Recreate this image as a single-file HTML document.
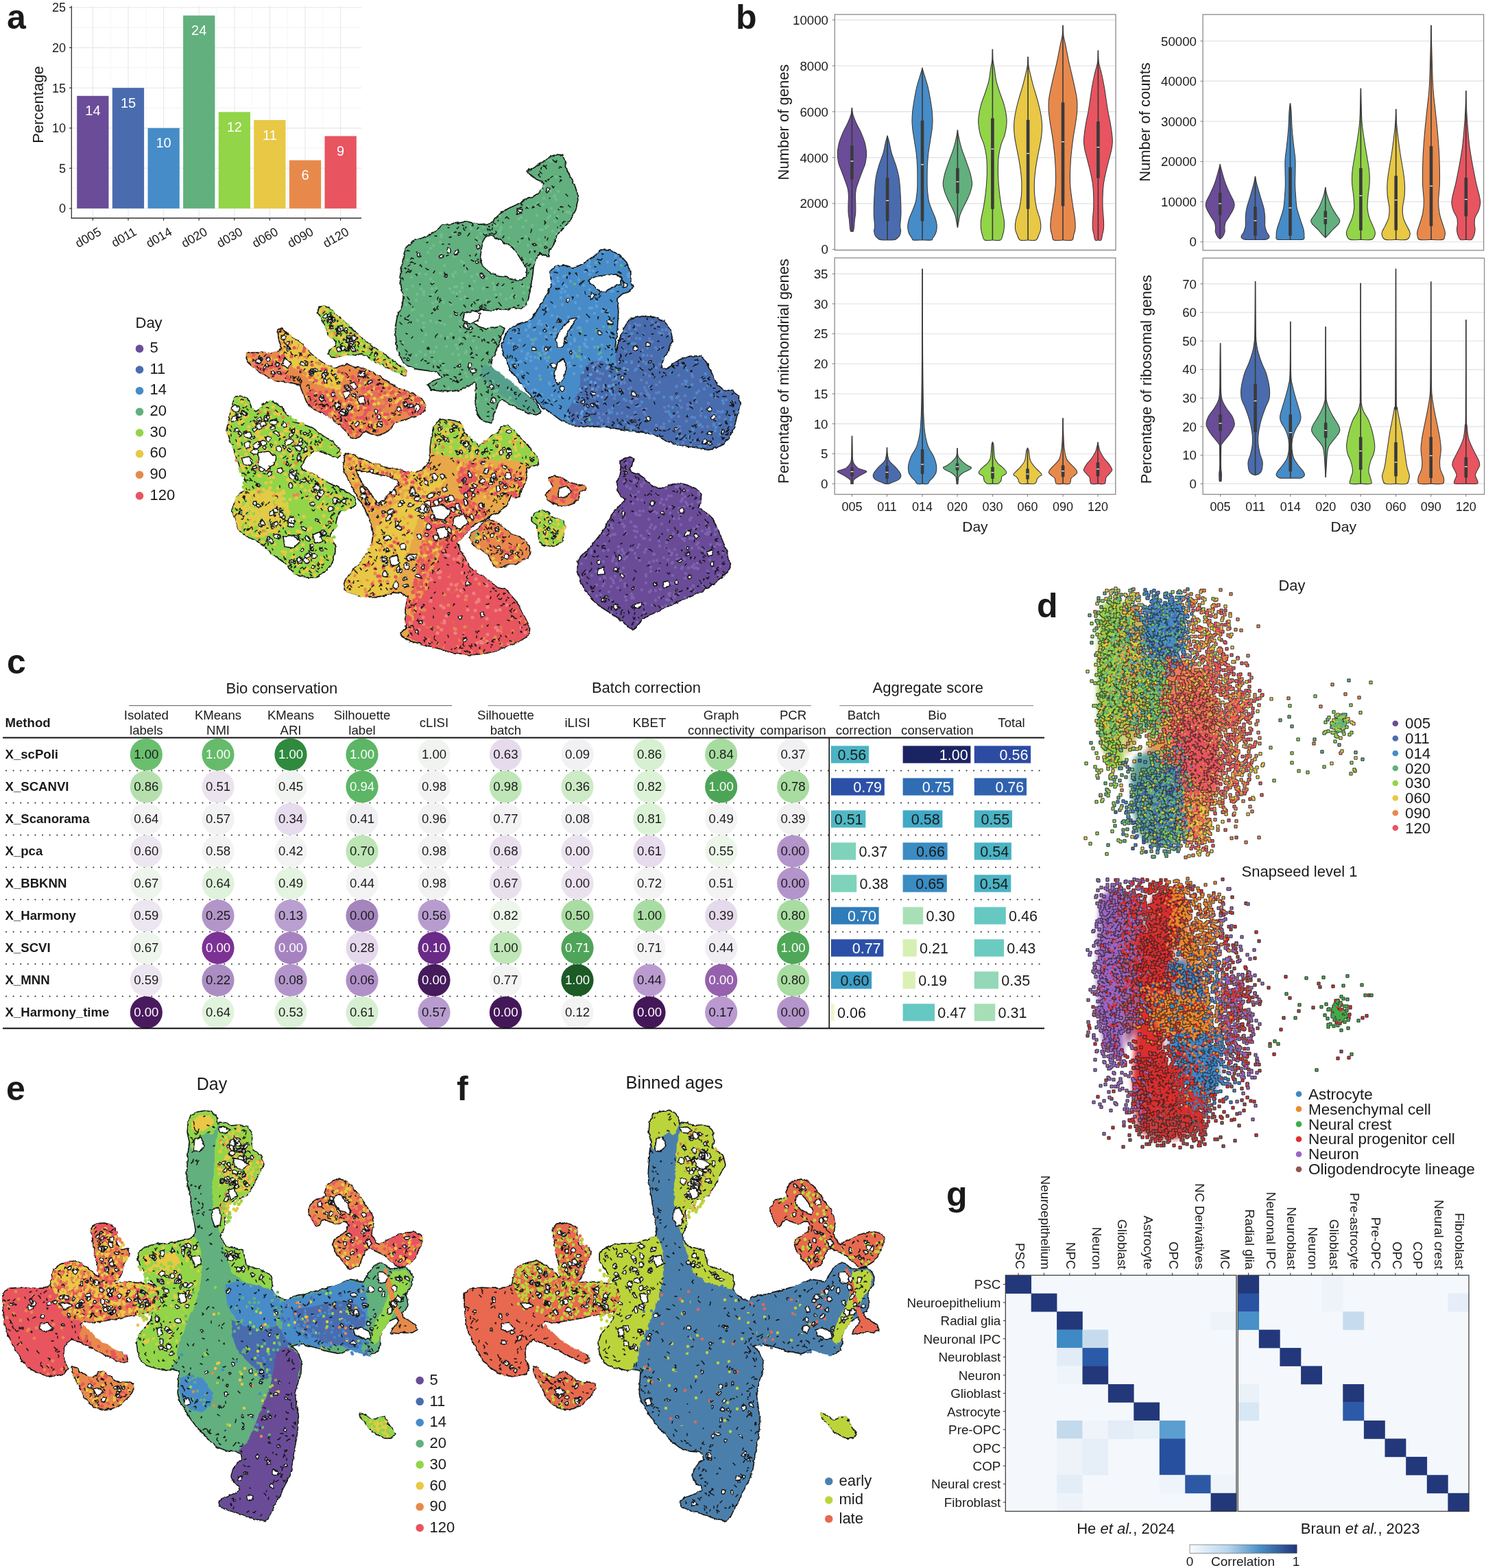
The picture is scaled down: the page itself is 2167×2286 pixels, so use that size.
<!DOCTYPE html>
<html><head><meta charset="utf-8"><title>Figure</title>
<style>html,body{margin:0;padding:0;background:#fff;} svg{display:block;} text{font-family:'Liberation Sans',Arial,sans-serif;}</style>
</head><body>
<svg xmlns="http://www.w3.org/2000/svg" width="2167" height="2286" viewBox="0 0 2167 2286">
<rect width="2167" height="2286" fill="#ffffff"/>
<defs><filter id="rgh" x="-5%" y="-5%" width="110%" height="110%"><feTurbulence type="fractalNoise" baseFrequency="0.15" numOctaves="2" seed="3" result="n"/><feDisplacementMap in="SourceGraphic" in2="n" scale="4" xChannelSelector="R" yChannelSelector="G"/></filter></defs>
<g filter="url(#rgh)">
<path d="M820 227l3 10 3 11 5 10 6 11 4 13 1 10-3 13-4 9-5 8-6 7-7 6-6 9-3 8-3 7-5 6-1 9-4-2-7-5-5 7-4 8-2 9-1 10-2 11-2 13-2 10-4 9-6 6-11-2-10 2-11 0-13 2-11-1-10 1-9 5-4 6 6 6 9 7 11 4 12-1 11-2 5 2-3 8-4 10-4 11-5 11-3 8-1 9 9 8 12 9 13 10 13 9 13 10 8 9 5 9-5 4-12-2-13-7-13-6-13-7-6 5-3 8-4 9-2 12-13-3-7-10-3-15 1-17 0-13-8-8-12 7-11 8-18 5-17-3-4-6 10-6 11-4-8-9-12-2-20-3-14-6-9-12-4-17-2-23 3-17 7-15 2-14-3-14-2-15 3-17 3-17 3-9 10-9 15-5 17-9 11-9 15-2 20-3 17 4 17-1 7-7 8-8 11-7 13-6 12-7 11-4 9-6 6-7 2-8-6-4-5-2-6-5-6-4-1-3 7-3 9-5 8-6 9-6 8-3zM877 365l13 1 13 6 10 11 6 14 0 14 3 7-4 6-11 4-8 7 2 20-2 32-3 21 7 17 17 11-39 56-25 25-18 3-7-3-13-5-13-10-15-10-10-11-9-9-9-11-8-11-9-10-4-13-5-8-4-15 4-11 5-11 8-6 13-4 9-3 8-8 7-11 6-10 8-13 5-15-2-17 10-7 13 0 9 3 10-3 11-6 11-8zM914 473l7-8 16-3 17 1 14 6 9 11 3 16-6 15-7 12-4 13 9 3 10-8 10-6 15-5 15 0 8 8 8 18 7 15 10 8 13 2 8 7 3 9-5 20-4 15-7 15-8 10-10 5-12 2-16-2-15-2-15-3-15-5-15-8-15-4-21-3-17-2-18-3-18-2-15 2-15-2-7-6-6-10 6-12 10-16 5-17 1-13 6-11 10-8 13-1 10 5 8 0 5-15 2-13 5-12 4-11zM906 672l5-3 8-2 5 3-3 7-3 8 3 5 11 3 10 7 10 10 10 3 15-5 13-3 12 3 13 5 7 7-1 13-4 8 11 5 10 10 5 10 5 10 5 13 5 12 4 13 2 12-4 8-7 5-8 8-10 7-13 8-15 7-12 5-13 6-13 5-12 7-10 3-10 7-8 8-5 7-5-2-8-8-7-5-10-7-13-8-10-7-10-11-8-10-6-12-4-15 0-13 5-8 8-7 7-8 8-10 8-10 7-13 5-10 8-10 7-7 8-8-8-5-5-10 0-10 3-10 2-11zM361 516l7-1 13 0 11 2 8-2 9-4 2-4-4-13-1-13 4-2 5 4 7 7 6 4 9 6 8 9 9 8 8 7 9 6 8 4 9 4 10-4 9-2 9 4 8 1 9 2 8 4 11 6 10 7 11 6 13 7 11 4 10 4 9 7 4 8-1 6-8 5-8 4-11 4-10 2-7 3-4 6-6 6-9 5-9 1-8-3-6-3-9 7-6 4-7-2-4-7-6-6-7-6-8-7-7-6-10-4-11-5-9-8-4-9-4-10-4-9-9-2-8-2-9-1-11-2-8-4-11-6-8-6-9-7-4-8zM466 448l7-1 6 2 5 4 6 7 8 6 9 9 9 8 8 7 9 8 8 7 11 6 8 6 9 7 8 6 9 6 6 5-1 5-6-1-8-4-8-4-9-5-8-4-9-4-8-7-9-2-8 2-9-2-8 2-9 3-8 0-5-5 5-6 6-4 2-7-8-6-5-4-2-9-4-8-4-9-5-6zM343 579l8-1 9 3 4 7 2 8 7 5 8-5 4-7 9-3 8 2 9 6 2 7 7 6 6 9 11 2 12 4 9 4 8 7 9 6 9 4 6 7 5 6 1 6-4 5-6-2-9-5-8-2-11-2-6 4-7 7-4 8-4 7 4 4 13 4 10 7 11 6 13 6 10 5 11 6 7 6 2 9-5 4-8 2-9 2-4 7-2 8-2 9-4 8-3 7 3 6 4 9 0 8-4 9-5 8 2-21 5 15-10 15-15 10-15 0-15-5-10-10-10-10-15-10-16-15-20-10-12-10-5-15-4-13 4-10 4-9 9-8 4-11-4-13-5-10-4-11-4-11-2-10-5-9-4-13 2-10 2-13 3-13zM504 662l9 2 10 4 11 4 9 5 10 2 9 4 8 1 11 1 13 5 13 0 12-7 9-13 0-17 2-15 4-15 7-10 8-1 13 2 9 3 4 11 6 8 7 7 10 8 11-6 6-7 11-6 6-9 9-2 6 5 5 6 8 9 9 8 8 11 7 8 0 9-9 2-8 4 1 11-3 10-6 9-2 10-5 2-7-5-3 8-3 8-7 5-6 6-11 4-10 7-13 6-9 7-6 8-6 7-7 3 7 14 6 10 6 13 9 9 13 6 10 8 11 9 11 2 8 9 7 8 6 11 6 11 5 10 3 13-5 6-11 7-11 4-10 4-11 5-13 3-13 2-15 1-12-2-15-2-15-5-15-4-15-4-15-4-9-5-2-6 7-4 2-9-2-10 0-11 2-11 2-8-11-5-13-1-8 4-13 2-13 0-12-1-13-4-9-4-2-8 4-9 7-8 8-9 9-9 4-8 7-9 2-8 2-13-2-13-5-12-8-18-11-17-10-19-7-15 0-15zM688 777l8-4 9-11 8-4 11 4 11 9 10 8 11 4 8 5 7 8 2 9-4 8-9 4-8 5-9 0-8 4-9 0-6-2-3-7-4-8-8-6-9-5-6-6-4-9zM801 697l8-2 11 3 10 6 11 3 11 2 2 4-9 3-2 10-6 6-11 4-10 0-11-4-6-4-3-6 7-7 4-6-4-7zM781 749l9-4 9 2 4 7 8 2 9 4 3 8-2 11-1 9-9 6-10 1-9-1-5-6-1-11-2-11-7-7 0-5zM626 561l8-4 13-3 13-1 12-5 13-4 9-4 6 4-4 9-11 8-15 7-15 2-14-1-13-3z" fill="#161616" stroke="#161616" stroke-width="3.4" stroke-linejoin="round"/>
<path d="M820 227l3 10 3 11 5 10 6 11 4 13 1 10-3 13-4 9-5 8-6 7-7 6-6 9-3 8-3 7-5 6-1 9-4-2-7-5-5 7-4 8-2 9-1 10-2 11-2 13-2 10-4 9-6 6-11-2-10 2-11 0-13 2-11-1-10 1-9 5-4 6 6 6 9 7 11 4 12-1 11-2 5 2-3 8-4 10-4 11-5 11-3 8-1 9 9 8 12 9 13 10 13 9 13 10 8 9 5 9-5 4-12-2-13-7-13-6-13-7-6 5-3 8-4 9-2 12-13-3-7-10-3-15 1-17 0-13-8-8-12 7-11 8-18 5-17-3-4-6 10-6 11-4-8-9-12-2-20-3-14-6-9-12-4-17-2-23 3-17 7-15 2-14-3-14-2-15 3-17 3-17 3-9 10-9 15-5 17-9 11-9 15-2 20-3 17 4 17-1 7-7 8-8 11-7 13-6 12-7 11-4 9-6 6-7 2-8-6-4-5-2-6-5-6-4-1-3 7-3 9-5 8-6 9-6 8-3z" fill="#62b07e"/>
<path d="M877 365l13 1 13 6 10 11 6 14 0 14 3 7-4 6-11 4-8 7 2 20-2 32-3 21 7 17 17 11-39 56-25 25-18 3-7-3-13-5-13-10-15-10-10-11-9-9-9-11-8-11-9-10-4-13-5-8-4-15 4-11 5-11 8-6 13-4 9-3 8-8 7-11 6-10 8-13 5-15-2-17 10-7 13 0 9 3 10-3 11-6 11-8z" fill="#468cc8"/>
<path d="M914 473l7-8 16-3 17 1 14 6 9 11 3 16-6 15-7 12-4 13 9 3 10-8 10-6 15-5 15 0 8 8 8 18 7 15 10 8 13 2 8 7 3 9-5 20-4 15-7 15-8 10-10 5-12 2-16-2-15-2-15-3-15-5-15-8-15-4-21-3-17-2-18-3-18-2-15 2-15-2-7-6-6-10 6-12 10-16 5-17 1-13 6-11 10-8 13-1 10 5 8 0 5-15 2-13 5-12 4-11z" fill="#4a6cae"/>
<path d="M906 672l5-3 8-2 5 3-3 7-3 8 3 5 11 3 10 7 10 10 10 3 15-5 13-3 12 3 13 5 7 7-1 13-4 8 11 5 10 10 5 10 5 10 5 13 5 12 4 13 2 12-4 8-7 5-8 8-10 7-13 8-15 7-12 5-13 6-13 5-12 7-10 3-10 7-8 8-5 7-5-2-8-8-7-5-10-7-13-8-10-7-10-11-8-10-6-12-4-15 0-13 5-8 8-7 7-8 8-10 8-10 7-13 5-10 8-10 7-7 8-8-8-5-5-10 0-10 3-10 2-11z" fill="#6a4c98"/>
<path d="M361 516l7-1 13 0 11 2 8-2 9-4 2-4-4-13-1-13 4-2 5 4 7 7 6 4 9 6 8 9 9 8 8 7 9 6 8 4 9 4 10-4 9-2 9 4 8 1 9 2 8 4 11 6 10 7 11 6 13 7 11 4 10 4 9 7 4 8-1 6-8 5-8 4-11 4-10 2-7 3-4 6-6 6-9 5-9 1-8-3-6-3-9 7-6 4-7-2-4-7-6-6-7-6-8-7-7-6-10-4-11-5-9-8-4-9-4-10-4-9-9-2-8-2-9-1-11-2-8-4-11-6-8-6-9-7-4-8z" fill="#e8894c"/>
<path d="M466 448l7-1 6 2 5 4 6 7 8 6 9 9 9 8 8 7 9 8 8 7 11 6 8 6 9 7 8 6 9 6 6 5-1 5-6-1-8-4-8-4-9-5-8-4-9-4-8-7-9-2-8 2-9-2-8 2-9 3-8 0-5-5 5-6 6-4 2-7-8-6-5-4-2-9-4-8-4-9-5-6z" fill="#92d548"/>
<path d="M343 579l8-1 9 3 4 7 2 8 7 5 8-5 4-7 9-3 8 2 9 6 2 7 7 6 6 9 11 2 12 4 9 4 8 7 9 6 9 4 6 7 5 6 1 6-4 5-6-2-9-5-8-2-11-2-6 4-7 7-4 8-4 7 4 4 13 4 10 7 11 6 13 6 10 5 11 6 7 6 2 9-5 4-8 2-9 2-4 7-2 8-2 9-4 8-3 7 3 6 4 9 0 8-4 9-5 8 2-21 5 15-10 15-15 10-15 0-15-5-10-10-10-10-15-10-16-15-20-10-12-10-5-15-4-13 4-10 4-9 9-8 4-11-4-13-5-10-4-11-4-11-2-10-5-9-4-13 2-10 2-13 3-13z" fill="#92d548"/>
<path d="M504 662l9 2 10 4 11 4 9 5 10 2 9 4 8 1 11 1 13 5 13 0 12-7 9-13 0-17 2-15 4-15 7-10 8-1 13 2 9 3 4 11 6 8 7 7 10 8 11-6 6-7 11-6 6-9 9-2 6 5 5 6 8 9 9 8 8 11 7 8 0 9-9 2-8 4 1 11-3 10-6 9-2 10-5 2-7-5-3 8-3 8-7 5-6 6-11 4-10 7-13 6-9 7-6 8-6 7-7 3 7 14 6 10 6 13 9 9 13 6 10 8 11 9 11 2 8 9 7 8 6 11 6 11 5 10 3 13-5 6-11 7-11 4-10 4-11 5-13 3-13 2-15 1-12-2-15-2-15-5-15-4-15-4-15-4-9-5-2-6 7-4 2-9-2-10 0-11 2-11 2-8-11-5-13-1-8 4-13 2-13 0-12-1-13-4-9-4-2-8 4-9 7-8 8-9 9-9 4-8 7-9 2-8 2-13-2-13-5-12-8-18-11-17-10-19-7-15 0-15z" fill="#e8a848"/>
<path d="M688 777l8-4 9-11 8-4 11 4 11 9 10 8 11 4 8 5 7 8 2 9-4 8-9 4-8 5-9 0-8 4-9 0-6-2-3-7-4-8-8-6-9-5-6-6-4-9z" fill="#e8894c"/>
<path d="M801 697l8-2 11 3 10 6 11 3 11 2 2 4-9 3-2 10-6 6-11 4-10 0-11-4-6-4-3-6 7-7 4-6-4-7z" fill="#e8894c"/>
<path d="M781 749l9-4 9 2 4 7 8 2 9 4 3 8-2 11-1 9-9 6-10 1-9-1-5-6-1-11-2-11-7-7 0-5z" fill="#92d548"/>
<path d="M626 561l8-4 13-3 13-1 12-5 13-4 9-4 6 4-4 9-11 8-15 7-15 2-14-1-13-3z" fill="#62b07e"/>
<path d="M407 483l13 5 17 12 17 17 17 13 21 9 9 10-5 17-17 0-21-8-17-13-15-13-11-12-4-20z" fill="#e8c845"/>
<path d="M449 571l13-2 17 8 17 11 11 13 2 17 4 15-12-9-15-13-17-10-13-7-8-10z" fill="#e8545f"/>
<path d="M575 575l19-2 17 6 8 13-3 9-17 6-13-6-9-13z" fill="#e8545f"/>
<path d="M518 549l21 0 21 13 9 17-9 17-17 5-17-9-8-17z" fill="#e2705a"/>
<path d="M343 724l19-8 21-2 22 4 15 11 2 21-7 17-15 13-17 4-21-4-15-9-6-21z" fill="#d9d048"/>
<path d="M502 856l11-21 17-20 13-23 6-21 11-22 15-13 15-12 17-13 17-11 15-6 10 0-4 13-13 12-13 17-8 18-7 17-4 17-4 17-6 17-9 17-11 17-10 11-17 2-22-1-15-5z" fill="#e8c845"/>
<path d="M628 653l2-15 4-15 7-10 8-1 13 2 9 3 4 11 6 8 7 7 10 8-6 11-11 6-15 0-17-4-13-2z" fill="#a8d248"/>
<path d="M698 651l11-6 6-7 11-6 6-9 9-2 6 5 5 6 8 9 9 8 8 11 7 8 0 9-9 2-19-7-21-4-22 0-10-4z" fill="#92d548"/>
<path d="M668 685l13-4 15 9 2 17-6 15-11 4-10-7-4-17z" fill="#e8545f"/>
<path d="M698 681l26-2 21 4 19 7 1 12-7 11-13 4-21 2-21-4z" fill="#eb9a4c"/>
<path d="M619 728l30-4 26 4 28 8 10 13-21 13-17 21-13 9-13 0-13 13-8 21-9 21-8 15-11 5 7-32 8-43 4-30z" fill="#e8704f"/>
<path d="M649 790l9-2 6 4 7 11 6 10 6 13 9 9 13 6 10 8 11 9 11 2 8 9 7 8 6 11 6 11 5 10 3 13-5 6-11 7-11 4-10 4-11 5-13 3-13 2-15 1-12-2-15-2-15-5-15-4-15-4-13-7 4-21 9-32 13-21 8-26 9-21z" fill="#e8545f"/>
<path d="M688 777l8-4 4 6-2 13-6 0-6-9z" fill="#8fbf5a"/>
<path d="M803 762l13 0 5 13-5 13-11-5z" fill="#d6cd48"/>
<path d="M702 531l17 5 22 17 21 17 19 17 7 13-17 2-22-15-21-13-17-13-9-13z" fill="#55a08c"/>
</g>
<path d="M471 449h0m-3 6h0m3-1h0m2-4h0m0 8h0m1-4h0m2 1h0m1 3h0m2-4h0m3 4h0m0-4h0m3 1h0m-15 5h0m1 2h0m3-1h0m2-1h0m2 7h0m3-2h0m5 1h0m0 1h0m2 1h0m1-5h0m0 4h0m1-5h0m2 6h0m5 1h0m2 0h0m-23 8h0m0-1h0m3 0h0m16 2h0m5 1h0m1-9h0m6 4h0m-27 7h0m2 2h0m0 5h0m2-1h0m2-4h0m6 0h0m1-1h0m0 7h0m2-5h0m1 3h0m3-1h0m0-1h0m2-4h0m1 5h0m6 1h0m7 2h0m4-1h0m-29 2h0m2 0h0m10 2h0m1 2h0m4 5h0m3-6h0m0 2h0m2 1h0m5-3h0m1 4h0m0-3h0m12 3h0m-36 12h0m0-7h0m1 2h0m1-2h0m1 0h0m13 3h0m3 4h0m0-6h0m4-3h0m0 3h0m1 0h0m3 4h0m4-3h0m2-1h0m3 0h0m2 4h0m1-2h0m3 0h0m1-1h0m0-1h0m1 5h0m0-2h0m-54 7h0m0 3h0m2-5h0m1 3h0m3-1h0m5-3h0m1 7h0m6-7h0m8 5h0m2 0h0m1-4h0m7 1h0m2-1h0m10 4h0m2-2h0m5-2h0m5 2h0m0-3h0m1 0h0m4 5h0m2-2h0m0 3h0m1 2h0m3-4h0m-13 9h0m1 1h0m5-1h0m2-2h0m2 1h0m2-1h0m1 1h0m5 5h0m0 0h0m9-2h0m0 2h0m-14 3h0m8 2h0m5-1h0m2 2h0m0-2h0m3 8h0m1-6h0m1-3h0m3 9h0m2 0h0m2-1h0m3 0h0m0 0h0m2-1h0m1 1h0m-8 3h0m2 1h0m5-2h0m2 3h0m0-2h0m0 1h0m1-1h0m-247 41h0m2 7h0m5-4h0m8 3h0m0 0h0m4 0h0m32-2h0m-50 12h0m1-4h0m1 4h0m0-6h0m3-1h0m1 0h0m0-1h0m1 7h0m3-4h0m2 0h0m3 6h0m1-2h0m0 2h0m1-4h0m7 2h0m12-1h0m5-3h0m2 5h0m9-1h0m5-1h0m3 2h0m-66 2h0m1 8h0m3-6h0m0 3h0m2 4h0m3-4h0m2-4h0m5 3h0m14 4h0m0-3h0m1-2h0m7 6h0m6-3h0m5 3h0m1-1h0m6-8h0m2 4h0m0 1h0m1-4h0m2 7h0m0-4h0m1 0h0m3-3h0m1 7h0m3-4h0m2 3h0m1-7h0m4 5h0m9 3h0m-82 10h0m2 0h0m1-4h0m6 0h0m1-2h0m4 6h0m2-4h0m3 0h0m1 2h0m3 2h0m1-5h0m1-1h0m2 5h0m3-1h0m0 3h0m7-6h0m13-3h0m0 0h0m5 5h0m9 1h0m0-6h0m1 1h0m6 4h0m0-4h0m2 1h0m4 3h0m0 4h0m6-4h0m2-3h0m5 1h0m10 5h0m203 1h0m-306 6h0m1-3h0m0 5h0m5-3h0m2 1h0m2 2h0m1-1h0m2-6h0m3 1h0m5 4h0m3-5h0m1 5h0m6 3h0m6-1h0m2 2h0m1-5h0m3-2h0m4 2h0m4 1h0m1-3h0m0 5h0m3-5h0m10 7h0m5-4h0m1-5h0m1 5h0m3 1h0m1 3h0m2-9h0m3 1h0m0 7h0m1 1h0m1 0h0m8-4h0m3-2h0m5 6h0m3-3h0m2-6h0m1 4h0m197-1h0m7-3h0m0 1h0m2 8h0m0-9h0m2 9h0m0 0h0m1-5h0m1-4h0m5 5h0m5-5h0m3 4h0m5-1h0m2-1h0m59 7h0m5-3h0m9 1h0m-413 4h0m0-1h0m11 7h0m2 0h0m3 0h0m0-6h0m1 7h0m4-6h0m0 1h0m6 0h0m2 3h0m5-3h0m8 0h0m6 3h0m3 0h0m13 2h0m2-8h0m1 2h0m5 1h0m4 1h0m4-2h0m3 0h0m2 3h0m3 0h0m0 0h0m3 1h0m4 3h0m3-2h0m2 0h0m1 1h0m6-7h0m4 0h0m1 8h0m6-1h0m6-1h0m0-4h0m6 6h0m171-8h0m1 7h0m3 0h0m7-2h0m6-5h0m2 5h0m1-5h0m2 8h0m3-5h0m2 3h0m3-4h0m5-1h0m1-1h0m1 7h0m1-2h0m12 2h0m38-1h0m1-3h0m12 4h0m1-5h0m3 5h0m0 1h0m5-9h0m3 3h0m4-2h0m-412 14h0m9-5h0m3 2h0m1 2h0m4-4h0m6 8h0m2 1h0m2-3h0m2-2h0m3 3h0m5-4h0m3-3h0m1 1h0m4 8h0m4-4h0m2 0h0m6-5h0m8 6h0m7-2h0m0 2h0m1-5h0m5 4h0m1-1h0m2-1h0m1-3h0m2 7h0m2 1h0m2-7h0m0 1h0m1 1h0m8-3h0m10 8h0m2-8h0m0 4h0m5 1h0m6 0h0m4 2h0m1-7h0m1 3h0m0 6h0m3 0h0m1-2h0m0-4h0m0 0h0m4-1h0m1-1h0m0 4h0m6 1h0m153-4h0m1-1h0m7 4h0m2 3h0m2-1h0m6-1h0m2-5h0m3-1h0m7 8h0m3-7h0m8 6h0m5-4h0m11 5h0m2-3h0m11 4h0m5-5h0m1 4h0m4-7h0m5 5h0m5-2h0m9-2h0m0 7h0m9-5h0m4 3h0m5-6h0m6 3h0m3 0h0m3 5h0m-421 2h0m0 1h0m4 1h0m6-3h0m1 3h0m0 1h0m13 1h0m1-2h0m2-3h0m1 5h0m4 2h0m4-6h0m3 6h0m2-7h0m2 6h0m3 1h0m3-3h0m7-4h0m5 7h0m5-1h0m3-6h0m3 5h0m4-4h0m6 6h0m1-6h0m23 1h0m9-1h0m3 1h0m0 0h0m2 1h0m3 2h0m1-1h0m1-2h0m1 1h0m1 1h0m11-4h0m0 8h0m2-5h0m0 3h0m3-5h0m149 5h0m1 2h0m8-5h0m1-3h0m1 8h0m3-2h0m8-4h0m5-1h0m3 2h0m2-2h0m3 5h0m3-5h0m0 0h0m4 7h0m6-4h0m17 3h0m20-7h0m2 8h0m3-1h0m1-3h0m3 2h0m3-2h0m2 0h0m4-1h0m2 0h0m4-1h0m6 5h0m2 0h0m1-7h0m16 4h0m0 0h0m4 5h0m1-1h0m-422 3h0m8 2h0m7 3h0m0-6h0m6 7h0m5-6h0m25 0h0m10 8h0m0-1h0m1-2h0m0 0h0m10-3h0m9-2h0m1 3h0m7 1h0m4-2h0m3-3h0m40 0h0m2 1h0m5 1h0m0-2h0m157 2h0m5-2h0m1 1h0m3 0h0m8 5h0m5-2h0m1-3h0m1 4h0m1-3h0m7 0h0m4 6h0m3-7h0m2-1h0m0 4h0m3-2h0m6 0h0m2 4h0m0-4h0m6 3h0m2 0h0m4-4h0m1 2h0m3 5h0m1 0h0m2-3h0m2-4h0m1 8h0m1-1h0m0-7h0m2 0h0m1 8h0m8-3h0m6 0h0m5 2h0m6 0h0m17-7h0m5-1h0m5 5h0m-428 11h0m0-4h0m48 6h0m1 1h0m2-4h0m1 1h0m3-6h0m4 7h0m1 1h0m2-2h0m5-4h0m0 1h0m1 2h0m1-2h0m0-2h0m1 6h0m2-1h0m0-5h0m1 7h0m3-8h0m2 4h0m3 3h0m331-5h0m4-1h0m15 0h0m-433 12h0m1 4h0m3-6h0m4-1h0m2 3h0m0 4h0m0-3h0m3 3h0m2 2h0m8-1h0m0-5h0m7 2h0m7 2h0m8-3h0m2 5h0m2-9h0m1 4h0m2 2h0m1 2h0m1-1h0m4-1h0m5-6h0m0 4h0m3 5h0m3-7h0m2 2h0m13-4h0m0 1h0m1 4h0m1-3h0m-82 11h0m5 2h0m3 3h0m10-5h0m1 3h0m0-3h0m2 5h0m1-5h0m5 2h0m4-4h0m1 3h0m3-1h0m5 3h0m3 2h0m3 1h0m1-5h0m1 2h0m12-6h0m1 6h0m2 2h0m1-8h0m2 6h0m5 2h0m4-4h0m2-1h0m1 2h0m4 2h0m6-7h0m2 1h0m2 3h0m0 4h0m14-2h0m-104 8h0m1 5h0m2-3h0m10 2h0m10-1h0m2-3h0m1 4h0m2-4h0m1 2h0m1-5h0m8 2h0m3 4h0m18-2h0m10 3h0m14-2h0m4 2h0m2-8h0m1 1h0m2 5h0m7 3h0m1-7h0m2 4h0m1 3h0m1-7h0m0 2h0m0 3h0m1-3h0m2 0h0m4-2h0m1 0h0m1 6h0m4-6h0m-118 8h0m3 4h0m2-2h0m8 0h0m14 2h0m1-1h0m0 6h0m2-7h0m4 0h0m3 3h0m7-2h0m0 5h0m2-7h0m0 2h0m1 0h0m2 5h0m13-8h0m1 9h0m0-9h0m5 3h0m3 5h0m2-3h0m1-3h0m3 3h0m15-4h0m1 0h0m0 5h0m1-2h0m5-1h0m5-3h0m7 0h0m13 1h0m1-1h0m-133 15h0m17 1h0m2-1h0m1 0h0m13-4h0m16 0h0m3 2h0m5 4h0m5-4h0m1-1h0m9 7h0m22-9h0m1 0h0m6 2h0m2 3h0m0 2h0m9-1h0m5-3h0m5-2h0m2 2h0m0-2h0m6 6h0m2-1h0m1 0h0m5 0h0m1 3h0m3-8h0m-140 16h0m3-1h0m2 0h0m1-2h0m3-4h0m0 9h0m8-3h0m4 1h0m2 1h0m3-4h0m1 3h0m1 0h0m0-7h0m0 0h0m6 3h0m15-1h0m2 0h0m1 1h0m13-1h0m24 0h0m7 4h0m0-2h0m3-2h0m1-1h0m0 6h0m2-1h0m1 1h0m2-3h0m4 0h0m9 1h0m5 3h0m7 0h0m1-2h0m5-1h0m9 1h0m0 0h0m2 2h0m3-8h0m11 2h0m-169 12h0m5-1h0m15 6h0m2-4h0m7 4h0m8-4h0m20 2h0m13 2h0m2-7h0m4 2h0m4 1h0m54-5h0m5 0h0m2 4h0m4-1h0m1 0h0m3 5h0m1-7h0m7 1h0m2 0h0m2 1h0m2-1h0m1-1h0m279 8h0m6-3h0m-443 13h0m15 0h0m6-1h0m14-1h0m21-2h0m1 3h0m0 0h0m8 0h0m1 0h0m3-8h0m2 9h0m8-5h0m4 0h0m25 2h0m2-4h0m10 2h0m11 1h0m7-2h0m3 0h0m291 1h0m0 2h0m3-6h0m1 8h0m10-3h0m0 2h0m4 1h0m0-5h0m3 4h0m0 1h0m1-5h0m0 2h0m10 4h0m3 0h0m1 0h0m-463 4h0m2 6h0m2-3h0m2-2h0m3 4h0m8-6h0m2-2h0m3 8h0m1-2h0m4-3h0m0 1h0m11 2h0m1-2h0m0-2h0m1 2h0m4-4h0m3 2h0m3 0h0m6 1h0m2 4h0m2-2h0m0-1h0m2-2h0m8 7h0m12-3h0m4 3h0m1-8h0m0-1h0m1 0h0m7 9h0m2-6h0m0 3h0m5-2h0m12 3h0m6-5h0m1 0h0m4 3h0m4 0h0m1-2h0m6 6h0m1-2h0m1-1h0m290-6h0m8 2h0m0 4h0m3-2h0m4-4h0m10 5h0m5-4h0m0 6h0m6 1h0m3-8h0m0 9h0m0-9h0m0 4h0m4 5h0m-469 2h0m1 4h0m5-1h0m0 5h0m2-7h0m2 7h0m7-3h0m1-5h0m7 4h0m3 4h0m2-2h0m4-3h0m3-4h0m4 9h0m7-1h0m4-5h0m4-3h0m4 3h0m3 3h0m9-1h0m3 3h0m0 0h0m11-1h0m3-5h0m11 0h0m15 5h0m1-7h0m2 8h0m4-7h0m1-1h0m312 9h0m0-4h0m1-5h0m3 2h0m1 6h0m1 0h0m18-4h0m0 3h0m3 0h0m-436 6h0m1-2h0m0 0h0m6 5h0m2-6h0m0 6h0m10-6h0m0 5h0m5-1h0m8-2h0m1 3h0m20 0h0m10-4h0m2 0h0m6 2h0m0 4h0m4 0h0m22 1h0m4-1h0m2-2h0m4-2h0m301 4h0m11 2h0m4-8h0m2 0h0m8-1h0m7 0h0m-439 10h0m11 7h0m2-1h0m10 0h0m2 3h0m29 0h0m1-5h0m2 5h0m2-4h0m5-1h0m7-3h0m1 4h0m2 4h0m1-8h0m1 2h0m1 1h0m8 2h0m3-3h0m1 2h0m3-4h0m5 1h0m2 1h0m329-1h0m-417 8h0m6 7h0m0-3h0m2-2h0m0 2h0m1-1h0m1-3h0m4 0h0m5 5h0m3 3h0m7-6h0m1 4h0m12-4h0m5 3h0m1 1h0m2 0h0m7-1h0m12-5h0m1 9h0m7-6h0m1 2h0m1 1h0m13 0h0m-75 6h0m4-2h0m6 9h0m1-3h0m7-1h0m4 1h0m1 0h0m0-4h0m1 7h0m3-3h0m1-2h0m0-3h0m2 6h0m2-1h0m0-6h0m2 8h0m1-4h0m0 0h0m3 5h0m8-1h0m2 0h0m13-4h0m-49 9h0m12 2h0m6-4h0m4 1h0m1 1h0m27-3h0m-41 15h0m4-3h0m1-1h0m10-1h0m1 4h0m7 0h0m0 0h0m6 6h0" stroke="#92d548" stroke-width="5.2" stroke-linecap="round"/>
<path d="M470 454h0m12 25h0m6 7h0m23 2h0m7 0h0m-108 3h0m1-1h0m1 3h0m8 4h0m2 2h0m-8 9h0m0-8h0m4 1h0m6 0h0m10 1h0m0 4h0m2 2h0m60 1h0m16-5h0m27 4h0m-178 9h0m11 0h0m3 1h0m5-3h0m0 1h0m1 3h0m5-4h0m6 1h0m1 2h0m0 1h0m5-2h0m1-1h0m0 1h0m2-2h0m4 4h0m0-2h0m4-2h0m8 4h0m7-8h0m1 7h0m1 1h0m1-7h0m0 0h0m4 3h0m4-5h0m2 5h0m5-5h0m6 8h0m43 1h0m28-7h0m-155 8h0m0 2h0m1 2h0m4 5h0m1-6h0m1 2h0m2-4h0m1 7h0m3-2h0m8 0h0m1 3h0m1 0h0m1-5h0m0 3h0m1 2h0m1-5h0m5-4h0m1 9h0m1-6h0m1 1h0m1-2h0m0 1h0m10 0h0m1 4h0m0-4h0m3 1h0m21-3h0m10 0h0m4 0h0m4 6h0m10 1h0m88-1h0m11-1h0m-192 7h0m1-1h0m4 4h0m2-2h0m2-3h0m1 8h0m3-4h0m2-4h0m12 7h0m1-7h0m3 5h0m1 3h0m6-9h0m1 5h0m0-3h0m7 3h0m2 3h0m16-3h0m15-3h0m8 5h0m1 0h0m9-7h0m8 3h0m2 6h0m1-5h0m3 3h0m2 0h0m32 1h0m9 0h0m48-1h0m7 0h0m-193 4h0m0-1h0m1 3h0m4-2h0m1 5h0m1-4h0m2 6h0m2 1h0m0 0h0m0-6h0m2 5h0m0-6h0m1-1h0m0 4h0m1 2h0m1-2h0m3 1h0m0 3h0m1-7h0m0 1h0m1-1h0m1 7h0m0-3h0m2-4h0m5-2h0m2 3h0m3 0h0m0 3h0m5 2h0m14-8h0m4 3h0m3 2h0m12-2h0m6 5h0m7 0h0m12 1h0m17-1h0m6 0h0m17 1h0m6-9h0m2 3h0m0 2h0m3-2h0m2-2h0m4 7h0m1 1h0m2-5h0m2 5h0m6 0h0m41-7h0m-192 9h0m1 1h0m2 1h0m5-2h0m1 2h0m3 0h0m7-3h0m0 5h0m3-4h0m0 3h0m0 1h0m37-4h0m2 7h0m3-5h0m4-2h0m6 2h0m6-3h0m18 1h0m1 8h0m6-1h0m10-3h0m6 2h0m6-2h0m10-2h0m2-2h0m2 3h0m2-2h0m0 0h0m5-1h0m9 5h0m-85 13h0m3-2h0m4 0h0m1-6h0m6 4h0m0-5h0m0 8h0m2 1h0m12-3h0m7 3h0m2-3h0m1-1h0m0 2h0m3 0h0m1-2h0m4 2h0m1-4h0m0 2h0m5 2h0m2-4h0m5-1h0m2 3h0m2-2h0m10 1h0m0-2h0m2 4h0m2 2h0m1-2h0m2-2h0m1-2h0m1 7h0m10-2h0m1-5h0m1 1h0m9 5h0m12 1h0m-139 1h0m1 3h0m2 5h0m6-8h0m4 9h0m5-9h0m6 5h0m6-5h0m5 6h0m9-2h0m4 2h0m5-3h0m1 1h0m6-4h0m9 8h0m4-2h0m1-4h0m2 7h0m2-6h0m0 1h0m5 3h0m6-3h0m2 5h0m16-7h0m5 1h0m1-3h0m4 4h0m2 2h0m3 3h0m2-4h0m2 4h0m5-8h0m1 0h0m3 1h0m5 0h0m1 7h0m2-1h0m4-5h0m1 6h0m1 0h0m1-3h0m-148 6h0m13 5h0m1 2h0m2-8h0m2 6h0m6 1h0m6-8h0m3 2h0m1 1h0m3 4h0m5-5h0m3 5h0m3-1h0m6 1h0m2-5h0m3 6h0m2-3h0m2 2h0m4 2h0m1-4h0m2-4h0m3 7h0m16-3h0m3-4h0m10 1h0m1 5h0m1-5h0m2-1h0m3 7h0m0-1h0m0-1h0m1 1h0m13-5h0m5 7h0m4-8h0m6-1h0m1 5h0m1-5h0m2 9h0m3 0h0m3-8h0m2 2h0m2-1h0m4 6h0m3-6h0m1-1h0m-207 18h0m57-6h0m2-2h0m3 6h0m2-7h0m6 4h0m0 5h0m1-1h0m10-7h0m4 2h0m4 1h0m6-4h0m3 3h0m3 0h0m7-3h0m0 5h0m3-4h0m3 5h0m2 2h0m1-2h0m3-2h0m1-2h0m0 4h0m0 1h0m0 0h0m5-2h0m2-2h0m3-1h0m19 5h0m8 1h0m4-2h0m5 1h0m15-7h0m11 1h0m2 8h0m8-5h0m1 1h0m3 2h0m1-3h0m9-3h0m-240 10h0m14 0h0m20 7h0m68-5h0m0 4h0m1 0h0m3-7h0m5 6h0m1-3h0m6 1h0m1-1h0m3 4h0m3 0h0m1-7h0m2 4h0m6 5h0m1-8h0m5 1h0m6-1h0m2 3h0m5 4h0m0-2h0m6-2h0m2 3h0m2-5h0m1 4h0m0-1h0m6 4h0m1-6h0m6 1h0m2 4h0m5 0h0m5-3h0m6-4h0m2 3h0m6 4h0m2-6h0m2 0h0m1 1h0m1-1h0m3 2h0m1 2h0m0-3h0m12 1h0m2 0h0m1 0h0m-187 14h0m69-8h0m3 5h0m0-4h0m5 3h0m7-2h0m1 1h0m3 6h0m1-7h0m0-1h0m13 3h0m5 1h0m4 3h0m4-3h0m10 0h0m6 1h0m0 1h0m6 2h0m1-2h0m4-5h0m1-2h0m0 8h0m6-6h0m1 1h0m5 1h0m6-1h0m79 4h0m-274 6h0m10-2h0m106-1h0m5 9h0m1-7h0m5 4h0m1 2h0m29-2h0m1-3h0m0 1h0m4-3h0m1 2h0m6-2h0m1 4h0m5 2h0m5-6h0m73 4h0m32 3h0m-155 8h0m35-6h0m126 7h0m-295 12h0m48-3h0m205 1h0m42-7h0m30 4h0m41 0h0m15 5h0m-311 4h0m194-1h0m24 6h0m8-3h0m-298 5h0m126 6h0m8 1h0m164-3h0m52-2h0m-385 9h0m30 2h0m40 2h0m17 0h0m77 2h0m8-4h0m6 1h0m11 2h0m14 1h0m119-1h0m5 1h0m2 2h0m1-3h0m6 2h0m19-5h0m3 5h0m0-6h0m1-2h0m11 7h0m18 0h0m-358 7h0m16 2h0m135-2h0m10 1h0m3 0h0m10 2h0m7 0h0m7 0h0m55 0h0m56-5h0m4 7h0m3-4h0m5 2h0m5-7h0m1 5h0m5 3h0m3 0h0m7-1h0m9-4h0m2-2h0m7 5h0m3-6h0m3 7h0m6-7h0m4 2h0m1 3h0m-227 5h0m1 6h0m4 1h0m55-7h0m4 8h0m0-3h0m7-1h0m3 5h0m4-4h0m3 2h0m7 0h0m2 1h0m13-7h0m1 6h0m26 2h0m27-7h0m9 7h0m3-8h0m13 1h0m6 4h0m8 1h0m2 0h0m4-7h0m11 4h0m3 5h0m1-1h0m9-1h0m4-5h0m15 6h0m3 0h0m46 0h0m-290 9h0m4 0h0m5 2h0m54-2h0m6 0h0m12 1h0m2-5h0m19 2h0m2 2h0m49-1h0m2-1h0m0-2h0m1 2h0m1 4h0m0-3h0m1-4h0m18 3h0m1-3h0m3 4h0m5-2h0m1-4h0m3 0h0m6 8h0m1-2h0m5 3h0m6-7h0m3-1h0m1 3h0m7-2h0m0 4h0m2 2h0m3-4h0m3 1h0m6-4h0m4 0h0m0 6h0m1-3h0m46-4h0m8 0h0m2 0h0m2 1h0m2 1h0m0-2h0m3 1h0m6 4h0m4 1h0m2 1h0m-454 10h0m1 0h0m141-7h0m10 7h0m7-1h0m46-3h0m0-3h0m1 7h0m14-3h0m6-3h0m2 8h0m3-1h0m4-3h0m3-1h0m1 0h0m1 3h0m3-1h0m17-3h0m36-2h0m10 6h0m1-1h0m2-6h0m2 5h0m11-5h0m5 6h0m0 0h0m1-2h0m7 5h0m6-8h0m0 0h0m12-1h0m0 9h0m2-7h0m4-1h0m14-1h0m55 3h0m2-1h0m1 3h0m1-5h0m5 9h0m17-9h0m3 1h0m3 4h0m3-2h0m1 0h0m5 0h0m2-1h0m4-2h0m-486 18h0m29-7h0m5 1h0m3 1h0m26-1h0m5-1h0m13 3h0m31-2h0m91 0h0m3 3h0m7-2h0m2-2h0m13 4h0m7-2h0m0-1h0m1 4h0m0-6h0m7 0h0m0 1h0m0 2h0m9 2h0m20 2h0m2-2h0m1 4h0m10-4h0m0 2h0m8 2h0m31-8h0m1 2h0m2-3h0m16 2h0m3 4h0m10-2h0m1-2h0m14-1h0m3 3h0m9-1h0m51 3h0m8 2h0m1 1h0m1-3h0m2 1h0m11 1h0m6-6h0m1 3h0m4-4h0m0 4h0m-431 11h0m66 1h0m63-4h0m5 1h0m1 0h0m9-2h0m1 6h0m12-1h0m2-1h0m21-6h0m12 6h0m27 3h0m2-2h0m5-1h0m2-6h0m2 1h0m17 4h0m1 4h0m3-5h0m1 3h0m5 0h0m2-4h0m1 4h0m7-1h0m4 0h0m8-2h0m7 1h0m3 0h0m124-1h0m4 1h0m2-1h0m1-3h0m5 2h0m4-3h0m-293 13h0m13-3h0m11 9h0m37-2h0m24-5h0m0 5h0m0-3h0m2-1h0m0 0h0m1 4h0m31-3h0m5 5h0m3-9h0m0 6h0m2-2h0m3 4h0m2 0h0m6-5h0m0 2h0m2 2h0m1-7h0m2 7h0m3-6h0m4 7h0m18-4h0m3 5h0m-348 7h0m39-1h0m159-1h0m1-1h0m22 5h0m4-3h0m7-3h0m4 2h0m20 0h0m5-1h0m4 4h0m9 1h0m0 1h0m11-1h0m5-1h0m32 1h0m2-6h0m3 5h0m1-5h0m1 4h0m0 3h0m2-2h0m5-6h0m-319 16h0m174-3h0m0-2h0m2 1h0m7 5h0m30-6h0m29 6h0m5 1h0m4-3h0m4 3h0m0-3h0m1-1h0m15-3h0m1 4h0m3-3h0m2 4h0m23-3h0m26 2h0m0-2h0m3-1h0m0 1h0m4 4h0m1-1h0m2-4h0m3 4h0m3-5h0m1 7h0m-340 5h0m4 4h0m185 1h0m19-4h0m27 4h0m3-8h0m6 7h0m1-8h0m22 2h0m3 0h0m1 0h0m1-2h0m4 7h0m1-5h0m4 0h0m0 4h0m1 0h0m4-2h0m0 0h0m3-4h0m2 5h0m2-2h0m12 6h0m3-2h0m10-3h0m0 1h0m3-5h0m0 7h0m5 2h0m3-5h0m2 5h0m1-6h0m0 2h0m16-5h0m1 2h0m6 4h0m-362 7h0m170-2h0m2 5h0m1 3h0m28-4h0m10-4h0m0 7h0m32-1h0m12-5h0m3 0h0m16 7h0m2-9h0m14 6h0m0 2h0m3-7h0m1 4h0m17 2h0m3-3h0m11-1h0m10-2h0m4 6h0m2-7h0m2 2h0m0 5h0m3-2h0m8-5h0m6 8h0m6-2h0m2-2h0m0-2h0m1 5h0m0-2h0m1 4h0m0-7h0m1 6h0m1 1h0m10-1h0m-216 6h0m15 3h0m4-6h0m2-1h0m3 3h0m2 4h0m13-5h0m6 1h0m6-3h0m22 8h0m5-3h0m6 0h0m0-5h0m5 4h0m2 4h0m21-8h0m41 6h0m2 3h0m7-5h0m4-1h0m7 2h0m3-3h0m0 1h0m4 2h0m6 4h0m1-1h0m1-3h0m2-3h0m2 5h0m3-7h0m4 2h0m0 2h0m13-3h0m2 4h0m4-2h0m1-1h0m0-2h0m2 1h0m1-1h0m3 9h0m-214 3h0m21-2h0m2 6h0m18 2h0m21 1h0m0-2h0m1 0h0m0-1h0m10 3h0m3-7h0m2 4h0m5-3h0m71 1h0m1-2h0m2 3h0m2-2h0m6 0h0m1 2h0m8 2h0m1-5h0m4 3h0m7-4h0m1 7h0m2-1h0m2-1h0m1-2h0m3 3h0m4-3h0m5 2h0m4-3h0m-222 9h0m0 1h0m1 2h0m2 4h0m16 0h0m12-7h0m44 7h0m0-6h0m3-2h0m2 4h0m6 1h0m3 1h0m43 0h0m47 1h0m2 0h0m5 1h0m4-8h0m4 6h0m3 0h0m0-7h0m8 6h0m0-3h0m4 6h0m2 0h0m1-1h0m7-1h0m5-6h0m3 1h0m-235 15h0m6-2h0m33 1h0m7 3h0m40-3h0m1-1h0m11-5h0m11 4h0m5 3h0m78-7h0m2 6h0m1-6h0m0 5h0m2-4h0m5 0h0m1 0h0m14-1h0m-232 19h0m30-3h0m29-4h0m1 7h0m32-2h0m0 2h0m1-5h0m7 3h0m0-5h0m3 3h0m15-4h0m7 0h0m12 8h0m-147 10h0m2-1h0m17 1h0m10-4h0m7 3h0m13-7h0m1 6h0m1-4h0m7 5h0m3-6h0m39 3h0m2-5h0m2 5h0m44-5h0m17 7h0m-162 12h0m4-8h0m18 8h0m13-3h0m59-5h0m1-1h0m60 9h0m4-8h0m30 0h0m-165 13h0m83 0h0m31 3h0m11-4h0m16 0h0m13 2h0m-78 11h0m69-2h0m-63 15h0m3 0h0m35-7h0m23 1h0m-76 11h0m0-2h0m10 1h0m141-2h0m-110 18h0m10-4h0m10 0h0m85-3h0m10 3h0m4-4h0m5 6h0m-144 9h0m7-1h0m3 3h0m7-4h0m1 5h0m23-3h0m1 1h0m14-3h0m22 4h0m4-5h0m28 2h0m32-5h0m-163 11h0m74 1h0m47 7h0m8-8h0m5 7h0m5 0h0m7-8h0m-121 13h0m12 5h0m33-5h0m33 4h0m3-6h0m16 2h0m8 6h0m16-3h0m-99 8h0m19-1h0m34 6h0m-19 3h0m20 0h0" stroke="#e8894c" stroke-width="5.2" stroke-linecap="round"/>
<path d="M472 448h0m-5 7h0m1-3h0m7 1h0m2-1h0m2 16h0m4 1h0m1-1h0m4-8h0m4 3h0m6 4h0m-19 11h0m6-7h0m0 0h0m1 8h0m3-7h0m5-1h0m8 1h0m3 5h0m-96 12h0m70-9h0m0 2h0m2 7h0m1 0h0m2-2h0m18-6h0m0 8h0m5-5h0m5 2h0m-102 4h0m0 5h0m7-4h0m2 3h0m0 0h0m0-2h0m1 3h0m3-5h0m60 1h0m0 0h0m11 0h0m4 3h0m0-2h0m5 6h0m5-2h0m4-2h0m4 4h0m4 0h0m2 1h0m0-9h0m0 8h0m2-5h0m-111 11h0m15-1h0m2-2h0m2 3h0m2-4h0m3 8h0m2-4h0m1 2h0m46 2h0m20-6h0m7 7h0m9-9h0m5 1h0m8 2h0m-156 15h0m31-1h0m1-3h0m5-4h0m2 8h0m2-6h0m1-1h0m5 1h0m2 0h0m1 3h0m0-1h0m2 5h0m3-6h0m0 2h0m1-3h0m3-1h0m0 2h0m1 1h0m2-4h0m4 6h0m2-6h0m43 1h0m7-1h0m3 7h0m4-1h0m23-5h0m3 1h0m3-2h0m0 0h0m13 1h0m6 7h0m2 0h0m2-3h0m-192 9h0m13 0h0m17-2h0m7 4h0m4-2h0m4 3h0m13-7h0m2 9h0m2 0h0m2-4h0m1-3h0m2-2h0m1 0h0m0 2h0m1 7h0m8 0h0m2-5h0m2 4h0m6-4h0m0 1h0m2-5h0m2 1h0m2 0h0m5 4h0m87 0h0m1-1h0m2-1h0m3 3h0m4-2h0m6 3h0m1 2h0m-169 9h0m18-2h0m2 1h0m12-3h0m1-1h0m3 3h0m2-5h0m0 1h0m1 2h0m1-2h0m1 7h0m2-6h0m2-1h0m0 4h0m1-4h0m2 5h0m1-2h0m3-3h0m2 4h0m2 0h0m1-3h0m0 1h0m1 2h0m1-3h0m2 5h0m6-1h0m1-1h0m3 0h0m8-2h0m3 3h0m1-1h0m2 1h0m81-4h0m3-1h0m4 1h0m9 3h0m3 1h0m-144 4h0m1-1h0m11 5h0m0-4h0m10 1h0m0 5h0m7-6h0m0 8h0m5-6h0m0 1h0m7-3h0m1-1h0m0 9h0m3-2h0m1-5h0m2 1h0m13 6h0m32-7h0m3-2h0m4 8h0m52-3h0m-138 8h0m6 3h0m2 1h0m2-5h0m2-1h0m4 5h0m6-4h0m3-2h0m0 7h0m1 2h0m0-3h0m4-1h0m2-5h0m2 9h0m1-2h0m1 0h0m1-1h0m1-5h0m1 3h0m2 5h0m0-7h0m4-1h0m10 0h0m7 7h0m9-3h0m10 3h0m-60 2h0m3 3h0m1-2h0m2 0h0m6 4h0m4 2h0m4-1h0m1 0h0m13-3h0m17-1h0m21 4h0m16-5h0m3 0h0m6 7h0m-122 10h0m1 0h0m12-4h0m17 2h0m8 0h0m10-3h0m3 3h0m17 3h0m17-3h0m5-5h0m3 4h0m16 4h0m4-4h0m4 1h0m13-1h0m31 4h0m-258 3h0m2 4h0m105-4h0m0 3h0m17 2h0m7-4h0m9 2h0m11 4h0m4-4h0m5 1h0m9 1h0m26 2h0m0-8h0m6 7h0m19 1h0m7-3h0m2-2h0m4-3h0m4 5h0m13-2h0m1-4h0m6 8h0m7-1h0m-277 12h0m5-5h0m6 4h0m10-8h0m28 9h0m2-6h0m9 0h0m77 2h0m14 1h0m22 1h0m12-4h0m1 3h0m8-1h0m52-3h0m1 3h0m8-2h0m2-3h0m-258 17h0m1-7h0m1 8h0m0-4h0m5 4h0m13 0h0m4-2h0m33 2h0m7-5h0m3 0h0m0-2h0m2 3h0m5-2h0m74 1h0m1 1h0m28-4h0m34 5h0m1 4h0m5-1h0m3-5h0m4 3h0m1 2h0m10-2h0m10-4h0m27-2h0m-274 16h0m5-4h0m7-1h0m2 6h0m1-4h0m4 1h0m16 3h0m1 2h0m4-5h0m7 0h0m2 0h0m4-4h0m51 8h0m60-3h0m12 2h0m6-2h0m9 0h0m14 3h0m0-2h0m8 3h0m3-8h0m9 1h0m82 7h0m14-1h0m-321 4h0m11 5h0m16 1h0m1-6h0m11 7h0m5-2h0m10-3h0m4-4h0m4 2h0m1 0h0m9-2h0m9 8h0m1-1h0m1-7h0m1 8h0m0-3h0m10-2h0m4 5h0m94-6h0m16 6h0m1-3h0m2-1h0m1-1h0m95 0h0m3 4h0m7-1h0m1 0h0m10-6h0m7 0h0m1 7h0m1 2h0m1-8h0m0 0h0m58 8h0m7-3h0m3 1h0m3 2h0m-411 3h0m1-1h0m14 2h0m10 6h0m15-4h0m3 1h0m1-5h0m2 6h0m5 1h0m3-1h0m8-5h0m13 3h0m2-2h0m2 0h0m1 5h0m12-1h0m0-7h0m8 3h0m9 1h0m4 5h0m11-2h0m3-2h0m58-1h0m117 1h0m5 3h0m6-6h0m3 0h0m0-1h0m4 1h0m0 0h0m18 6h0m1-5h0m3 6h0m48-3h0m3 3h0m3-2h0m21-3h0m2 5h0m-406 5h0m2 4h0m1-8h0m16 9h0m7-3h0m6-4h0m0 2h0m2 5h0m0-9h0m9 2h0m13 3h0m16-4h0m15 2h0m19 0h0m16 2h0m168-4h0m8 3h0m2-4h0m12 3h0m15-1h0m4 7h0m1-3h0m2 0h0m1-1h0m2-5h0m30 1h0m15 7h0m2-8h0m14 4h0m6-4h0m0 7h0m4-6h0m6 2h0m2 5h0m-413 7h0m8 0h0m3-3h0m4 5h0m2-5h0m0 3h0m5 2h0m11-7h0m5 6h0m2 0h0m10-2h0m3-1h0m9 1h0m6 0h0m0-3h0m10 8h0m6-7h0m22-1h0m3 1h0m2 4h0m7-6h0m16 1h0m148 0h0m6 2h0m20 6h0m0-7h0m10 7h0m5-5h0m1-2h0m4 4h0m12-4h0m2 2h0m5 2h0m27-6h0m4 8h0m1-5h0m3 6h0m4-4h0m2-1h0m14-3h0m1 5h0m10-5h0m-418 11h0m8 5h0m7-5h0m10 1h0m27-3h0m14 5h0m4-5h0m9 9h0m1-6h0m1-1h0m15 7h0m4-5h0m1-4h0m5 1h0m1 2h0m44-2h0m16 3h0m5 5h0m3 0h0m119-9h0m8 1h0m25 3h0m9 1h0m8-5h0m0 6h0m1-2h0m8-3h0m7-1h0m10 6h0m6-2h0m5-3h0m9 5h0m8-3h0m1-1h0m0 7h0m9-4h0m5-2h0m19-1h0m-424 16h0m9 1h0m10-1h0m32-1h0m24 2h0m1 0h0m89 0h0m3-5h0m7 1h0m1 2h0m3-4h0m4 2h0m7 3h0m10 1h0m119-1h0m1 0h0m0-2h0m15-2h0m5 3h0m14-1h0m2 3h0m1 0h0m8 0h0m50-6h0m6-2h0m-419 9h0m1 5h0m30 0h0m18 2h0m8-2h0m29 4h0m9 0h0m59-5h0m4 1h0m1 0h0m7-2h0m10 1h0m5 2h0m5-1h0m7 1h0m2 0h0m7 3h0m2-6h0m4 5h0m1 1h0m19-2h0m38 0h0m48-3h0m1-3h0m43 6h0m4 1h0m4-1h0m5-4h0m1 2h0m2 1h0m12 0h0m-363 7h0m2 1h0m14 2h0m6 0h0m17-5h0m4 8h0m6-7h0m16 7h0m7-2h0m6-5h0m5 2h0m4 5h0m3 0h0m48-4h0m48-2h0m8-3h0m6 2h0m0 2h0m3 2h0m3-2h0m8 3h0m9-7h0m0 7h0m3-3h0m1-4h0m4 4h0m0 5h0m1-6h0m7 6h0m1-3h0m1-2h0m2 5h0m0-9h0m3 1h0m1 0h0m4 8h0m1 0h0m10-1h0m2 1h0m1-1h0m4-1h0m42-3h0m2 1h0m4-2h0m5 4h0m3-4h0m7 6h0m0-9h0m4 9h0m5-8h0m5 6h0m8 0h0m5 2h0m6-7h0m7 0h0m10 7h0m2-8h0m-373 13h0m7-1h0m26-3h0m2 4h0m7 3h0m10 2h0m10-7h0m4 6h0m8 0h0m5-4h0m4-1h0m0 4h0m44-7h0m5 0h0m70 2h0m6 1h0m1 5h0m0-8h0m3 1h0m0 4h0m6 3h0m5-6h0m1 5h0m6-1h0m1-1h0m3-3h0m7 5h0m3 1h0m0 0h0m1-8h0m3 4h0m11-4h0m24 7h0m15 0h0m4-2h0m4-2h0m5 0h0m13 4h0m1 2h0m15-7h0m13 5h0m9 2h0m4-1h0m6-8h0m4 2h0m-408 17h0m3-6h0m13 3h0m5-4h0m7 1h0m8 2h0m0 4h0m2-8h0m4 8h0m7-7h0m4 7h0m4-3h0m1 3h0m31-4h0m7 0h0m5 4h0m12 0h0m0-1h0m2 0h0m3-5h0m54-3h0m0 7h0m3-1h0m53 0h0m5-5h0m3 8h0m3-8h0m6 6h0m6-4h0m2 1h0m2 5h0m2-8h0m2 6h0m5-4h0m0-1h0m0 2h0m3 5h0m1-7h0m1 3h0m0-2h0m4 1h0m3-1h0m60 0h0m25 4h0m4 2h0m0-6h0m3 5h0m14-1h0m6-2h0m0 3h0m1 0h0m2-7h0m1 5h0m7-4h0m-408 15h0m3-1h0m1-4h0m4 3h0m5-4h0m0 1h0m3 2h0m1 1h0m0-5h0m1 7h0m6-2h0m5 4h0m0-7h0m2 7h0m3-5h0m1 5h0m0-8h0m2 6h0m2 2h0m1-8h0m3-1h0m4 2h0m1-2h0m6 6h0m3-6h0m0 3h0m3 1h0m1-1h0m1-1h0m14 6h0m9-2h0m15-1h0m7 2h0m6-5h0m1 4h0m9-3h0m7-3h0m6 2h0m0 1h0m7 0h0m0 1h0m6 0h0m32 3h0m11-6h0m28 7h0m2-1h0m4-4h0m4 3h0m2 1h0m1-3h0m2 1h0m2 4h0m7-6h0m7-3h0m0 1h0m1 8h0m0-7h0m0 7h0m1-9h0m4 0h0m1 2h0m2 0h0m1 5h0m0 1h0m2-2h0m2 1h0m1-2h0m1 0h0m1-2h0m0 5h0m1-2h0m1-6h0m9 6h0m27 3h0m10 0h0m32-9h0m0 0h0m12 4h0m15 1h0m6-2h0m6 0h0m2 0h0m5 0h0m-397 15h0m3-4h0m1-1h0m0 5h0m2-3h0m1 0h0m7 3h0m10-2h0m1-6h0m7 1h0m8-1h0m0 2h0m0 0h0m2 7h0m1-4h0m4-3h0m1 6h0m4-6h0m7 1h0m1 5h0m1-8h0m3 8h0m5-4h0m40-1h0m1 4h0m10 2h0m0 0h0m5-3h0m3-5h0m3 8h0m8-2h0m15-4h0m11-1h0m1 3h0m30 4h0m3-3h0m2-2h0m1-4h0m0 1h0m4 4h0m0 0h0m10 0h0m13 4h0m5-2h0m3-3h0m1 5h0m5-7h0m3 1h0m4 0h0m5 3h0m4 1h0m4-1h0m3 1h0m8-2h0m0-2h0m11 2h0m7 0h0m1 2h0m14-6h0m2 6h0m2-7h0m0 3h0m1 2h0m2-4h0m3 1h0m12 7h0m2 0h0m-333 10h0m14-9h0m2 3h0m2 1h0m4-3h0m10 2h0m2 3h0m4-3h0m1-1h0m2 4h0m6 3h0m0-1h0m0-6h0m1 7h0m1-9h0m5 0h0m4 7h0m1 0h0m11 2h0m2-2h0m2-2h0m1-1h0m0-1h0m0-1h0m4 4h0m47-5h0m7 1h0m17-1h0m13-1h0m2 0h0m33 4h0m0 0h0m1 0h0m0 2h0m3-2h0m1 0h0m15 5h0m7-1h0m1 1h0m2-4h0m7-1h0m4-2h0m6 4h0m3-2h0m1 4h0m2-1h0m1-7h0m1 4h0m2-3h0m1 0h0m0 5h0m3 2h0m1-3h0m2 1h0m3-4h0m1 3h0m2 2h0m0-5h0m0-2h0m3 2h0m3-1h0m7 1h0m9 7h0m35-2h0m1 0h0m8-2h0m4-3h0m3 3h0m0-1h0m5-2h0m7-2h0m5 9h0m8-2h0m-362 8h0m0 4h0m3 0h0m1-9h0m0 0h0m6 7h0m7-2h0m5-2h0m0 2h0m2 2h0m4-7h0m5 0h0m6 6h0m2-5h0m3 6h0m6 1h0m1 0h0m4-5h0m1 0h0m1 6h0m2-4h0m0 3h0m4-7h0m3 8h0m0-3h0m10 0h0m13 3h0m8-6h0m29-1h0m8 6h0m3 1h0m78-9h0m0 4h0m1-3h0m0 4h0m0-4h0m4 5h0m4 0h0m9-1h0m1 3h0m2-5h0m5 4h0m4-4h0m2 6h0m0-8h0m6 4h0m8 0h0m0-1h0m1-3h0m12-1h0m7 3h0m21 5h0m36 1h0m10-4h0m0 0h0m0 0h0m1-5h0m91 9h0m3-9h0m8 2h0m0 1h0m2 5h0m14 0h0m-467 2h0m4 5h0m2-3h0m6 6h0m6-5h0m3-3h0m1 3h0m6 1h0m1 0h0m10 5h0m2-8h0m0 3h0m1 1h0m3 4h0m3-8h0m2 3h0m0-3h0m1 5h0m9 3h0m5-4h0m2 2h0m2-1h0m1-4h0m10-1h0m41 1h0m6 6h0m77 1h0m5-1h0m1 0h0m2-3h0m2 0h0m1-3h0m1 3h0m3-1h0m0-1h0m17-2h0m5 4h0m0-4h0m4 1h0m0 5h0m5 2h0m2-8h0m1 7h0m0-7h0m6 3h0m15-1h0m1 4h0m13-4h0m6 2h0m4-4h0m1 6h0m7-5h0m27 5h0m31-3h0m1 1h0m77-4h0m8 5h0m27 3h0m-473 2h0m10 7h0m1-2h0m5-2h0m11 1h0m8 3h0m3 0h0m3-5h0m7 0h0m3 2h0m1 2h0m1 0h0m1-1h0m1-6h0m16 7h0m13-3h0m2 1h0m3 1h0m10-3h0m2-1h0m2-2h0m28 4h0m69 0h0m1-2h0m3 5h0m2-6h0m14 8h0m4-5h0m1 3h0m2-7h0m2 1h0m2 0h0m0 1h0m1 4h0m1 3h0m0-1h0m2-4h0m4-3h0m2 4h0m0 1h0m5-1h0m3-1h0m52-2h0m10 4h0m10-1h0m34 2h0m24-1h0m56-3h0m3-2h0m6 1h0m3 3h0m20 4h0m3-3h0m1-3h0m-446 8h0m3 0h0m2-1h0m1 1h0m74 0h0m21 7h0m6-2h0m2 3h0m63-4h0m1 2h0m2-4h0m5-3h0m12 6h0m2-4h0m3 1h0m2 5h0m7-8h0m4 8h0m1 1h0m1-6h0m2 6h0m4-5h0m7-1h0m1 1h0m16 1h0m22 0h0m14-2h0m10 0h0m33 2h0m3-2h0m13-2h0m10 0h0m5 6h0m66-5h0m4-2h0m0 8h0m17-4h0m1-1h0m-432 7h0m17 3h0m42 1h0m17-3h0m84 8h0m2-2h0m4-1h0m3-6h0m13 0h0m1 2h0m1-1h0m7 1h0m4 6h0m1-2h0m5 0h0m1-3h0m1 6h0m1-9h0m8 7h0m24-4h0m3 1h0m5-4h0m3 2h0m9 1h0m59 4h0m18 1h0m40-3h0m42-2h0m10 0h0m-396 11h0m4 1h0m9-2h0m8-3h0m105 1h0m4 8h0m3-9h0m11 9h0m2-1h0m1-7h0m2 0h0m0 2h0m1 4h0m5 0h0m1-7h0m5 6h0m3-4h0m3 1h0m3 1h0m1-4h0m7 6h0m0 3h0m2-7h0m20 5h0m13-7h0m3 2h0m2 1h0m3-1h0m4-1h0m74 2h0m39-3h0m1 5h0m3-5h0m-339 10h0m12 2h0m2-1h0m5 5h0m15-4h0m1 4h0m9-1h0m9 4h0m1-6h0m12-1h0m53-1h0m6 5h0m2 1h0m3-3h0m7-4h0m2 4h0m1 1h0m4 1h0m6-4h0m5-1h0m20-1h0m1 5h0m0-2h0m23 0h0m5-3h0m4 0h0m6 0h0m90 4h0m25 2h0m7-3h0m2 0h0m-333 8h0m14 1h0m1 1h0m13 6h0m7-2h0m1-5h0m9 3h0m1-1h0m4-3h0m52 6h0m4-1h0m0 2h0m3-3h0m4-1h0m2 5h0m2 0h0m1-8h0m2 0h0m2 4h0m13 1h0m4-6h0m10 9h0m0-4h0m16-5h0m2 0h0m27 3h0m8 3h0m99-6h0m3 1h0m-282 13h0m5-2h0m0-1h0m9 0h0m3 7h0m55-1h0m1-2h0m22 0h0m0-1h0m3 3h0m1-6h0m3 0h0m7 1h0m1 0h0m0 1h0m1 4h0m5-3h0m2 3h0m2-1h0m2 0h0m3-4h0m1-2h0m1 0h0m2 2h0m1 7h0m5-4h0m1 3h0m2 1h0m0-1h0m38-2h0m-110 8h0m2-2h0m5 1h0m6 2h0m8 3h0m5-7h0m4 2h0m3 3h0m6-2h0m2 0h0m0 0h0m3-2h0m0 4h0m1 0h0m1-1h0m2 1h0m3-3h0m1 0h0m9 1h0m2 2h0m1-3h0m1 5h0m34-4h0m-102 8h0m11 1h0m1 3h0m1 3h0m1 0h0m5-8h0m1-1h0m2 6h0m1 2h0m1-2h0m11-3h0m1 1h0m1 3h0m2 0h0m4 1h0m0 0h0m1-8h0m1 9h0m4-9h0m2 6h0m1-3h0m0-2h0m1 6h0m1-2h0m3 1h0m3 0h0m0 1h0m1-1h0m2 1h0m47-2h0m-107 6h0m2 0h0m7 1h0m8 3h0m2 3h0m1-8h0m3 8h0m3-1h0m7-7h0m3 8h0m2-6h0m8-1h0m1 4h0m8-2h0" stroke="#e8c845" stroke-width="5.2" stroke-linecap="round"/>
<path d="M429 507h0m15 1h0m-74 9h0m22 2h0m20 0h0m1-1h0m26-1h0m4-5h0m-45 16h0m8-8h0m2 5h0m1-4h0m0 2h0m5-2h0m11-1h0m-52 14h0m5-3h0m0 6h0m4 2h0m6-1h0m7-2h0m3-2h0m4 0h0m5 0h0m28 2h0m20-4h0m15 6h0m5 0h0m-92 5h0m15 5h0m12-3h0m3-1h0m6 5h0m20-9h0m12 2h0m43 0h0m7 2h0m5 5h0m8 0h0m9-4h0m2 2h0m3-7h0m1 8h0m8-2h0m-120 7h0m5 0h0m30-3h0m8 5h0m1 0h0m10 3h0m43-7h0m1-1h0m1 8h0m3-3h0m3 3h0m23-4h0m-89 15h0m30 0h0m16-5h0m6-1h0m5 4h0m3-5h0m4 0h0m0 2h0m10 2h0m6 1h0m6-3h0m7 3h0m2-7h0m1 6h0m6 0h0m10 0h0m-119 8h0m18-2h0m9-1h0m7 3h0m5 5h0m12-7h0m7 0h0m18 5h0m7 2h0m3 0h0m3-2h0m16-2h0m2-5h0m5 3h0m10 0h0m2-2h0m8 5h0m6-2h0m4-2h0m-137 15h0m2 1h0m1-6h0m4 1h0m1 5h0m13 0h0m2-5h0m12-3h0m6 5h0m1 0h0m9-1h0m0-1h0m5 6h0m2-6h0m24-3h0m7 5h0m57 3h0m7-6h0m1 2h0m1-3h0m1 1h0m-144 8h0m7 4h0m5 5h0m5-6h0m24-1h0m3 2h0m8 4h0m8-4h0m0 2h0m7 2h0m0-7h0m5 6h0m0-7h0m1 1h0m15 7h0m16-8h0m9 6h0m3-6h0m11 0h0m1 7h0m1-6h0m0-1h0m4 5h0m8 4h0m2 0h0m-136 1h0m22 6h0m0-6h0m3 8h0m2-4h0m3 2h0m1-5h0m5 4h0m3 0h0m9 4h0m5 0h0m3-1h0m3-4h0m2-4h0m14 4h0m3 3h0m3-2h0m7-1h0m4 0h0m7-1h0m12-2h0m18 3h0m8-1h0m-112 8h0m4 4h0m3 3h0m3-8h0m2 2h0m21-1h0m6-1h0m12 0h0m4 0h0m6 2h0m3 2h0m2 4h0m8-3h0m-72 6h0m7 0h0m4 5h0m13 1h0m3 1h0m9-4h0m5 0h0m1-4h0m8 8h0m-39 2h0m9 5h0m2-5h0m-12 39h0m15 5h0m143-1h0m18 5h0m0-4h0m4 5h0m1-2h0m2 0h0m9-3h0m30 4h0m-218 4h0m25 0h0m19 7h0m27-1h0m10 1h0m30-9h0m48 3h0m11-3h0m27 7h0m3-5h0m8 4h0m4-2h0m18 2h0m0 3h0m1-4h0m0 2h0m-181 3h0m7 5h0m16-1h0m4 5h0m0-8h0m21 2h0m8 5h0m57-5h0m4 6h0m5-1h0m4-5h0m2 3h0m30 2h0m1 1h0m0-4h0m1 4h0m9-8h0m6 7h0m0-5h0m2 0h0m1 4h0m1-7h0m3 9h0m4-6h0m9-3h0m0 8h0m3 0h0m57 1h0m-237 6h0m11-1h0m8-1h0m1 0h0m66-3h0m2 2h0m7 0h0m2 5h0m1 2h0m12-8h0m3 7h0m7-8h0m6 6h0m1-2h0m3 5h0m6-6h0m17-1h0m1 2h0m0 3h0m4 0h0m15-5h0m2 2h0m1 3h0m1-3h0m1 4h0m45-7h0m13 2h0m2 3h0m6-2h0m8 5h0m3-1h0m-237 2h0m2 2h0m9 0h0m22 6h0m41-7h0m6 8h0m1-4h0m3 0h0m1 1h0m0-2h0m5 1h0m3-3h0m4 7h0m0-4h0m5-1h0m5 1h0m16 4h0m5-7h0m0 2h0m9-2h0m0-1h0m4 8h0m5-1h0m1 1h0m3-1h0m82-3h0m4-1h0m5 0h0m-304 6h0m27 5h0m9-2h0m44 1h0m19 4h0m4-1h0m6-2h0m3 0h0m10 3h0m6 1h0m18-8h0m38-1h0m18 3h0m11 0h0m2-2h0m54 8h0m1-5h0m4 2h0m8 3h0m15-5h0m1-4h0m3 6h0m2-4h0m2-1h0m-305 17h0m0-3h0m12 0h0m20-2h0m40-3h0m12 6h0m6 0h0m2-5h0m5-1h0m14 1h0m4 8h0m1-1h0m2-7h0m2 6h0m3-2h0m5 0h0m6 4h0m4-7h0m2 2h0m7-3h0m2 7h0m5-4h0m10 5h0m121-8h0m-280 12h0m1-3h0m34 6h0m45-5h0m36 6h0m13-7h0m2 5h0m1-1h0m1 2h0m0-1h0m6-2h0m8-2h0m2 4h0m7-5h0m4 0h0m1 8h0m1-7h0m1 4h0m-146 7h0m18 5h0m22-4h0m22 4h0m4-3h0m7 1h0m8 4h0m10-3h0m13-5h0m1 0h0m16 3h0m10 1h0m4-1h0m4 0h0m0-2h0m8 0h0m-118 17h0m37-4h0m2-3h0m3 5h0m1 0h0m3-2h0m2 4h0m4-3h0m2 0h0m5 0h0m0-6h0m4 6h0m4 2h0m1-7h0m2 7h0m23-1h0m27-1h0m13-1h0m-125 9h0m26 4h0m2-5h0m2 4h0m3-1h0m4-6h0m4 9h0m0-1h0m1-3h0m18 1h0m2 3h0m8-3h0m2 3h0m6-1h0m6-7h0m4 0h0m16 1h0m2-2h0m20 5h0m10 3h0m-113 3h0m6 0h0m1-1h0m6 2h0m4 6h0m15-3h0m1 0h0m7-3h0m0 7h0m7-1h0m0-4h0m5-4h0m2 2h0m0 0h0m39 6h0m17-6h0m6 5h0m-164 9h0m4-6h0m5 2h0m34 6h0m5-4h0m5 0h0m3 5h0m2-1h0m3 0h0m1-5h0m1 1h0m1-3h0m7 2h0m5-2h0m1 4h0m5-2h0m1-3h0m5 6h0m4-6h0m1 5h0m53 2h0m27 1h0m7 0h0m-136 8h0m9 0h0m4-3h0m14 1h0m3 4h0m5-1h0m2 2h0m5-6h0m0 4h0m6 2h0m3-9h0m66 4h0m3-1h0m5 3h0m10-5h0m-140 17h0m3-4h0m3 3h0m9-5h0m1 6h0m3-8h0m0 2h0m13 6h0m5-7h0m3 6h0m1-4h0m9 5h0m5-5h0m1 4h0m9-1h0m1 3h0m68-5h0m3-2h0m-213 12h0m4-2h0m9 7h0m12-1h0m12-3h0m38 0h0m6-3h0m2 2h0m2 0h0m0 4h0m3 1h0m1-4h0m0 1h0m0-3h0m10-1h0m1 7h0m4-6h0m4 1h0m2 3h0m0-6h0m0 8h0m2-5h0m2 5h0m3-9h0m2 5h0m4 0h0m1 4h0m2-9h0m6 2h0m5 1h0m1 4h0m2-2h0m3-3h0m1-2h0m1 7h0m0-7h0m0 7h0m2-1h0m-70 10h0m0 3h0m3-7h0m4-1h0m1 7h0m8 1h0m1-4h0m3 4h0m2-4h0m6 4h0m14-1h0m6-3h0m5-2h0m1 2h0m1-4h0m4 3h0m2-1h0m2-3h0m2 9h0m9 0h0m0-3h0m3-2h0m4 1h0m0 3h0m1-5h0m-142 7h0m2 0h0m1 7h0m23-6h0m28 8h0m0 0h0m1-4h0m1 2h0m7 2h0m0-6h0m1-3h0m10 4h0m6 2h0m3-4h0m11 0h0m1 3h0m0 4h0m4-2h0m5 2h0m0-3h0m3 0h0m1-6h0m2 2h0m4 0h0m5 5h0m1 2h0m5-7h0m1-2h0m2 8h0m1-3h0m2-5h0m1 6h0m2-6h0m1 5h0m5 2h0m1-3h0m3 2h0m0 2h0m1-8h0m4 6h0m2-1h0m5 2h0m1-1h0m2 1h0m-167 5h0m62 1h0m2-1h0m3 6h0m0-1h0m1 1h0m2 1h0m1-7h0m1 0h0m2 7h0m0-2h0m4-5h0m6 2h0m2-4h0m8 9h0m14-7h0m6 1h0m2-3h0m2 9h0m0-1h0m1-4h0m1 3h0m8-4h0m3 4h0m2-5h0m3-2h0m1 2h0m2 3h0m0 0h0m11-4h0m0 8h0m9 0h0m2-8h0m8 0h0m3 4h0m0-5h0m5 8h0m1-1h0m-186 11h0m10-1h0m57-4h0m6 4h0m3 0h0m7 2h0m2-6h0m1 6h0m5-1h0m4-8h0m4 2h0m0 5h0m1 1h0m0-8h0m0 9h0m3-1h0m3-8h0m10 1h0m5 5h0m0 1h0m3-1h0m0-5h0m10 2h0m1 0h0m4 6h0m2-8h0m2 3h0m0 2h0m1-2h0m3-1h0m1 3h0m2-3h0m1 1h0m1 4h0m0-5h0m8 0h0m1-2h0m1 1h0m2 3h0m5 4h0m2-4h0m1 1h0m0-5h0m8 1h0m4 4h0m6 0h0m1-4h0m4 7h0m1-2h0m3-1h0m7 2h0m3 1h0m-149 7h0m0-2h0m9 1h0m0 4h0m4-7h0m1 7h0m2 0h0m0-5h0m1 1h0m7-1h0m3 0h0m5 4h0m8 0h0m1-7h0m3 8h0m4-9h0m3 1h0m1 4h0m5 2h0m1-2h0m2 1h0m0-5h0m3 8h0m1-6h0m2 6h0m3-8h0m1 5h0m2-1h0m4 1h0m9-6h0m4 0h0m8 2h0m2 4h0m2-5h0m1 3h0m12 0h0m1 1h0m5 1h0m1-6h0m9 1h0m1 5h0m1 0h0m6-1h0m6 3h0m0-6h0m4 5h0m1-5h0m3 3h0m-153 8h0m1 3h0m3-2h0m2-4h0m1 5h0m5-5h0m2 2h0m2 2h0m2-1h0m6 0h0m7 4h0m8-5h0m2 6h0m0 0h0m1 1h0m4-5h0m0-4h0m15 9h0m1-1h0m5 0h0m8-2h0m1-6h0m3 3h0m2-1h0m2 3h0m1-4h0m1 2h0m4 1h0m0 4h0m3 1h0m2-4h0m0 4h0m1-6h0m4 1h0m1 2h0m2-4h0m5-1h0m3 0h0m11 7h0m4-1h0m8-2h0m0 2h0m0 0h0m8-2h0m4-2h0m1 1h0m1-2h0m4 6h0m0-5h0m0-2h0m3 7h0m3-6h0m0 1h0m3 3h0m-159 13h0m0 0h0m7-9h0m3 6h0m6 0h0m1-2h0m3 4h0m6 0h0m0 1h0m10-4h0m2-4h0m5 1h0m5 2h0m5 3h0m0 1h0m2-1h0m1-7h0m0 4h0m5 1h0m0 4h0m2 0h0m2-5h0m7-2h0m5 5h0m2-5h0m8 5h0m0-6h0m3 8h0m0-9h0m4 9h0m4 0h0m2-3h0m2-2h0m2 5h0m8-1h0m8-2h0m1-4h0m1 6h0m4-2h0m2-3h0m1 3h0m3-3h0m7 2h0m4-5h0m5 3h0m14 1h0m0-1h0m3 4h0m-167 10h0m1-2h0m1-3h0m3 1h0m0-2h0m2 7h0m6-8h0m10 1h0m1 4h0m3-2h0m2 0h0m3 4h0m1-2h0m1-4h0m4 0h0m1 2h0m5 6h0m0-7h0m1 1h0m1 1h0m1 3h0m5-3h0m1-1h0m2 5h0m4-2h0m0-3h0m8-3h0m2 4h0m2 1h0m6 4h0m3-1h0m5 1h0m1-3h0m1 1h0m2-1h0m1-4h0m7 6h0m5-4h0m1-1h0m1 2h0m9 3h0m5-1h0m2-5h0m4 1h0m5 5h0m5-1h0m4-3h0m6-1h0m3 3h0m0 0h0m9 2h0m1-6h0m2-1h0m1-1h0m2 7h0m2-7h0m6 1h0m0 7h0m-167 3h0m2 3h0m4-3h0m12 6h0m1 2h0m6-2h0m2 2h0m5 0h0m1-1h0m3-2h0m7 3h0m3-8h0m3 5h0m4-6h0m0 0h0m3 2h0m0 5h0m3-1h0m3-5h0m7 1h0m2-1h0m2 2h0m8 6h0m2-1h0m7 0h0m3-6h0m5 3h0m3 4h0m4-1h0m5-2h0m1-4h0m2 2h0m3-4h0m0 0h0m1 4h0m2-1h0m5 4h0m0-6h0m1 8h0m2-2h0m11-2h0m3-2h0m0 0h0m1 0h0m1 3h0m4 2h0m5-7h0m1 2h0m3 3h0m7-1h0m5-3h0m4 2h0m-171 14h0m1-8h0m4 2h0m8 0h0m1 2h0m1 2h0m3 2h0m0-6h0m2-1h0m1 3h0m5 0h0m2-2h0m1 0h0m3 1h0m0-1h0m1 2h0m0 0h0m0 4h0m5-7h0m8-1h0m1 9h0m3-3h0m1-1h0m0-1h0m2 2h0m2-6h0m0 0h0m0 1h0m1 5h0m0 1h0m2 2h0m1-7h0m1-1h0m1 7h0m1-4h0m1 3h0m9 0h0m3-1h0m1-5h0m2 5h0m3 2h0m0 0h0m7-7h0m10 2h0m1-1h0m6-2h0m7 4h0m1 3h0m9-6h0m9 2h0m3 5h0m3-2h0m3 3h0m1-9h0m1 8h0m14-7h0m2-1h0m3 5h0m0-5h0m2 8h0m2-2h0m-151 5h0m1 2h0m4 1h0m2 5h0m1-4h0m4 3h0m5-4h0m1 2h0m2-3h0m0-1h0m1 3h0m2-4h0m12 8h0m1-2h0m10 0h0m3 0h0m3-3h0m1-2h0m0-2h0m9 1h0m1 5h0m0-1h0m2-5h0m1 0h0m2 9h0m2-1h0m4-1h0m2 2h0m8-7h0m4 3h0m1 4h0m2-4h0m8-3h0m4 7h0m3 0h0m1-3h0m3-2h0m3 5h0m3-1h0m1-5h0m3 0h0m0-2h0m4-1h0m1 1h0m4 0h0m2 7h0m9-5h0m3 0h0m-122 9h0m0 1h0m18 1h0m3-2h0m0 0h0m1 4h0m7-5h0m3 3h0m9 2h0m3-4h0m2-1h0m2 3h0m15 0h0m0 2h0m7-1h0m4-3h0m1 4h0m2 2h0m2-2h0m-35 6h0m3 0h0m10 0h0" stroke="#e8545f" stroke-width="5.2" stroke-linecap="round"/>
<path d="M375 523h0m3 3h0m1-6h0m5 1h0m1 3h0m-16 6h0m30 9h0m3-9h0m9 8h0m-8 7h0m2 3h0m11 5h0m231 251h0m3 4h0m4 2h0m8 5h0m6 0h0m3-4h0m9 10h0m-56 17h0m15-3h0m3-1h0m32 1h0m-45 10h0m12-3h0m40-2h0m13 4h0m-40 15h0m4-7h0m7 1h0m12-3h0m32 2h0m1 2h0m-42 15h0m4-8h0m8 8h0m11-4h0m-63 11h0m67 2h0m3-2h0m0-2h0m13-4h0m-99 17h0m31-4h0m4 3h0m35 3h0m29-4h0m18 4h0m10-7h0m-88 16h0m42-8h0m30 0h0m-124 19h0m16-2h0m2-7h0m31 5h0m0 3h0m41-8h0m21 2h0m-99 16h0m7-8h0m26 8h0m79-3h0m3 4h0m34-4h0m-163 11h0m41-3h0m26 0h0m47 2h0m55-3h0m-141 15h0m71 0h0m5-2h0m1 1h0m0 1h0m8-2h0m31 4h0m-71 10h0m17 1h0" stroke="#f08080" stroke-width="5.2" stroke-linecap="round"/>
<path d="M802 234h0m2 1h0m7 23h0m-21 19h0m3-5h0m1-1h0m9 8h0m11 0h0m-21 10h0m15-2h0m1-2h0m-27 14h0m2-3h0m8 2h0m19-7h0m-41 10h0m34 3h0m5 5h0m17 0h0m4 0h0m-101 6h0m27 4h0m3-9h0m1 7h0m23-3h0m16 4h0m3-3h0m11 0h0m19-4h0m-139 16h0m29 2h0m3-1h0m42-6h0m9 7h0m33-6h0m-123 7h0m1 4h0m11 1h0m7-4h0m7 0h0m3 3h0m13 3h0m2-2h0m1-4h0m14 0h0m18 0h0m25 4h0m3 0h0m5-3h0m3-2h0m7 7h0m9-1h0m7-6h0m-198 19h0m19-4h0m1-3h0m16-2h0m3 1h0m33 5h0m5-5h0m7-1h0m9 1h0m6 4h0m6-4h0m13 6h0m25-2h0m19 4h0m25-8h0m-179 17h0m10-5h0m57-2h0m3 1h0m47 7h0m8-6h0m13 5h0m18 0h0m8-3h0m-189 14h0m17-1h0m4-6h0m27 2h0m3 0h0m11 3h0m28 0h0m5-6h0m72 4h0m16 1h0m6-4h0m-202 17h0m49-9h0m19 4h0m2-1h0m101 5h0m9 0h0m-170 7h0m17-3h0m27 5h0m25-6h0m3 2h0m103-1h0m-167 17h0m30-1h0m22-1h0m14-1h0m2-6h0m-80 14h0m21-4h0m7 7h0m32-7h0m1 3h0m27 0h0m8-3h0m14 6h0m-108 11h0m30-6h0m31 7h0m3 0h0m8 1h0m0-6h0m18-3h0m27 3h0m2 5h0m11 0h0m29-2h0m2 1h0m7 2h0m-177 3h0m15 7h0m6-8h0m4 4h0m0 4h0m12-8h0m6-1h0m20 1h0m5 5h0m5 2h0m5-3h0m18-4h0m16-1h0m0 1h0m16 1h0m9 7h0m34-2h0m-174 3h0m17 8h0m23-8h0m15 8h0m27-2h0m6-3h0m32 5h0m13-8h0m15 6h0m7-2h0m2-4h0m4 2h0m-159 12h0m39-2h0m2 6h0m3-8h0m11 1h0m11 3h0m30 5h0m11-8h0m4 6h0m11-6h0m50 4h0m-163 7h0m2-1h0m-8 17h0m14-1h0m5-7h0m2 0h0m12 8h0m29-7h0m14 7h0m-53 9h0m0-6h0m18-1h0m7 1h0m5 2h0m24 4h0m18-1h0m2 0h0m36 2h0m-107 10h0m37-1h0m13-5h0m43-2h0m-126 19h0m29-1h0m26-8h0m10 2h0m17 2h0m1 2h0m11-6h0m0 0h0m8 7h0m15-3h0m16-1h0m-85 13h0m15-1h0m14-2h0m2 5h0m28-1h0m26-7h0m-140 11h0m26 7h0m6-5h0m7 4h0m8-4h0m5 0h0m27 3h0m9 1h0m0 0h0m10-2h0m1-3h0m-47 15h0m9-1h0m29 0h0m-64 6h0m40 1h0m20 3h0m48-4h0m-76 8h0m10 0h0m4 1h0m26 3h0m2 5h0m-24 3h0m4 2h0m3 0h0m30-1h0m1 0h0m4-3h0m11 9h0m9-3h0m-83 6h0m18 4h0m71 3h0m2-8h0m14 7h0m-46 3h0m26-1h0m-25 15h0m13-3h0m32 2h0m3-4h0m-23 17h0m58 4h0m-69 9h0" stroke="#72bc8e" stroke-width="4.4" stroke-linecap="round"/>
<path d="M914 676h0m7-6h0m-11 32h0m4 7h0m10-6h0m1-3h0m3 2h0m7 5h0m1 2h0m3-5h0m55 3h0m-75 5h0m12 5h0m40-5h0m15-2h0m3 0h0m4 8h0m4-7h0m6 4h0m16 3h0m-98 4h0m3 2h0m3-2h0m3 6h0m6 1h0m22-8h0m7 7h0m7 0h0m3-5h0m4 0h0m16-3h0m0 7h0m4-3h0m10-2h0m10-1h0m-96 13h0m40-1h0m5 3h0m9 3h0m16-8h0m1-1h0m3 9h0m3-7h0m2 3h0m1 2h0m6-2h0m9-3h0m3-1h0m-116 15h0m2 2h0m20 0h0m6-3h0m5 0h0m10-5h0m3 6h0m4 0h0m3 2h0m12-5h0m7 5h0m13-7h0m0 6h0m3 1h0m3-3h0m-100 5h0m10 7h0m5-2h0m17-5h0m4 1h0m1 0h0m13 6h0m37-1h0m7 0h0m2-4h0m14 6h0m2-3h0m24-4h0m-145 18h0m4-3h0m0 1h0m1-2h0m16-1h0m2 4h0m1-1h0m9-6h0m5 6h0m3 1h0m20 1h0m2-4h0m6 3h0m9-4h0m28 1h0m24 2h0m13-6h0m0 4h0m-149 13h0m12-8h0m1 9h0m3 0h0m15-4h0m1 3h0m12-4h0m4 1h0m15-1h0m3 4h0m7-7h0m20 2h0m8 5h0m7 0h0m12-4h0m11-3h0m5 6h0m7-3h0m5 4h0m2-7h0m1 5h0m0 3h0m2-9h0m1 5h0m8-3h0m0 7h0m2-8h0m-155 10h0m37 2h0m8-2h0m3 4h0m2 0h0m8 2h0m13 2h0m30-8h0m4 4h0m3 3h0m0-4h0m8 1h0m4 0h0m5-3h0m-133 11h0m20 4h0m28 1h0m2-4h0m30 2h0m9 2h0m1-7h0m29 7h0m8 1h0m7-5h0m2-3h0m1 8h0m17-5h0m6 3h0m4-4h0m4 1h0m-197 15h0m9-7h0m0 4h0m18-3h0m7-1h0m15 2h0m4 5h0m1-8h0m1 2h0m2 4h0m9-6h0m3 1h0m4 5h0m14-2h0m2-4h0m11 7h0m1 0h0m22-5h0m3 6h0m1-3h0m4-5h0m3 8h0m7-6h0m30-2h0m4 4h0m26 1h0m-200 7h0m20 3h0m6 3h0m13-1h0m1-2h0m1-4h0m16 3h0m3-3h0m14 1h0m5 4h0m20 1h0m5-1h0m10-4h0m6 3h0m13-1h0m4 0h0m7 0h0m13-1h0m24 2h0m-187 6h0m51 0h0m10 6h0m38-8h0m2 7h0m12 2h0m19-8h0m1-1h0m4 7h0m0 0h0m9 2h0m1-2h0m9 1h0m5-2h0m3 2h0m0-5h0m1 5h0m2 0h0m2-7h0m1 8h0m23 0h0m9-3h0m-194 8h0m7 5h0m6-6h0m36 0h0m6 5h0m31 0h0m7-5h0m10 0h0m22 6h0m19-3h0m32-3h0m16 5h0m2 1h0m-201 2h0m26 3h0m6-3h0m1 1h0m9 1h0m3 3h0m3-6h0m8 6h0m37-6h0m57 3h0m-129 10h0m9 1h0m2-4h0m10 5h0m4-5h0m6 7h0m10-6h0m0 4h0m14 2h0m17-7h0m15 3h0m6 6h0m16-9h0m3 1h0m24 8h0m1-1h0m4-4h0m14-1h0m2 2h0m-167 8h0m10 6h0m6-2h0m12-4h0m33 3h0m1 3h0m14-9h0m11 3h0m2-2h0m7 0h0m19 5h0m1 2h0m1-3h0m6 2h0m1-4h0m6 2h0m21-4h0m1 0h0m-121 14h0m21-5h0m1 5h0m8-3h0m3 0h0m32 3h0m5-4h0m11 3h0m3 1h0m6-1h0m3-4h0m15 1h0m-72 15h0m14-6h0m10 2h0m15 3h0m5-2h0m9-3h0m-88 13h0m8 2h0m39-2h0m-10 14h0" stroke="#7d62ae" stroke-width="4.4" stroke-linecap="round"/>
<path d="M951 469h0m-33 6h0m0 4h0m12-5h0m3 0h0m23 0h0m4-2h0m-49 11h0m11 3h0m5-6h0m11 7h0m23-2h0m5-4h0m1 6h0m4-6h0m1-1h0m4 3h0m0 6h0m0-2h0m-67 5h0m8 2h0m11-1h0m19 1h0m1 4h0m3 0h0m-29 3h0m24-1h0m10 7h0m7 0h0m-51 5h0m11-2h0m14 1h0m1 7h0m6 0h0m6 1h0m9-9h0m-87 19h0m49-2h0m17 0h0m5 2h0m7-1h0m65 0h0m6-6h0m-153 9h0m0 3h0m29-3h0m34 2h0m5 6h0m6-9h0m15 6h0m5-5h0m32 1h0m6 3h0m-134 5h0m9 4h0m4 1h0m32-4h0m15-1h0m15 5h0m6 3h0m31-4h0m12 3h0m19-1h0m1 3h0m-139 3h0m4 1h0m19 1h0m9 2h0m3 0h0m3-2h0m2 4h0m24-4h0m8 4h0m19-1h0m37-2h0m1 3h0m0-2h0m22-2h0m0 2h0m7 0h0m-159 12h0m3-4h0m7 2h0m11-4h0m4 5h0m22 0h0m3-2h0m20 0h0m2 4h0m5-5h0m10-3h0m29 3h0m1-1h0m8-3h0m5 2h0m32 0h0m-189 9h0m5 8h0m6-9h0m30 6h0m7-4h0m6 4h0m12-6h0m10 3h0m16 1h0m9 2h0m0-3h0m3 3h0m10-3h0m4-1h0m17 7h0m11-1h0m10-1h0m20-7h0m25 9h0m8-8h0m-214 13h0m8 0h0m21-4h0m6 9h0m23-8h0m17 3h0m6 1h0m2 2h0m1-5h0m5-1h0m2 0h0m18-1h0m7 1h0m26 1h0m7-2h0m5 4h0m21-4h0m3 6h0m17 2h0m26-5h0m8 2h0m2 0h0m-217 7h0m13 7h0m3-4h0m20 3h0m45-7h0m4 6h0m5-1h0m27-2h0m6-2h0m15-1h0m4 3h0m9-4h0m0 6h0m6-5h0m13 8h0m1-3h0m-182 6h0m5 7h0m13-7h0m14 1h0m7 1h0m11-4h0m1 1h0m15 1h0m8 5h0m6 2h0m5-4h0m0-4h0m13 0h0m2 3h0m30-4h0m8 8h0m3-2h0m6-5h0m2 6h0m23 2h0m9-3h0m1-5h0m16 2h0m8-3h0m2 8h0m2-7h0m15 7h0m3-1h0m-221 8h0m24 2h0m5-4h0m10 2h0m0-5h0m24 5h0m57 3h0m8-4h0m25 0h0m16 1h0m24 3h0m3-6h0m22 7h0m-188 2h0m42 4h0m1-3h0m3 1h0m18 5h0m15-8h0m7 3h0m4 0h0m16 2h0m5-3h0m2 0h0m1 6h0m19-1h0m8-7h0m5 2h0m8 0h0m9-2h0m11 8h0m-103 4h0m13 3h0m32 1h0m63 2h0m-61 8h0m11 3h0m1-5h0m5-2h0m35 6h0m-28 3h0m8-1h0" stroke="#5f80c0" stroke-width="4.4" stroke-linecap="round"/>
<path d="M926 473h0m-14 13h0m8 1h0m44-1h0m-31 8h0m-25 14h0m14-7h0m4 0h0m18 6h0m-6 11h0m-42 9h0m17 1h0m8 1h0m46-6h0m-39 15h0m-66 8h0m140-6h0m27 5h0m-176 9h0m4-2h0m49 7h0m95-3h0m8 5h0m18 6h0m-180 3h0m16 9h0m29-4h0m11-1h0m65 5h0m12 0h0m36-6h0m21 3h0m-196 11h0m7-6h0m33 6h0m21 1h0m8-6h0m26 4h0m118-2h0m1 4h0m-162 7h0m36-3h0m52 2h0m-132 13h0m25 2h0m15-7h0m11 1h0m75-3h0m2 4h0m25 2h0m7 2h0m20 0h0m14-4h0m11-4h0m21 1h0m-212 17h0m78-6h0m80 7h0m28-1h0m9-7h0m8 1h0m-185 9h0m20 0h0m15 0h0m4 6h0m90-2h0m1-2h0m32 5h0m1-5h0m-56 13h0m17 0h0m45-3h0m-62 14h0m11-7h0m7 0h0m16 11h0" stroke="#4a8fcc" stroke-width="4.4" stroke-linecap="round"/>
<path d="M880 367h0m17 12h0m1-6h0m7 5h0m-93 11h0m45-2h0m2-4h0m0 6h0m1-9h0m0 9h0m26-7h0m13 0h0m-88 9h0m3 2h0m39 3h0m7-2h0m5 1h0m52 4h0m-113 2h0m9 4h0m9-2h0m3-1h0m17 0h0m2 6h0m16-8h0m24 1h0m32 0h0m1 3h0m-112 6h0m1 2h0m2 2h0m6-4h0m9 5h0m3 3h0m6-8h0m19 6h0m48 1h0m10-3h0m8 4h0m2 1h0m-101 7h0m2-5h0m4 4h0m29 2h0m7-5h0m1 6h0m30-3h0m3-1h0m-76 10h0m10 5h0m0-8h0m3 6h0m11-6h0m28 8h0m-74 7h0m13 1h0m11-3h0m19-3h0m21 8h0m3 0h0m7-2h0m0-1h0m-71 5h0m46-1h0m22 7h0m11-3h0m3-2h0m3-1h0m2 1h0m2 7h0m-116 9h0m15 0h0m18-8h0m8 2h0m10 7h0m6-7h0m15 0h0m12 6h0m-100 11h0m15-5h0m1 3h0m1-4h0m12-1h0m5 1h0m6 0h0m3 4h0m44 1h0m2 0h0m1 0h0m34-2h0m-128 9h0m15-4h0m12 0h0m9 5h0m8-4h0m6 3h0m6 1h0m2 0h0m0-6h0m7 2h0m14 7h0m3-9h0m53 4h0m-144 11h0m15 1h0m12-6h0m5 5h0m6-1h0m15-3h0m12 0h0m30 3h0m0 3h0m16-2h0m10-1h0m-122 6h0m6 1h0m8 3h0m21-3h0m15 5h0m40-5h0m13 5h0m7-5h0m1 3h0m3 2h0m11 0h0m11-3h0m7 3h0m5 2h0m0-5h0m-129 9h0m8 5h0m1-2h0m9-4h0m7 4h0m6-4h0m2 5h0m3-2h0m6-4h0m26 0h0m6 8h0m1-6h0m3 3h0m34 1h0m-132 9h0m6 3h0m8 0h0m4-1h0m8-5h0m1 1h0m6-3h0m0 6h0m6-5h0m5 1h0m10 0h0m3 4h0m32 3h0m5-8h0m12 3h0m6-3h0m21 3h0m3-3h0m8 7h0m2-5h0m16 5h0m-158 6h0m37 3h0m18 0h0m27-7h0m4 4h0m16 0h0m18 1h0m20 2h0m2-2h0m3 0h0m7-4h0m3 8h0m10-2h0m5 2h0m-160 7h0m6-4h0m26 6h0m18-4h0m32 1h0m13-2h0m11 3h0m10-5h0m18 7h0m9 1h0m-130 8h0m33 1h0m61-1h0m6 1h0m30-6h0m-134 11h0m6-3h0m10 8h0m22-8h0m7 0h0m37 7h0m8-3h0m10 3h0m17-5h0m7 1h0m7-2h0m-119 9h0m2 6h0m5-5h0m7 4h0m15 1h0m11 2h0m7-7h0m49 6h0m6 2h0m11-9h0m-90 13h0m0-1h0m9 1h0m30 3h0m33 2h0m-54 5h0m37 3h0m-26 8h0m20-1h0m1-3h0m9 9h0m-29 1h0m8 6h0m7-6h0m6 6h0" stroke="#5e9ed6" stroke-width="4.4" stroke-linecap="round"/>
<path d="M869 383h0m37 4h0m-6 14h0m-62 13h0m51 63h0m-42 6h0m23-1h0m-92 14h0m94 10h0m-91 6h0m7 6h0m53 1h0m4-8h0m31 3h0m-76 7h0m43-1h0m2 0h0m-38 16h0m93 5h0m-112 12h0m72 59h0" stroke="#62b07e" stroke-width="4.4" stroke-linecap="round"/>
<path d="M553 737l-4-1-2-3 3-1 4 1zM705 735l2 1-1 3-2-1-1-2zM681 730l1 4-2 2-2 1-1-4-1-4 2-2zM567 804l-4 1 0-4 2-3 2 4zM566 750l-1-3 1-4 4-1 4 0 1 5-5 3zM631 700l1 2-3 2-1-2 0-2 1-1zM624 705l0 3-3-1-2-3 1-3 2 0 2 2zM596 855l-4 1-5-2 3-2 5 0zM637 698l-2 3-3-3-2-3 0-4 4-1 4 4zM530 718l4 2 0 4 0 5-5-1-4-4 2-4zM692 723l-3 2-1-3 1-3 4 1zM691 754l-1 5-4-4-1-4 3-2zM581 761l0 5-3 3-2-5 1-5zM592 797l-1 5-6-1-2-5 2-3 4-1zM621 771l1-5 3-3 4 2-1 4-2 3zM566 787l-4 1-3-4 4-3 5 0 3 4zM606 724l-7-1 2-5 7 1 3 3zM615 752l2 0 2 2-2 2-3 0-2-2zM571 749l1 4-3 5-5 1-1-4 4-5zM632 724l-6 3-4-4 5-4 7 0zM610 843l-4-2-1-3 4-1 4 3 2 3zM636 755l3 2-1 1-1 1-3 0 0-2 0-2zM637 719l3-1 3 0-1 3-3 0zM571 722l-1-5 3-4 4 3 1 5zM611 741l5-6 6 3 1 7-6 4-6-3zM655 768l3 4 0 5-4-1-2-4zM671 749l-3-1 2-3 2-1 1 2zM565 813l-2 4-4 1-1-3 0-4 4-1zM606 816l-6 1-4 0-4-5 5-4 4 0 6 1zM589 843l2-2 2 1 0 2-2 2-3 0zM612 745l-4 0-3-2 3-2 3-1 2 1 1 2zM555 813l4 0 4 1 3 4-3 2-5-1-2-2zM558 840l0-4 2-4 4 2 2 3-1 3-3 1zM677 724l-1-5 6 0 1 4-2 3zM585 733l-1-2 2-1 2 0 2 3-3 1zM539 734l-1 1-2 0-2-1 0-1 4-1zM581 835l-2-1-1-3 1-3 3-4 1 4 0 4zM565 822l0 2-3 2-2 0-2-1 3-2 2-2zM606 725l3-1 3 1 2 2-3 3-5 0-2-3zM648 710l3 1 1 4-5 2-3-4zM563 731l-3 4-3 2-2-1 1-2 1-3 3 0zM595 738l1-3 2-2 3 3-2 3zM640 734l-3 3-4-2-1-4 3-2 3-1 2 3zM585 733l1 2 0 2-3 1-3-1 1-3 1-1zM617 829l-2-1-1-1 2-2 2-2 1 1-1 2zM644 727l1 3-2 2-3 1-2-3 2-3zM598 719l-1-4 3-3 4-2 1 5 1 5-4 2zM618 732l5-2 4 0 2 3-1 6-5-3zM648 694l0 2-3 3-2-3-1-4 4-1zM625 740l0 7-3 1-4-4 2-5zM699 739l-1-4 4-2 3 4-2 5zM530 710l4 5-3 5-5-2-1-6zM608 783l0-4 2-1 3 1 2 4-1 3-3 0zM536 729l0 3-2 3-1-4-1-4 2-2 2 0zM625 777l0 3-2 2-2-1-1-2 0-3 3 1zM539 687l1-3 4 0 1 4-4 2zM593 820l3 3 1 3-1 4-4 0-2-4 0-5zM605 826l1 1 0 2-1 3-3 1-1-2 2-3zM657 730l-5-1 2-4 3-3 5 2 0 6zM581 765l4 3 1 4-3 1-3-2-3-3 2-2zM632 781l5-1 3 3-3 5-4-1zM669 733l1 5 1 4-3 1-3-1-1-3 0-4zM648 726l6-2 1 3-3 3-4 0zM581 851l0 4-4 3-4-2 1-5 3-5zM628 752l4-3 4 0 0 4-3 2-5 1zM660 746l-2-4 2-3 3 1 1 5zM586 833l-1 3-3-1 0-5 4 0zM558 749l-1-2 0-2 2 0 2 1 2 1-3 1zM597 813l3-2 4 2-1 3-5-1zM648 756l2 2 2 3-3 2-2-1-3-1 1-3zM724 709l4 0 1 5-3 3-2-3zM677 701l-3 1-1-1 1-2 3-1zM687 706l4-1 5 3-1 4-4-2zM687 711l4 1 1 3-3 3-4-1 0-3zM688 691l0 5-4 1-2-6 0-4 3 1zM744 689l1 5-1 3-2 1-4 0-2-4 2-5zM725 699l-1 1-3-2 0-4 3 2zM754 700l-1 1-2-1 0-3 1-1 1 1 1 1zM735 708l4 0 1 3-3 2-3-2zM737 678l2 3-3 3-3-2-1-3zM716 703l2 2-2 2-3 0-1-3 2-1zM730 722l0-2 2-1 2-1 0 3-1 2-2 1zM731 703l0 3-2 1-1-3 1-2zM708 673l-1 2-1 2-2 0-3-1 2-3 2 0zM716 693l2-3 4-1 2 4 0 3-2 2-4-1zM705 690l1-4 5-3 2 2-3 5zM759 700l-2 0-2-1 0-2 3-2 2 2zM676 705l-1-4 0-3 3-2 2 2-1 3zM705 704l-4 1-2-3 2-2 3-3 3 2 0 3zM718 703l-3-2 0-3 2-1 3 2 0 3zM663 621l0-1 1 0 1 1 0 2-2 1 0-2zM744 628l1 2-3 2-3-2 1-3zM675 647l-2 0-1-3 1-2 2 0 1 2zM679 652l-2-3 0-3 2-2 3 0 2 3-2 2zM733 653l3-1 1 3-2 2-2-2zM778 670l-1 3-3-1-1-2 2-1zM653 638l2 2 0 4-3-1-1-2zM650 638l2 3-3 3-2-3 0-4zM708 658l-3-1 2-3 3-2 0 4zM723 651l1-2 2 0 0 3-2 1zM668 663l-2-1-1-4 2 1 2 1zM697 659l-1 3-2 0-1-3 1-2 3-1zM744 665l-1 3-3 0-2-1 1-3 2-2 2 1zM640 623l2 0 3-1 0 3-2 2-3 1-1-2zM743 653l1 2-2 1-1 0-2 0 1-2 2-1zM662 624l-3-3 3-2 4 2 0 3zM670 661l0-3 3-1 2 2-2 2zM772 669l0-2 2 0 3 3-2 2zM739 660l-1-3 3-3 4 1 0 3-2 3zM638 642l2-2 2 1 2 1-2 2-2 0zM682 655l3-4 2 0-1 3-2 2zM705 663l-2-2 1-2 3 0 0 2zM656 629l0-3 3 0 1 2-1 2-2 0zM746 660l0 4-4 1-2-2 2-3zM731 656l3 4-3 3-2 0-2-4zM346 604l3-1 2 2 1 3-3 2-2-1-1-2zM478 741l4-4 4 2 0 5-6 2zM376 613l-2-2 3-2 3-1 1 3 0 2-3 1zM387 643l2 4-2 2-5 0-2-4 3-3zM390 606l2 1 0 3-2 3-5 1 0-5 1-3zM406 615l-3 2-3 3-6-3 0-4 4-1 4 1zM497 731l-1 3-2-1-1-1 0-3 2 0zM430 697l0-3 4 1 1 5-3 0zM338 594l4-4 5 2 3 3-2 4-4 3-4-3zM433 668l1-3 2-2 2 2 2 3-2 2-3 1zM441 698l5 1 1 2-4 1-4 0-1-2zM393 650l1-2 3 1 0 1-1 2-2-1zM418 649l-3-2 2-4 5-4 4 2 1 3-4 4zM426 690l-3 1-1-3 1-3 3-1 2 2zM374 622l1 3-2 3-3 2-1-4 2-2zM491 733l-5 1-2-5 5-4 4 2zM381 688l-3-3 0-4 4-3 2 4 1 4zM440 653l-2 5-5-1-3-6 6-2zM446 651l2 2 0 4-2 2-3-3 1-4zM346 624l2 2 1 3-4 0-4 0 2-4zM457 710l3-4 4 1 3 2-1 5-4 2-3-3zM373 618l-3-2-1-3 3 1 3 1 0 3zM404 688l2-5 5-1 2 5-5 4zM428 687l5-1-1 5-2 4-4-3-1-3zM370 636l2 1-2 3-3 1-1-1-1-2 2-2zM379 708l-1 2-3-1-2-2 2-2 3 0zM427 626l2 0 1 2-1 2-2 2-1-2-2-3zM442 645l-2 4-5 1 1-4 4-3zM385 622l-5-1 1-5 5-2 2 4zM395 639l-1 2-3 3-3-3 0-2 4-2zM427 699l-4-3-2-5 4-4 5 4 1 5zM460 726l0-4 4-1 3 4-3 4zM436 644l0-3 1-2 3 0 2 3-2 3zM442 631l3-1 2 1-1 3-1 0-2-1zM399 625l-3 1-3-3 3-1 2-1 3 1 1 3zM407 634l-2 1-3-2-4-3 4-2 3 1 2 2zM365 659l5-5 5 1 2 6-7 2zM371 647l4-4 5 2 0 5-4 4-5 0-2-4zM353 633l-2 2-2-1-2-2 2-3 2 1 1 1zM463 722l2-6 5-2 3 3-2 5-5 4zM457 738l-3-1-2-3 2-2 3 0 2 3zM413 652l-1-3 2 1 3 1 0 2-2 2zM504 732l-3 2-3-3 2-3 3 1zM359 603l-1 3-5-3-1-4 4 0zM421 653l2 1 2 4-1 2-2-1-2-3zM422 637l0-3 1-3 3 0 2 2-1 3-2 2zM419 679l-2-2 0-3 2-1 2 2 0 2zM388 652l-1 3-2 0-2-2 1-4 2 1zM418 618l-1 4-3 1-3-2 1-3 1-4 2 2zM389 691l3-4 5 1-1 5-4 2zM406 658l-3-2 1-5 4-1 2 4-1 4zM390 611l1 3-3 0-2-1-1-3 3-2zM421 707l1-3 3 1 2 2 0 3-2 2-2-2zM373 679l2 2-3 2-5 0 2-3zM374 706l0-2 2 3 1 2-2 0zM367 635l-4 4-5-2-3-5 5-2 5 0zM345 606l2 2-3 5-6 2-1-3 3-5zM365 652l-7 2-2-7 4-4 4 2zM458 716l1-2 2-1 1 2-2 3-2 0zM377 617l3 2 2 5-3 2-2 0-3-3-1-6zM383 765l-1 3-2 0-2-1-1-2 2-2 2 0zM353 747l0 2-1 1-3-1 0-3 2-1zM413 744l-2 1-2 0-1-1 0-3 3 1zM398 770l-1 1-2-1 0-3 2 0 2 0zM374 733l0 2-3 1-2-1 0-2 1-2 3 0zM379 739l-4 0-1-2 0-2 3 0 1 1 3 2zM383 731l2 1-1 2-1 2-2-2zM405 743l-1 4-4 0-2-4 3-2zM396 761l2 1 0 3-3 0-1-2zM380 764l1-3 2-3 2 3 2 4-3 1-3 1zM392 749l2-3 3-1 2 1 0 3-2 2-3 1zM408 747l4 0 2 4-4 3-3-4zM400 764l1-3 2-1 2 4-2 4zM411 747l-2 1-1-2 0-2 2 1zM411 752l3 0 2 2-1 2-2 1-2-3zM453 798l-1-2 0-2 3 0 2 2-1 2zM405 779l4 2-3 5-5-2-2-5zM459 807l3 3-2 4-4 0-2-3 0-3zM483 764l-4-2 0-2 2 0 3 2zM429 785l-2-4 4-1 4 3 1 3-3 1zM428 768l-4 1-4-2-1-5 5 0 5 1zM394 786l-3 2-3 2 1-4 1-3 2-1 2 1zM405 783l1-3 3 1 0 4-2 1zM458 824l2 1-1 2-2 1-3 0 1-3 1-2zM449 782l2 2 2 3-3 1-4-1-1-3 1-3zM461 760l-1-1-1-2 2-2 2 1 2 2-1 2zM448 814l-5-3 3-3 5-1 1 4zM451 804l2 1 2 2 0 2-2 0-2-2zM475 778l0 2-4 1-1-3 0-2 4 0zM390 786l3-2 4 2 2 5-4 1-3-2zM453 802l-1-2 3-1 2 1 0 3zM441 772l-2-4 5 0 3 3-1 3zM444 802l-1 2-3 0-2-2 4-3zM473 773l3 4-2 2-3 3-3-3-1-3 2-3zM438 811l3 5-1 5-6 0-1-6zM470 803l-2 0-2-2 0-2 2 1 3 1 0 2zM442 818l2-5 5 2 2 5-6 1zM437 812l2 2 0 3-3 2-2-1-2-3 3-2zM430 762l-6 2-4-5 2-6 6 1zM425 817l3 1-2 2-3 0-1-2zM509 495l-2-1-1-2 1-2 2 0 2 0-1 3zM477 461l0-1 2-2 3-1 0 3-3 2zM511 505l-2-1 0-2 1-1 3 0 0 2-1 1zM482 466l1-4 5 3 1 3-3 2zM479 462l2-1 3 0 1 2 0 3-3 1-3-2zM506 508l2-2 2 1 0 1-1 3-2 0-2-1zM500 495l2-1 4 2 0 3-3-1zM514 497l3-1 2 2-2 2-2-1zM498 487l-3 0-3-1-1-2 0-3 4 2 1 1zM498 511l0-6 3 0 2 4-1 2zM501 482l1-2 2-2 3 0 0 3-3 2-2 0zM520 494l-2 3-3-1-2-3 1-4 4 1 3 1zM516 506l2 2 1 4-4 1-3-2-1-4zM509 498l-3 1-1-2 0-2 1-3 3 1 0 2zM495 483l-2-1-1-3 1-3 2 0 2 3 0 3zM549 519l-2 0-1 0 0-3 1-2 2 1 1 1zM500 479l0 3-4 1-4-2 2-4 2-2 4 0zM515 498l-3 0-2-2 1-3 4 1zM489 480l3 0 3 2-1 2-3 0-1-2zM491 507l3-1 2 0 2 3-2 2-3 2-2-3zM478 470l-1-1 0-3 4 0 2 1 1 2-2 1zM478 460l-1 3-3 1-3-2 2-3 3-2zM487 477l-1 2-3 0-2-1 0-2 2-2 2 2zM510 497l3 0 2 1 1 2-1 2-4-1-1-2zM485 467l-2-2 1-2 3 1 2 2-2 1zM420 503l-2 0-2-2 3-3 3 0 1 2zM441 533l-3-2 1-4 4 1 2 3-1 2zM460 537l2 2 2 2-3 1-3 0-1-2 0-1zM457 544l-5 0-1-4 6-2 3 3zM476 543l1 1 0 3-3 0-1-3zM452 540l3 1 1 2-2 2-2 0-1-3zM473 551l4 3 1 5-4 0-2-4zM485 547l2-1 1-1 2 1 1 2-2 1-2 0zM448 533l-2 0-1-3 2 0 3 0 0 2zM492 559l0-2 2-1 1 2-1 2zM457 545l-1 2-3 0-2-1 1-4 5 0zM475 548l-2 3-3 0-1-4 1-2 3-1zM414 490l3 0 0 4-3 1-3-1-1-4zM422 507l1 2-2 2-2 1-1-4 1-3zM475 539l2 0-1 4-3 0 0-2zM599 594l-5 0 0-4 5-1 3 1 2 3zM519 561l1 3-2 4-4-3-3-5 4-3zM496 594l0 2-2 2-2-1-1-1 1-2 2-1zM510 565l2 3-5 1-4-2 0-2 3-2zM493 587l4 4-2 6-6-2-1-7zM503 602l-3-1-3-2 2-2 2-2 2 2 1 2zM486 578l-2 0-1-3 1-2 2-1 2 2 0 3zM609 600l-5-3 0-4 3-4 4 1 2 5zM473 583l-4 2-3-1-1-4 4-2 3 1zM585 597l-4 3-2-2 1-5 4 1zM570 584l-1 1-2-1 0-2 3 0zM461 575l1 0 0 1-1 2-2 0-2-1 2-1zM500 606l-3-2-3-2 2-2 4 0 3 3 0 3zM524 616l-1 3-4 4-2-2 0-4 5-3zM509 565l-3 2-3-1-1-4 5-1zM504 604l1-4 1-2 2 1-1 4zM535 558l3-3 4-1 1 3-4 2zM595 590l-3 3-3-1-2-5 5-1zM532 547l-3 3-5-2-1-6 4-1 5 1zM506 595l1-2 2-2 4 1 0 4-2 2-4 0zM551 598l-1 3-3 2-1-4 3-3zM519 576l-1-2-2-2 3-1 2 0 0 1 0 2zM552 612l-2-4 0-3 3-1 3 4-2 2zM553 622l-3-2 1-4 3-1 3 0 0 3-1 3zM471 592l-1-1 1-1 2 1 1 1-1 1zM519 577l0 3-2 0-2-1-2-3 1-2 2 2zM512 591l2 3-1 2-1-1-3-2 2-2zM506 606l-4-1 1-4 3 0 1 2zM501 572l4-2 5 1 1 4-3 3-4 3-3-4zM470 575l2 2 0 3-1 1-2-1-2-2 1-2zM402 529l3 0 3 1-2 3-3 1-2-3zM389 530l2 2 0 3-3 0-1-3 0-1zM388 524l1-3 3 0 2 2-1 3-3 0zM380 521l3 2 0 2-1 2-1 0-2-3 0-2zM409 545l-3 0-2-2 0-1 3 0 3 0 0 2zM377 530l-3-1-1-4 3-2 4 0 2 3-2 3zM395 542l2-2 3 2 2 3-2 1-3-2zM386 533l2 0 0 3-2 2-2 1 0-3zM732 816l-1-1-1-2 1-1 2 0 1 2zM725 769l2 0 0 3 0 3-2-1-2 0-1-4zM719 781l-3 2-1-1-1-2 3-2 3 0 1 1zM744 804l1-1 2-1 1 1-1 2-2 0zM709 786l-3 1-2-3 0-4 3 1 3 3zM730 804l0-2 3 1 1 2-3 0zM753 805l2 0 0 3-1 1-3-2zM697 788l1 2-1 2-3-1 0-2 1-2zM736 813l1-4 4-1 2 1-1 3-3 3zM729 797l-1 4-5-2 1-3 3-1zM802 771l-1 2-3 0-1-2 2-2 2-1zM792 775l3-2 1 3-1 3-3-1zM802 756l2 2 1 2-1 3-2 0-2-2 0-2zM806 777l3 0 2 2-2 2-2-1zM806 783l2-2 2 1 0 2-3 2-2-1zM814 775l0 3-2 0 0-3 2-2zM669 341l0-1 2-1 1 1 0 1-1 1-2 0zM696 380l2 1 1 2-3 1-2 0-1-3zM649 403l0-2-1-3 2 2 2 1 0 3-2 0zM644 371l2 1 0 2-2 2-2 0-2-2 2-2zM704 403l-3 0-1-2 0-2 2-1 2 1 1 2zM593 525l1-2 2 0 1 2-2 1zM651 365l1-4 5 2 0 5-4 1zM794 360l2-1 1 1 1 1-2 1-1 0-1-1zM690 544l-4-2 2-4 6 1-1 4zM665 455l3 1-1 3-1 1-2-1-1-2-1-3zM798 273l3 2-1 4-3 1-1-3zM705 406l-2 0-1-2 1-2 3 1zM689 478l-2 3-3 0 1-4 2-1zM778 355l2 0 2 2-2 1-2 0-2-2zM625 507l1 0 0 1-2 1-1 0 0-1zM667 371l-3 0-1-2 1-3 3-2 2 3zM688 532l-1 3-2 2-3-2 0-3 1-3 3 1zM723 582l0 4-3 2-4-2 1-4 2-3zM609 374l-1-5 2-1 3 1 0 5zM687 516l-1 0 1-2 1 0 1 0 1 1-1 0zM698 357l2 2 0 4-4 0-2-5zM717 560l3 3 0 3-3 2-3-4zM759 311l-4 1-1-4 0-3 4 0 4 1-1 3zM667 534l1-2 3 0 1 2-2 2-2 0zM682 475l0 4-3 0-2-2-1-3 2-3 3 2zM822 496l1-2 2 1 2 4-3 1zM914 418l-4 1-3-1 4-5 3 1zM814 465l2 0 2 2-1 3-2-2zM753 508l-1-2 0-2 2 1 1 2-1 1zM794 509l1-3 4 0 2 2-1 2-3 1zM796 481l1 2-3 1-2-2 0-1 2-1zM781 507l1 4-3 0-3 0-1-3 2-2zM889 473l-3-2 0-3 3-1 4 2 0 4zM868 429l-2 3-2 3-3-2 0-4 1-3 3 2zM866 592l0 1-3 0-2-2 0-2 3-1 2 2zM753 535l-2 2-3-1-1-3 4-1zM862 574l1-2 4 0 1 1-1 2-3 0zM816 468l-2 1-1 1-1-1 1-2 1-1 1 0zM847 587l0-2 4-2 2 2-1 3zM833 512l1 2-1 3-2-2 0-3zM816 564l4 0 3 1 0 3-3 3-2-2-2-2zM859 593l-1 1-2-2-1-3 2 0 1 1zM873 488l-1-2 0-2 2-2 3 2 1 2-1 2zM826 437l1-2 2 1 1 3-2 2-2-1zM806 536l-3-4 5-2 4 3-2 3zM1035 649l-3-2-1-2 2-2 4 1 1 4zM1034 594l3 2-1 3-2 1-2-2-1-2zM1024 647l1-4 3-3 3 2 0 2-1 2-3 1zM857 536l1 2-1 2-1-2-1-2zM903 570l0-3 2 0 1 3-1 2zM1041 611l-3 0-2-3 4-3 4 2zM1071 590l0 2-2 1-1-2 1-2zM928 505l1 2 1 3-3 1-3-2 0-3 2-2zM858 581l-1 1-1-1 0-3 1 1zM958 627l-2 1-2-2 1-2 2 0 2 1zM1038 629l0 5-4 0-4-2 4-3zM948 529l-2 0-1 0 1-2 2-1 2 0 0 2zM986 576l-1-2 2-2 1 1-1 3zM1056 627l0 3-2 3-2 0-1-3 2-4zM921 575l0-4 5 1 1 4-3 2zM1017 622l-1 1-2 0 0-2 1-1 1 0 1 1zM948 613l-4 1-2-4 4-3 2 2zM927 616l-3 0 0-2 2-2 1 1zM917 553l1 0 1 2 1 2-2-1-1-1zM1060 614l1 2 0 2-1 0-2-1 0-3zM948 505l-3 0-3-1 0-3 1-2 4 1 0 3zM929 575l2 1 0 2-4-1 0-2zM924 583l-2 0-2 0 1-1 2 0 1 0zM983 625l2-2 2 0 3 2-3 2-3 1zM906 553l-1-3 2-2 3-1 0 3-1 4zM989 777l-1 0-1-1 0-2 1 0 1 1 0 1zM954 736l-4 2-2-4 2-4 4 1zM1038 826l-2-3 1-4 4 0 1 5zM997 712l1 3 0 3-3-1-2-1 2-2zM994 741l2 0 2 2 0 3-2 2-4 0-2-4zM895 833l0-4 3-2 4 3-2 3zM1011 781l3-3 3 1 2 3-3 3-3-1zM1005 797l-1 3-1 2-2-2 0-1 1-3zM911 839l-2 4-4-3-1-4 5 0zM901 887l-4 3-2-4 0-4 3-2 3 3zM987 861l-2 2 0-3 1-2 2 0zM967 746l2 3-2 1-3-1-1-2 1-2zM903 809l2 1 1 3 0 3-4 1-1-2 0-3zM908 753l-2-4 2-4 3 2 0 4zM955 849l3 2-1 4-3 0-1-3zM886 868l1 2-2 1-2-1 0-2zM981 783l-2 1-1 1-3-1 1-2 3-1zM1002 805l3 0 1 2-1 2-4-1-1-2zM989 849l-2 3-4-1 1-4 4-2zM1005 839l3 0 0 3-2 1-2 0-1-3zM876 821l-2 2-2-1-2-2 2-3 3 0 1 2zM916 690l-3 1-3 0 2-3 2 0zM924 859l-2 1-1-2 2-2 2 1zM992 820l-3 0-2-2 4-2 3-2 1 3zM879 877l-2-1 0-2 2-2 3 0-1 3zM687 851l-2 2-3 1-3-1 0-3 2-3 3 2zM632 916l0 1-1 2-1-1-1-1 1-1 1-1zM702 900l-1-3-1-3 3-1 2 0 2 4-2 1zM676 930l3 0 2 2-1 3-4 0-1-3zM653 894l2-1 1 1-1 2-1 1-2-1zM670 902l-2-2 2-2 4 0-1 3zM606 919l3-1 2 3-1 4-3-2-2-2zM615 907l-1 2-3 0 0-3 2-1 2 0z" fill="#ffffff" stroke="#161616" stroke-width="1.4" stroke-linejoin="round" filter="url(#rgh)"/>
<path d="M709 344l10 0 13 8 13 7 9 10 8 13 6 9 0 10-6 7-13 0-13-5-12-2-11-4-9-9-4-10 2-13 2-13zM677 457l13-4 10 4-2 10-13 5-10-5zM859 408l10-5 15-2 15-1 8 6-2 8-11 4-10 7-9 0-8-7-7-5zM832 465l9-2-6 11-7 10-4 11-4 11-7 0-2-11 4-11 7-8zM813 529l9-6 4 13-4 17-9 8-5-13zM1000 776l7-3-1 8-9 1zM1030 804l8-3 2 8-7 2zM967 849l7-2 3 7-9 3zM871 829l10-3 1 11-10 1zM927 880l10-2-2 7-10 1zM352 668l10-2 7 5-3 7-10 0zM376 660l16-2 10 7-2 12-12 9-11-7zM413 782l15-2 9 10-9 9-13-2zM456 780l10-5 5 13-11 4zM415 522l9 6-4 9-9-5zM522 579l8-2 3 11-9 2zM519 685l24 5 21 4 15 6 2 8-11 9-10 11-9 6-8-10-11-15-9-13zM628 739l17-3 13 9-9 13-15-2zM662 754l15-5 6 13-12 9-11-5zM636 771l13-3 5 13-13 5zM816 711l10-2 7 8-9 9-11-2zM568 813l11-4 4 13-11 4z" fill="#ffffff" stroke="#161616" stroke-width="1.6" stroke-linejoin="round" filter="url(#rgh)"/>
<path d="M806 233l3 3 1 0m2-2l-1 3-1-2m-23 15l3 3m0-9l-1 1 0 2m6-4l-3-1m4 0l1-1m0 5l-2-3-2-2m22 4l1 0m0-2l3 1m-31 14l-3-3 2-2m8 11l1-1 1 2m2-3l2-1-2 2m4-4l3-2m10 0l2 1m-13 13l2 3m1-2l-1 2m9-9l3-2-2-1m8 21l3 3m-66 13l-2-2 0 2m25 0l3 2m-2-4l-3 2m18-10l1 0m-49 23l1 1m0-1l0 1m1-6l3 3 1 0m0-1l2 2m0-9l-3 1m9 1l1-2 2 2m6-1l3-1-2-1m21 8l-1-2 0-2m18 1l-1-1 1 1m2-4l2-1m-1 0l3 1m0 6l0 1m11-7l-3-2 0-1m-103 23l1-1m15-2l-3-3-2 2m57 4l2 3m17-6l-2-2m-156 15l-2 0m16-1l-2 2-1 0m10-4l-2-1m2 4l0 2 2 2m2-5l-1 0 0 2m9-4l2 0-1-2m7 7l1-2 1 0m13 1l0 2 1 1m2-6l-2 0 2 1m4-2l0-2m0 5l0 2-1 1m6-8l-3-2m14 0l-1-1m62 0l-1 3m19 5l0-1m4-2l1 0 0 0m2-3l2-3 2 0m-190 21l3 0m18 2l3 0-1-1m5-6l3-1 0 1m20 1l-2 3-1 1m28-2l-3 1-2-2m10 0l-2 0m2-5l-2-2 2 1m1 5l2 0 2 2m1 0l3-3-1-2m12 7l-2 3m38 0l1 3m2-11l1-3 0-2m20 11l0 2m4 0l-1 3m-174 3l-2 1m25 2l-2 0m9 0l2 0m37-7l3 2m59 1l1 1m4-5l3-1-1 1m-165 18l-3-1-1 1m15 1l-1 1m88 2l-2 3m80-7l-1 3m8-1l-1-2 2 0m-178 11l-3-1-1 2m4 5l-3-1-2 1m53-10l3-1m9 0l3-2-1 2m21 1l-1 0 0-1m6 9l-2-1-2-1m9-1l2 0m63-3l0 3 2 1m6 5l-3 2m-174 5l-2 0 2 1m3 0l1 1m2-7l-3 2m5 6l-1 2-2-2m7-9l2-1m9 5l-2-3-1 1m9 4l2 2 2 0m9 2l-2 3m45-10l0-2-1 2m6 5l-2-3m92-2l-1-1-2 0m4 6l3-3m-2-5l-2 1m-184 22l-1-3-2 1m7-8l3-3m0 1l3 1m10 5l0-2-2 0m43 2l3-2-2 1m120-2l1-2-1 2m-157 15l-1 1m21-2l-3 2-2-2m56 5l2-1-2-1m28 3l-3 0m18-6l-3 3 2 0m9-2l-3 3m14-5l3-1m-2 9l1 0-1 1m14-6l1-1 0 1m-133 17l-3 0m12-9l-3 3 0 1m32 5l-1 0m-72 1l1 1m0 1l2 2m2 7l-3-3m42-4l0-2 1-2m3 4l-1-1 1-1m2 3l-3 1 0 2m17 1l-3-2m25-5l3 0m6 8l-2 2 1 2m3-7l1 1 1 2m5-6l-3 1m16 4l1-3-1 2m2 0l2-2m10-6l-2 1m27 1l-1-3 2-2m11 5l1 3m-161 9l0 1m29 8l-2 1m5-5l-2-1 2-2m2 2l-2 2m5-7l-2 3 2 2m40-3l-2-3-1 0m23 3l2 3m1-5l1-1 0-1m0 4l-2-2-1 1m4 0l-3 3m5-2l3 2m0-4l-2-2-1 1m25 1l-2-3-2-2m30 4l-2 1 0-1m-170 16l-1-1 0 0m9 6l-3-1 1-2m2 3l3 1m1-8l-1 2-2 1m77-2l2-3m0 0l2-2m1 6l1-2m-94 11l3 3m9-2l3-2m2 1l0-1-1 2m15 9l1 2 1 1m27-15l-3-1m30 9l1 0 1 2m-80 8l2 1m8 4l-2 2m38-6l-3 3 0 2m14 0l0 3m11-3l2-1 0 2m0-2l-1 3m20-11l-3 2 1 0m5-5l-2 0m3 5l3-1m2 6l3 0m11-7l-2-3-2 0m27 9l3 2-2 1m-145 5l2 1m0 3l3 2m82 0l3-3m2 1l-1 1m5-7l-2-3-2 0m24 0l-2-1m6 4l0 3m4-1l-1-3-1 2m8 4l-1 0 1-1m0 0l-3 0m7-2l2-3 2 2m-1 4l2 0 0-2m1 1l1 3 1 1m-134 7l3 3m-1 3l-1 1m94-11l1 2 1 2m23 5l1-2m-121 9l-3 0m8-5l2 2m1 0l-1-1 2-2m17 7l-3 3m5 0l2 0 1 1m7-6l2 0m56 0l2 0 2 1m3-5l2 1m6 8l3-3m7-6l-3-2 2-2m2 14l0 2m1-5l1 3 2 2m-91 0l-3 1m9 3l0 3m5-2l3 1 1 1m-3 0l3 0-1 1m2-5l1 2m2-4l3 0m14 6l2 0m9 3l2 0m27-6l1 2m-62 5l2 0m4 6l1 3m1-2l3-1 0 1m0 0l2 0 0 0m8 2l3 1 0 2m4-6l3 0-1-2m13-4l0-3-2-2m7 9l0 3m11 1l2-2 1 0m2 3l3-3 0 0m5-3l-2 2-1 0m-79 17l1 0m5-4l-2 2-1 1m13 1l2 2m10-11l-3-1m7 4l-1-2-2 2m6-2l0 3m1-1l-3 0m3-1l2 2-2 1m7-5l-3 2 2-2m34 7l2-3m-1-2l-2 1m4 8l2 1m5-8l-2-2-1 0m13 8l-3-2m-23 13l2 3m8-5l-2-1m3 2l0-3 0-2m15-4l1-3m13 3l-1 3 0-2m6 1l-1 2 2 1m3 3l1 3 2 0m-2-3l2 0m6 2l-2 2-1 2m-45 10l2 2-2-1m6-12l1-3m0 10l1 2m7-9l2 3 1-1m24 2l-1 1m16 2l-2 1m-49 10l3 2m44-5l-1-1 2 2m7 0l-3 3 1 1m7 0l2 3 1 1m-70 6l3 0m-2-6l2-1m165-230l2 0-2 1m-7 7l3 1 2 0m-3 3l2 3 0-1m0-5l2 0 1-2m18 4l1-2 2 0m-42 16l-2-2-2 1m14-5l2 0m28-2l-1-2m15 3l3-2 2 1m-108 10l3 0 2 1m14 8l0-3-1 1m4-7l0 3m1 0l-1-1 2-1m9 2l1 2m-1-4l-1 1-1-1m30 0l3-2m34 2l-2 0-1 0m3 1l-3-3-2 1m-81 18l2-3m25 1l1 1m0-2l-3 2 1 2m3-4l3-3m-2 1l-3 3m60-4l2 1m-1 1l3 1-2 1m-99 8l3 1-2-2m3 1l2 0-2-1m40 9l-1-2 0-2m5 7l2 0m9-2l1 0-2-1m7-2l-2 2 1 1m2 1l-3 3m29-9l-2 0m-97 15l3 2m29-6l1-3-2 0m27 4l1-1 2 0m6 1l-1-1-1-2m3 1l0 3m19-1l3 3m-102 11l2 1m-2 0l1 0m2 0l2-3 0-1m0 5l-1 2 2 0m85-4l-3-1 2 1m1 4l3 1 2 0m-2-5l-1 2-1 0m-90 6l2-2m65 6l-3-3-2-2m17 7l0-3 1 0m14-1l3 3-2 2m6-1l1 0 1-2m-140 16l-1 0m26-2l-3 1m20-2l-2-3m11 5l-1 0 2-2m9-6l-1-2 1 1m54 10l-1 0m18-8l-2 2 1 0m3-1l3 1m-146 9l3-2m1 4l0-3 1 0m3 5l3 0m-1-3l0-2 0-2m46 9l2 0m28 1l-1-1m12-3l2 1 0 2m0 0l-1-2 2 0m8 3l-3 0m32-6l1 1 1 1m3 5l2 3m0-9l2 3-2-2m2 0l3 3-1-1m-2 5l3 1-2-1m0-4l0-3 0 1m-148 7l-2 1 0-1m52 1l2 2m-49 11l1-3-1 2m2 3l-2 2 0-2m14-4l3-3m31 5l2 2 1 2m1-3l2-3m71 6l1-3m8 1l0-1m2-4l2 3 1 0m0-3l2-1m-1 4l-3-2m6 4l1 0-1 1m-152 8l0 3 1 1m4-4l-2 3m4-2l0 3 0 0m5 1l1 1-2-2m1 4l2 0m11 2l2 2m21-9l1 3m60-8l-1 1m12 8l-2-3m29 4l0-3-1 0m5-5l2-2m-141 21l-2-3-2 1m8-2l0-2m43 6l0-3m37-1l3 0m26-4l-3 1m29 4l2 1m-2-2l-3-1 1-1m2 2l2-3 2 1m8-1l2-2m-144 20l1 3m2-1l-2 0 2 2m1-5l-2 1m5-5l3 2m125 5l1-2m7-2l-2 0-2 1m-130 9l1 1m35 6l1 0 2-2m60 0l-1 2m-90 8l0 3m1-1l3-1-1 2m4 1l1-1 2 2m-1-1l1 2 2 2m18-8l1-1 1-2m4 4l1-1m33 1l-1 0m30-1l2 0m4-4l0 3-1-2m2-4l-2-3 2 0m2 8l-1 0 2 2m7-6l-3 2 2 0m-112 10l-2 1m4 0l2-3m-2 3l2 0 0 0m0-1l2-1 2 0m3 9l1-2m-1 3l-3 1m6-1l3 2 1 0m-3 0l-2-1m8-2l-3-3m10 4l3-2m7-6l1 3 2 0m8 1l1-3m39 6l2 1m14-8l-2 3-2 2m-89 6l-1 0m14 2l-3-2 2 1m11 1l3 2-1 1m0 2l-2-1m13 2l-1 3 1 0m22-8l1-2 1 1m13-2l0-1-1 0m2 0l0 1 2 2m3 1l-1-1-2 1m4 3l-3-2 2 2m-49 13l2-2-2-1m7 4l0-2m0-4l1-1 0-1m13 9l-2-3 1-2m13 2l-1 1m3-1l-2 0m3-1l0-3 1 2m2-1l1 0m81-138l0-2-1 1m-20 13l2-1m0 0l0-2 0-1m16 2l-1-2m9 1l3-2m2 6l2 0m0-8l1-2m2 7l3 1m-48 9l-3 0m5 5l1 0 2-2m11-3l-1-1m10 4l-2-2m16 0l-1 0-2 0m16 1l-2 1m11 1l-2 0-1 2m-63 6l3-1m-3-3l-2 0-1 0m12 6l-2 2-1-1m44-3l2-1m-52 12l-3-3m15 9l-3 1m17-4l-1 1m25-2l3-2-1-1m7-2l-3 2 0-1m-62 16l3-3 0-2m-3 7l2 1-1-1m1-6l0-3m3 9l1 2m5-11l-1 2-1 1m19 8l1 0-1 1m4-3l-1-2-1-2m80 4l3 0-2 0m4 1l-1-2m-161 15l2-3m10 3l-1 1m1-3l1-2m6-5l2 2 2-1m-3 5l-3-3m17 4l1-3 0-2m0 6l3 1m6-2l-3-2 2 2m2 0l3 0 1 1m9 2l-3 0m22-4l3 3 2 1m13-3l-3 3-2-2m7-2l1-2m0-1l-2-3m31 6l-2-3 2 0m1 4l-3-2-2-2m7 0l3 0-1 0m1-2l0-2m5 0l3 0-2 2m1-3l2 3 0-2m0 5l0 2-1 1m3-5l0 2-2 0m16-2l-3 2m7-4l-3 2-1-1m-157 17l0-1m35-4l-3-2m14-1l-2-1m12 7l-3-1 2-1m26 3l1-1m14 1l-2-3 0 2m4 3l-1 2m8-7l0-2m5 1l3 1m-3 4l-2 2m6-4l0 2m9-4l1-2-2 2m30-4l-2 1 2 1m14 9l2-2m3 2l-3 2m10-3l-2 1 0 2m-172 9l-1-1 1 0m36 0l2 0m3-1l1-3m48 5l-3 3m51-2l2 1-1 0m26-8l3-1 1 1m2 3l1 2m2-8l-1 1-2-2m5 11l-1-2m-188 5l1 0m4 4l2 1 1 2m-1 2l2 1m-1-10l-2 2 0-1m40 6l0-3 0-2m13 2l-1 0m2 1l1 3m-1-2l-2 3 0-1m45-6l-1 0-1 0m55-3l3-1-1 0m34 2l3 0m-2 7l0 2m5-2l-2-2m6-1l-2 0-2 2m4-2l-2 1-1 0m20 4l3-2m-230 13l3 1m0-4l2-3-2-2m7 2l-2 0m16-1l-1-3-2-2m81 4l-3-2 2 2m13 8l1 3m59-7l-2 2 1 1m29-8l-1 2m4-1l3 1m11-1l-3 0-2 0m15 9l-2-3m-183 6l-2-3-2 2m15 1l0 3m4-5l2 0 2-2m15 9l-2-1-2-1m13-2l3-1 1-1m10 9l-2-1-2 1m52-6l-3-2m20 3l3 1 1 2m-2-7l-2-3 1 2m53 11l1 2-1 2m7-15l2 3 1-2m-3 0l0-1-2-2m2 6l-3-1m5 8l2 0-1 2m0-9l-1 1m4-5l-1-2m-238 21l2-3 1 1m0 5l-3 3 1 2m16-7l3-1m1-3l0-2 2 1m0 7l-3 2m11-8l3 0 1-2m15 1l1-1m15 9l1 3m27-10l-3 1m8 6l0 1-2 1m51-11l0 2 2-2m18 3l1 3-2-1m22-7l1-1m16 12l3 3 1-1m15-8l0-1m3 1l3 1m6-3l2 2-2 1m-224 10l2 1m5-1l-2-2 1-1m28 5l-1 1m13-4l2 1 1 1m-1 1l-3 2 2 1m11-6l-3 2m5 3l-3-2 2 0m3-4l-2-2m4 10l-1 2 1 1m4-10l3 3-2-1m2-4l3 3 2 0m-1-2l-2-2 2 0m8 7l-3 2m5 3l-2-1 2 2m0-4l1-3 2-2m8-1l-3-1 2-1m41 2l-1-1m27 7l2 0 0 2m4-3l-3 0 1 0m39-1l-2 2-1-1m11-2l-1-3 0 1m-97 17l0 3m2-8l-3-1m6 9l-2 0-2 0m8-8l-2 0-2 0m7-1l3-2m7 5l-3-2m9 5l0 1 0-1m2-2l0 2-2-1m10 2l-3 3m9-2l0 3 0 2m2-11l-2 1-1-2m9 3l-2 2m13-3l-1-1-1 2m15-1l0-1-2 1m17 1l-1 1m8-4l3-2-1 2m-2 5l-2 1m3 0l1-1m-1-4l-3 1m3-5l2-3m-1 9l-1 2-1 1m-75 6l2 0 1-2m-1 3l0-1-1-1m10-1l-3 3-2 0m9-2l1 0m5 6l2 0 0-1m2-2l1-1m6 2l-1-1m2-3l0 2m2 2l-3-2-1 0m8 3l1 0-1 2m4 1l2-2-2 2m7-1l2-3m2-5l1 3m12-4l3 3m1-1l-2 0-1 2m4-3l-2 0-1 1m-145 44l-2-2m3-7l3-3m-1 10l1-3m-4 9l3 0m0 7l-3 1m4-11l-2-3 0-1m19 16l2 2-1 2m-18 3l-3 2 0 1m4-5l-2-3m10 4l-2 0-2-2m9 7l2 3m-1-13l-2-3m3 11l1-2m17 16l-1 2-2 1m7-6l-2 0m7 3l3 3 2 0m20-6l2 0 1 1m3 1l1-2m3-5l2 3m0 2l-1 3m17 1l0 3 2-1m-92-1l2 3m-2 7l2 0-1 1m5-7l2-2 0 2m13-4l1 1 0 1m8-3l1 2m6 10l-2 3 1-1m51-12l-3 2m10 4l3-2-2-1m-106 16l-1 0m33-9l0 2m12 10l-3 3m22-4l2-2-1 0m8-4l3 2m1 0l-3 3m24-4l2 0m3 3l2-1-2 2m-107 2l-1 3m9 1l0 3m13-5l-2-1-1 0m28 0l-1 2-2-2m16 9l-2 1m21-1l-1-3m13 2l-1 0m26-2l-1 0m2-5l2 2 1 2m-134 17l1-1-1-1m7-5l-2-3-2 2m11 3l2 0m3-6l3-2m67 5l-1 3m43 3l1 0m11-4l2 1 0 1m-2 4l0-2-2 2m3-6l-3-2-1-2m-141 17l1 1m0-2l-2-2m2 7l-3 3m28-5l-2 3-2 1m57-1l0-1-1 0m20-6l-1-3m32 2l-2 1m17-2l0-1m7 9l-1 3m-148 7l-1 2m58-9l-1 0m17 1l-1 2-1 1m15 3l-3-1m40 3l1-3m33 2l-3-1 0-1m4-2l-2 1-2 0m-176 16l0 3 1-2m5-7l-3-1m8 1l0 2m0 1l3 0 2 1m-1-4l-1-1-2 1m26-3l2-1m12 5l1-2m2 1l2-2m47 4l1 1m21 3l2 0-1 2m30-7l3 3m14 0l-3-2 1-2m14 7l3 1m-204 8l2-1 1-2m0 1l1-3-2 2m12-5l2 1-1 1m0 6l-3-1m6 0l1 1 2-2m11 1l2 1m11-5l-1-2 0 0m3 7l-1-1 0-2m15 0l3-3 1-1m13 8l3 1m18-10l-3-3-2 0m30 6l-1 0m24 2l3 2m3-5l-2 0-2 1m6 8l0-3 2 1m3 2l2-3m8-7l2 2 2-1m-1 6l2 1m2-2l-3-2m21-1l2 0m-1-2l-2-1 2-1m5 7l0 3 0-2m-191 8l1 3m84 1l-3 1m19-4l-1 0m11 1l0 1 0 2m28-3l-2 2m24-3l-3-2 1-2m4 0l2 0 1 2m20 8l-2 1m7-6l3-3m1 3l-2 1-1-1m-205 14l0 3 1 1m2-2l2-2m0-5l-3 3-1 2m9-2l3-3 1-2m37 4l2 1m1-6l-3 2 2-1m23 2l3 3-1-1m31-1l-2 1m5 0l0-2 0 0m12 4l2 2 2-2m57 1l-3-1m12 2l0-3 0-2m2 0l-2 2m5-2l-3-3 1 2m8 2l3 2m-200 16l-2-2m4-5l-3-3m24 8l0-3m43 0l1-2m1 0l0-2m95 4l1 1m2 4l-1-2 1 2m4-7l-1 2 0-2m8-3l-2 3-2-2m5 8l3 2-2 2m10-13l1 0m-185 16l-1-2 0-1m2 1l-1 3 0-2m2 6l-1 0m3-4l-2 0-1 1m3 3l-2 1m4-9l-3 3m9 5l1-1 1 0m29-1l-1 1m10-9l1 3m44-2l-3-2 2-2m32 14l3-1 2-1m7-2l2-1-2-1m8 3l2 0m-2 2l-3 0 2 1m10-8l-1-1-1 1m9-2l3 3 2 2m-155 13l-1 0m7-1l-2 3m9 2l-2-1m26-7l2 0m49 6l1-2m3-2l-1 1m11 2l3 3m4-8l-1-1m2-1l2 2m2 1l-2 0m-107 10l3-1m-2 0l2-3m4 11l-1 3m4-2l1 3-1-1m0-2l2-1-2-1m1-7l2 1 1-2m6 9l2 1m1 1l0-2m16-1l3 3 1-2m-2-1l1-2m11 3l-2 2 0-2m7-3l-1-1m1 6l0 3m17-6l-3-3m7 2l3 3-1-1m-64 5l2-2m-1 7l1-1m6 2l-1-1m1-1l0-3 2-2m2 5l0-1m7 0l1 0m-1 2l0-3-1-2m9-1l1-3-1-1m1 8l-1 3m12 0l-2 2m5-2l3-2-1 1m-34 6l0-1 2-2m11 13l1 0m2-4l-2 2 1 1m1-7l2-3m0 3l-2-2-1-1m9 1l-1-1m-522-417l1-3m0 4l-3 0 1-1m6 5l3-3m-3 13l1 2 1 1m10-4l0 3m-10 6l-2-1m4 10l-3-2-1 2m7-10l-3-2 1 1m3 5l-3 0 0-2m4 1l-2-3-1-1m4 9l1 3 2 1m-58 7l0 2 0 1m3-1l-3-2m8-1l2-1 0 0m0-4l-2 3 1 2m7-3l3-3m14 9l1 1 2 2m3-7l-1-3m26-1l-3 0 0 2m7-1l1-3-2-2m4 4l-1-2 0-2m5 12l2 0 0 1m1 0l2 1m0-8l2-3 2 1m3 9l-2 1 0-1m-79 7l0 1 2 2m3 0l0 2m3-8l-1 1m10 2l0-1-1 1m3-1l-3 0m6-3l0 3-2 0m7-2l1 0m3 7l3-1m36 1l-1 0-1 2m-58 1l0-1-1 0m12 5l-1 0m4 3l-2 1m13-3l0-2m7 8l-1-1m4-10l-3 3-1 1m8 3l0 3 0-2m6 1l-3 0 0-2m5 1l-3 3-2 0m10-11l2 2-2 0m1 8l0 2m31-12l-2 0-1 0m5 7l-2 3m10-7l-1 3m3 4l-3 2m5-11l1-3 1 2m0 6l-2-3m6 7l1 3m3-2l-3 0 0-2m8-6l1-1m8 4l-3-3m5 5l-2 2m3-10l0-2m12 9l0 2m2-2l1 1m-1-9l2 2 1 2m0-1l-2 2 2-1m4-2l3-3-1 1m-2 8l1 0-1 1m1-4l-2 0 2-1m1 7l0-3m2-2l-3 3-2 2m5-2l3 2-2 0m-108 3l0 1 2 0m5-3l0-2 1-1m-1 6l-2-3m4 4l2 3m-1-6l-2 2 1-2m2 1l1 3 0-2m7 8l2-2 2 1m6-5l0 1m27-2l-2-3m28 2l2 0 0 2m11-1l1-2-1-1m11 7l-2 2m4-2l1 0m12 1l3-2 2 1m-3-6l3-1-1 2m-2 7l1-2 2-2m1 1l2 1m2 1l0-2m-108 8l0-3m1 6l1-1m90 0l-1-1m15 2l-1 1m5-5l-3 0 1-2m22 7l3 2m-132 7l1 3 0 1m-1-6l-3 0 1 1m11 5l-3 2m16-2l1 1m11-2l-1 3m8 0l1 1 0-2m43 0l1 3-1 2m0-7l-1 3m31-4l1-1m9-1l-2 2-1-2m16 3l3-2m-1 4l-3 3 2 0m6-10l0-2 1 2m-1 3l-1-1-2 2m7 2l-2-1m-139 8l2-2m6 1l-3 0m4 6l1-1m2-3l-2-3-2 0m5 2l3-1m1-1l2 3m3 1l0 2m7-2l-3-2-1 2m5-4l0-2m1 8l-1 3m4-9l3-1-1 1m4 8l-2 1m10-3l-1 2-2-1m9-2l1-2-2 2m11 4l-2 1m9-9l-2 0m39 0l0 3m30-3l-1 3-1 2m10 4l-1 3 0-2m2-3l0-2 0 2m-120 8l3 3m4 2l-3 1m8-6l-3 3 2 2m5 1l1 3 2 0m38-6l-1-1 1-2m27-3l3 1m0 3l3-2-2-2m1-2l1-1m7 6l-3 0m21-4l0 2-1-2m-105 13l2-3m-2 2l1 1m1 1l0-3-2 2m16 4l3-2-1 2m-1 6l-1-3-2 0m4 3l2 3-2-2m1-10l-1 2m13-2l1 1m5 1l-3 1 0-1m5-5l-1-2 0-2m3 14l3 1m-2-5l-1 3m5-2l0 3 1 2m6-1l3-2m4-1l-2-2m3 1l-3-1 0-1m12-4l3-2m-45 17l2-2m-2 2l3 2m17-5l3 2m-3 0l1 3 0 0m1-4l-1 3-2 0m4-1l1-1m0 3l-2-2 2-1m-77-170l3-3-2 2m2 11l-1 0 0 1m7-6l3 1 0 0m-2 3l-3 2m3-12l2 0m-1 5l-2 2m5 1l-1-2 0 1m8 4l0 2 1-1m-15 3l-1-2m3 6l3 0 0-1m-3 1l3 1 0 0m-3 3l1-2m0-4l3-2-2 1m4 3l-3 0m17-1l-3 2m-6 11l3-1 2 1m-4 2l-2 0 1 1m2-3l1 0-1-1m5 2l-1 1 0 1m6-6l3 2-1 0m0-4l2 3m6 1l-3 0 2-1m5 5l0-3m-22 13l-1-3m5 7l0 1m1-5l-2 1m7-2l3 1m0 3l1-2-1 2m5-6l-2 1m7 4l0 3m2-12l2 0m-1 5l3 3-2 2m0-5l2 2m-28 6l1-1 2-1m-3 4l2 1m0-5l-2-1 1-1m5 7l3 2-1-1m2 2l-2 0 0-2m3 0l2 0 0 2m-2-6l3-3m-2 4l1-1-1 2m2-1l-3 2m8 0l-2-3-2-2m10 6l1 1m0-7l1 2m5 6l3 1m1-8l0-2m0 4l-2-2 2-2m7 5l3 3 1-2m-2 6l2-1 0-1m-1-4l0-1 2 0m-3 9l-2 1m8 4l0 3-2-1m7-1l-3 2m10 0l3-1m7 4l0 1m-6 1l1 3m12 4l-3-3m6 4l-1-1-2-1m10 5l0 2m-231 40l-3-1-1 1m-5 11l-1-2m11 2l-1 1-1-1m4 0l2-2m0 4l2 2m26-4l2 0 2 1m-48 7l1 2-2 1m1 4l2 1m1 2l-1 1 0-2m2-2l-1-1m4 0l-3 0m4 3l-2 1m2-9l-2-1 2 2m1-2l2 3m1-4l-3-3m5 8l1-1 1 1m0-1l1-2m0 1l-2-3 0 0m12 7l2 1-1 0m3-1l-1 0m3-5l-2 1m14 5l-1-3 2 0m0-6l1 2-1 1m1-2l-1 3-1 0m4 2l-3-3 2 0m10 8l-1 0-2 2m4-3l1 3m1-12l-3-3m8 5l0 1m-72 19l-1-2m10-9l0 1m9 4l-3 3-1-1m14-5l-1 1m12 0l1-1-1 0m2 0l-1-2m45 12l0 2-1 1m8-3l-2 2 1-1m-92 8l0 3m0-7l-2-3 1 2m24 2l-2 2 2-1m0-3l-3 1-2 1m73 1l-3-3m7 6l3 3-2 1m5-8l1 3m-1-2l0-3 2 0m8 4l2 0m1 2l-2 1-1 0m3-8l2 2-2 2m4 3l-1-2m-109 12l-1-3m5-4l3-2m24 13l2 0 2 2m-1-3l-2-2m9-8l2 3m19 2l1-3 1 1m4-2l3-1-2 0m32 9l-2-3m8-5l3-3m-2 12l1-3m6 1l0-3 1 1m2-6l1 0m-1 7l-3 1m3 2l0 1 1 1m1-7l0 3 0-1m1 1l1 1 1-2m0-5l2 2m-1 0l0 1 1 0m-119 12l-3 1-1 0m6-6l0-2-1-2m18 9l2 2m50 2l-3-2m11-7l-3 2-1-1m17 4l-1 0-2-1m4 5l2 1m2-10l0-3-1 0m1 11l-3 1-1 0m10-7l-1 3m2 0l1 1-2 0m1-2l-3-2m8-2l-1-2m25 2l-1 0m-135 16l0-1m65 4l3-2 1-1m1 4l2-1m6 2l3 0m-2-4l0-3m11-2l-3 0m4 9l0 3 1 0m-1-2l-3 0m6-11l2 0m47 1l3-2-1 0m-135 23l2 0 0 2m9-1l-2 3m2-2l1 2 2 1m-3-11l-3-3-1-2m56 7l-2 0m3 2l3-3m10-4l-2-3m-74 23l-3-3-2 0m8-3l-1 3m3-1l-3 1 1-2m7 6l1 0m3-6l-1 3-2-1m14 0l3 1m7-7l0-3-2-2m41 14l-1 0m2-3l1 0 1 2m8 4l3 3-1-2m4-1l0-2m-88 6l-3 0m5-3l2 2m-1 1l-1 1m2-1l2 1m3 1l1 1m56-2l3 3 0-1m2-5l1 2m7 2l-2 1-2 2m12-2l3 2m-1-4l-2 1-2-2m6-2l1 3 1 1m2-4l-1 2m4 1l1 2-2-2m4 3l0 3m0-4l-3 3 0-1m5 2l0-2-2 0m-105 14l2 0m0-5l-1-2m4 2l1 0m-1 5l-3-2-2 0m12-5l-2-3 1 1m39 1l0-3m30 8l2 3m14-4l2 3 2-2m10 3l-3-1 2-2m4-7l0-3m6 12l1 0 2 0m-1-1l0 1m6 0l-3 3 1 0m4-8l2 1-1-1m-1-1l-1-2-2 1m5 6l2 1-1-2m0 3l2 0m5-2l-2-2m-140 8l-1 2 2 2m0-4l0 3m1 0l-1 1 1 2m0-6l0 2 0-2m2 8l-1 0m13-10l-1 1 1 2m31-1l2 0 1 2m35 2l2-2-2 1m6-2l2 0 1-1m54 4l-2-1 0-1m6 2l-1-1-2 1m4 0l-3 0m7 1l0 2-1-2m-166 15l-2-2m3 3l0-1-1 1m4-11l-1-2 1 1m0 11l1-2 1 2m31-9l1 3 0 0m4 0l2-2m2-1l2-2m12 8l-2 0 1-2m51 5l2 2 2-2m12-9l-1 2m6 0l2-2m10 2l2-2 2-2m6 7l2-1 1-1m-1 1l0-1 0 1m5-2l-2-2-1 0m7 0l0 1m-164 14l-2 3m6-7l0 2-2 2m3-2l0 1m3-4l-1 0m4 8l-1 2-1-2m5-3l2-2m38 4l3 0m0 1l-2 1m8 1l2 0m26-3l-1-1m35-6l-2-3m17 10l3-2 0 0m-3 1l-1 2 0-2m4-2l-2 0m-134 9l1 0 2-1m3 6l1 1m2-6l1 1m19 0l-2 3m15-4l-1 3 0 0m14 5l3 1-1 1m-1-5l1-3m6-2l1 2-2 2m3-2l3 1 0-1m5 1l0-1 0 0m6 1l-2-1-1 0m10 3l1-1 2 0m-2 2l0 1m28-1l-3-3-1 0m16 5l-3 2-1-2m9-8l-2-3 1-2m3 7l0 1 0 1m-130 13l0-2 2-1m2 2l1-2m-1 1l2 0m-1-1l2 0m0 1l-2 1m6-5l-3 3-1 0m5 1l0-3m4 6l3-2m2 3l2 3m1-3l-1-1m10-5l2 0-1 0m16 6l1-2 1 1m5-6l0 2m3 3l0 2 2 2m18 1l-1 2-1-2m3 0l1 0m41-9l3-3-1 0m-102 19l-2 2m14 3l0 3 0 1m49-9l2 0 0 2m8-3l0-1 1 2m-1-3l1 1-1 1m19-3l-3 1m7 5l2 3-1 1m2-10l2-1 2 1m-92 10l-3 2 1 1m11 5l1 2m54-3l3 3m6 0l-1 1m10-5l-1 2-2-1m10 2l-3-2 0 1m-58 15l-2-2 0-2m3 5l-1-2-1 2m14-1l-1 3 1 0m0-9l0-1-1 1m26 6l0 2 0 1m18-7l1 1 1 2m3-2l-1-3m-53 15l-2 2 0-1m3-2l-3-3m3 5l1-2-1 1m1 2l-1 2 2-2m3 2l2-3 0 2m0-7l-1 2-2-1m4-4l-2 2 0-1m11 9l-3 2m8-2l-3 3-1-2m21-6l0 2 2 2m-1-6l2 3-2 1m8-2l-1 2-2-1m7-7l3 1m-42 15l-1 2 2 1m14 2l3 2-2 0m1-4l-3-3 0 1m10-1l3 2m2-6l-2 2-1-1m7-1l0-1-1 0m173-206l-3-2 2 0m1-2l-1-3m10 4l-3-3m4 1l-2-3m19 11l0 3 1 1m-33 7l-3-3m8 3l3 3 1 1m-3-14l0 1-1-2m1 8l-3 2-2-2m7 3l1 0 1 0m0 0l0 2m3-8l0 1m9-5l3 0m-2 1l1 1m-1 2l3-1m11 6l3-3m-3 2l2 2-2 1m-39 1l-1-2 2-1m4 14l1-1m5-6l3-1 0 0m13-2l3 0m1-1l2-2-2 1m6 6l1 0-1 2m1-8l-1 3-1 0m7 6l1 0 0 2m0 0l-3-2-1 2m8 0l1-3-1 1m36 2l2-3 0 0m-2-2l3 0m4 0l-2 0m26-2l3-1m6 6l0 2m-125 6l2-3-1-2m40 1l3-3m7 2l-3-2 0 0m4 11l-2 2 1-2m9 0l3-1-1-1m10 4l-3 0 2 2m3-6l-1 1 0 1m5 1l-2 1m4 1l0 2m1-6l3 0m31-7l0-2 0 1m-116 16l-2 0-2 1m16-4l1 2-2-2m13 8l3-1m30 4l3-3 1 0m15-1l-3 0m5-2l2 3-1-2m50 1l0-1m5 1l0-3 0 2m10 0l2 0 0 0m-270 16l3 2m0-4l1 3-1 1m7-5l-1 1m1 0l1-3m6 3l-1-1m2 0l-2-2 1-2m6 7l-3 1m98-7l0-1 2-2m-1 8l0 3m4-4l1-2 0 2m2 1l-1-2m4 4l-2 1 1-1m5-8l-2 3-1-1m23-5l-2-2m9 4l-1-1m23 2l-3 0m71 4l-2 3m2-8l3 1m5 3l3-2 1 2m-2-2l-2-2m-250 19l0-1-2-2m23-4l1 0-2 1m15 1l-3 1 2 1m18-1l0 3 0 0m23 1l2 2m11-3l-2 0 0 1m24-1l2-2m2-7l2-2m2 3l0 1m13 8l3 3m9-7l2 3m41 2l-1-1-2 0m23-7l1 1m6 7l-1-1-1 1m15-9l-2-2m13 3l-1 2m6 1l0 1m-244 6l1 2-2-1m58-1l1-3m32 4l3 3-1 0m2-3l-1-3m4 9l1 3 2 1m-1-11l-3 1 2 2m3 1l-3 3m5-7l1 1 0 2m0-3l1 3 0 0m32 6l-1 3m28-3l3 0m17-5l-1 2 1 2m1-7l0-3m5 11l-2 1m14-5l-3-1m7 2l0 1m12 0l3 3 2-2m-4-7l0 1-1-1m16 9l2 3m0-2l-3 3m-222 7l1-2m-1-7l3 0 0 1m42 7l-2 0-1 0m10 0l-3-3 2 0m9-5l-3 2 0 0m19-1l-2 1 2-1m33 9l-2 2-1 0m37-11l1 0m3 1l-2-1-2 0m13 6l0 1 1-2m15 3l-2-1m15-6l-3 2-1 0m9 7l2-1m18 0l-2 2m5-2l-3 2 1-2m6-10l3 2m6 5l2 0m1-4l2-3m-228 17l-2 3m10-3l-1-2 0 1m39-1l1-1m5-1l1-1m31 10l2 0m9-8l-2 2m28 6l2 2-1-1m29-3l2 3m6-6l0 2-1 0m30-8l1 1-2 0m3 10l2-2 0-2m3 3l-1-1m3-4l-1-3m4 6l1-1m-1-2l-1-2-2 0m14-2l1 2 1-2m-210 13l3 0-2 2m4 0l2 0m1-2l-2 2m5 6l2 0-2 2m0-2l-1 0m59-4l3-3-1 2m53 3l2 0 1-1m31 5l0-2m23 1l-1 2 2-2m4-6l-2 2 0 0m9-7l-1 1m10 2l-1-1 2 1m-197 10l1 1m3 0l3-3m4 11l2 1-1-2m2 1l-1-3m18 4l-1 1 1 1m7-11l-3 1 0-2m19 1l1-3m20 8l-3 1-1 0m47 3l3-1-1 1m22-4l-1 1 1-2m6 5l-3-2-2 0m14-6l0-2 1 2m0 1l-3 3 2 0m3-7l2 0 0 1m8 4l0 2 1-2m-1 0l-1-3-2 1m5 0l0-2m4 1l-2-2m9 1l-1 1m-164 15l-2 2m14 1l3-3 0 0m11 1l3-3m44 0l2 0m19 2l-2-2-2 2m37 3l0 1m6-6l-1-1 0 0m-131 21l1 0m0-4l-2-3m2 4l3 1m-1 2l1-3-1 1m27 3l3-1 1 2m2-3l1-1 2-1m5 1l-1 1 0 0m66-7l-1 0 2-1m3 1l2 1-2 2m-119 16l3-2-1-2m-1 6l-2-1-1-1m10-5l2-2-2-1m5 7l2-3m15 6l-1 1m70-5l1-1 2 2m-1-4l1 1m2-4l0 1 0 2m4-1l-1 3 2 2m0-7l3-2 2 2m-117 19l1 2m4-10l2-1 2 2m3 9l1-3-2 2m7 1l-3 0m4 0l-1 1m11-1l-1-2-1 1m77-7l3-2m-2 5l-2 0m14-1l-1 2-1-1m-124 13l3 1m-2-6l-3-1 2 1m11 5l-1 2 0 2m25-8l0-2m16 9l3 1 1 2m40-4l2 2-2 1m14-10l-3 0-1-2m4 9l3 1m-1-8l0-3-1-2m1 4l0-1 1 2m17 2l1-2m-140 17l3 0 1 2m4-4l0-1 1-2m7 3l-3 3m4-8l2 2m15 3l3-1m26 1l2 3-2 0m14 0l2-1-1-1m18-4l1-2m3 8l2-3 2-1m6-2l0 2m13 3l2 1 0 0m12-4l2 0 2 2m5-4l1-3m-1 7l0 3-1 2m-155 7l-2-3m3 3l1 2m6-5l-2-3 2 2m6 3l3-2m10-2l1 0 2 1m82 6l0-2 0-2m2 1l-3-2m8 1l3-3m36 8l0-3m0 0l1 1m5 0l0-1m2-2l1 2m2 5l2-2m-182 9l2 2m0 1l-1-2 0-1m7 1l-1 3 1 0m7-3l-2 0m35 5l-3 3m3-4l1 3m6-13l2 0m2 10l-3 0m26-7l0-1m32 8l0 3m11-5l2 0m47-5l-2-3 2-2m23 11l2 2 1 0m-200 2l-1 3-1 0m4-4l3 3m-2 4l-2-1 2-1m12-2l1 0m5-2l-3 0 0 0m11 8l3-2 0-2m2-2l3-3m-2 11l-3 2m15-14l0-1m0 7l1 2m0-1l0 1m0-7l-2 1 2-1m9 7l-2-3m6 1l1 1 2-1m7 1l-3 0 1-1m17-4l-2 1-2 2m13-1l-2 0m24 2l0-2m10 7l-2 2 2-2m41-5l1 1 1 2m38 1l-1 1m4-5l-1-1m3 1l-1 1 0-2m4 5l-2-1m-178 3l1 2-1 2m86 3l-2 1 1 0m17-6l0-2 0 2m70 4l-1 3m12 0l3 1 2-2m-4-6l-2 2-1 2m12-5l-3 0 1 2m3 8l1-1-1 2m2-5l2 1m-145 7l0-3 2 0m0 6l2 0 0 1m-2 2l-1 0-2 1m8-2l-1-2m1 0l3-2m7 6l3-2 2-2m-4 2l0 3 1-2m2-4l1 1-2-1m15 5l2 2m27-5l1-3 1 1m19 3l-1 0m32-4l-2 1-2 0m21 2l2 0m4-2l-2-1-1 2m10 2l1-2m3-2l3-2 1 1m-4 8l-2 3m-141-1l3 3m6 3l-1 1m20 2l0 3m112-10l-1-1m2 2l1 1m0 4l0 3m1-2l2 1 0 0m2-10l-2 2m10 8l1-1m-161 14l3 0 0 0m6-7l2-1m-1-1l1 3m100 6l1 1 1-2m16 0l-3 0m15-7l3 1m10-3l-3-1-1-2m8 7l1 3m6 2l2 0 2-2m-170 14l2 0m-1 1l2 2m-2-11l-3-1 0 1m6-3l1 3m1 2l0 1m90 4l0-2m2 3l1-3 2 0m49 3l-1 0 0-2m12 0l2 1-1-2m1-4l0-2m6 5l2-2m-173 8l0 2m0-1l-2 2m24 5l1 3m0-1l1-3m2 0l-3-3m14 1l1-3m2 7l-3-2m21-3l-1-3m23 4l3 0 1-1m-4-4l-1 0m20 2l0 3 0 0m6 2l2-2m17 6l-3-1m5-3l-3 1-2 2m12-5l-2 2 1 2m2-8l0 1 1 1m6-1l2 2m4 5l3 1m-118 3l-2 1-1-2m5 0l0-1m9 0l-2 3m12-2l0-1m9 11l1-1m4 0l3-2m6-2l-2 3m5 0l-3 0m4-8l-1 3 2 2m9 1l-2-2m3 4l-1-2m2-4l-1 3 2 0m5 0l-1-1 1-1m0 1l-2-2m8 7l-1-1 1-2m7 4l-2 3m7-13l-2 1m6 6l0-1m0-3l2 0 0 1m12-3l-1 1m-48 10l-2 1-2-1m5 0l0 2m2-1l2 1-2 1m30-187l2-3 1 1m0 5l-2 2-1 1m4-7l3 0m-25 13l2 3 0-2m6-1l1-1m2-4l-1 0m4-1l-2-3m3 10l2-1-1-2m-1-3l2-3m4 3l-1-3 1 1m6 5l-1-3m6 0l-3-1-2-2m-28 21l-2 1 1 0m7-5l0 2m23-6l1 1m0 2l1 1m6 2l3 1-2 2m0-7l2-1m0 1l-2-2m5 1l-2 0-1 0m7 0l1-2m-31 20l-1-2 0 0m3-5l2 3-2 0m1 5l2 0m3-6l2 3m5 3l-2 1m21-9l-3-2-1 0m12 4l0-3m7 10l-3-2m3-8l3-2m4 8l-1 3m-50 5l-1 2 2-2m3 1l-1-1m6-2l-3 2 2-2m7 2l-3 1m16 1l3-3 0 2m7 2l3 3m-2-6l1-2m5 0l0 3-1 1m-32 12l1 0m51-67l2 2 1 0m13-1l3-1m-13 9l1-2m6-4l1 1m-1 0l0-2m-2 19l2 3m-1-8l1-1m2-1l-3-3m4 6l2 0m4 5l1 1 2-2m4-1l-3-3m-12 14l2 0m2 0l0 2-1-2m9 5l0 2m0-9l3-1-1 1" fill="none" stroke="#111" stroke-width="1.4" stroke-linecap="round" stroke-linejoin="round"/>
<g filter="url(#rgh)">
<path d="M5 1886l9-7 16-1 16 1 17 0 11-5 3-14 2-9 9-7 12-3 9-2 12 5 9 7 7 7 7 5 2-7-3-12-4-14-2-14-2-14-1-11 5-6 12-1 9 2 7 5 2 11 1 12 7 9 9-2 2 7-4 7-5 9-2 12-5 9-9 5 4 1 14-1 17 1 16 1 9 2 7 12 2 12-2 11-9 2-12 3-11 2-12 2-12 3-11 2-12 2-12 2-9 1-9-3-5 5 3 9 9 10 11 9 12 7 12 5 11 2 10 5 2 7-7 2-12-5-9-4-9-5-10-5-9-4-9-5-7-2-9-5-7 5-5 7-1 9 1 12 5 11-5 7-9 2-10 2-9-2-12-4-11-7-9-9-7-12-7-12-5-11-5-12-2-12-1-11-1-12zM105 1993l7 2 4 7 7 2 7 5 7 0 7-7 5-2 7 4 7 5 4 5 10 2 9 0 7 2 1 7-6 10-7 7-9 7-9 4-12 1-12-3-9-7-7-9-4-10-5-9-5-9-3-7zM279 1626l9-4 12-2 9 2 7 8 1 10 4-3 9 1 7 4 12-1 11 2 6 8 1 12-2 11 7 5 9 7 3 12-5 9-5 9-4 10-6 9-4 7-11 4-7 3-7 4-5 5-5 9 3 14-3 12-4 7 2 9 7 9 14 3 9 2 3 9 2 12 9 5 10 2 11 5 7 4 2 10-2 9 5 9 9 5 11 5 5-6 10-3 9-1 9-3 12-3 12-3 12-3 12-6 9-4 13 2 6 2 6-8 6-9 6-8 7-3 8 3 6 6 8-1 7 0 8-2 6 5 4 9-1 11-5 7-4 8 2 7 1 8-4 7-6 4 4 7 9 6 9 6 2 5-7 4-12-1-12 2-6 1 2-6 6-6 3-6-3-6-13 6-9 12-3 12 0 10-3 8-6 5-7 1-8-2-7-4-10-3-17 8-24-5-11-4-23-6-14 4 9 9 6 14-1 18-5 14-4 14 2 14 2 14 1 14-1 14-2 14-3 14-2 14-2 14-5 14-7 13-7 14-7 14-7 14-5 5-11-2-14-5-14-5-14-4-12-5-1-7 6-5 12-4 14-7-3-7-7-5-4-9 2-9 7-10 7-4-2-10-7-3-12-1-14-5-12-9-11-12-10-11-9-12-7-12-7-11-3-12 1-19 1-14-13-3-7 2-10-2-9-2-9-3-7-6-5-12-2-14 5-14 9-9 7-10 2-11 7-14 2-14-4-12-7-7-7-11-7-10-5-9 0-9 7-7 12-5 11-2 12 0 12-2 11-3 10-2 7-5 2-9-2-12-3-14-2-14-2-14-3-13-1-14 1-14 1-17 2-16-3-14 1-14zM451 1760l8-10 9-2 9-3-3-7 5-11 7-5 9-2 9 2 8 7 7 9 7 9 6 9 6 9 4 9 2 9-2 9-1 8 4 6 2 6 6 3 9-5 9-4 9-5 12-3 12-1 8 3 4 6-3 9-4 9-3 8-5 6-6 4-6 3-6 2-6-3-6-5-5-4-4-5-8-4-7-3-8-4-7 4-3 7-3 8-3 6-7 3-6 3-4-5-6-7-6-8-5-7-3-10 3-6 9-6 8-6 3-9-3-6-6 0-6 3-8-1-6-2-6-3-6 2-3 7-3 2-5-8-3-6-3-6zM525 2061l8 3 9 7 9-3 10-2 4 9 5 7 5 9-5 5-9 0-10-5-7-4-6-7-5-7-7-7z" fill="#161616" stroke="#161616" stroke-width="3.4" stroke-linejoin="round"/>
<path d="M5 1886l9-7 16-1 16 1 17 0 11-5 3-14 2-9 9-7 12-3 9-2 12 5 9 7 7 7 7 5 2-7-3-12-4-14-2-14-2-14-1-11 5-6 12-1 9 2 7 5 2 11 1 12 7 9 9-2 2 7-4 7-5 9-2 12-5 9-9 5 4 1 14-1 17 1 16 1 9 2 7 12 2 12-2 11-9 2-12 3-11 2-12 2-12 3-11 2-12 2-12 2-9 1-9-3-5 5 3 9 9 10 11 9 12 7 12 5 11 2 10 5 2 7-7 2-12-5-9-4-9-5-10-5-9-4-9-5-7-2-9-5-7 5-5 7-1 9 1 12 5 11-5 7-9 2-10 2-9-2-12-4-11-7-9-9-7-12-7-12-5-11-5-12-2-12-1-11-1-12z" fill="#e8545f"/>
<path d="M105 1993l7 2 4 7 7 2 7 5 7 0 7-7 5-2 7 4 7 5 4 5 10 2 9 0 7 2 1 7-6 10-7 7-9 7-9 4-12 1-12-3-9-7-7-9-4-10-5-9-5-9-3-7z" fill="#e8894c"/>
<path d="M279 1626l9-4 12-2 9 2 7 8 1 10 4-3 9 1 7 4 12-1 11 2 6 8 1 12-2 11 7 5 9 7 3 12-5 9-5 9-4 10-6 9-4 7-11 4-7 3-7 4-5 5-5 9 3 14-3 12-4 7 2 9 7 9 14 3 9 2 3 9 2 12 9 5 10 2 11 5 7 4 2 10-2 9 5 9 9 5 11 5 5-6 10-3 9-1 9-3 12-3 12-3 12-3 12-6 9-4 13 2 6 2 6-8 6-9 6-8 7-3 8 3 6 6 8-1 7 0 8-2 6 5 4 9-1 11-5 7-4 8 2 7 1 8-4 7-6 4 4 7 9 6 9 6 2 5-7 4-12-1-12 2-6 1 2-6 6-6 3-6-3-6-13 6-9 12-3 12 0 10-3 8-6 5-7 1-8-2-7-4-10-3-17 8-24-5-11-4-23-6-14 4 9 9 6 14-1 18-5 14-4 14 2 14 2 14 1 14-1 14-2 14-3 14-2 14-2 14-5 14-7 13-7 14-7 14-7 14-5 5-11-2-14-5-14-5-14-4-12-5-1-7 6-5 12-4 14-7-3-7-7-5-4-9 2-9 7-10 7-4-2-10-7-3-12-1-14-5-12-9-11-12-10-11-9-12-7-12-7-11-3-12 1-19 1-14-13-3-7 2-10-2-9-2-9-3-7-6-5-12-2-14 5-14 9-9 7-10 2-11 7-14 2-14-4-12-7-7-7-11-7-10-5-9 0-9 7-7 12-5 11-2 12 0 12-2 11-3 10-2 7-5 2-9-2-12-3-14-2-14-2-14-3-13-1-14 1-14 1-17 2-16-3-14 1-14z" fill="#62b07e"/>
<path d="M451 1760l8-10 9-2 9-3-3-7 5-11 7-5 9-2 9 2 8 7 7 9 7 9 6 9 6 9 4 9 2 9-2 9-1 8 4 6 2 6 6 3 9-5 9-4 9-5 12-3 12-1 8 3 4 6-3 9-4 9-3 8-5 6-6 4-6 3-6 2-6-3-6-5-5-4-4-5-8-4-7-3-8-4-7 4-3 7-3 8-3 6-7 3-6 3-4-5-6-7-6-8-5-7-3-10 3-6 9-6 8-6 3-9-3-6-6 0-6 3-8-1-6-2-6-3-6 2-3 7-3 2-5-8-3-6-3-6z" fill="#e8894c"/>
<path d="M525 2061l8 3 9 7 9-3 10-2 4 9 5 7 5 9-5 5-9 0-10-5-7-4-6-7-5-7-7-7z" fill="#92d548"/>
<path d="M74 1874l3-14 2-9 9-7 12-3 9-2 12 5 9 7 7 7 7 7 19 6 23-1 23 2 14 5 7 11-21 5-23-2-23-3-24 3-23 2-18-2-17-5z" fill="#e8c845"/>
<path d="M81 1893l35 2 47 0 46 3 21 2 0 9-21 5-35 7-35 6-27-2-19-7-9-11z" fill="#e8894c"/>
<path d="M137 1809l14 0 12 0 7 5 7 9 9-2 2 7-4 7-5 9-2 12-5 9-12 2-11-7-5-14-5-16z" fill="#e8894c"/>
<path d="M121 1930l9 9 14 14 19 12 18 9 5 10-7 2-16-7-19-9-18-10-10-11z" fill="#e8894c"/>
<path d="M314 1670l7-33 9 1 7 4 12-1 11 2 6 8 1 12-2 11 7 5 9 7 3 12-5 9-5 9-4 10-6 9-4 7-11 4-7 3-7 4-5 5-5 9 3 14-3 12-4 7-7-14-5-23 0-24 2-34z" fill="#92d548"/>
<path d="M330 1670l19 7 18 16 5 14-7 19-12 11-14 2-9-13-5-24z" fill="#e8c845"/>
<path d="M277 1665l-3-14 1-14 4-11 9-4 12-2 9 2 7 8 1 10-6 13-9 7-9 10-9 14-5-7z" fill="#92d548"/>
<path d="M279 1635l12-9 16 0 6 11-11 9-14 5-9-5z" fill="#e8c845"/>
<path d="M202 1828l7-7 12-5 11-2 12 0 12-2 11-3 10-2 7-5 4 7 5 14 2 21-2 23-5 24-9 23-9 23-10 23-4 24-7 11-7 2-10-2-9-2-9-3-7-6-5-12-2-14 5-14 9-9 7-10 2-11 7-14 2-14-4-12-7-7-7-11-7-10-5-9z" fill="#92d548"/>
<path d="M209 1832l23-9 24 5 11 16-11 16-24 0-18-9z" fill="#e8c845"/>
<path d="M323 1809l7 9 14 3 9 2 3 9 2 12 9 5 10 2 11 5 7 4 2 10-2 9-11 2-12-4-12-5-11-9-12-7-12-12-4-16z" fill="#92d548"/>
<path d="M274 1698l5-21 12-19 11-7 11 7 0 35-3 35 1 35 7 28 7 23 7 23 5 19-7 2-12-5-11-11-9-19-7-14-5-16-4-19-3-21-2-23-3-18z" fill="#62b07e"/>
<path d="M328 1873l17-5 16 3 18 4 19 7 9 14 0 19-4 16-12 7-16 2-19-7-16-14-9-18z" fill="#468cc8"/>
<path d="M338 1924l18 9 23 7 24-7 14 10 4 18-4 17-10 11-9 14-9 9-10-4-9-14-14-14-11-14-7-19z" fill="#4a6cae"/>
<path d="M403 1971l14-7 9 2 9 9 4 14-3 14-3 14-4 14 2 14 2 14 1 14-1 14-2 14-3 14-2 14-2 14-5 14-7 13-7 14-7 14-7 14-5 5-11-2-14-5-14-5-14-4-12-5-1-7 6-5 12-4 14-7-3-7-7-5-4-9 2-9 7-10 7-4-2-10-5-3 14-15 9-19 9-23 10-23 7-24 4-23z" fill="#6a4c98"/>
<path d="M263 2008l14-5 21 9 12 19-3 19-14 9-16-5-11-11-5-17z" fill="#468cc8"/>
<path d="M407 1901l10-5 14-4 14-3 13-4 14-3 14-7 10-4 11-4 12 1 9 3 10 7 4 18-2 23-2 24 2 23 0 12-9-3-12-4-14-5-9-5-24 3-11 0-23-7-17 4-9-18-5-24z" fill="#468cc8"/>
<path d="M426 1910l23-4 23-5 24-5 23 5 14 14-2 28-12 23-23-5-24-4-23-14-18-12z" fill="#4a6cae"/>
<path d="M532 1870l3-8 6-9 6-8 7-3 8 3 6 6 8-1 7 0 8-2 6 5 4 9-1 11-5 7-4 8 2 7 1 8-4 7-6 4-7 4-15 5-5 15-3 12 0 10-3 8-6 5-7 1-8-2-4-7 3-12 3-15 3-15 1-16-1-15-3-15z" fill="#62b07e"/>
<path d="M570 1854l22-3 8 11-5 18-10 12-8 15-7 16-11 15-5 15-7 7-6-7 3-15 6-15 9-16 6-15 3-15z" fill="#92d548"/>
<path d="M559 1850l4-2 5 14 5 15 3 15 4 12 4 10 4 7 9 6 9 6 2 5-7 4-12-1-12 2-6 1 2-6 6-6 3-6-5-9-4-13-5-15-5-15-3-12z" fill="#e8894c"/>
<path d="M512 1765l14-9 12 9 4 9 2 9-2 9-1 8 4 6 2 6-8 7-7 4-6 7-10-1-7-13-3-15 3-15 1-12z" fill="#e8545f"/>
<path d="M568 1806l12-5 12-3 12-1 8 3 4 6-3 9-4 9-3 8-5 6-6 4-6 3-6 2-6-3-6-5-5-7-1-16z" fill="#e8545f"/>
<path d="M542 2073l19-2 9 13-5 10-14-5z" fill="#e8c845"/>
</g>
<path d="M483 1729h0m3-3h0m4-2h0m11 3h0m-23 9h0m7 1h0m6-4h0m2 5h0m1-5h0m2 5h0m3-7h0m7 2h0m0 3h0m7 3h0m-45 10h0m8-2h0m3-5h0m25 3h0m7 4h0m9-7h0m1 4h0m2 0h0m-59 13h0m1-6h0m3 6h0m2-4h0m38-5h0m6 8h0m8-3h0m-64 5h0m13 7h0m42-2h0m9-3h0m3 7h0m-70 7h0m4-3h0m39-2h0m0 4h0m2-1h0m1-2h0m0 2h0m1-2h0m2 2h0m13-2h0m7 5h0m12-5h0m-394 14h0m7 1h0m4 2h0m6-3h0m300-4h0m2 2h0m48-3h0m8 8h0m15 0h0m1-7h0m-389 14h0m1-5h0m4 4h0m2 0h0m0-2h0m3 0h0m1 5h0m3-7h0m1 5h0m6-5h0m5 6h0m339 1h0m4-6h0m8 2h0m8-1h0m2-3h0m7 9h0m0-9h0m3 1h0m-405 9h0m1 3h0m11-2h0m2 3h0m0-2h0m1-1h0m2-1h0m3 3h0m1 2h0m3-5h0m2 3h0m2 3h0m1 0h0m3-1h0m2 2h0m0-3h0m328 4h0m1 1h0m8-8h0m5 7h0m4 1h0m17-6h0m6 0h0m4 4h0m36 0h0m12-4h0m4 6h0m3-9h0m0 0h0m4 5h0m2 0h0m2-3h0m-461 15h0m7-7h0m3 5h0m1-4h0m6 4h0m1-4h0m331 5h0m14-3h0m7 6h0m3-3h0m1 0h0m7-4h0m2 5h0m16 2h0m1-6h0m17 0h0m17-1h0m5 7h0m5-2h0m6-1h0m13-6h0m3 0h0m2 1h0m-474 17h0m9-4h0m0 3h0m2-4h0m0-3h0m3 9h0m4-2h0m2-2h0m1 3h0m1-6h0m6 5h0m3-6h0m0 8h0m0-6h0m0 4h0m1 2h0m2-1h0m324-4h0m13-4h0m1 3h0m6 6h0m1-5h0m6 2h0m25-5h0m12 0h0m5 8h0m9-5h0m7 1h0m0-3h0m4 5h0m18-6h0m-462 16h0m4 2h0m2 0h0m3-8h0m0 8h0m6-9h0m3 1h0m7 1h0m1 1h0m13 2h0m3-2h0m2-3h0m314 5h0m26-4h0m58 6h0m6-7h0m7 5h0m4 2h0m-505 5h0m2 5h0m2-6h0m7 2h0m3 0h0m1 6h0m0-4h0m2 2h0m4-2h0m2-1h0m29 3h0m0 1h0m3-5h0m1-2h0m1 1h0m0 5h0m1 0h0m2-5h0m3 6h0m0-4h0m1 1h0m6-4h0m1 2h0m1-3h0m1 9h0m0-8h0m2 7h0m1-8h0m4 3h0m1 2h0m1 3h0m1-8h0m323 0h0m11 7h0m75-7h0m3 3h0m-511 11h0m8 1h0m2 4h0m2-4h0m0-1h0m1 2h0m5 0h0m9-5h0m0-1h0m1 0h0m0 9h0m0 0h0m11-4h0m1-1h0m2 5h0m0-1h0m7-2h0m14-4h0m2 4h0m2-4h0m0 7h0m1-3h0m4-5h0m0 2h0m1 5h0m0 0h0m1-8h0m2 9h0m10-9h0m6 1h0m1 6h0m1-6h0m1 5h0m1-3h0m-99 11h0m11 4h0m7-7h0m2 0h0m1-1h0m9 9h0m2-7h0m3-2h0m3 2h0m4 5h0m0-5h0m2 3h0m1-5h0m1 9h0m3 0h0m1-4h0m3 3h0m3-7h0m1 5h0m3-5h0m6 7h0m5-5h0m1 2h0m1 1h0m0-3h0m1 0h0m3 2h0m1-1h0m1 4h0m0-6h0m6-2h0m3 3h0m-131 16h0m7 0h0m36 0h0m5-2h0m4-1h0m0 1h0m0 1h0m1 1h0m0-4h0m2-4h0m1 6h0m0-3h0m1 4h0m2-1h0m1-5h0m2-1h0m12 5h0m7-1h0m1 1h0m1 1h0m0-7h0m1 1h0m3-1h0m2 5h0m3 3h0m6-7h0m3 5h0m1-1h0m0-2h0m0-2h0m5 1h0m5 2h0m2-3h0m0 5h0m1-2h0m6 2h0m1 3h0m1-8h0m2 1h0m1 7h0m1-9h0m2 1h0m5 8h0m4-5h0m3 1h0m7-5h0m0 8h0m1-5h0m2 6h0m8-6h0m7 6h0m7-2h0m4 2h0m-202 6h0m1 1h0m3-6h0m3 9h0m10-7h0m6 0h0m1 4h0m3-3h0m5 0h0m2-2h0m1 8h0m3-9h0m6 0h0m5 9h0m0-3h0m8 1h0m5-1h0m2 0h0m10-2h0m2 1h0m9-3h0m2 1h0m0-3h0m6 4h0m4-3h0m2 4h0m0 4h0m2 0h0m1-2h0m2-4h0m3-3h0m2 2h0m4 5h0m1-7h0m5 5h0m3-4h0m0-1h0m0 3h0m1-3h0m5 5h0m7 3h0m1-8h0m4 6h0m2-2h0m6 1h0m1 0h0m13-1h0m1-4h0m2 7h0m0-3h0m2 3h0m1 2h0m1 0h0m0 0h0m7-3h0m1-5h0m1 5h0m4-6h0m1 0h0m0 3h0m8 2h0m0-2h0m1-3h0m0 6h0m1-3h0m1-2h0m3 8h0m2-1h0m1 1h0m3-7h0m0 7h0m2-6h0m9 0h0m5 6h0m-223 4h0m1 0h0m11 5h0m1-2h0m11-4h0m10 0h0m4 1h0m4 0h0m3 3h0m5 1h0m1 2h0m2-8h0m21 8h0m6 0h0m2-4h0m2 1h0m5 0h0m1-4h0m1 6h0m4 0h0m1 1h0m1-4h0m1-2h0m0 3h0m3 2h0m5-7h0m0 2h0m6 1h0m0 1h0m4-4h0m0 5h0m2 2h0m8-5h0m2 1h0m3-4h0m2 9h0m1-6h0m4 1h0m1 2h0m3 1h0m0-2h0m0 0h0m4 0h0m7 1h0m5-1h0m1-1h0m5 2h0m9-5h0m0 0h0m3 5h0m1 0h0m1-4h0m8 5h0m1-7h0m0 9h0m0 0h0m1 0h0m3-9h0m6 2h0m1 0h0m6-2h0m1 5h0m4 2h0m5 2h0m3-6h0m0 5h0m2-3h0m0-3h0m1 3h0m-218 11h0m1 0h0m6 2h0m1-6h0m10 3h0m4 3h0m0 0h0m2-7h0m5-1h0m1 0h0m26 9h0m13 0h0m8-4h0m1-5h0m2 9h0m2 0h0m7-1h0m2 0h0m1 1h0m2-2h0m3 1h0m2-4h0m0 1h0m1-4h0m0 5h0m1-4h0m1 4h0m1-1h0m1 3h0m1 0h0m2-5h0m1 6h0m2-8h0m1 5h0m1-4h0m0 0h0m3-1h0m0 3h0m9-3h0m1 6h0m4-7h0m1 5h0m1-4h0m3 5h0m4-1h0m5 4h0m2-1h0m7-8h0m8 6h0m1 3h0m2-2h0m2-1h0m0-6h0m2 7h0m0-6h0m4 5h0m4-6h0m2 0h0m2 5h0m0 2h0m2-5h0m3 3h0m3-4h0m5 8h0m4-2h0m0 1h0m3-3h0m0 3h0m0 0h0m9-3h0m4 1h0m0-5h0m5 7h0m1 0h0m1-3h0m4 3h0m-221 9h0m2 2h0m6-9h0m11 1h0m4 5h0m5 2h0m1-7h0m12 8h0m3-6h0m3 0h0m3 1h0m1-3h0m13 3h0m3 0h0m4 4h0m6-2h0m2-5h0m1 5h0m12-2h0m12 0h0m5 3h0m6-4h0m1 3h0m7 3h0m3-7h0m4 7h0m1-9h0m5 6h0m1-4h0m2 5h0m1 0h0m2 0h0m0-2h0m12 1h0m6-5h0m1 6h0m8-7h0m1 4h0m0-2h0m2 0h0m8-1h0m1 2h0m2-2h0m2 1h0m2 2h0m0-4h0m-189 17h0m1 1h0m17-6h0m1 3h0m2-1h0m1 0h0m17 5h0m3-4h0m4-3h0m12 4h0m0 1h0m9 0h0m2-4h0m9 2h0m2 2h0m15-2h0m3-4h0m17 0h0m10 2h0m3 0h0m5-2h0m10 4h0m5-3h0m4-1h0m-148 13h0m3-2h0m4 7h0m3-7h0m3-2h0m22 9h0m4-2h0m35-3h0m7-4h0m1 2h0m6-2h0m1 9h0m2-9h0m2 6h0m1-2h0m8-3h0m1 4h0m-102 6h0m2 3h0m7 4h0m11-6h0m1 1h0m7 0h0m10-2h0m6 7h0m8-5h0m5-1h0m3 6h0m4-2h0m2-5h0m6-1h0m1 4h0m12 4h0m7-4h0m1 3h0m21 1h0m-108 6h0m0 3h0m5 2h0m11-3h0m7 1h0m2-2h0m0 3h0m2 1h0m1-4h0m4-5h0m5 2h0m3 4h0m5-6h0m1 6h0m2-1h0m6 0h0m9-5h0m6 3h0m6 5h0m1-5h0m6-1h0m24 3h0m2 2h0m0-6h0m5 7h0m-106 5h0m3 6h0m1 0h0m4-2h0m4 1h0m1-1h0m0-6h0m9 7h0m8-6h0m7 3h0m13 0h0m5-4h0m3 7h0m1 0h0m2-2h0m1-1h0m44-4h0m13 2h0m-106 14h0m2-6h0m2 4h0m3-2h0m30 5h0m2-8h0m5 5h0m74-5h0m7 1h0m1 7h0m0-4h0m1-3h0m2 3h0m1 5h0m1 0h0m14-2h0m-144 11h0m1-8h0m3 1h0m9 4h0m1 2h0m4-4h0m1 5h0m1-3h0m2-1h0m15-1h0m10-3h0m4 8h0m1-8h0m3 9h0m81-6h0m8 0h0m-142 8h0m6 0h0m5 3h0m0 1h0m3 0h0m0-4h0m1 7h0m4 0h0m3 0h0m1-5h0m8 2h0m3 0h0m10-1h0m5 2h0m5-3h0m-15 9h0m33 3h0m31 2h0m6-5h0m3 4h0m2 0h0m-36 13h0m2-1h0m10-8h0m2 5h0m5 3h0m13-7h0m2 5h0m2-6h0m-35 17h0m7 1h0m26-8h0m8 6h0m13 3h0m5 0h0m1-7h0m6 6h0m-53 7h0m11-1h0m8-4h0m9 2h0m0-2h0m1 4h0m1-1h0m5 5h0m8-8h0m1 6h0m5-4h0m1 2h0m-41 11h0m2 4h0m6-5h0m4-1h0m4 3h0m8-1h0m3-4h0m4-1h0m-24 10h0" stroke="#e8545f" stroke-width="4.8" stroke-linecap="round"/>
<path d="M335 1659h0m22-3h0m-35 7h0m6 5h0m4-4h0m6 5h0m6-9h0m5 8h0m4-1h0m1-7h0m0 8h0m-32 6h0m10 3h0m32-2h0m-39 6h0m11-1h0m34 7h0m-45 6h0m7 6h0m4-6h0m18-3h0m13 2h0m12 0h0m2 3h0m-62 5h0m10 8h0m4-3h0m3-2h0m17 5h0m2-3h0m20 0h0m-54 5h0m3 9h0m10-7h0m26 4h0m4-4h0m3 1h0m0 4h0m-25 10h0m21-7h0m2 9h0m5-8h0m114 8h0m7-3h0m8 2h0m6-3h0m2 1h0m2 3h0m-181 7h0m7-3h0m18-1h0m124-2h0m7 0h0m6 1h0m11-1h0m1 4h0m0 1h0m4 2h0m4-7h0m3 6h0m-184 5h0m18 1h0m128 5h0m0 0h0m4-1h0m4 1h0m1-5h0m11-2h0m10 3h0m9 3h0m5-1h0m3-3h0m-196 10h0m179 1h0m2 0h0m6 3h0m1-1h0m13-3h0m-205 9h0m6 1h0m1 4h0m124 1h0m4-2h0m5-1h0m7 1h0m2-1h0m1 5h0m13-8h0m35 1h0m5 6h0m2-1h0m-202 7h0m9-4h0m127 5h0m6 2h0m3-6h0m1 3h0m8 3h0m2-5h0m1-2h0m6 4h0m1 3h0m0-4h0m2-3h0m4 9h0m6-9h0m13 9h0m7-1h0m2-4h0m2 3h0m2-2h0m4 4h0m6-3h0m3-1h0m-26 5h0m3 7h0m10-7h0m1 8h0m5-3h0m7 3h0m-406 7h0m5 2h0m5 0h0m5 0h0m1-4h0m3 0h0m8 6h0m367-8h0m0 1h0m-388 14h0m4-4h0m3 0h0m1 0h0m9 1h0m17 3h0m1 3h0m0-2h0m334-2h0m28-3h0m52 4h0m24-1h0m-475 10h0m10 0h0m9-1h0m4-2h0m2 3h0m3-5h0m12 2h0m315 2h0m2-3h0m20 4h0m2-4h0m5 2h0m2-3h0m2 0h0m29 7h0m1-3h0m21 1h0m11-2h0m10-3h0m4 7h0m7-1h0m3-1h0m-468 14h0m10-6h0m4-3h0m4 7h0m2 0h0m3 2h0m1-2h0m4-2h0m4 4h0m1 0h0m316-5h0m12 1h0m1 0h0m2 0h0m1 2h0m50 0h0m9-7h0m2 4h0m1-2h0m19 3h0m8-5h0m4 1h0m0 0h0m2 0h0m-461 10h0m4 3h0m6 2h0m1 3h0m10 0h0m1-7h0m4 5h0m11 2h0m342-2h0m44-4h0m0-1h0m5 6h0m9 1h0m-478 8h0m6-3h0m4 4h0m34 1h0m8-9h0m11 4h0m5 5h0m1-7h0m3 2h0m410-4h0m5 3h0m4-3h0m4 1h0m-513 15h0m2-1h0m0 2h0m2 2h0m2-2h0m0 1h0m4 1h0m6-8h0m6 7h0m2-8h0m3 2h0m1 5h0m1-3h0m6 0h0m0 4h0m6-5h0m3 5h0m1-2h0m18-2h0m12-4h0m11 3h0m-91 9h0m1-2h0m5 6h0m0 1h0m0-2h0m5-2h0m7 6h0m3-7h0m5 1h0m0 3h0m2-3h0m1-2h0m1 0h0m2 4h0m6 4h0m12-8h0m4 5h0m5 1h0m1-3h0m7 3h0m4-4h0m18-1h0m2 0h0m-97 15h0m4 1h0m3-6h0m1 2h0m6-1h0m5-3h0m6 7h0m17-6h0m1 8h0m4-6h0m2 0h0m4 2h0m0 1h0m5-4h0m3-2h0m2 2h0m3 4h0m6-5h0m12 0h0m3 5h0m1 2h0m6-1h0m0 2h0m14-8h0m1 7h0m1 1h0m1-1h0m11 0h0m1-4h0m-173 9h0m25 6h0m40 0h0m7-9h0m3 4h0m3 1h0m1 1h0m0 0h0m10-5h0m16 4h0m5 1h0m4-3h0m10 6h0m1-9h0m2 3h0m2-1h0m5 3h0m3 2h0m3-3h0m3-1h0m2 4h0m0-7h0m4 1h0m5 3h0m4 4h0m11 1h0m1-9h0m6 6h0m5 3h0m9-3h0m3-3h0m2 5h0m0-8h0m2 8h0m1-3h0m0 0h0m-215 14h0m21-5h0m46-4h0m15 4h0m3-4h0m2 1h0m4-1h0m13 8h0m2-6h0m1 3h0m1-3h0m2 1h0m9 1h0m7 3h0m7-1h0m1 1h0m6 2h0m8-6h0m3 5h0m0-8h0m0 8h0m10-1h0m9-7h0m3 0h0m14 5h0m5-2h0m2-2h0m0 7h0m6 1h0m13-4h0m6 3h0m2-2h0m-215 10h0m1-2h0m75 0h0m15-4h0m3 1h0m6 4h0m1 3h0m2-4h0m2 4h0m2 1h0m0-3h0m2-5h0m4 1h0m2 5h0m10 1h0m7-7h0m4 1h0m13 6h0m7 0h0m6-4h0m1-4h0m5 4h0m0-2h0m0 7h0m2-8h0m4-1h0m9 7h0m1-7h0m8 9h0m0-1h0m6 1h0m1-7h0m2 1h0m8 1h0m1 0h0m4-3h0m0 4h0m-206 10h0m18-4h0m8 2h0m17 4h0m29-3h0m8-1h0m3-2h0m2-1h0m6 5h0m8-2h0m9 0h0m3 5h0m8-1h0m4-1h0m3-6h0m8 7h0m0-3h0m1-3h0m7 0h0m1 5h0m3 0h0m4 2h0m1 0h0m3-4h0m2 2h0m0 3h0m3-8h0m8 5h0m8-5h0m3 1h0m6-2h0m3 0h0m0 1h0m-197 10h0m20 4h0m75-3h0m14 1h0m1 3h0m10-4h0m1-1h0m2 2h0m1-3h0m6 0h0m5 3h0m21-2h0m4-1h0m-128 18h0m11-2h0m25-5h0m12 5h0m-50 4h0m-10 19h0m20-8h0m42-1h0m57 17h0m-72 17h0m-12 13h0m5-6h0m20 5h0m6-2h0m-26 9h0m9-2h0m29 4h0m4 3h0m8 1h0m7-1h0m5 1h0m7 0h0m9-1h0m1-1h0m2-6h0m-37 12h0m2-2h0m0 6h0m1-5h0m9 0h0m0 4h0m1-6h0m1 7h0m6-7h0m4 1h0m2 1h0m3 4h0m1-6h0m0 6h0m4 0h0m1-3h0m0 4h0m0 1h0m2 1h0m0-2h0m4-4h0m2-2h0m6 7h0m15 0h0m11 0h0m-68 10h0m1-6h0m4 5h0m5-6h0m3 5h0m0 3h0m4-7h0m2 2h0m1-4h0m3 1h0m12 4h0m1-1h0m3-2h0m2 2h0m2 3h0m3 2h0m0 0h0m7-7h0m1 0h0m2 5h0m16-6h0m0 1h0m-70 10h0m2 4h0m4-4h0m4-2h0m1 0h0m12 7h0m6-1h0m2 2h0m2-5h0m7 2h0m4-1h0m4 3h0m2-6h0m7 3h0m-46 11h0m4 2h0m4-3h0m2-4h0m0 0h0m0 2h0m6-2h0m3 3h0m8 1h0m1 0h0m1-2h0m1 5h0m1-4h0m1 5h0m12-5h0m-10 7h0" stroke="#e8894c" stroke-width="4.8" stroke-linecap="round"/>
<path d="M346 1648h0m2-6h0m0 6h0m1-2h0m-20 12h0m6-4h0m4 5h0m1-8h0m0 5h0m6 1h0m2-6h0m1-1h0m6 6h0m1 0h0m0-1h0m-33 11h0m8 0h0m0-3h0m5 0h0m1 0h0m5-3h0m4 3h0m5 4h0m3-6h0m3 8h0m1-1h0m-37 11h0m1-4h0m1-1h0m0-1h0m3 6h0m5 0h0m5-8h0m1 4h0m7 3h0m6-2h0m4 1h0m12-2h0m-47 5h0m3 0h0m9 5h0m6 2h0m2-4h0m2-1h0m10 1h0m7 5h0m-39 6h0m6 2h0m1-3h0m2 0h0m5 0h0m7 0h0m12-3h0m2 0h0m5 5h0m3-1h0m10 0h0m3 0h0m1 1h0m6 0h0m-63 9h0m4 1h0m3 3h0m10-4h0m3-4h0m0 7h0m2 2h0m15-4h0m5 0h0m1-3h0m1 5h0m4-5h0m6 1h0m3 6h0m4-8h0m-60 10h0m7 0h0m5 7h0m1-3h0m0-4h0m2 2h0m7 1h0m4 5h0m3 0h0m0-6h0m4 5h0m1-7h0m5 6h0m1-4h0m3-2h0m2 5h0m2-4h0m0 1h0m1 6h0m3-7h0m-50 17h0m7-4h0m2-3h0m0 5h0m2-6h0m3 0h0m0 3h0m6 1h0m1 1h0m2 0h0m2-5h0m1 1h0m2 4h0m1 0h0m0-3h0m5-2h0m6 5h0m3-3h0m3-1h0m0 1h0m133 4h0m-177 7h0m12-2h0m16 0h0m5 2h0m2 1h0m0 3h0m1-7h0m4 1h0m0 3h0m115-4h0m4 1h0m6 5h0m4-1h0m6 3h0m6-2h0m2-4h0m2-3h0m2 4h0m-180 15h0m1-3h0m1-4h0m5 7h0m13-5h0m125 3h0m7 0h0m3-3h0m18 3h0m2-7h0m3 6h0m18 3h0m-204 6h0m4-5h0m2 1h0m4 8h0m0-5h0m0 4h0m1-5h0m2-1h0m1 2h0m7 0h0m2-2h0m5 2h0m128 1h0m7-4h0m26-1h0m16 4h0m-199 12h0m2-6h0m2 6h0m0-2h0m1-4h0m8 3h0m3 2h0m2-3h0m117 6h0m9-1h0m12-3h0m7 0h0m40-1h0m1 5h0m4-3h0m-212 7h0m8 1h0m1 2h0m149-5h0m0 5h0m0-5h0m4 7h0m27-6h0m17 4h0m-198 6h0m157 1h0m2-1h0m7-1h0m41 4h0m3 3h0m0-4h0m-405 8h0m15 7h0m0 1h0m2-8h0m-12 11h0m15 6h0m0-6h0m3 3h0m0-4h0m6 6h0m3-4h0m332 3h0m2 1h0m5-3h0m12 1h0m70-4h0m4 3h0m4 2h0m17 0h0m-465 9h0m3-2h0m0 3h0m2 0h0m5 0h0m0 2h0m2 0h0m2 1h0m3-7h0m9 6h0m4-3h0m58 4h0m13-3h0m5 0h0m16-5h0m5 0h0m6 8h0m0-9h0m1 5h0m206 2h0m43-1h0m3 1h0m61-5h0m0 5h0m-455 11h0m3-4h0m1-4h0m3 8h0m2-6h0m1 0h0m2 7h0m4-1h0m0-6h0m14 7h0m74-1h0m8-1h0m11-5h0m1 7h0m11-9h0m11 5h0m206-2h0m9 4h0m11-4h0m56 5h0m7-8h0m21 8h0m7-6h0m-459 15h0m10-6h0m10 2h0m7-1h0m8 6h0m0-4h0m3 2h0m1-3h0m21 2h0m7-3h0m4 4h0m4-3h0m28 0h0m24-2h0m0 3h0m0 4h0m227-6h0m24-2h0m1 1h0m47 0h0m12 1h0m4 3h0m6 3h0m3 1h0m-501 10h0m3-1h0m1 0h0m4 0h0m7 0h0m2-6h0m35 5h0m6-3h0m0-3h0m14 1h0m2-2h0m50 8h0m1 0h0m24-7h0m11 8h0m24-2h0m226-5h0m9 3h0m6-1h0m76-4h0m-502 19h0m1-2h0m0 2h0m5 0h0m6 0h0m5-2h0m1-3h0m32 0h0m4 5h0m4-3h0m1-1h0m2 3h0m10-6h0m11-1h0m28 0h0m7 3h0m5 4h0m24-6h0m9 4h0m39-3h0m-200 10h0m4-1h0m1 4h0m2-5h0m2 2h0m2-2h0m8 6h0m2-4h0m1-2h0m4 5h0m2-5h0m3 7h0m3-6h0m2 0h0m1-2h0m8 9h0m1-9h0m7 9h0m29-9h0m0 5h0m65 1h0m3 0h0m12 1h0m7-6h0m1 8h0m8-1h0m1-8h0m17 8h0m1 0h0m-182 10h0m3-3h0m5-1h0m0 4h0m0-1h0m1-6h0m2-1h0m13 9h0m1-5h0m5 4h0m3-5h0m17-2h0m2 7h0m2-3h0m8-4h0m0 3h0m3 5h0m5-7h0m12 2h0m2 3h0m1-4h0m2-1h0m2 0h0m8 4h0m4 0h0m16 2h0m6 1h0m2 0h0m3-1h0m2 0h0m11-8h0m28 1h0m12 1h0m-205 8h0m1 3h0m1 1h0m5 3h0m4-7h0m1 8h0m3-6h0m0 2h0m31-3h0m1 8h0m12-1h0m0 1h0m2-3h0m3-4h0m4 0h0m5 4h0m4-5h0m0 2h0m16 4h0m2-6h0m2 3h0m5 4h0m1-7h0m7 5h0m1 2h0m1-5h0m12 4h0m4-3h0m1 0h0m2-3h0m2 0h0m4 8h0m1-1h0m1-3h0m0 3h0m4-4h0m1 2h0m21 3h0m10-3h0m9-4h0m5 2h0m9-1h0m-193 10h0m4-3h0m3 6h0m7-5h0m5 8h0m3-5h0m1 3h0m2-7h0m3 4h0m0 2h0m16-5h0m0 7h0m5-1h0m1-2h0m6-5h0m6 0h0m8 1h0m2 2h0m5 5h0m2 1h0m11-4h0m5 3h0m5-5h0m2 1h0m5 1h0m6 4h0m13-3h0m5-6h0m5 0h0m1 4h0m3 5h0m2-3h0m1 2h0m7 0h0m4-6h0m4 0h0m12-2h0m1 1h0m16 8h0m2-3h0m0 2h0m2-6h0m-191 8h0m2 5h0m13 2h0m3-1h0m7 3h0m7-5h0m15-2h0m15-1h0m2 1h0m9 1h0m5-2h0m0 0h0m5-1h0m4 0h0m1 3h0m1-3h0m7 1h0m8 8h0m11-1h0m5 1h0m0-9h0m3 9h0m4-6h0m0 1h0m3 0h0m2 5h0m0-4h0m0-5h0m3 6h0m3-2h0m3 5h0m0-8h0m0 2h0m0 2h0m8 1h0m16-2h0m16-2h0m3 6h0m-167 4h0m7 1h0m5 2h0m1-3h0m2 7h0m4-1h0m8 1h0m2-6h0m10-2h0m9 0h0m2 8h0m10-9h0m3 1h0m8 6h0m4-5h0m1 2h0m1 4h0m2-5h0m8 0h0m2-2h0m7 0h0m3 2h0m0 3h0m5 1h0m12-1h0m8-4h0m40 4h0m5-2h0m-132 9h0m2 1h0m4-1h0m1-2h0m3 2h0m59-2h0m2 4h0m0-1h0m2-3h0m29 0h0m7 6h0m20-1h0m0 2h0m-67 4h0m14 2h0m13-3h0m8 0h0m12 4h0m6-3h0m-44 15h0m36-7h0m0 0h0m2 6h0m2-2h0m-40 8h0m1 4h0m3 1h0m2-3h0m8-2h0m5 7h0m17-5h0m12 1h0m-24 11h0m2-5h0m8 5h0m-95 38h0m1-2h0m-37 8h0m1 4h0m70 4h0m-57 9h0m0-1h0m5 3h0m18-9h0m23 8h0m6-6h0m9 6h0m-56 9h0m8 2h0m10-2h0m17 1h0m-31 4h0m2-1h0m18 0h0m11 0h0m9 4h0m-35 5h0m391 19h0m8 2h0m0 2h0m2 6h0m9-6h0m0 5h0m4-7h0m1 6h0m2-2h0m2 3h0m1-5h0m2 0h0m-24 7h0m4 3h0m4-1h0m13 2h0m3 2h0m1-4h0m1 12h0" stroke="#e8c845" stroke-width="4.8" stroke-linecap="round"/>
<path d="M343 1646h0m-8 11h0m10-4h0m3 0h0m3 3h0m5 0h0m0 2h0m-28 5h0m8-3h0m6 4h0m5-2h0m1 5h0m2 2h0m1-3h0m3-3h0m9 4h0m-48 10h0m5-7h0m0 4h0m1-3h0m4-1h0m0 7h0m1 0h0m6 1h0m7 1h0m5-2h0m7-2h0m2 4h0m5-8h0m2 1h0m1 4h0m4-5h0m1 2h0m1 1h0m-50 8h0m0-1h0m5 8h0m1-6h0m3-2h0m1 2h0m2-3h0m4 2h0m7 0h0m6 2h0m5 2h0m4 0h0m3-1h0m2 4h0m10-8h0m6 5h0m-56 8h0m2-1h0m6 4h0m2-4h0m3 1h0m2-1h0m2-3h0m1 4h0m1-4h0m19 3h0m3-1h0m2-2h0m7 3h0m1 4h0m1-5h0m-47 10h0m2 1h0m10-2h0m4 8h0m2-4h0m5 1h0m2-1h0m3 3h0m1 1h0m1-3h0m7 3h0m4-4h0m2-5h0m5 4h0m5 3h0m0 1h0m-55 11h0m1-5h0m1 0h0m6 5h0m5-6h0m2 4h0m10-2h0m2-2h0m14 2h0m0 3h0m7-6h0m6-2h0m-52 11h0m7 7h0m3-5h0m4 6h0m4-6h0m8 6h0m1-6h0m5 0h0m8 5h0m4-4h0m-48 12h0m1-5h0m1 3h0m1-2h0m3 4h0m4-6h0m1 0h0m4 2h0m2 0h0m8 7h0m8-1h0m6-8h0m0 9h0m1-1h0m-36 10h0m2 1h0m2 0h0m18-4h0m0 4h0m2-7h0m8 1h0m1-2h0m-36 10h0m13 1h0m7 3h0m6 1h0m4-5h0m-28 16h0m6-5h0m5 6h0m-11 4h0m4-1h0m0 1h0m5 3h0m2-5h0m0 0h0m1 5h0m-10 13h0m5-6h0m1-1h0m2-1h0m-53 29h0m-37 7h0m2 3h0m4-3h0m12 2h0m9-3h0m2-1h0m5 3h0m1 1h0m4-2h0m1-6h0m0 5h0m-64 14h0m12-4h0m8-1h0m3 2h0m17-3h0m14 0h0m0 6h0m3-6h0m3 1h0m1-2h0m4 4h0m-79 13h0m2-3h0m13 2h0m5-2h0m1-2h0m10-1h0m28 4h0m0-7h0m-62 17h0m3 0h0m5 2h0m1-3h0m5 0h0m3-2h0m2-2h0m5-1h0m8 3h0m4 3h0m7-5h0m2-1h0m1 8h0m1-6h0m7 6h0m3-4h0m3 3h0m1-4h0m4-4h0m1 2h0m12 2h0m11 4h0m-81 10h0m2-1h0m2 2h0m6 0h0m4-9h0m1 4h0m2-4h0m3 0h0m11 4h0m5 2h0m5 2h0m9-1h0m1 0h0m2-2h0m6 2h0m5-3h0m9 3h0m1-4h0m-73 14h0m0-5h0m4-2h0m1 6h0m2-2h0m11 2h0m5-2h0m6 3h0m21-2h0m2 4h0m1-7h0m3 0h0m0-2h0m2 8h0m6-8h0m0 3h0m0 0h0m9 5h0m4-4h0m-83 14h0m2 0h0m5-7h0m19 3h0m5 4h0m14-5h0m1 4h0m14-1h0m4-5h0m2 2h0m9 2h0m-75 14h0m2-1h0m4-3h0m1-5h0m5 9h0m5-1h0m1 0h0m3-1h0m8-3h0m1 4h0m2-3h0m2 2h0m1-5h0m1 2h0m5 0h0m9 1h0m12-1h0m3-4h0m0 4h0m1 4h0m-64 9h0m4-1h0m9-6h0m5 5h0m0 1h0m7 1h0m2-6h0m1 7h0m0-5h0m2 0h0m3 5h0m4-8h0m2 3h0m0 2h0m2-3h0m5 6h0m3-2h0m17-4h0m7 2h0m-79 9h0m1-2h0m1 1h0m7 4h0m16-5h0m1 6h0m2-7h0m6 4h0m1 2h0m8-2h0m3 4h0m3 1h0m6-5h0m3-3h0m10 5h0m3 0h0m2-5h0m0 3h0m-71 14h0m2-6h0m3 7h0m3-6h0m7 1h0m3-3h0m4 3h0m6-2h0m8 7h0m1-7h0m2 6h0m12-7h0m11 4h0m5-5h0m0 5h0m-57 8h0m16-3h0m0 3h0m2-3h0m3 9h0m1-5h0m1-4h0m3 3h0m9-3h0m1 3h0m5 0h0m0 4h0m3 0h0m3 1h0m3-4h0m6 0h0m-60 15h0m20-5h0m5 0h0m9 0h0m4 5h0m6 0h0m9 0h0m4-5h0m-64 13h0m5-4h0m6 5h0m5-3h0m5-4h0m1 5h0m6 3h0m9-1h0m6-7h0m3 1h0m8 3h0m8-2h0m-64 11h0m1 0h0m5-3h0m4 0h0m14 4h0m4 1h0m1-4h0m2 4h0m6 2h0m1-2h0m4 0h0m8-1h0m10-2h0m-31 16h0m6-4h0m2-1h0m12-4h0m-18 11h0m3 3h0m12 3h0m5-1h0m1-1h0m4 4h0m-5 1h0m278 88h0m1 0h0m1-1h0m22 1h0m1 1h0m4-1h0m-23 9h0m1-7h0m3 7h0m3-1h0m1-5h0m10 1h0m0 7h0m4-9h0m1 0h0m1 6h0m-21 5h0m7-1h0m0 6h0m8 3h0m2-4h0m3 0h0m6 1h0m1-4h0m0 6h0m2-6h0m3 4h0m1 1h0m1 2h0m-17 2h0m5 3h0" stroke="#92d548" stroke-width="4.8" stroke-linecap="round"/>
<path d="M514 1887h0m14-5h0m-95 17h0m-14 4h0m18 2h0m46 1h0m36 1h0m-88 9h0m35-5h0m-21 16h0m3-2h0m0-5h0m-63 12h0m64 2h0m27 2h0m19-1h0m9 1h0m-62 4h0m62 4h0m-22 14h0m-102 30h0m-70 14h0m-28 27h0m86-9h0m-56 29h0m69 45h0" stroke="#e8894c" stroke-width="4.4" stroke-linecap="round"/>
<path d="M314 1878h0m52-3h0m-96 11h0m12-2h0m43 4h0m2 0h0m5-8h0m69 8h0m4-4h0m-97 13h0m46-5h0m10 7h0m7-6h0m0 6h0m6 0h0m20-3h0m-74 11h0m21 0h0m16-2h0m8 0h0m8 3h0m27-1h0m-132 12h0m38-3h0m28 0h0m71-2h0m1-4h0m-137 17h0m35-4h0m23 3h0m22 1h0m1-2h0m57 4h0m-113 9h0m39-8h0m9 0h0m3 6h0m27 3h0m6-6h0m2 5h0m7-3h0m1-2h0m-103 8h0m31 8h0m17-9h0m6 1h0m23 3h0m38 3h0m3-1h0m-136 8h0m2 2h0m8-5h0m7 2h0m15 3h0m22-3h0m12 5h0m50 1h0m21-1h0m-143 8h0m40-4h0m1 6h0m17-1h0m18-4h0m16 5h0m20-7h0m23 7h0m6 0h0m3-8h0m-99 17h0m7-3h0m10-4h0m17 9h0m11-8h0m4 1h0m32-2h0m2 4h0m-106 13h0m4-7h0m23 3h0m18 6h0m0-7h0m45 5h0m19-5h0m-113 8h0m21 6h0m15-6h0m53 7h0m10-7h0m0 2h0m2 3h0m-114 10h0m8-1h0m8 4h0m31-7h0m0 0h0m7 2h0m11 6h0m42-9h0m4 0h0m9 0h0m4 5h0m-117 7h0m5-2h0m3 5h0m17-1h0m14 5h0m3-5h0m2-4h0m7 8h0m3-6h0m64-1h0m8 1h0m-114 16h0m33 1h0m3-8h0m23 3h0m17-2h0m40 7h0m-104 4h0m13 0h0m1 1h0m39 1h0m20 0h0m12-4h0m-104 9h0m12 1h0m4 6h0m1-6h0m22 3h0m4 4h0m26-6h0m-65 9h0m41 0h0m10 5h0m55 2h0m-85 8h0m23 0h0m7-6h0m10 8h0m-59 2h0m20 8h0m21-6h0m4 7h0m15 2h0m5 4h0m20-1h0m3 1h0m8-4h0m10 11h0" stroke="#62b07e" stroke-width="4.4" stroke-linecap="round"/>
<path d="M437 1899h0m16-1h0m34 3h0m32 6h0m-207 9h0m68-2h0m21 2h0m96-3h0m-67 15h0m16-8h0m12 6h0m19 1h0m22-6h0m-112 10h0m127 4h0m-54 8h0m14 8h0m32 3h0m-115 13h0m79-3h0m-94 6h0m-59 18h0m2-1h0m-5 8h0m43 0h0m-5 8h0m21 1h0m-23 8h0m3 6h0m53 11h0m-23 13h0m-27 11h0m-21 25h0" stroke="#e8c845" stroke-width="4.4" stroke-linecap="round"/>
<path d="M314 1877h0m18 3h0m144 6h0m6-1h0m44-2h0m-20 24h0m-187 8h0m55-3h0m98 7h0m13-4h0m21-3h0m3 3h0m-144 13h0m40-5h0m36 0h0m55 0h0m-126 11h0m5 5h0m46-7h0m56 2h0m-77 24h0m5-8h0m118 5h0m-163 10h0m3 2h0m19-4h0m-83 10h0m1 2h0m91-5h0m-19 10h0m18 17h0m-40 3h0m-33 16h0m-39 6h0m116 0h0m3-2h0m-11 14h0m10 1h0m-30 30h0m-34 12h0" stroke="#92d548" stroke-width="4.4" stroke-linecap="round"/>
<path d="M536 1879h0m-162 9h0m123-2h0m8-3h0m19 0h0m-163 9h0m45 3h0m0 1h0m24 1h0m5-2h0m4 3h0m23-2h0m5-6h0m3 8h0m29-8h0m21 2h0m-110 13h0m35 0h0m12-3h0m1 0h0m11 4h0m12-1h0m15-1h0m1-1h0m29-1h0m1-2h0m5 2h0m-162 12h0m42 4h0m2-2h0m7-3h0m11 6h0m13-3h0m0-5h0m12 6h0m1-2h0m6 3h0m4-3h0m6-1h0m6 1h0m0-5h0m17 8h0m5-8h0m9 5h0m17 3h0m1 0h0m-115 7h0m5 0h0m14-1h0m5-1h0m8 3h0m14-3h0m23 5h0m17 0h0m3-3h0m2 4h0m4-1h0m15-7h0m12 0h0m-114 17h0m4 1h0m9-1h0m0-7h0m1 6h0m7 1h0m1-6h0m7 2h0m5-4h0m1 9h0m5-6h0m23 3h0m29-3h0m20 5h0m2-6h0m-114 13h0m9 2h0m9-3h0m12-3h0m1 2h0m2-1h0m3 1h0m7 1h0m8-2h0m0 1h0m11-1h0m11 5h0m6-6h0m14-1h0m2 5h0m-94 7h0m9 5h0m8-6h0m24 5h0m1-3h0m15 5h0m8-8h0m18 2h0m12 5h0m10 2h0m1-3h0m2-2h0m2 2h0m3 2h0m-100 3h0m75 0h0m28 7h0m-274 7h0m111 1h0m137-4h0m1 2h0m20 0h0m-189 11h0m39-5h0m2 4h0m-61 13h0m68 0h0m-110 15h0m96 20h0m-75 9h0m1 5h0m64 21h0m6 10h0" stroke="#468cc8" stroke-width="4.4" stroke-linecap="round"/>
<path d="M497 1889h0m0-3h0m-43 6h0m27-1h0m30 6h0m3-2h0m-96 8h0m21 6h0m6-5h0m25 0h0m8-3h0m2 0h0m16 6h0m3-1h0m5 2h0m-93 4h0m39-2h0m8 5h0m1-2h0m5 1h0m12-4h0m21 6h0m1 3h0m3-6h0m22 0h0m2 1h0m-113 8h0m3 4h0m6-3h0m35 6h0m6-3h0m27 3h0m7-9h0m5 0h0m21 7h0m14 1h0m-106 8h0m22 2h0m13-4h0m2-4h0m0 8h0m19-6h0m14-2h0m-56 17h0m9-6h0m3 7h0m14-8h0m2 2h0m11 4h0m-61 12h0m25-8h0m15 5h0m5-1h0m7-3h0m13 2h0m5 2h0m1-2h0m19-3h0m1 9h0m12-1h0m11 0h0m-113 2h0m59 4h0m30-1h0m9 1h0m16 5h0m2-1h0m-8 7h0m3-1h0m0-4h0" stroke="#4a6cae" stroke-width="4.4" stroke-linecap="round"/>
<path d="M331 1669l2-1 1 1 1 2-1 3-2 0-1-2zM342 1684l-5 2-3-4 2-4 4 0 3 2zM356 1727l-1-3 1-1 2-1 1 1 1 1-1 2zM356 1673l-1-1 1-4 3 0 2 0 0 3-3 4zM346 1727l-4-2 1-4 4 1 1 4zM354 1716l-1-4 3-2 3 1-1 3zM341 1725l-4-3-1-5 4-1 4 4zM329 1693l-1 3-1 3-2-2-2-2 3-2zM355 1695l1-3 1-2 2-1 0 3 0 2-2 2zM326 1751l3-6 4-1 0 5-3 3zM334 1706l-2-2 2-1 2-2 1 3 0 2-1 1zM344 1668l-1-3 2-4 4 3 2 3 0 4-4-1zM324 1726l-3-2 0-4 1-2 3 2 1 4zM319 1696l1-1 2-1 2 2-1 2-2 0-2 0zM339 1727l-4 2-1-2 4-3 3-3 3 0-2 4zM339 1724l3-1 2 3-1 3-3-1zM351 1660l-2 4-3 3-4-3-2-5 6 0zM348 1695l-1-7 3-3 5 2 0 5zM369 1688l-1 2-3 0 0-4 2-2zM356 1712l-2 1-1-3 1-2 2 1zM337 1740l0 2-4 2-2-1-2-2 3-1 3-1zM342 1732l1-5 4-1 1 4-3 3zM346 1709l3-1 2 0 0 2-2 2-2 0-1-1zM361 1729l-4-1-1-2 4-2 3 4zM329 1701l2 4-1 3-2 2-2-1 0-4 1-2zM359 1686l1 5-3 2-2-5 1-6zM331 1718l2 2 1 3-1 2-2 0-2-1 1-4zM354 1670l2 1-1 2-1 2-3-1-1-1 2-2zM334 1674l0-5 5 1 3 4-3 4zM355 1678l-5 3-5-1 0-5 5-1 4 0zM351 1679l-4 0 0-3 6-2 3 2zM325 1718l2 2-1 3-3 1-1-3zM342 1670l3 5-2 3-2-1-1-4zM343 1723l1 3-3 2-3-1-2-3 3-2zM357 1675l2 4-4 2-3-3 1-4zM339 1662l4 4 1 5-4 0-5-3 0-5zM353 1719l-2 1-4-1 1-3 3 1zM332 1698l-1-2 2-1 2 0 1 3-1 3-2-1zM327 1720l1-3 4-2 4 2-3 4-3 1zM345 1708l1 5-4-1-3-1 0-5 3 0zM236 1853l4 1-1 5-4 2-3-3 1-3zM222 1830l3 1-1 2-1 1-3-1-1-1 0-2zM225 1829l1 3-1 3-2 0-2 0 1-4 1-2zM266 1816l3 0 3 3-3 2-3 1-2-3zM245 1959l4 1 1 4-3 4-3-2-2-4zM233 1867l3-2 3 3 0 4-4 0-3-2zM247 1938l-1 3-3 1-3-2 1-3 1-3 4 1zM233 1958l0-6 4 0 2 3-1 4-3 1zM259 1870l-5 0 1-4 3-3 3 3zM262 1876l2-4 2 0-1 5-2 3zM274 1824l1-2 3 2 0 3-1 2-3 0-1-2zM251 1856l4 3-1 4-4 1-3-5zM231 1963l3-1 4 0 0 3-1 2-4 1-1-3zM236 1869l-5 0-1-3 4-2 4 2zM260 1865l0-3 0-3 2-1 2 2 1 3-2 2zM250 1971l3 0 0 3-2 2-3 0-1-1 1-2zM268 1816l3-3 3 3-1 3-3 0zM271 1870l3 1 1 2-2 2-3 2-2-2-1-3zM252 1825l-2-2 1-4 2 2 1 4zM224 1834l2-3 2 4-2 3-2-1zM277 1870l4 1 1 2-4 3-3 2-3-1 1-4zM243 1878l3 3-2 5-5-3-1-5zM277 1834l-1-2-2-1 2-1 1 0 2 1 0 2zM256 1924l3-2 5 0 0 5-4 2-5-1zM254 1852l3 1 1 2-2 2-3-2zM238 1887l4 0 1 3-3 1-2-1zM262 1866l3 3-4 2-5-1 2-4zM265 1827l0-5 4 1 1 4-2 5zM281 1822l1-3 1-3 3 0 1 2-1 3-3 1zM227 1926l-1-5 2-4 3 3 2 4-2 3zM237 1899l-3-1-1-4 2-2 3 3 2 3zM240 1829l-2 3-4-1-1-3 1-4 4-1 2 3zM276 1881l0 3-1 2-3 4-3-1 2-3 1-4zM242 1859l3 1 2 3-3 0-4-3zM212 1905l-1-4 2-4 4-1 1 5-2 3zM237 1876l2 0 1 1 0 3-2 1-2-1 0-2zM238 1968l-1-2 2-1 5 2-1 3zM259 1903l2 4-3 1-3-3 0-3zM277 1887l2 2-2 5-2 0-1-3zM260 1898l-1-1 1-3 3 2 0 2zM211 1883l0 2-2 1-3-1-1-2 1-2 3 0zM212 1902l0-3 7 1 0 4-4 1zM279 1817l-1 3-4-1-2-4 2-3 3 2zM275 1906l-3 1-2-3 2-3 3 0 2 2zM248 1938l3 3-3 3-3-1-2-3zM343 1836l-2-2-1-3 2-1 3 2 1 3zM331 1829l2 1 1 2-1 0-2 1-1-2 0-1zM370 1856l2 2-2 3-3-1-1-3 2-2zM347 1828l1 2-1 3-3 0-2-3 2-3zM335 1828l0-3 3-2 2 3-2 3zM327 1831l1-4 3-1 1 3-1 3zM381 1858l2 2 0 3-2 3-2-1 0-3zM350 1848l3 1-2 3-2 2-4-1 0-3 1-3zM352 1847l3-1 2 4-1 4-4-3zM332 1833l3-3 3 1 2 3-2 4-5-1zM120 1901l-2 3-4 1 2-4 3-2zM207 1898l-1 2-3 0-1-4 0-3 3 2zM111 1893l-2 2-2 1-1-3 1-2 2 0zM162 1880l4-3-1 5-2 3-2-2zM165 1909l2 0 2 1-1 4-2 2-2-1 0-3zM153 1896l-1 4-2 1-3-1 0-4 2-3zM126 1867l2 0-1 3-2 0 0-1zM137 1900l-1-2 1-2 2 0 1 1 1 2-2 1zM165 1915l-1 3-2-1-2-3 3-1zM99 1849l2-2 3-2 0 3-1 4-3 0-1 0zM136 1869l-3-1-1-3 0-3 3 2 2 3zM132 1894l-3 2-2-1-1-2 2-2 2 1zM191 1895l-3 3-3-1-1-3 4-3zM117 1902l-1 4-5 1-1-4 3-3zM163 1885l1 3-1 3-3 0-3-3 2-3zM206 1881l4 1 2 3-1 4-4-4zM152 1901l3 1 1 2-2 2-3-2-2-2zM224 1896l2 1-1 3-3 0 0-3zM162 1886l1 3-3 2-2-1-2-2 1-2 2-1zM197 1897l-2-1 2-3 3 1 0 2zM185 1885l1-2 2-2 2 1-1 3-2 1-2 1zM176 1909l-2-1-1-2 1-2 2 1 0 2zM158 1906l2-2 2 0 1 2-1 2-3 2-1-2zM201 1892l-3-2 0-3 3-1 1 3zM151 1907l4-1 2 3-2 4-4-2zM206 1885l-1-2 0-2 1-1 2 1 0 1-1 1zM159 1878l2 4 0 3-3-1-2-3 0-3zM176 1893l-3 0-1-3 0-2 2-2 3 2 1 2zM120 1904l1 2-4 0-2-1 3-3zM99 1895l-3 0-2-3 0-3 4 0 2 0 0 3zM108 1850l3 0 2 2 0 3-3 3-3-2-1-3zM154 1897l-1-2 2-1 2 1 3 2-1 1-2 1zM120 1875l-3-1 1-3 2-3 1 3zM135 1915l0 2-1 2-2 2 0-3 0-2 2-1zM121 1895l1 3-2 3-3-1-1-2 2-3zM166 1808l-4 3-2-4 0-3 6-1zM163 1837l-2 4-3-2 1-4 4-2zM167 1851l2-1 3 0 1 2-1 1-2 1-2-1zM158 1816l0-2 1-4 4 1 1 3 1 4-4 1zM148 1817l3 1 2 3-2 3-4 0-2-2-1-4zM147 1823l2-4 3-3 4 2-2 4-3 3zM173 1829l-3 0-4-2 2-2 5 1zM156 1846l0 4-1 2-2-2 1-3zM145 1802l-3 3-2-1-1-1 2-2 2-2 2 1zM148 1839l-3-2 1-2 1-2 3 2 0 3zM156 1845l3 4-1 6-5-1 0-5zM166 1841l1 3-2 1-3 1-2-3 2-3 2-2zM208 1902l1 3-2 2-3-2 0-3 2 0zM214 1894l3 2-3 4-4-1-1-4zM89 1889l4-1 0 3-2 3-3 0-2-1 1-3zM145 1878l4 0 3 3-2 2-4-1zM47 1901l-2-1-2-4 1-2 3 2 2 3zM125 1890l2-4 4-1 2 5-5 2zM148 1821l-1-3 2-3 3 3-1 4zM65 1919l-3 3-3-1 1-5 3 0zM151 1804l0 2-2 2-2 0-2-2 2-2 3-2zM142 1866l2 3 2 4-4 1-5 0 1-4 0-4zM98 1918l1-3 2 1 2 4-3 0zM91 1930l2 0 1 2-2 1-3-1zM30 1937l-1-2 3 0 2 1 0 2-2-1zM68 1900l4-3 3 2-2 4-4 0zM157 1915l1-4 5-1 3 5-4 2zM80 1896l4 1-1 2-4 2-3-3zM15 1899l3 1 1 2-3 1-3-2zM150 1798l-4 1-1-1 2-2 3-1zM50 1897l3 3-2 5-5 0 0-4 1-4zM45 1909l-3 0-2-3 2-3 4 1 2 3zM534 1770l0 3-4 2-2-3 0-4 4 0zM585 1835l1 2 0 1-2 2-3 0-1-1 2-2zM489 1779l0-5 2-2 1 2-1 4zM484 1750l5-1 1 4-3 5-4-3zM477 1770l-3 0 0-2 1-1 2 0 1 1zM535 1792l2 1 2 2-3 0-3-2zM511 1811l1-4 3 1 1 2-2 2zM593 1818l-3 2-3-3 1-2 4 0zM487 1747l0 3-3 1-3-1 0-3 0-3 4 1zM470 1754l-1 5-5 0-1-5 4-3zM538 1795l-3-1-2-3-1-3 3-1 2 3 2 3zM519 1773l-1 2-3 1 0-1-1-2 2-1 2 1zM591 1807l-2-2 2-3 4 0 2 1 1 2-3 2zM479 1750l3-1 4 3-3 3-3 0-2-2zM511 1799l2 2-2 2-4-1-3-2 4-2zM504 1752l0-2 4-1 1 3-3 2zM576 1827l-1 2-2 0-1-1 1-2 1 0 2-1zM514 1824l3 1-1 3-2 1-3 0 0-3zM495 1764l2 4-2 2-2-2-1-3 0-3zM481 1756l1-3 2-2 3 2 3 3-4 1zM533 1795l-2 2-1 1-3 0-1-3 3-2 2-1zM502 1817l-1-2 0-3 1-2 3 1 0 4-1 1zM503 1835l1-2 1-1 4 0 1 3-1 1-3 1zM483 1766l2 1 0 3-1 3-3 1-1-3 0-4zM503 1749l-2 1-1-1 0-3 2-1 2 0 0 2zM171 2037l-1-1-1-2 2-1 3 0 1 2-1 2zM183 2023l-1 2-3 0-1-2 1-2 3 0zM138 2043l2-1 2-1 2 1-1 2-3 0zM142 2034l-2 2-2-2-1-2 1-1 2-1 2 1zM170 2027l3-2 2-1 1 2 1 3-3 1-2-1zM171 2025l-2 0-2 0-1-2 2-2 2 0 2 2zM129 2023l0-4 4-1 2 2-2 4zM152 2044l-3-1-1-4 2-3 3 1 2 1-1 3zM175 2023l-1 2-3 0-1-3 3 0zM173 2029l1 2-3 3-2 0 1-4zM530 1907l-1-3 4-1 4 1-3 2zM512 1938l-2 0-1-2 1-2 2-1 1 1 0 2zM537 1877l3-2 3 2 3 4-4 3-4-3zM544 1938l-2 2-2-2 1-2 4 0zM509 1910l-1-2 2-2 2 3-1 2zM496 1931l2-1 2 1 1 3 0 1-2 1-1-2zM521 1919l-2 0 0-3 1-1 1 0 1 1 1 2zM526 1893l1-2 2 0 2 1 1 2-3 1-2 0zM578 1881l-4 2-3-5 3-5 5 2zM558 1885l2-2 2 4-1 3-2 0-2-2zM575 1895l0-2 3 2 1 3 0 2-3 0-2-3zM582 1869l-4-3 2-4 4-1 3 5zM531 1900l4 1 2 3-3 1-4-1-1-3zM545 1920l0-3 1-2 2 0 0 3-1 3zM592 1865l-2-4 4 0 3 4 0 3zM572 1905l-3-4 3-4 3-1 4 3-2 5zM512 1916l-2-4 4-2 2 3 0 5zM512 1956l3-1 4 3 0 2-3 0-5-1zM515 1913l4-4 4 4-1 5-6-1zM509 1898l0-3 3 0 2 3-3 1zM507 1906l-1-3 3-1 3 1 0 3-3 0zM570 1904l-1-1-1-2 0-3 1 0 1 2 1 2zM552 1882l0-5 4 0 2 3-2 3zM540 1928l-1 3 0 2-3-1-2-2 1-2 1-3zM586 1891l2 1 0 4-3 1 0-3zM566 1915l-1-5 3-3 3-2 2 3-1 4-2 3zM584 1866l-1 0-1-2 2-1 2 1 1 2-1 1zM514 1891l-3-3 1-3 4 0 4 1 1 3-3 2zM582 1867l-2 0-3-2 0-3 3 0 3 2zM585 1898l-6 0-4-3 5-6 5 3zM365 1939l-1-1 0-2 1-1 1 0 0 2zM328 2035l-1-4 3-1 3 3-2 3zM401 1914l0-2 2 0 2 1 0 2-1 2-2-1zM330 2022l-1-2 2-2 2 1-1 2zM352 2065l1-2 1-1 1 1 0 2 0 2-2-1zM298 2001l2-2 1-1 2 1 0 2-1 2-3 0zM364 1997l3-1 1 3 0 2-4 1-2-3zM322 2051l-1 1-1 1-1-1-1-1 2-1 1 0zM339 1986l3 1 0 3-3 2-2-2 0-2zM335 1883l-2 3-3-2 1-3 3-3 2 3zM381 1939l-2-2 0-3 3-1 1 4zM334 2003l-1-1 2-1 2 1-1 1-1 1zM289 2041l0 2-1 1-2 0 0-1 1-2 1-1zM394 1949l-2-1-1-2 1-2 2-1 2 2-1 2zM296 1941l-2 1-2-2 1-2 3 1zM416 2087l-3-2 1-2 1-2 2 2 1 2zM382 2067l3-3 2 0-1 3-1 2-4 1zM385 2001l-4 2-3-2 1-3 3-1zM339 2188l1-1 2-1 1 2-1 1-1 0zM363 2065l-1-1 3-2 4 1-1 3zM377 2125l-2 1-2-1 0-3 3-1 2 1zM366 2017l1 2 0 3-2-2-1-2 1-2zM356 2147l2-1 2 0 0 2-2 1-2 0zM390 2127l-1 2-3 0 1-3 1-2 2 1zM405 2109l0-2 2-1 1 2 1 2-3 0zM405 2031l0 3-4 0-3 0 2-3 2-1zM355 2083l-1 0 0-2 0-1 2 0 1 2zM415 2039l0-2 3 0 1 2-1 2zM408 2017l-1 0-2-1 1-2 1-1 1 1 1 1zM346 2156l4-4 3 2-2 4-4 1zM390 2132l3-1 2 1 0 3-3 0-3 0zM415 2135l2 0 1 3-2 1-3 0 0-3zM391 2065l3-1 2 1 0 2-2 1-2-2zM382 2017l-1 0-2 0-1-2 1-1 2 0 1 1zM395 2130l0 4-5 1-1-4 2-3zM390 2069l-3 1-2 0-3-2 3-2 3 1zM398 2169l-3 0-2-2 1-3 3-1 1 3zM404 2150l-4 1-3-2 0-4 1-3 3 2 4 2zM360 2185l0-4 3-2 3 1 3 2-1 4-4 2zM392 2102l2 0 0 1 1 1-2 0-2 0 0-1z" fill="#ffffff" stroke="#161616" stroke-width="1.4" stroke-linejoin="round" filter="url(#rgh)"/>
<path d="M318 1644l10-1 9 5-7 4-9-1zM284 1660l9-2 5 12-7 9-9-2zM339 1688l14 3 10 7-10 7-11-5zM332 1735l10-3 4 12-9 5zM310 1763l8-3 5 12-2 14-8 2-4-11zM279 1832l12-2 3 12-10 6zM86 1900l12-1 7 5-12 5zM58 1930l12-1 7 8-10 5-8-4zM228 1937l7-2 2 11-7 3zM260 1886l10 0 2 12-9 2zM550 1856l9-2 7 8-4 9-9-1zM516 1938l10-3 12 6 3 9-9 3-13-6zM488 1744l7-3 6 6 5 7 6 11-2 6-6-2-6-4-7-5-4-7zM533 1810l5-4 4 7-4 6zM135 2025l9-2 7 7-9 5zM268 2040l7-2 2 9-7 3z" fill="#ffffff" stroke="#161616" stroke-width="1.6" stroke-linejoin="round" filter="url(#rgh)"/>
<path d="M138 1798l3-3-2 1m1-7l-3 3m14 5l-3-2m5-3l3 2 0 0m-2-2l-3 0 1 1m7 2l3 2 2 0m-2-2l2-2 2-1m-23 17l-1 1m4-3l2 0m-2 2l2 0m2 2l-1 1m3-7l2 0m2 2l3 0m-2-4l-3 2m4 3l1 3m6 1l-2 0m-20 2l2 2m0 0l2-3m0 0l-3-1 1-2m28 14l2 2 0 0m-21 9l2-1m21-6l3 0m-78 18l-3 2 2-2m46-5l2 1m3-1l2 0 0 2m14 1l-2 3m4 0l-3-3-2 1m-80 8l2 0 1-1m0 7l-3-1 0-2m9-6l1-3 2 2m0 11l2 0-1-1m7-6l2-3m5-1l3 3m8 2l1 0m35 3l-2-2m6 4l3-3-2 1m0-2l-1 2 2 1m-76 5l0-1 0-1m36 3l-3 2 0-1m6 5l0-3 1 0m3 5l3 2m-2-10l-2 0 2-2m2 4l2 3-2 2m1-3l1 1-1 2m8 0l2-1-1 0m3-1l2-2 2 0m4 2l-2 1 1 1m-109 12l-3 1m10-2l1-1m14 1l-2 1-2 2m11-7l-1-3m11 5l0 3m9-8l-2-3-2 2m53-2l1-3 2 0m14 11l2 0m6 2l0-3 1 0m10-3l-3-1 1 1m19-1l1 3m4 4l0 2-1 0m-186 11l-3 1 2 0m9-2l-2 2-1 0m18-3l-1-2m8 2l3 0m-3 1l2 1m1-4l3-3m9 5l-1-3-2-1m3-3l1 0m8 7l1 3-1-1m20-5l2-1m93 1l3-1m-2-3l2-1 1 0m13 8l2-3m12 3l-3 2m5-8l-3-3-2 0m15 11l-2 2m3-7l-2 3-2 2m-215 2l-1-1-1-1m2 2l-3-1 0-1m13 5l2-1m4 3l-3-1 2 2m42-5l-2 1 0 0m5 8l2 0-1 2m42-2l2 0m23-3l-3 3 1-2m27 1l-3-2-2 1m12 1l-1 2m28-6l-1 2 0-1m5-1l-3 2 0 0m6-4l0-3m10 7l1 1m1-1l-3 3-1 2m-197 0l-1-2 2 1m6 11l-2-3m4 1l1 2m29 1l-3 1-1 1m60-2l2 2-1 0m0-3l1 0 0-1m2-4l2-1m6 2l3 2m0-6l-1-2m14 7l3 3 2 1m-4-5l-3-1m13 1l0-3m1-1l-3 0m13-3l1 0m2 7l0-2-1 0m3 4l-3-3 2-1m2-3l-1 3 2-1m5 4l1 3m27-6l0 3m2-5l0 2 1 0m-187 11l2 3-1 2m1-3l0 2 2 2m24-5l-2-3m37 3l0 1-2-1m30 3l-1-1 1 1m26-7l3-3-1-2m-118 24l-3-2m8-1l-2-3 1-1m3 5l1 2m1 1l3-1m1-3l2-1m16 7l-1-2 2 1m27-2l3-1m6 5l0 1-2-1m24-11l1 3m3-1l0-3m1 11l0-2m-82 10l0-2m50 6l-3 0m9-4l0-3m31 4l-1-3m14 5l-1 2m-102 5l3-3m4 1l-2-3 0 0m9 10l2 3m41-2l-3-3m-22 9l-3-3 0-1m16 11l3 1-1 2m9-13l1-3 2 1m1 7l0 1m1 1l-1 2m2-9l-2 1-2 0m96 9l1 3m-120 3l0 1-1 2m3 5l-1-3-2 0m12 3l-3-3m8 4l-1-2m2 5l2-2-1 0m15-3l1 2-1 2m206-370l-2 1m-14 15l1 3 0 1m-1-7l0-3-1-2m20 5l1 1 2 0m5 2l3 1-2-2m-27 10l2 2 2-2m-3-4l3 3m2-5l-1 3 0 2m17-1l-3 1m27-7l1 3m12-1l1 0-2-1m11 3l3-1m3 2l-3-1 0 2m3 1l-1 3m-78 5l0 1-2-2m3 3l1 2 1 1m-1 0l-2 2m11-8l1-3m32 1l2 2m16-1l-1-1m13 4l2-3m0 3l2-2m4 8l-3 0m-76 12l-3 2m33-10l-2 1m14-3l1 2m24 7l-1 3-2-1m4-10l-2 2m6 2l-1 2m4-6l-1 2-2-2m6 9l3 1 1 2m-2-11l0-2m-76 23l0 1-2 0m5 0l-2 2-2-2m68-11l0-1-2 0m2 4l1 1 2 2m1-6l0-3m6 11l-3 0 1-1m-81 5l1-3m0 3l-3 3 0-1m8 3l1-3m51 2l1 1-2 0m26-5l-3 3-1 1m-38 28l3-2-1 2m33-3l-2 1 2-2m-79 8l1-2 1 1m4 1l2 1m4 3l0-3m1 3l0-3 2-2m0 12l0 1 0 0m64-6l2-1 2 1m-75 13l-2 0 2-1m34-2l1-2m10 9l1-3 2 0m-43 6l-2-3m6 2l1 3 0-2m0 4l-2 3m28-7l-1 3m-33 7l3-1m-1 5l-3 0 0 1m8-1l2 3m0-4l0-1 1 0m10-3l-3 0m-14 22l0 3-2 0m29-2l-1 2m-27-1l-2 0 1 2m6 1l-1-1-1 0m21-2l-2-1 2 1m-9 13l2-1 2-2m-83 22l1 3m2-4l-1 2m9 2l2 0 1-1m22-6l1-2m6 7l1 1-2 2m9-1l0 3-1 1m11-15l2-1m-1 6l-2-3-1 2m21-4l3 2-2 0m17 5l0 2m-101 7l1-2-2-1m6 4l-3-2m7 4l1 2 1 2m17-8l-3-3m11 0l0 2 1 1m18 8l0 2m48-11l-1 1-2-2m9 0l-3-3m8 8l0-2-1 0m5 4l-1-1 0 2m2-7l0-3m0 4l3 1m0 4l-2-2m5 4l-1-2m1-1l0 3 2 0m0-7l-3 2-1 1m-134 6l2 2-1 1m-1-2l-3-3 1-2m2 6l-1-1m54 4l1 3m58-5l-1-2m15 9l2-3 2-2m0 6l3 1m208-1l-1 2 1-2m-328 6l-2 0m81-4l-3 2m49-3l2 2m-2-1l2-1m-1 5l1 0m10-2l1-3-2-1m188 2l2-1m15 12l2 0-1-1m1-5l2 0 1 2m12 3l-1 2 0-1m-351 7l-2-3 0 0m32 0l2 2m22 1l-2 1m21-2l-1-1-2 2m32 2l2 0 0-2m10-1l3 1m19-6l1 1m5 4l1 3m11-8l-2 1m3 10l-2-3-2-2m11-3l1 1m145-1l-3-2-2-2m10 5l2-3 2-2m2 5l3 2m19-3l-2 0m18 6l-1 0m4-10l-1 3 2 1m-339 14l2 0m13 5l3 2 1 2m9-6l1-2m64-5l1 1m7-2l3-2m17 13l-2 2-1-1m7-4l-1 1 0-2m100 2l2 0m32 1l-2 0-2 1m14-3l3-2-1 2m0 1l-1 1 2 1m4-9l2 1 0-1m-1 5l1 1m5 1l0 1 2 1m55-11l2-2m-359 20l3 1m2-3l2 0-1-2m3 3l-3 1 0-2m10 7l2 0-1 0m99-9l-2 0m37 3l-1 2 1-1m2-4l-1 2-2-1m57 4l0-3-1-1m1 3l2-3m24-1l-2 1-2-1m17 6l-2-3 0 1m15-4l1-2 2 0m6 0l-1-3m78 6l2 2 0 0m4 5l2-3 1-1m-1-4l2 0 2-2m-361 21l3-2m6-2l-2 3 1-1m4 0l-3-2m44 0l3-2m23 6l2 1m24 0l2-3-1 0m9-1l-1 1m4-8l0-2m18 12l1 3 1-2m27-4l-1-2m4 3l-1 0-2 1m14-1l1 2m7 0l-2 0m21-7l1-1-1 1m5 2l2 2 2 0m2 0l1-2m1 0l1-3m7-2l0-2m20 5l-3 1-2-1m9 4l-2-1 2 0m3 0l1-3m2-1l2 1m0 9l-3-3 2-2m16-5l-3-1-2 0m72 7l2-1m2 3l-2 0m11-8l0-3 2-2m-358 27l2 0 2 2m62-8l2 2-2 1m6-8l2-3 2-1m45 9l0-3-1-1m54-1l-3 1-1 1m28-2l-2-3 1 0m6 6l-3 0m9 4l-3 3 1 1m21-4l-3 0m58-6l1 3 2 2m31-6l-2 1m16 8l-3 0 0-1m25-9l3-3m-362 25l-3 0m11-6l1 3m2 2l2 3-1 1m4-6l-1 0 1-1m9 1l1 1-2 0m61 1l0-3m19 3l-3 3m22-5l3 0m36-5l0 2 1-2m16 2l-2 0 2 1m3-3l3 0m54 5l-2 3m24-10l-3 1m59 4l0-2 2 0m8 1l1 0 0 2m-327 14l1-2-1-1m34 2l2-3m5 7l-2 2m56-12l1-1m4 5l-1-2m39 0l0-2m25 6l3 2m4-2l2 0m36 2l3 3 2-1m7-5l3 0m39-5l0 1-1 0m56 3l1 3-2-2m2 5l1 3 0 1m6-15l-3 1 1 0m3 4l1-2m31-1l2-3 0 2m-1 3l0-1-1-2m10 0l-2 0m-385 21l0-3-2 2m6 1l1-2-1 2m41-4l-3 2m5-7l2-2m-1 5l-3-1m45 4l3 1m21 2l1 1m66 0l-3-2m23-8l-3 1 2-1m9 11l1-1m2-10l-2-2m20 4l3-2-2 0m1 10l0 1m1-11l0-1 0 2m7-1l2 1 0 1m20 8l-3 3 1 2m34-11l-1-3m42 8l-3-3m-327 11l-2-3m50 2l-1 3 1 0m17-2l-2-3m10 0l-2 2 1 1m20 5l0 2m24-10l1-1 0 2m27-4l-2-1m8 7l1 3m17 0l0 2m43-8l3 1-1 0m36-4l3-2m8 9l3 2m-2-8l-1 1-1 0m9 8l3 2-1 0m10-6l-3-2m6 6l0 2m4-7l3-3m18 5l-2-1 1-1m17-1l-2-2m4 4l3 1-2 2m4-8l3 1 0 0m-332 17l1 1m0-4l-2 2 1 1m13-5l0 3m70 4l1 2m8-4l-3-3m61-3l-3 3m56-3l-3 1m6 6l0-1-1 1m4-6l-1-2m3 2l-3 2-2 2m119-4l2 0 2 1m3-1l-1-2-1-2m-324 20l-2-2-2-2m17 1l1 2m8-1l-3 0 1-2m14 10l0-1-1 0m5-5l-3-3m4 5l1-2m3-5l0-3m31 10l3 1m44-9l2 2m5-1l-1 1m22-1l1 2m19 6l-3 0m38-6l-1-1 1-2m0 4l-3 0m7 2l3 3m-3-4l0-3m-158 12l0-1-2-1m2 7l1 0 0 1m6 4l2-2m1-6l0-2m51-2l-2 1-2 0m53 9l3 0m-2-5l2 2m49-4l-3 0-1 2m-153 18l-3-3m4-4l1 2m1-5l1 0m42 4l0-2 1 0m0 3l-1-2-2 1m8 4l0-2 0 1m29-3l-1-3m17 4l-3 2 1 0m11 0l3-2 2 1m1-6l-2 1 2 2m-121 12l3 2-1-2m1 3l2 3 0 2m7-3l-3-1m108-6l2-3 0 1m39 1l0-1m-156 16l1 3m4 2l-2-2-2 2m36-7l-2 2 0 0m46-4l3 3m44 1l2 0-2-2m25 9l3 2 2 0m-4-8l-3 0m5 0l-2 1m5-3l0 3m-144 9l-2-3 0-2m4 13l2-1 1 1m0-8l-2 3 0 0m15 3l1 2 0-2m4-5l-3 0 0 2m5-2l-3 0m22 8l2-2 0-1m2-3l0-3 0 0m96 2l0 3 0 2m0 2l3 3m-152 2l2 1m7-5l1-1 0-1m34 13l-3-2m6-10l0 1-1-2m65 2l-3-1m8 9l2 2 2 2m6-2l-1 3m20-6l-2 0-2-2m-123 9l0-2-1 2m50 7l1-3 0-2m9 5l3 3-1-2m63-5l-1-2 2 1m9 5l3 1 0-2m-130 10l-3 0-2 2m7 2l3-1 1-2m-4 2l-1-2m27 1l-1 1m26-5l1 0-1-1m26 1l-1 1 1 0m49 0l-3-3m4-2l1-1-1 0m-124 14l0-2-2 1m3 1l1 0m9 6l-1 3 2 2m0-11l-3 2m4-1l-1 1m8 4l2-2 0 2m66-2l-3 2 2 2m12 1l2-1 2-2m4-6l-2 0-2 0m10 4l-3-1m7 5l-3 1-2 2m8-8l2-1 0 2m-109 10l1 1 2 1m7-5l1-2m14 4l-2 3-2 2m7-5l2 1m1 5l3-1m1-2l0-1 0 2m-2 8l-1 1 2 1m45 0l0 2m6 2l-2-1m12 2l-1 3m1-5l2 3m-1-9l2 2 2-2m-4 3l2-2 1-1m-59 13l-3 1m62-2l0 3m-60 9l-3-2m6 2l3 0m37 6l-3-2m11 6l-2 1m4-5l1-3m0 0l-3-3m-62 15l2 1m2-2l3 0m46 6l-1 3-1 1m8-4l-3 2-1 0m8-7l0-3 1 1m0 3l-2-1m3-3l0-1m1 9l1 2 2-2m-51 12l-1-1m-1 10l0 2m22-4l3 3m1-7l-1 2m15 6l1 1m-67 10l1 3-1-2m0 2l-1-3m2-7l3 0-1-1m10 2l0-2m41 2l1-3m-51 14l0 1-1 2m20 5l3-2-2 1m9 1l-1 0m2 1l0-1 2-2m9 5l-1 1-1 1m124-484l0-3-2-1m-18 15l2 3m1-4l-1 0m22-6l1-3m-28 24l-2 2m25-11l1-2m3 5l3 0 1-2m6 0l1 1m-50 16l3 2m2-8l3-1m8 3l-1-1m27-3l-1 1m8 3l3-1-1-2m-60 13l3 3-1-2m1 0l-1-1m10 4l0-2m6 7l0-3m21 4l-3-2-1 2m8-6l-3 1-2 1m18 2l2-1m0-2l-1 3m3-1l3 3m-59 0l3 1m15 0l-2-1-2 0m23 0l1 1m12 4l1 1m16 5l-1-1m9 1l-1 2m1-3l3 0m-36 13l0 2m14-11l1-2m9 9l-2-2 0 0m-36 15l2 0m9-4l0 1 0-1m14-1l0 1 1-1m15-4l-3 2 0-2m4 7l2-2m1-3l0-1m64 2l2 0 1 0m2 0l-3-2m8 5l3 2 1-1m-121 11l3 0m0-7l-3-1 0-2m6 11l2 1 2-2m26-7l2 2m42-1l-1 2m2 2l-1-3m11 6l-3 0m11 1l-1 2 2 2m0-8l-3 0m7 1l-3 2m-99 7l-1-2m25 0l1-3-2-1m3 11l-1 1m46-4l2-2 0 0m22 7l-1-3 1 1m0-5l1-3m13 0l1-3m-28 16l-1 1m14-1l1-3 2-1m-479 174l-2 2 0-2m31 7l-3-3 1-2m9 3l-3-1m3 0l-3-2-1 2m-24 13l1 2 0 1m9-7l0 3m14-2l2 2 2-1m0 4l2 1-2-2m4-6l-2-3 1-1m7 2l1-1 1 2m0 1l1 1m8 0l1 2-2-1m4-1l1 0m2 4l-1-3m2 4l-2-1m10-1l0 1m-54 10l-1 1-1 2m3-5l-3 0m8 5l-1 0m33-5l-3 3m7-5l-2-1 0 0m4 8l-1 0m2-1l-2 2-1 0m5-2l2 0 1 0m0-2l2-1m3-4l2 0m-48 17l1-2m1 4l-1 1 0-1m21 0l2 1-1-2m7-4l-1-1" fill="none" stroke="#111" stroke-width="1.4" stroke-linecap="round" stroke-linejoin="round"/>
<g filter="url(#rgh)">
<path d="M678 1886l9-7 16-1 16 1 17 0 11-5 3-14 2-9 9-7 12-3 9-2 12 5 9 7 7 7 7 5 2-7-3-12-4-14-2-14-2-14-1-11 5-6 12-1 9 2 7 5 2 11 1 12 7 9 9-2 2 7-4 7-5 9-2 12-5 9-9 5 4 1 14-1 17 1 16 1 9 2 7 12 2 12-2 11-9 2-12 3-11 2-12 2-12 3-11 2-12 2-12 2-9 1-9-3-5 5 3 9 9 10 11 9 12 7 12 5 11 2 10 5 2 7-7 2-12-5-9-4-9-5-10-5-9-4-9-5-7-2-9-5-7 5-5 7-1 9 1 12 5 11-5 7-9 2-10 2-9-2-12-4-11-7-9-9-7-12-7-12-5-11-5-12-2-12-1-11-1-12zM778 1993l7 2 4 7 7 2 7 5 7 0 7-7 5-2 7 4 7 5 4 5 10 2 9 0 7 2 1 7-6 10-7 7-9 7-9 4-12 1-12-3-9-7-7-9-4-10-5-9-5-9-3-7zM952 1626l9-4 12-2 9 2 7 8 1 10 4-3 9 1 7 4 12-1 11 2 6 8 1 12-2 11 7 5 9 7 3 12-5 9-5 9-4 10-6 9-4 7-11 4-7 3-7 4-5 5-5 9 3 14-3 12-4 7 2 9 7 9 14 3 9 2 3 9 2 12 9 5 10 2 11 5 7 4 2 10-2 9 5 9 9 5 11 5 5-6 10-3 9-1 9-3 12-3 12-3 12-3 12-6 9-4 13 2 6 2 6-8 6-9 6-8 7-3 8 3 6 6 8-1 7 0 8-2 6 5 4 9-1 11-5 7-4 8 2 7 1 8-4 7-6 4 4 7 9 6 9 6 2 5-7 4-12-1-12 2-6 1 2-6 6-6 3-6-3-6-13 6-9 12-3 12 0 10-3 8-6 5-7 1-8-2-7-4-10-3-17 8-24-5-11-4-23-6-14 4 9 9 6 14-1 18-5 14-4 14 2 14 2 14 1 14-1 14-2 14-3 14-2 14-2 14-5 14-7 13-7 14-7 14-7 14-5 5-11-2-14-5-14-5-14-4-12-5-1-7 6-5 12-4 14-7-3-7-7-5-4-9 2-9 7-10 7-4-2-10-7-3-12-1-14-5-12-9-11-12-10-11-9-12-7-12-7-11-3-12 1-19 1-14-13-3-7 2-10-2-9-2-9-3-7-6-5-12-2-14 5-14 9-9 7-10 2-11 7-14 2-14-4-12-7-7-7-11-7-10-5-9 0-9 7-7 12-5 11-2 12 0 12-2 11-3 10-2 7-5 2-9-2-12-3-14-2-14-2-14-3-13-1-14 1-14 1-17 2-16-3-14 1-14zM1124 1760l8-10 9-2 9-3-3-7 5-11 7-5 9-2 9 2 8 7 7 9 7 9 6 9 6 9 4 9 2 9-2 9-1 8 4 6 2 6 6 3 9-5 9-4 9-5 12-3 12-1 8 3 4 6-3 9-4 9-3 8-5 6-6 4-6 3-6 2-6-3-6-5-5-4-4-5-8-4-7-3-8-4-7 4-3 7-3 8-3 6-7 3-6 3-4-5-6-7-6-8-5-7-3-10 3-6 9-6 8-6 3-9-3-6-6 0-6 3-8-1-6-2-6-3-6 2-3 7-3 2-5-8-3-6-3-6zM1198 2061l8 3 9 7 9-3 10-2 4 9 5 7 5 9-5 5-9 0-10-5-7-4-6-7-5-7-7-7z" fill="#161616" stroke="#161616" stroke-width="3.4" stroke-linejoin="round"/>
<path d="M678 1886l9-7 16-1 16 1 17 0 11-5 3-14 2-9 9-7 12-3 9-2 12 5 9 7 7 7 7 5 2-7-3-12-4-14-2-14-2-14-1-11 5-6 12-1 9 2 7 5 2 11 1 12 7 9 9-2 2 7-4 7-5 9-2 12-5 9-9 5 4 1 14-1 17 1 16 1 9 2 7 12 2 12-2 11-9 2-12 3-11 2-12 2-12 3-11 2-12 2-12 2-9 1-9-3-5 5 3 9 9 10 11 9 12 7 12 5 11 2 10 5 2 7-7 2-12-5-9-4-9-5-10-5-9-4-9-5-7-2-9-5-7 5-5 7-1 9 1 12 5 11-5 7-9 2-10 2-9-2-12-4-11-7-9-9-7-12-7-12-5-11-5-12-2-12-1-11-1-12z" fill="#e8694f"/>
<path d="M778 1993l7 2 4 7 7 2 7 5 7 0 7-7 5-2 7 4 7 5 4 5 10 2 9 0 7 2 1 7-6 10-7 7-9 7-9 4-12 1-12-3-9-7-7-9-4-10-5-9-5-9-3-7z" fill="#e8694f"/>
<path d="M952 1626l9-4 12-2 9 2 7 8 1 10 4-3 9 1 7 4 12-1 11 2 6 8 1 12-2 11 7 5 9 7 3 12-5 9-5 9-4 10-6 9-4 7-11 4-7 3-7 4-5 5-5 9 3 14-3 12-4 7 2 9 7 9 14 3 9 2 3 9 2 12 9 5 10 2 11 5 7 4 2 10-2 9 5 9 9 5 11 5 5-6 10-3 9-1 9-3 12-3 12-3 12-3 12-6 9-4 13 2 6 2 6-8 6-9 6-8 7-3 8 3 6 6 8-1 7 0 8-2 6 5 4 9-1 11-5 7-4 8 2 7 1 8-4 7-6 4 4 7 9 6 9 6 2 5-7 4-12-1-12 2-6 1 2-6 6-6 3-6-3-6-13 6-9 12-3 12 0 10-3 8-6 5-7 1-8-2-7-4-10-3-17 8-24-5-11-4-23-6-14 4 9 9 6 14-1 18-5 14-4 14 2 14 2 14 1 14-1 14-2 14-3 14-2 14-2 14-5 14-7 13-7 14-7 14-7 14-5 5-11-2-14-5-14-5-14-4-12-5-1-7 6-5 12-4 14-7-3-7-7-5-4-9 2-9 7-10 7-4-2-10-7-3-12-1-14-5-12-9-11-12-10-11-9-12-7-12-7-11-3-12 1-19 1-14-13-3-7 2-10-2-9-2-9-3-7-6-5-12-2-14 5-14 9-9 7-10 2-11 7-14 2-14-4-12-7-7-7-11-7-10-5-9 0-9 7-7 12-5 11-2 12 0 12-2 11-3 10-2 7-5 2-9-2-12-3-14-2-14-2-14-3-13-1-14 1-14 1-17 2-16-3-14 1-14z" fill="#4c7fab"/>
<path d="M1124 1760l8-10 9-2 9-3-3-7 5-11 7-5 9-2 9 2 8 7 7 9 7 9 6 9 6 9 4 9 2 9-2 9-1 8 4 6 2 6 6 3 9-5 9-4 9-5 12-3 12-1 8 3 4 6-3 9-4 9-3 8-5 6-6 4-6 3-6 2-6-3-6-5-5-4-4-5-8-4-7-3-8-4-7 4-3 7-3 8-3 6-7 3-6 3-4-5-6-7-6-8-5-7-3-10 3-6 9-6 8-6 3-9-3-6-6 0-6 3-8-1-6-2-6-3-6 2-3 7-3 2-5-8-3-6-3-6z" fill="#e8694f"/>
<path d="M1198 2061l8 3 9 7 9-3 10-2 4 9 5 7 5 9-5 5-9 0-10-5-7-4-6-7-5-7-7-7z" fill="#bcd43a"/>
<path d="M747 1874l3-14 2-9 9-7 12-3 9-2 12 5 9 7 7 7 7 7 19 6 23-1 23 2 14 5 7 11-21 5-23-2-23-3-24 3-23 2-18-2-17-5z" fill="#bcd43a"/>
<path d="M754 1893l35 2 47 0 46 3 21 2 0 9-21 5-35 7-35 6-27-2-19-7-9-11z" fill="#e8694f"/>
<path d="M810 1809l14 0 12 0 7 5 7 9 9-2 2 7-4 7-5 9-2 12-5 9-12 2-11-7-5-14-5-16z" fill="#e8694f"/>
<path d="M794 1930l9 9 14 14 19 12 18 9 5 10-7 2-16-7-19-9-18-10-10-11z" fill="#e8694f"/>
<path d="M987 1670l7-33 9 1 7 4 12-1 11 2 6 8 1 12-2 11 7 5 9 7 3 12-5 9-5 9-4 10-6 9-4 7-11 4-7 3-7 4-5 5-5 9 3 14-3 12-4 7-7-14-5-23 0-24 2-34z" fill="#bcd43a"/>
<path d="M1003 1670l19 7 18 16 5 14-7 19-12 11-14 2-9-13-5-24z" fill="#bcd43a"/>
<path d="M950 1665l-3-14 1-14 4-11 9-4 12-2 9 2 7 8 1 10-6 13-9 7-9 10-9 14-5-7z" fill="#bcd43a"/>
<path d="M952 1635l12-9 16 0 6 11-11 9-14 5-9-5z" fill="#bcd43a"/>
<path d="M875 1828l7-7 12-5 11-2 12 0 12-2 11-3 10-2 7-5 4 7 5 14 2 21-2 23-5 24-9 23-9 23-10 23-4 24-7 11-7 2-10-2-9-2-9-3-7-6-5-12-2-14 5-14 9-9 7-10 2-11 7-14 2-14-4-12-7-7-7-11-7-10-5-9z" fill="#bcd43a"/>
<path d="M882 1832l23-9 24 5 11 16-11 16-24 0-18-9z" fill="#bcd43a"/>
<path d="M996 1809l7 9 14 3 9 2 3 9 2 12 9 5 10 2 11 5 7 4 2 10-2 9-11 2-12-4-12-5-11-9-12-7-12-12-4-16z" fill="#bcd43a"/>
<path d="M947 1698l5-21 12-19 11-7 11 7 0 35-3 35 1 35 7 28 7 23 7 23 5 19-7 2-12-5-11-11-9-19-7-14-5-16-4-19-3-21-2-23-3-18z" fill="#4c7fab"/>
<path d="M1001 1873l17-5 16 3 18 4 19 7 9 14 0 19-4 16-12 7-16 2-19-7-16-14-9-18z" fill="#4c7fab"/>
<path d="M1011 1924l18 9 23 7 24-7 14 10 4 18-4 17-10 11-9 14-9 9-10-4-9-14-14-14-11-14-7-19z" fill="#4c7fab"/>
<path d="M1076 1971l14-7 9 2 9 9 4 14-3 14-3 14-4 14 2 14 2 14 1 14-1 14-2 14-3 14-2 14-2 14-5 14-7 13-7 14-7 14-7 14-5 5-11-2-14-5-14-5-14-4-12-5-1-7 6-5 12-4 14-7-3-7-7-5-4-9 2-9 7-10 7-4-2-10-5-3 14-15 9-19 9-23 10-23 7-24 4-23z" fill="#4c7fab"/>
<path d="M936 2008l14-5 21 9 12 19-3 19-14 9-16-5-11-11-5-17z" fill="#4c7fab"/>
<path d="M1080 1901l10-5 14-4 14-3 13-4 14-3 14-7 10-4 11-4 12 1 9 3 10 7 4 18-2 23-2 24 2 23 0 12-9-3-12-4-14-5-9-5-24 3-11 0-23-7-17 4-9-18-5-24z" fill="#4c7fab"/>
<path d="M1099 1910l23-4 23-5 24-5 23 5 14 14-2 28-12 23-23-5-24-4-23-14-18-12z" fill="#4c7fab"/>
<path d="M1205 1870l3-8 6-9 6-8 7-3 8 3 6 6 8-1 7 0 8-2 6 5 4 9-1 11-5 7-4 8 2 7 1 8-4 7-6 4-7 4-15 5-5 15-3 12 0 10-3 8-6 5-7 1-8-2-4-7 3-12 3-15 3-15 1-16-1-15-3-15z" fill="#4c7fab"/>
<path d="M1243 1854l22-3 8 11-5 18-10 12-8 15-7 16-11 15-5 15-7 7-6-7 3-15 6-15 9-16 6-15 3-15z" fill="#bcd43a"/>
<path d="M1232 1850l4-2 5 14 5 15 3 15 4 12 4 10 4 7 9 6 9 6 2 5-7 4-12-1-12 2-6 1 2-6 6-6 3-6-5-9-4-13-5-15-5-15-3-12z" fill="#e8694f"/>
<path d="M1185 1765l14-9 12 9 4 9 2 9-2 9-1 8 4 6 2 6-8 7-7 4-6 7-10-1-7-13-3-15 3-15 1-12z" fill="#e8694f"/>
<path d="M1241 1806l12-5 12-3 12-1 8 3 4 6-3 9-4 9-3 8-5 6-6 4-6 3-6 2-6-3-6-5-5-7-1-16z" fill="#e8694f"/>
<path d="M1215 2073l19-2 9 13-5 10-14-5z" fill="#bcd43a"/>
</g>
<path d="M1015 1647h0m-8 7h0m14-2h0m3 7h0m-31 9h0m4-2h0m1 1h0m17-7h0m15 5h0m-32 5h0m20 6h0m26 1h0m-54 5h0m7-2h0m10 0h0m12 5h0m1 1h0m12-3h0m0 2h0m-29 10h0m7-2h0m16-3h0m15 4h0m1-3h0m9 0h0m-52 17h0m2-5h0m24 6h0m7-1h0m6-2h0m-41 4h0m12 8h0m10-4h0m9 0h0m8 3h0m2-6h0m7 4h0m-43 8h0m10-3h0m2 9h0m8 0h0m0-6h0m140 1h0m3 5h0m1 0h0m8-3h0m1-1h0m0 4h0m-169 10h0m1-6h0m4-2h0m7 5h0m5-5h0m1 6h0m0 0h0m11 1h0m116 1h0m0 0h0m2-8h0m0 0h0m3-1h0m0 7h0m6-6h0m8 8h0m2-1h0m11-3h0m5 3h0m-187 6h0m147 5h0m1-9h0m4 0h0m1 7h0m4-3h0m1 5h0m17-5h0m1-3h0m6-1h0m2 7h0m1-3h0m2 4h0m0 1h0m4 0h0m1 0h0m-196 2h0m15 6h0m1-4h0m12-2h0m105 5h0m1-1h0m0 4h0m5 0h0m7-8h0m1 8h0m1-4h0m8 2h0m1-4h0m3 2h0m3 1h0m18-4h0m7-1h0m2 4h0m1-4h0m8-1h0m-190 11h0m7 1h0m116 4h0m1-1h0m6-2h0m1 2h0m0-5h0m5 4h0m2 5h0m0 0h0m1-7h0m1-2h0m0 3h0m0 1h0m3 2h0m3-4h0m6 4h0m3-6h0m1 2h0m24 6h0m2-4h0m2 4h0m0-4h0m6-3h0m5 7h0m5-6h0m-208 11h0m131-3h0m1 5h0m2 0h0m6-3h0m0 6h0m4-2h0m3-6h0m12 2h0m2 2h0m3-2h0m1 2h0m4-3h0m13 6h0m4-1h0m0-6h0m1 9h0m1-3h0m1-3h0m1 6h0m5 0h0m14 0h0m2 0h0m0-5h0m-393 13h0m1 2h0m11-1h0m307-3h0m24-5h0m4 2h0m2 0h0m17 6h0m1-8h0m2 6h0m1-2h0m1-2h0m9 4h0m5-3h0m1 2h0m3 3h0m0-2h0m4-2h0m1 5h0m5-8h0m1 0h0m-407 13h0m1 5h0m0 0h0m3-1h0m1-7h0m1 7h0m0-1h0m4-6h0m1 3h0m1-2h0m2 2h0m11-4h0m2 9h0m2-6h0m2 2h0m0-2h0m344 5h0m7 0h0m2-1h0m2 2h0m4-3h0m6-6h0m4 0h0m1 9h0m-401 7h0m3-4h0m5 7h0m3-8h0m0 8h0m1-9h0m1 6h0m1 3h0m2-7h0m1 0h0m8 1h0m0-2h0m0-1h0m0 2h0m1 4h0m7 1h0m1 2h0m0-4h0m3-3h0m2 6h0m1-1h0m0 0h0m314 0h0m1 0h0m3 1h0m2-3h0m2 4h0m2-8h0m4 7h0m4-4h0m7 2h0m0 1h0m5 1h0m7-8h0m1 8h0m0-3h0m11 0h0m3 2h0m28 2h0m1-2h0m4 0h0m1 1h0m1-4h0m2 2h0m5-3h0m5 3h0m8 3h0m0-4h0m9 4h0m1 0h0m4-5h0m-472 14h0m7-3h0m1-4h0m2 1h0m1 3h0m1-3h0m0-2h0m1 1h0m3 1h0m1 6h0m3-4h0m3-1h0m2 1h0m0 2h0m2-1h0m1 1h0m5 3h0m5-2h0m5 0h0m306-6h0m4 4h0m3 3h0m1-8h0m2 0h0m11 5h0m2-3h0m6 5h0m1-3h0m1 5h0m0-6h0m7-2h0m0 1h0m3 7h0m2-5h0m11-2h0m8 5h0m4 1h0m0 0h0m1-1h0m5-4h0m1-1h0m2 6h0m2-3h0m5 4h0m5-6h0m0-3h0m1 6h0m0-3h0m4-1h0m6 1h0m12 3h0m5-3h0m5-2h0m4 7h0m-474 5h0m1-3h0m0 4h0m1 0h0m0 3h0m1 1h0m1-1h0m1-2h0m0-5h0m3 6h0m3-4h0m2 5h0m5-5h0m3 3h0m5 1h0m0 0h0m0 2h0m1 0h0m0-2h0m1-4h0m5 7h0m5-1h0m1-2h0m1 0h0m0-2h0m0 4h0m1-8h0m5 8h0m0-6h0m308 4h0m3-3h0m3 3h0m3-6h0m2 9h0m2-5h0m0-3h0m6 0h0m3 1h0m2-1h0m3 0h0m1 1h0m31 1h0m7 1h0m6 2h0m0 1h0m5-1h0m6-3h0m12 0h0m2-3h0m0 7h0m4 0h0m0-5h0m2 7h0m2-1h0m2 1h0m5-2h0m-462 5h0m5 2h0m2-2h0m3 4h0m0 0h0m1-2h0m2 3h0m2-7h0m6 4h0m5-3h0m0 7h0m1-6h0m2-1h0m3 5h0m1 3h0m1-1h0m2-6h0m1 1h0m0-2h0m1 0h0m2 5h0m2 0h0m2-6h0m321 7h0m4-3h0m7 0h0m0-3h0m4 8h0m1-3h0m2-4h0m52 6h0m2-6h0m5-1h0m2-1h0m1 9h0m1-8h0m2 0h0m4 3h0m-508 13h0m11 1h0m2 1h0m1-2h0m0-4h0m0 3h0m3 1h0m2 1h0m0 0h0m1-3h0m1 1h0m1 3h0m1 0h0m1-5h0m2-1h0m34 2h0m2 3h0m1-2h0m1-6h0m2 8h0m2-6h0m2-2h0m3 9h0m2-5h0m4 0h0m1 0h0m4 5h0m0-2h0m2 0h0m1-1h0m1-4h0m7 0h0m0 0h0m336 3h0m64-5h0m0 5h0m1-2h0m6 0h0m1-2h0m-510 17h0m0-6h0m7 4h0m0 3h0m3-2h0m4-3h0m0-3h0m0 4h0m1-1h0m2-4h0m3 1h0m0 2h0m2 2h0m2-1h0m2-4h0m0 6h0m2 2h0m1-4h0m0 1h0m5-5h0m2 5h0m3 3h0m1 0h0m3-6h0m1-2h0m1 7h0m1-2h0m1 4h0m3-2h0m3-3h0m2 2h0m9-1h0m0-3h0m1-2h0m0 4h0m4-3h0m0 4h0m3 1h0m2 0h0m1 3h0m4-1h0m0-8h0m3 8h0m1-6h0m1 1h0m4-2h0m2 4h0m2-3h0m1-1h0m1 1h0m2 4h0m-97 7h0m3 6h0m1-6h0m1 1h0m1 2h0m3-1h0m1-4h0m0 8h0m2-3h0m1 0h0m3-2h0m0 4h0m0-2h0m1 0h0m0-4h0m1 7h0m0-5h0m1 4h0m0-2h0m1-2h0m1-4h0m0 3h0m0 4h0m2 1h0m0-6h0m1 1h0m0 2h0m4 4h0m2-2h0m1-1h0m4-3h0m1-3h0m2 5h0m0-4h0m1 3h0m0 1h0m1 2h0m1-1h0m1-6h0m0 3h0m5 1h0m2-4h0m2 1h0m4 0h0m0-1h0m2 8h0m4-3h0m2 1h0m1 2h0m1 0h0m1 1h0m1 0h0m9-4h0m2-5h0m0 3h0m1-3h0m0 3h0m5-1h0m1 2h0m2 3h0m2-5h0m2-1h0m0 0h0m0 8h0m-103 10h0m2-1h0m5-1h0m3-1h0m0-1h0m3 1h0m0-4h0m5 3h0m3 4h0m1-8h0m2-1h0m2 3h0m1 6h0m5-3h0m1 2h0m1-3h0m2 3h0m0-2h0m1 0h0m0-5h0m3 5h0m0-1h0m1 1h0m0 0h0m3-5h0m5 4h0m3-5h0m1 2h0m1 1h0m1 4h0m1-2h0m1-2h0m0 0h0m3 3h0m1-6h0m0 7h0m3-2h0m1 4h0m0-8h0m2-1h0m1 4h0m4-3h0m1 6h0m3-3h0m0 1h0m2 1h0m0-3h0m0-1h0m2-2h0m5 8h0m2 0h0m2 1h0m1-1h0m2-6h0m1 7h0m0-1h0m3 1h0m1-6h0m2 5h0m2-5h0m1 5h0m0-1h0m5-4h0m3 5h0m2-5h0m2-2h0m3 8h0m6-4h0m1 1h0m0 1h0m0 2h0m4-5h0m5 4h0m5-2h0m6 0h0m0 0h0m1 2h0m2-3h0m0 0h0m0 3h0m1 1h0m1-6h0m1 3h0m-204 6h0m2 5h0m8-5h0m2-2h0m4 4h0m8 1h0m5-5h0m2 0h0m1 0h0m2 4h0m19-2h0m14-2h0m6 6h0m2 1h0m1-7h0m0 0h0m1 2h0m2-2h0m2 7h0m3-7h0m0 8h0m2 0h0m2 0h0m3-4h0m0 4h0m3 0h0m0-6h0m1 7h0m1-9h0m1 8h0m0-2h0m1 0h0m1 2h0m2-1h0m5-1h0m0-2h0m3 0h0m3-3h0m1-1h0m0 2h0m2 3h0m4 4h0m2-9h0m0 6h0m0-6h0m1 2h0m1-2h0m2 2h0m3 2h0m2-3h0m3-1h0m1 2h0m0-1h0m1 2h0m0-3h0m4 6h0m2-4h0m3 1h0m5-2h0m0 3h0m4-3h0m0 5h0m3 2h0m1 1h0m1-9h0m0 8h0m3-2h0m1 2h0m2-1h0m3-6h0m0 2h0m4 2h0m0-1h0m2 1h0m0-5h0m0 7h0m1-5h0m2 0h0m1 7h0m3-5h0m0-3h0m1 2h0m0 2h0m2 2h0m0-2h0m1-3h0m2-2h0m0 6h0m1 3h0m1-2h0m1-4h0m1 2h0m0 0h0m1 0h0m2 0h0m1 3h0m0-8h0m2 7h0m2 0h0m2-4h0m3 3h0m0-6h0m0 0h0m1 9h0m5-8h0m0 4h0m2-5h0m4 6h0m-213 7h0m5-1h0m1 2h0m2 2h0m4 1h0m1 0h0m2 2h0m5-9h0m7 3h0m3 3h0m8-3h0m0-3h0m2 3h0m7-1h0m7 6h0m2-1h0m6-5h0m3-2h0m2 5h0m2-5h0m1 8h0m0-4h0m2 5h0m2-2h0m4-2h0m3 3h0m1-6h0m0 6h0m0 0h0m0-4h0m1 0h0m1 0h0m2-2h0m0 1h0m1 4h0m0-6h0m2 1h0m1 3h0m0-4h0m0-1h0m1 5h0m3-2h0m1 1h0m5 5h0m1 0h0m1-7h0m1 7h0m3-9h0m1 7h0m0 1h0m2-4h0m2 3h0m0 1h0m1-2h0m0 2h0m3-6h0m2 4h0m0 3h0m1 0h0m1-3h0m7-6h0m1 6h0m0-5h0m1 1h0m1 2h0m0 3h0m1 0h0m1-4h0m3 1h0m1-1h0m1 2h0m1-4h0m1-1h0m1 1h0m0 3h0m1 5h0m1-4h0m0 0h0m3 0h0m0 0h0m1 2h0m0-7h0m3 8h0m0-8h0m0 7h0m0-3h0m1-4h0m1 4h0m3-4h0m1 7h0m1-2h0m1 3h0m0-8h0m1 6h0m1-6h0m0 1h0m3 1h0m2 3h0m0-4h0m1 2h0m1 2h0m2-4h0m2 5h0m3-6h0m0 4h0m2 2h0m0 0h0m1 2h0m6-3h0m2 0h0m0 2h0m1 1h0m1-6h0m2 3h0m1-4h0m0 5h0m2-1h0m1 2h0m0-3h0m1 3h0m1 2h0m2-4h0m0-1h0m5 3h0m1 0h0m5-5h0m2 5h0m2 1h0m-214 11h0m10-3h0m11-6h0m4 6h0m8-6h0m2 9h0m3-9h0m1 8h0m5-8h0m0 1h0m3-1h0m1 0h0m7 0h0m3 8h0m1-6h0m4 5h0m11-7h0m2 1h0m0 3h0m2 2h0m1-2h0m11 5h0m2-3h0m1-3h0m5 2h0m1-3h0m2-1h0m1 1h0m0 1h0m2-2h0m0 7h0m0-3h0m2-4h0m0 4h0m4 3h0m7-6h0m0 7h0m3-3h0m1-6h0m4 9h0m1-4h0m5 1h0m0 0h0m3-1h0m1-5h0m1 8h0m2-3h0m0-3h0m1-1h0m3-1h0m2 0h0m0 6h0m3 3h0m2-5h0m1 2h0m1 3h0m0-3h0m1 3h0m2-8h0m4 6h0m1-5h0m1 1h0m0 2h0m0-4h0m10 0h0m4 4h0m1-1h0m2-3h0m5 4h0m0 4h0m1-1h0m0-7h0m0 1h0m0 1h0m4-2h0m0 1h0m1 6h0m3-2h0m0 0h0m3-5h0m2 0h0m1 0h0m5 4h0m0-2h0m1-3h0m2 8h0m1 1h0m0-6h0m1-1h0m3 0h0m1 6h0m0 1h0m2-5h0m1 3h0m2-5h0m2-1h0m2 0h0m-223 17h0m1-5h0m1-3h0m0 8h0m2 1h0m8-7h0m1 2h0m6 4h0m0-2h0m3-1h0m2-3h0m1 1h0m3-2h0m1 8h0m3-9h0m8 2h0m7 0h0m4 1h0m1 2h0m11-4h0m15-1h0m2 7h0m6-6h0m4 4h0m3-4h0m6 5h0m1-3h0m0 0h0m1-3h0m2 1h0m0 5h0m1-4h0m1 1h0m3 0h0m0-3h0m0 0h0m7 1h0m2-1h0m2 5h0m1-3h0m0 2h0m1-3h0m4-1h0m0 6h0m2-6h0m2 2h0m5 3h0m1 1h0m1-5h0m1 1h0m1 1h0m0 6h0m8-6h0m1-1h0m5 6h0m5 0h0m4-1h0m2 0h0m1-7h0m0 5h0m1-1h0m4 4h0m1-7h0m4 5h0m8-1h0m1 1h0m2-6h0m9 4h0m5-3h0m1 3h0m3-1h0m2-1h0m6 0h0m-199 9h0m4-1h0m1 6h0m10-3h0m24 3h0m3 2h0m2 0h0m6-5h0m2-3h0m3 0h0m2 9h0m8-8h0m9 8h0m9-5h0m3-2h0m3-1h0m3-1h0m7 8h0m9-7h0m2-1h0m3 1h0m1 5h0m3 0h0m5-6h0m4 1h0m3 1h0m0 0h0m4 1h0m2-2h0m0 1h0m2-2h0m9 2h0m-154 16h0m1-1h0m0-3h0m3 2h0m3-4h0m9 5h0m4 2h0m2-6h0m5 2h0m2 1h0m7-4h0m2 1h0m0-3h0m3 7h0m1-2h0m22 0h0m7 2h0m2 2h0m7-9h0m4 7h0m17-3h0m0 5h0m-92 7h0m10 3h0m3-9h0m4 1h0m1 4h0m4-3h0m1 4h0m4-6h0m8 4h0m0-3h0m13 5h0m2 0h0m2-2h0m1-3h0m2 4h0m1-3h0m4 4h0m8 0h0m1 0h0m0-1h0m3 3h0m2-7h0m8-1h0m3 5h0m2 3h0m9 1h0m1-7h0m3-1h0m5 6h0m-90 6h0m10-3h0m1 0h0m0 0h0m3 7h0m1-6h0m1 3h0m13-4h0m6 7h0m3-5h0m2 5h0m8-4h0m13 1h0m2-3h0m11 2h0m3-3h0m14 7h0m0-2h0m6 4h0m-107 1h0m6 8h0m5-3h0m0 0h0m2 1h0m10 2h0m7-3h0m8-2h0m11 0h0m13 0h0m1-2h0m3 8h0m0-9h0m-63 11h0m2 3h0m3-1h0m1-1h0m3 0h0m3 4h0m8-5h0m1-1h0m16 2h0m1 5h0m13 2h0m1-6h0m0-3h0m4 6h0m2 3h0m92 0h0m-139 1h0m1 7h0m6-3h0m5-4h0m1 6h0m15 0h0m1-5h0m2 3h0m3-3h0m0 3h0m3-2h0m2-2h0m3 8h0m3-1h0m1-5h0m2-2h0m1 8h0m89-8h0m0 5h0m6-1h0m2-1h0m-137 8h0m1 3h0m7 3h0m3-1h0m1-5h0m21 5h0m3 3h0m5-6h0m0 3h0m0-3h0m4-3h0m16 9h0m1-1h0m1-2h0m-48 8h0m12 0h0m0-1h0m1-3h0m5 5h0m26-4h0m4 3h0m0 3h0m1 1h0m0-3h0m1 4h0m0-3h0m1-2h0m2-2h0m1 3h0m0 0h0m3 0h0m3 3h0m0-1h0m16 0h0m4 2h0m2-2h0m3 1h0m0-1h0m1-5h0m2 3h0m-39 5h0m1 4h0m2 0h0m0 0h0m1 3h0m6-5h0m1 3h0m1-4h0m4 4h0m2-3h0m3-1h0m3 1h0m0-1h0m2-1h0m2 2h0m1 6h0m2-6h0m0 4h0m0-1h0m1-4h0m3 1h0m7 2h0m0 5h0m3-3h0m1 1h0m2-5h0m2 0h0m1-1h0m0 7h0m1-2h0m6 0h0m22 3h0m-73 3h0m6 6h0m0-1h0m6 2h0m1-3h0m16-4h0m2 6h0m1-3h0m3-3h0m6 1h0m2 4h0m2-5h0m3 7h0m1-6h0m5 2h0m0 1h0m1 3h0m5 0h0m1-3h0m1 1h0m0-5h0m2 2h0m1 3h0m3 0h0m2 2h0m0-1h0m3-4h0m2-1h0m-69 13h0m3 2h0m4 1h0m1-7h0m1 7h0m1-9h0m3 9h0m10 0h0m0-4h0m5 1h0m4-3h0m2 3h0m0-1h0m0 0h0m0-4h0m1 5h0m0-6h0m2 7h0m1-2h0m3-2h0m1 5h0m1-2h0m3 1h0m1-7h0m8 9h0m0-2h0m2 0h0m1-2h0m-51 10h0m2-4h0m1 5h0m1-1h0m5-1h0m2 3h0m0-5h0m4-1h0m1 2h0m1-2h0m3 5h0m1-4h0m1 5h0m5 0h0m4-1h0m0-1h0m2 4h0m0-4h0m6-3h0m3 5h0m6-6h0" stroke="#e8694f" stroke-width="4.8" stroke-linecap="round"/>
<path d="M1017 1649h0m3-2h0m2-4h0m0 1h0m2 4h0m0-4h0m-23 15h0m1 0h0m1 0h0m0-1h0m0-1h0m1 0h0m3 2h0m4-6h0m5-3h0m1 9h0m1 0h0m3-2h0m0 2h0m1-4h0m2-3h0m4 4h0m0-1h0m0 3h0m2-2h0m0-1h0m-41 14h0m6-5h0m1 1h0m0 0h0m1 2h0m5 0h0m1-7h0m1 7h0m1-5h0m4-2h0m4 6h0m0-2h0m2-4h0m2 3h0m0 3h0m2 1h0m2-7h0m3 0h0m10 2h0m-43 15h0m0-2h0m1 2h0m1 2h0m0-4h0m3-5h0m1 6h0m2-5h0m0 4h0m1 4h0m1-8h0m2 6h0m0-6h0m1 7h0m2-6h0m1-2h0m1 9h0m2-2h0m1-6h0m5 7h0m3-8h0m3 4h0m9-4h0m3 1h0m1-1h0m3 7h0m3 1h0m2-3h0m-51 7h0m0 5h0m0-4h0m4-3h0m1 9h0m3-4h0m2 1h0m1 0h0m2-1h0m3-1h0m5-2h0m2 5h0m1-5h0m2 5h0m1-7h0m0 6h0m0-1h0m0-1h0m3 0h0m2 0h0m9-1h0m1 1h0m4-3h0m6 8h0m0-2h0m1-1h0m0-4h0m-56 11h0m1 3h0m2 3h0m1-2h0m15-3h0m2-3h0m0 6h0m0 2h0m19-9h0m7 1h0m2 6h0m1 0h0m1-6h0m2 7h0m1-8h0m1 8h0m0-3h0m2 3h0m1 1h0m2-7h0m1 7h0m2-2h0m-62 4h0m0 0h0m5 4h0m0 4h0m3-4h0m3 1h0m0-6h0m4 2h0m0 2h0m1 2h0m1-2h0m1 5h0m3-4h0m2 3h0m2-1h0m2-2h0m8 4h0m1-2h0m9-1h0m0-1h0m0 2h0m1 0h0m0 2h0m3-5h0m0 3h0m4 0h0m1-5h0m6-2h0m1 3h0m-60 11h0m0 0h0m2 4h0m2 0h0m1-3h0m0 1h0m2-5h0m1 0h0m8 6h0m0 0h0m1-5h0m0 0h0m1 2h0m2 4h0m1-6h0m1 1h0m0-1h0m0 6h0m1-5h0m5 3h0m0-2h0m1 5h0m1-2h0m1-7h0m8 2h0m0 1h0m3-1h0m2 1h0m1 4h0m1 1h0m0-6h0m1 5h0m6-6h0m1 7h0m0-2h0m0-3h0m0 1h0m0 5h0m1-3h0m1-4h0m-54 13h0m1 4h0m2-7h0m1 4h0m2 2h0m0 0h0m5-6h0m0 7h0m5-3h0m3-2h0m3 5h0m2-3h0m1-3h0m1 2h0m1 4h0m6-2h0m4-7h0m7 4h0m2 0h0m0 1h0m130-2h0m-171 11h0m2-4h0m0 9h0m5-8h0m0 3h0m1 5h0m4-6h0m8-3h0m0 0h0m1 7h0m1-5h0m1-1h0m2 2h0m1 6h0m2-6h0m1-3h0m2 2h0m1 5h0m2-7h0m1 8h0m2-8h0m1 3h0m123 5h0m12 1h0m4-7h0m5 7h0m-186 5h0m1-1h0m1 6h0m1-3h0m1-5h0m1 4h0m0-5h0m3 6h0m0 3h0m1-8h0m4 7h0m6 1h0m7-3h0m4-2h0m0 4h0m1-8h0m0 2h0m3 1h0m3-2h0m2-1h0m113 7h0m31-5h0m1 1h0m3 4h0m1 2h0m4-7h0m6 1h0m-196 10h0m3 6h0m0-2h0m1-1h0m1 2h0m0-5h0m0 2h0m2-4h0m2 5h0m1 3h0m0-7h0m1-2h0m0 7h0m6-2h0m0-1h0m1-2h0m0-2h0m7 9h0m1-3h0m2-2h0m2-3h0m113 0h0m3-1h0m18 5h0m24 2h0m11 1h0m-199 6h0m0-4h0m0 6h0m2-5h0m3 1h0m4-2h0m0 7h0m4-6h0m1 2h0m0 2h0m3-1h0m2 3h0m1-3h0m2-4h0m128 5h0m15-4h0m40 4h0m5-5h0m-202 12h0m1 3h0m150-3h0m3-1h0m15 5h0m15 3h0m4-9h0m9 8h0m1-8h0m-203 13h0m2 0h0m205 1h0m1 5h0m5-1h0m-404 10h0m6-5h0m1 5h0m1-6h0m2 6h0m3 1h0m11-7h0m7 3h0m375-5h0m59 9h0m-459 9h0m5 0h0m2-4h0m1-2h0m4 0h0m2 5h0m5 1h0m8-4h0m8 3h0m101-2h0m5 0h0m219 2h0m23-1h0m5-4h0m2 7h0m-393 7h0m5 2h0m8-3h0m2 0h0m4-5h0m6 5h0m12-2h0m0 0h0m73 5h0m0-2h0m2 0h0m0 1h0m1-1h0m4 3h0m7-8h0m5 3h0m4-1h0m3 1h0m2-1h0m0 3h0m3-3h0m7 5h0m1-1h0m203-7h0m8 8h0m7 0h0m28-3h0m8 2h0m48-3h0m4-1h0m13 0h0m4 6h0m3-9h0m-431 11h0m3 5h0m34-2h0m5 2h0m4 1h0m0-4h0m4 5h0m8 0h0m5-1h0m3-1h0m2-6h0m6 7h0m12-1h0m0-2h0m4-3h0m3 2h0m3 2h0m2-1h0m3 4h0m2-1h0m213-6h0m9 0h0m16 6h0m6-5h0m27-2h0m1 7h0m12-4h0m22 1h0m6 3h0m7-2h0m4 0h0m-465 10h0m2-4h0m8 0h0m2 6h0m11-7h0m3 6h0m0-1h0m12-5h0m23 8h0m1 0h0m5-8h0m8 0h0m14 6h0m1-6h0m7 9h0m0-2h0m9-3h0m0 2h0m1 1h0m2-2h0m1 3h0m2 1h0m6-4h0m5-2h0m11 1h0m1-2h0m1 7h0m9-9h0m215 6h0m8-4h0m14 2h0m42-1h0m4 0h0m13 6h0m10 0h0m-494 7h0m7 1h0m35 1h0m3-4h0m3 4h0m7-4h0m20-3h0m34 4h0m10-5h0m1 3h0m11 6h0m1-2h0m1-3h0m4-3h0m1 0h0m2 4h0m2-3h0m1 2h0m14-2h0m5 2h0m3-1h0m4-3h0m3 0h0m2 3h0m2-2h0m8 8h0m5-2h0m6-5h0m215-2h0m80 3h0m-507 16h0m3-3h0m0 0h0m6 3h0m3-9h0m1 9h0m1-6h0m1-1h0m2 6h0m7-6h0m7 0h0m1 1h0m0 1h0m2 1h0m2-2h0m9 1h0m15 0h0m3 4h0m2-8h0m3 8h0m0 0h0m4-5h0m4 3h0m3 0h0m2-4h0m0 6h0m6 1h0m5-8h0m27 1h0m6 6h0m9-6h0m0-2h0m4 8h0m3-1h0m3-6h0m16 7h0m12-4h0m5 3h0m7-7h0m1 3h0m0 1h0m3-2h0m7 3h0m5-5h0m8 9h0m2-8h0m-215 14h0m6 2h0m9-4h0m2 2h0m0-2h0m6 5h0m4-3h0m9 2h0m9 1h0m6 0h0m8-5h0m18-2h0m10 1h0m39 7h0m4-9h0m5 0h0m2 8h0m1-2h0m1-6h0m1 5h0m4-3h0m1 3h0m2-5h0m4 1h0m7-1h0m1 5h0m7 1h0m3-2h0m0-1h0m3 6h0m2-9h0m3 8h0m0 0h0m8-2h0m2-6h0m1 8h0m3-5h0m2 2h0m4 2h0m2-7h0m10 7h0m-208 7h0m1 2h0m4-6h0m5 4h0m1 3h0m1-1h0m3-5h0m2 7h0m17-4h0m5-2h0m6 6h0m1-1h0m4-3h0m11 1h0m7 2h0m0-3h0m3-4h0m3 0h0m4 2h0m2 6h0m3-8h0m6 7h0m0 2h0m4-4h0m14 4h0m0-7h0m2 1h0m10 3h0m5-3h0m2-1h0m1 6h0m2-3h0m3 4h0m2 0h0m2-4h0m4-1h0m0 5h0m0 0h0m2-8h0m2 4h0m3 2h0m4-3h0m6 0h0m4 5h0m0-3h0m5-6h0m1 4h0m6 0h0m6 4h0m2-2h0m1 1h0m3-5h0m3 7h0m7-9h0m4 1h0m1 4h0m0 0h0m-195 14h0m2-8h0m3 7h0m5 0h0m2-7h0m6 0h0m1 0h0m19 4h0m1 3h0m4-2h0m3 2h0m4 1h0m3-1h0m11-3h0m10-4h0m2 8h0m0-4h0m5 3h0m1-7h0m4 5h0m3-3h0m1 4h0m6 1h0m5 1h0m1-7h0m10-2h0m5 5h0m2-4h0m1 6h0m1-3h0m7 4h0m1-7h0m1 8h0m2-8h0m0 4h0m1 4h0m3-5h0m1-3h0m0 3h0m1 4h0m1 0h0m0-7h0m0 0h0m0 4h0m0 4h0m1-6h0m5 5h0m3-2h0m0-6h0m0 4h0m7 3h0m3-1h0m1-6h0m0 7h0m2-2h0m1-5h0m1 6h0m2 3h0m4-7h0m2 0h0m0 0h0m16 5h0m3-1h0m1 1h0m0-2h0m2-3h0m1 2h0m1 5h0m1-3h0m1-2h0m0 1h0m-193 9h0m0 0h0m2-4h0m3 8h0m1 0h0m1-5h0m10-1h0m16 6h0m0-6h0m10 5h0m2-1h0m1-2h0m1-1h0m6 1h0m2 3h0m1 2h0m2-4h0m11 2h0m5-6h0m1 5h0m9 1h0m1-4h0m2 3h0m0 2h0m5-7h0m0 3h0m6 1h0m7 2h0m4-5h0m0 2h0m1-3h0m1 6h0m3 1h0m3-7h0m2 0h0m1 0h0m1 7h0m2 0h0m1-5h0m1 3h0m0-6h0m0 4h0m2-2h0m0 4h0m3 3h0m7-2h0m9-1h0m0-1h0m2-5h0m0 3h0m6 3h0m0 1h0m2-2h0m8-2h0m25 4h0m-194 4h0m8 7h0m20-2h0m14 0h0m4-1h0m6 4h0m8-3h0m0-2h0m5-2h0m8-2h0m2 7h0m1-2h0m1-3h0m7 6h0m11-3h0m8 1h0m1-2h0m1 4h0m5-2h0m2 3h0m2-9h0m3 3h0m6 5h0m0-5h0m9-2h0m2 4h0m2-4h0m1 7h0m3-4h0m1 1h0m2-2h0m1-1h0m2-1h0m3 6h0m8-4h0m3 6h0m0-1h0m1-5h0m3 1h0m4 4h0m2-4h0m0-2h0m2 5h0m6-4h0m1 3h0m1-3h0m11-2h0m2 8h0m0-1h0m-166 3h0m7 2h0m1-3h0m11 9h0m2-2h0m19-2h0m4 3h0m7-7h0m0 0h0m6 5h0m3-4h0m10 3h0m3 1h0m3-1h0m2-4h0m15 8h0m1-5h0m3 3h0m6-5h0m2 5h0m3 1h0m5-1h0m14 1h0m1 1h0m1-7h0m1 4h0m6 0h0m0-5h0m2 4h0m1 3h0m1-3h0m0-3h0m0 0h0m1 5h0m0-7h0m1 7h0m2-2h0m10-1h0m3 1h0m7-5h0m-140 12h0m12 1h0m1-2h0m14-1h0m43 4h0m8 2h0m4-6h0m5 8h0m3 0h0m0-3h0m0 1h0m2 1h0m4 0h0m1-7h0m7 2h0m5-1h0m9 1h0m1 4h0m2-6h0m10 0h0m3 0h0m1 4h0m3-2h0m-68 15h0m6-1h0m7-5h0m0 5h0m10-3h0m5 1h0m2-3h0m2-1h0m14 2h0m1 6h0m6-5h0m3-2h0m0 5h0m5 0h0m3-2h0m1-2h0m0 4h0m-62 9h0m7 2h0m1-5h0m8 6h0m5-7h0m10 2h0m0 0h0m1 0h0m6 2h0m0-5h0m2 5h0m0-2h0m0 2h0m2 1h0m11 1h0m0 2h0m0 0h0m4-2h0m-60 8h0m1-3h0m1 0h0m2 6h0m0-6h0m2 6h0m1-7h0m1-1h0m8 4h0m4 3h0m4-2h0m1-2h0m5-3h0m3 5h0m0 0h0m4-1h0m4-2h0m0-1h0m2 8h0m1-2h0m1-1h0m8-6h0m3 5h0m5-4h0m-53 10h0m1 2h0m4 2h0m1-4h0m4 2h0m2-2h0m0 2h0m4 5h0m1-1h0m1-7h0m3 5h0m10-4h0m1 3h0m1 5h0m2-6h0m5 5h0m2 1h0m1-7h0m-15 13h0m5-3h0m1 6h0m3-5h0m4-2h0m2 12h0m-134 21h0m7 5h0m-12 7h0m38-3h0m11 4h0m11 0h0m-51 11h0m16-4h0m14 5h0m-22 7h0m1 5h0m8 8h0m3-2h0m11-2h0m8-3h0m0 2h0m-17 8h0m378 10h0m1 2h0m26 4h0m7-1h0m2 1h0m-29 2h0m2 4h0m1 0h0m2-3h0m0 0h0m1 8h0m1-7h0m3 5h0m1-4h0m0 5h0m0-3h0m1 1h0m2-3h0m1 4h0m3-4h0m2-3h0m1 9h0m0-4h0m1 3h0m2 1h0m0-5h0m4 0h0m2 5h0m2-4h0m3 4h0m-26 1h0m1 3h0m6 1h0m6 3h0m0-7h0m0 1h0m1-1h0m2 9h0m2-2h0m5-1h0m1-2h0m0-3h0m1 5h0m0 2h0m0 1h0m2-4h0m3 3h0m-16 3h0m8 0h0m8 0h0" stroke="#bcd43a" stroke-width="4.8" stroke-linecap="round"/>
<path d="M964 1887h0m235 1h0m-239 6h0m35 3h0m13 1h0m49-3h0m16 1h0m90-2h0m-3 13h0m7-4h0m3 4h0m-221 8h0m46 0h0m96-2h0m70 3h0m-83 6h0m13 6h0m24-8h0m-171 17h0m237-7h0m-164 17h0m88-4h0m16 5h0m13-5h0m36 0h0m-190 16h0m28-9h0m47 6h0m27-4h0m72 2h0m-151 9h0m-1 10h0m29-1h0m-57 8h0m73 7h0m16-2h0m-123 9h0m7 2h0m35 1h0m3 4h0m30 6h0m49-7h0m-118 13h0m16-1h0m14 8h0m99 4h0m-60 14h0m32-8h0m14 15h0m-90 8h0m104 1h0m-81 23h0m63-6h0m-12 18h0m20-2h0" stroke="#bcd43a" stroke-width="4.4" stroke-linecap="round"/>
<path d="M1020 1879h0m7-3h0m6 2h0m19-2h0m1-1h0m5 3h0m134 1h0m7-1h0m-235 9h0m2-5h0m13 6h0m8-1h0m34-1h0m120 3h0m13-3h0m5 3h0m1-4h0m0 0h0m13-1h0m5 5h0m2-5h0m6-3h0m1 2h0m3-2h0m1 7h0m13-5h0m5 1h0m-235 14h0m0 0h0m35 0h0m7-6h0m30 0h0m7-1h0m62 6h0m11 1h0m0-5h0m3 5h0m3-5h0m6 5h0m1-7h0m3 0h0m3 6h0m5-3h0m4-4h0m9 3h0m12 4h0m1 2h0m8-7h0m2 4h0m7 2h0m6-7h0m0-1h0m5 7h0m6-6h0m-245 14h0m53-2h0m0 2h0m11-1h0m19 0h0m42 4h0m4 1h0m31-9h0m2 6h0m7 2h0m7-3h0m5 1h0m0 1h0m0-1h0m3 3h0m7-5h0m13 1h0m1 3h0m1-1h0m3-1h0m16-1h0m6 1h0m7-3h0m1 2h0m-265 7h0m11-1h0m16 7h0m3-1h0m16-7h0m31 4h0m12 5h0m51-1h0m6-5h0m5-2h0m2-1h0m1 1h0m18 6h0m0-7h0m14 9h0m4-4h0m12-4h0m1 7h0m7-1h0m6-7h0m6 4h0m1 2h0m3-6h0m3 8h0m0-7h0m3 2h0m8-3h0m3 0h0m3 2h0m7 6h0m10-3h0m2 2h0m0-3h0m-226 7h0m32 5h0m37 3h0m13-8h0m29 4h0m5 0h0m9 0h0m5 3h0m3-1h0m9-7h0m11 2h0m2 5h0m1-5h0m9 3h0m2 3h0m1-7h0m2 4h0m4-1h0m2 0h0m0 3h0m12-2h0m3 4h0m12-2h0m8-2h0m-218 7h0m24 6h0m45 1h0m32-2h0m20-1h0m4 1h0m5-1h0m0 0h0m7 3h0m5-5h0m4 4h0m13-3h0m8 4h0m2-9h0m0 8h0m1-3h0m2-4h0m1 4h0m6 3h0m1-1h0m1-6h0m17 5h0m8-4h0m5 7h0m9-2h0m10-5h0m-244 14h0m7 2h0m12 0h0m2-1h0m31 2h0m10-6h0m29 1h0m11-3h0m16 2h0m1 3h0m16-6h0m1 4h0m3 4h0m1-4h0m1-2h0m8 1h0m0 0h0m3 0h0m1 3h0m0-4h0m18-2h0m14 5h0m4-4h0m13 2h0m8-1h0m4 0h0m16 6h0m-229 8h0m3-3h0m23-1h0m5 0h0m25 7h0m2-8h0m27 6h0m22 2h0m5-5h0m19-2h0m10 0h0m11 5h0m5-3h0m6-3h0m6 2h0m0 0h0m0 1h0m0 5h0m4-6h0m4-2h0m0 2h0m3-3h0m0 6h0m6 2h0m5 0h0m0-1h0m8 2h0m4-4h0m1-1h0m5-1h0m0 3h0m7 0h0m1-1h0m8-3h0m8 3h0m18-3h0m-266 14h0m11-4h0m3 7h0m19-1h0m11 1h0m4-5h0m1 1h0m2-4h0m21-1h0m9 3h0m16-2h0m41 2h0m24-3h0m5 1h0m15 4h0m4-4h0m17 1h0m2 1h0m2 4h0m6-6h0m0 2h0m14-1h0m4-1h0m10 0h0m2 6h0m7-1h0m2-3h0m2 0h0m0 3h0m0-6h0m10 6h0m-272 8h0m26 4h0m1 1h0m11-4h0m9-4h0m1 4h0m8 0h0m3 2h0m7-7h0m17 3h0m5 2h0m39 4h0m108-9h0m8 1h0m4 0h0m30 2h0m-240 10h0m10-3h0m17 3h0m11 0h0m17 4h0m34-7h0m4 8h0m22-6h0m-141 16h0m3 0h0m23-5h0m4 0h0m28-3h0m9 9h0m6-9h0m1 3h0m14 1h0m28 0h0m5 2h0m14-2h0m4 5h0m-100 3h0m42 0h0m7 1h0m0 5h0m11-8h0m0 7h0m1-1h0m7 2h0m0-8h0m13 5h0m1-3h0m2 1h0m4 6h0m4-3h0m6 1h0m-128 6h0m5-1h0m16 3h0m55 2h0m20-4h0m1-2h0m5 4h0m0 3h0m16-1h0m-128 7h0m24-1h0m55-3h0m-75 11h0m16 0h0m30 4h0m6-4h0m5 1h0m21 2h0m13-3h0m4 5h0m-90 6h0m8 6h0m16-2h0m21-1h0m18-2h0m1 6h0m17-1h0m41 0h0m-59 11h0m19-5h0m18 4h0m4 1h0m-75 4h0m5 0h0m17-3h0m1 6h0m13-4h0m18-1h0m21 5h0m-83 11h0m16-1h0m3 0h0m21-2h0m21 22h0m18-4h0m4 4h0" stroke="#4c7fab" stroke-width="4.4" stroke-linecap="round"/>
<path d="M965 1888h0m39-5h0m195 0h0m-207 11h0m162 1h0m50-1h0m-186 15h0m78-9h0m17 2h0m2 6h0m75-6h0m8 5h0m-42 8h0m35 12h0m12-4h0m-237 7h0m218 3h0m6-3h0m-65 12h0m-180 17h0m79-7h0m45 7h0m47-5h0m11-1h0m-186 40h0m7 4h0m127 3h0m-124 15h0m48 12h0m36 15h0m-57 26h0m36 5h0" stroke="#e8694f" stroke-width="4.4" stroke-linecap="round"/>
<path d="M1008 1729l3-1 1 3-1 3-3 0-1-3zM1014 1717l6-2 2 3-3 3-5-1zM1022 1706l4 3-1 6-5-2-2-2-1-5zM1012 1725l-1 4-4 0-4-1 1-3 2-2 4 0zM1018 1651l3 0 3 1-1 3-2 2-2-1-2-2zM1012 1694l-3 0-1-2 2-3 3-3 1 2-1 3zM997 1670l2 1 1 3-4 1-2-2 1-2zM1024 1686l1 5-6 2-3-5 3-4 4-3zM1006 1656l2-1 3 1 0 3-1 1-3 0-2-2zM1001 1705l0-3 3 0 2 0 0 2-1 2-2 1zM1012 1724l-2 2-3-1 0-5 2-3 3 2zM1043 1693l0 5-3 3-2-3 0-5 3-1zM1031 1670l-3 1-2-2 0-3 4-1 1 3zM1011 1733l1 1-1 2-2-1-2-1 0-3 2-1zM1026 1680l2 4-3 5-5-3 0-5zM1011 1721l1-2 3 0 2 4-4 2zM997 1696l-4 0-5-2 2-5 5-2 3 4zM1034 1725l-3-1-2-1 0-3 4-2 2 1 1 3zM1018 1726l4 0-2 4-2 4-3-2-3-2 3-4zM1014 1706l1-3 3-2 2 2-1 3zM1012 1650l5 2 4 3-3 4-3 2-4-3-1-3zM1011 1702l2 0 1 2-1 3-3-1zM1004 1749l-4-3-2-5 5 0 5 1 0 5zM1027 1677l1 4-4 0-3-2 3-4zM1010 1715l5-1 4 2 1 3-5 1-6-1zM1011 1673l2 1 3 2-1 4-2 1-3-1-1-4zM1021 1737l0 3-4-2-1-3 1-2 2 1zM1000 1725l-4 3-4-4 0-6 5-1 4 3zM1026 1690l-3 0 0-3 3-3 1 3zM1011 1725l0-6 4 2 5 2-1 6-4-1zM1007 1694l3-3 3-2-1 5-3 4zM1006 1692l-3 0-3-2-2-3 4-1 3 1 2 3zM1029 1680l5 2 3 4-4 4-5 0 0-5zM1011 1711l-3 1-3-2 1-3 3-1 3 2zM1034 1704l3 1 1 3-2 2-3-3zM1031 1707l-2 2-3-1-1-3 1-2 2 0 3 1zM1005 1741l3 0 1 1 1 1-2 1-2 1-1-2zM1010 1743l-3 3-5-2 0-5 3-2 3 1 4 2zM1007 1657l1 0 2 2 0 3-2 2-2-3zM995 1675l0-3 4-1 1 4-2 2zM933 1819l-4-2 4-2 3-1 4 1 0 3-3 2zM940 1905l-1 2-3-1-2-2 1-2 3-1 3 2zM932 1858l-3 1-2-3 2-5 3 3zM880 1891l0-3 3-3 3 3 1 4-5 2zM920 1877l-3-2-2-4 4-3 3 0 0 5zM918 1852l0-2 1-2 2-1 1 1 0 2-2 2zM897 1860l-1-2 2-3 2 0 2 3-3 4zM944 1877l-2 2-2 1-3 0 0-2 3-2 3-1zM909 1822l2-1 2 1 2 2-1 2-2 0-2-1zM949 1884l-1 3-3-1-1-2 0-2 2-1 3 1zM938 1903l1 3-1 4-4-1-3-2 1-3 3-2zM894 1849l0-5 3-2 2 4 0 3-2 1zM949 1836l-2-1 2-2 3-1 1 2-1 2zM908 1856l1-3 3-1 1 2 0 2-1 2-3-1zM901 1899l3-1 4 3-1 2-3 0-2-2zM907 1952l-3-2 0-2 4 0 3 3zM936 1862l2 2-1 3-3 0-1-3zM907 1833l-3-1-4 0 2-3 2-2 4 1 0 3zM939 1842l-1 3-2 3-4-1 0-4 1-3 4-1zM923 1849l3-1 3 0 0 2-2 3-3 1-1-2zM936 1942l-2 1-3-1-1-2 1-2 3 0 1 2zM930 1942l0-3 3-1 3 1-2 4zM926 1963l-1 3-3 2-3 0 0-4 4-1zM945 1852l1-2 2-1 1 1 1 3-1 3-4-1zM923 1836l4-1 1 5-2 3-3-3zM881 1907l-2-3 3-3 5 2 0 4-3 3zM937 1874l1 3 0 3-3 2-3-1 0-3 1-3zM921 1880l-3 2-1-4 1-3 2 1zM914 1923l-2-2 3-3 5-1-1 3zM883 1834l-1-2-1-2 3-1 1 2 2 2-1 2zM937 1941l1 3-2 1-2 2-1-4 1-2 2-2zM925 1910l0-3 1-2 3 1 1 4-1 4-3 0zM948 1850l3-1 1 2-1 2-3 0-2-1zM914 1933l4 5-2 3-4-2-3-6zM879 1896l0-3 3-1 3 0-1 3-3 2zM939 1832l-1 4-4-2-2-4 1-4 3 2zM911 1962l-2-6 4-2 3 2 1 4-2 2zM949 1825l0-4 3-3 3 1 2 1 0 4-4 0zM928 1837l-4 2-3-3-1-4 3-3 4 3zM947 1841l-1-1 0-1 2-1 3 0 1 1-2 1zM924 1865l4-2 4 2 2 4-4 1-5-1zM927 1960l3 4-2 6-5-4-1-5zM917 1965l0-3 2 1 1 2 1 2-2 0zM923 1889l-1-3 3-1 3 4 1 3-3 0zM897 1867l-3-1 3-3 2-3 4 1 0 2-2 2zM1017 1848l-3-3 1-1 3 0 2 2 0 2zM1044 1859l-3 0 0-3 1-2 2 2zM1011 1842l3 0 0 4-2 2-2 0-2-2 0-4zM1009 1834l0-4 3-4 3 2 1 3-2 3zM1056 1866l-3 2-4-2-2-2 5-1zM1014 1844l-3 3-3-1-1-3 2-2 3-3 2 2zM1018 1833l0 2-1 1-1 0 0-2 1-1zM1042 1861l1-3 3 0 2 2 0 4-3 1-3-1zM1048 1862l0 3-3 0-1-3 2-2zM1002 1844l-2-3 2-3 3-1 2 3-1 3zM848 1902l2 1 1 3-3 1-1-2zM822 1875l-2-3 0-3 3-1 1 3zM832 1908l0 4-4 1-4-2 2-4 4-2zM799 1904l-3-2 2-5 5 1 0 5zM767 1862l-2-2-1-4 3 1 2 3 0 4zM834 1918l-3-1-2-2 1-3 3 1 1 3zM782 1887l1-4 4 2-1 4-3 0zM773 1870l0-3 3-1 2 1 0 3-2 2-2-1zM797 1882l2-2 2 2 1 3-2-1zM821 1901l-1 2-3-2-1-2 2-3 3 0 2 2zM866 1887l2 1 3 2-3 2-3-2zM830 1894l-1-2 2-1 4 0-1 4-2 1zM794 1856l2 0 2 2 0 3-4 1-1-3zM865 1896l3-1 1 3-3 3-2-2zM838 1882l3 1-2 1-1 2-3-1 0-2 1-2zM798 1879l-2-2 1-4 2 0 2 1 0 3-1 4zM799 1898l0 2-2 2-2-1 1-3 1-1zM821 1900l-1-3 2-3 4 0 2 2 1 4-4 2zM799 1901l-1 2-2 1-2-2 0-3 1-3 3 2zM762 1883l-2 0-2-1 2-2 3 0zM777 1870l0 3-4-1-2-3 3-1zM798 1881l1 2 0 3-3 0-2-1 0-3 2-3zM786 1857l-2-5 1-2 3-1 3 3-1 4zM871 1899l4 1 2 4-4 1-3-3zM884 1899l-2 1-4-1 2-3 2 0 2 1zM783 1875l-2-2-1-4 4 1 2 3zM858 1899l-2-1 1-3 2-3 1 1-1 4zM786 1850l-1 1-2 0-1-1 0-2 2-1 2 1zM852 1906l0-2 1-1 2-2 2 2 2 2-3 2zM790 1891l-4 2-2-3 1-3 4-1zM855 1887l-2-1-2-1-1-2 1 0 2 0 1 2zM877 1904l2-1 3 1 1 3-1 2-1 1-2-3zM813 1882l2 2-1 3-2 2-1-2-1-3zM780 1872l1-2 2-1 2 1 2 3-2 1-2 0zM871 1887l-4-3-1-4 4 1 3 1 0 3zM842 1853l0 3-1 1-2-2 0-2 0-2 2 1zM841 1832l-1-2 1-2 4 0 2 2-1 2-3 1zM825 1854l-2-1 1-2 2-2 2 2 0 3zM820 1796l0 4-3 0-2 0-2-2 1-2 3-2zM835 1840l-1-3 4-2 3 3 1 4-3 2-4 0zM828 1858l0-1 1-1 2 0 0 2 0 1-2 1zM827 1843l-1 5-5 1-2-4 3-4zM828 1840l3-1 3 3 0 2-2 2-3-2zM847 1845l-3 3-2-1-1-2 3-3 3-1 0 2zM825 1821l4-1 0 6-4 1-1-2zM825 1797l1 3-1 3-3 1-2-2 0-4zM845 1847l-2 1-2-2-1-1 2-1 2 0 2 1zM755 1952l0-3 2-2 2 0 2 2-1 3-4 2zM739 1984l3 3-2 4-5-2 1-6zM743 1992l4-2 1 3-2 2-3-1zM750 1944l-3 1-2 0-1-2 1-2 1-1 3 1zM694 1913l-2 1-2-1-1-2 1-1 3 0 2 1zM732 1920l-1 4-2-2-2-2 1-4 3 0zM735 1953l4 2 0 4-4 1-5-1 1-5zM751 2001l-2-1 0-2 2-2 2 1 1 1-1 2zM710 1976l-1-1-2-1 0-2 2 0 1 1 1 1zM739 1915l2-1 0 2-1 2-1 0-1-1zM812 1917l-3-2-3-3 2-1 2-2 2 3 2 3zM868 1877l4-1 2 2-2 3-4 0zM718 1938l0 2-1 0-2 0 0-2 1-1zM783 1876l-2-3 2-2 4-1 1 5zM793 1855l3-2 0 4-2 4-2-2zM832 1823l3-4 3 2 1 4-5 1zM825 1801l-2 1-3 0-2-4 3 0zM719 1891l3 0 0 5 0 3-4 0-1-5zM823 1812l2 1 2 1-1 3-2 1-2-2 0-2zM785 1860l2 0 1 0 1 1-2 2-2 0-1-1zM1195 1777l3-2 3 2-1 4-3 2-2-2zM1261 1812l-1-3 2-1 2 1 0 1 0 2zM1274 1818l0 4-2 3-4-3 2-4zM1207 1774l0 4-3 2-3 0-2-4 4-2zM1196 1820l-1 2-2 1-2-2 0-2 1-2 2 2zM1195 1826l-4 2-4-1 1-3 2-1 3 0zM1198 1799l-2-1 0-2 2 0 1 1 1 2zM1170 1729l3 1 2 3-3 1-4 0-1-3 0-1zM1206 1789l-3 1-2-2 0-3 2-2 3 1 2 3zM1264 1828l-3 0-1-2 0-3 3 0 2 1 1 3zM1178 1836l1-1 1-1 2 2 0 2-1 2-2-1zM1159 1768l2 2-1 3-2 1-2-1-1-4zM1253 1833l-3-2 2-1 3 1 0 2zM1238 1823l1-5 3 2 0 5-2 2zM1185 1807l1-2 3 0 1 3 0 3-2 1-3-2zM1169 1737l-1 1-2-2 0-1 2 0 2 1zM1257 1835l-2 1-3 0 0-3 2-1 3 1zM1193 1749l4 0 0 3-1 4-5 1-2-4 0-3zM1150 1760l0 2-4-1-3-3 2-1 3 0zM1183 1813l1 4-1 3-2-3-2-3 1-3zM1163 1731l-3 0-2-1-1-3 3-1 3 2zM1271 1818l-3 4-4-1-1-5 4-1zM1195 1795l3 1 3 4-3 1-3-3zM1188 1798l-2-4 3-1 3 3-1 3zM1193 1836l-1 2-2 2-2-1 1-2 1-1 1-1zM840 2018l3 0 0 2 0 3-4 2 0-3zM814 2014l-1-4 4-1 3 3-3 2zM814 2031l5 1 0 4-4 3-2-3zM814 2014l1-2 3 1 0 3-2 0zM838 2040l4-2 2 4 1 4-3 2-3-3zM824 2038l2-3 3 0 1 3-3 2zM844 2036l3 1 2 2-1 2-3 0-2-2zM846 2036l3 3-2 4-3 0 0-4zM824 2045l2-1 2-1 1 2 0 1-3 2zM814 2029l1 3-1 3-3-1-2-1 2-2zM1262 1903l0 3-4 1-3-1 2-3 2-1zM1212 1951l0-2 0-4 2 0 1 2 0 3-2 2zM1239 1910l6-2 3 4-2 5-6 0zM1245 1902l0-2 2-1 2 1 1 3-2 1-3 1zM1234 1924l-2 0-1-2 2-2 2 0 1 2zM1207 1875l2 0 0 3-2 2-2-1 0-2zM1189 1930l-1 3-3 0-1-3 1-2 3-1zM1231 1895l2 3-1 5-3-1-2-4zM1230 1924l-3 2-1-4 2-3 3 2zM1176 1920l3 2-1 6-3-1-2-4zM1184 1895l2-2 3 0 2 2-1 2-2 2-4-1zM1242 1876l1 4-5 1-1-4-1-4 4 0zM1213 1881l-2-1 1-3 3-3 2 2-1 4zM1220 1883l0-5 4 0 1 6-3 3zM1190 1917l1 2-1 1-2 0-1-2 1-2 1 0zM1248 1884l0 2 0 3-3 0-2-3 1-2 0-2zM1209 1882l-1 3-2 3-4-1 0-4 1-3 4-2zM1233 1918l-3-4 3-6 6 3-1 6zM1232 1924l0 2-1 3-2-1 0-1 1-3 1-1zM1258 1865l-4 4-5 1 1-4 1-4 5 0zM1174 1907l4-3 3 5 0 4-4-1zM1176 1943l-4-2-2-4 2-4 5-1 4 4-3 4zM1190 1904l2-2 3 0 2 1-1 3-4 2-1-2zM1243 1867l-3 3-3-3 1-2 1-3 3 0 3 2zM1217 1935l-1 3-2 4-2-2 1-3 2-4zM1212 1891l1 4-2 3-4-1-1-4 2-3zM1246 1891l-4 3-3 1 0-4 2-4 3 0zM1201 1921l-4 1-1-4 4-2 4 1zM1208 1906l0 3 0 4-3-1-2-3 2-2zM1195 1893l-5 2-4-4 3-4 6 0zM997 1916l-1-2 0-1 1-1 2 1 0 2 0 1zM948 1951l-1 3-2 1-2-1 0-4 3 0zM985 2025l2 1-2 3-1 0-1-3zM1040 2097l-2-2-1-2 1-2 2 0 2 2-1 2zM1061 1933l1 2-1 2-3 0-2-1 0-2 3-1zM1040 2052l-1 1-2-1 0-2 2-1 1 1zM1022 1999l2-1 2 2-1 2-2 1-1-3zM1050 2068l3-1 0 3 0 3-3 0 0-3zM946 1945l2-1 2 1-1 3-2 1-2-2zM974 2042l-2-3 2 0 3 2-2 1zM1057 1932l-1 2-1 1-2-1 1-2 1-1zM1005 1939l-4-1 0-3 2-2 3 0 2 3zM1038 1961l-2-1-2-1 1-2 2 0 2 1zM988 2063l2 1 0 2-1 1-2 0-2-1 1-2zM958 1920l-4 0 0-3 2-2 3-1 1 4zM1037 2109l-1 0 0-2 2-1 1 0 1 1zM1073 1998l0 1 0 2-2 0-1-1 0-2 2 0zM1079 2162l-1 0-2 0 0-3 2 0 1 0zM1090 2058l2-1 3 2 1 2 0 3-5-2zM1069 2177l-1 2-2-2 0-4 2-1 1 2zM1094 2051l-2-5 4-1 2 3 1 4zM1083 2097l-3-1-3-4 2-1 3 2zM1050 2034l-3 0-3-2 2-3 4 0 1 3zM1084 2157l-2-3 1-3 4 0-1 4zM1081 2052l2-5 4 2 1 6-4 2zM1053 2172l3 0 2 2-2 3-3 0-1-2zM1087 2123l-3 0-2-2 2-3 2-3 2 3 0 2zM1092 2125l1 2 0 1-1 2-2-1-1-1 1-2zM1013 2187l2 3 1 4-3 1-2 0-2-3 1-3zM1062 2057l-2-1-1-2 2 0 1-1 2 2 0 2zM1061 2098l-2 4-3 1-1-4 2-2zM1046 2093l-4-2 0-2 3 0 3 0 2 2-1 1zM1055 2040l3 1 0 3-3 2-1-3zM1029 2123l1-4 4-1 3 3 1 4-3 1-4 1zM1053 2023l-2 2-2-2 0-3 3-2 2 2zM1081 2155l-4 3-4 0 0-5 5-1zM1052 2053l1-1 3 1 1 1-1 3-3 0-3-1zM1057 2019l2-2 1 1 0 2-2 1-1 0zM1032 2128l0-4 4 1 2 3-3 1zM1070 2018l0 1-3 1 0-4 2-1z" fill="#ffffff" stroke="#161616" stroke-width="1.4" stroke-linejoin="round" filter="url(#rgh)"/>
<path d="M991 1644l10-1 9 5-7 4-9-1zM957 1660l9-2 5 12-7 9-9-2zM1012 1688l14 3 10 7-10 7-11-5zM1005 1735l10-3 4 12-9 5zM983 1763l8-3 5 12-2 14-8 2-4-11zM952 1832l12-2 3 12-10 6zM759 1900l12-1 7 5-12 5zM731 1930l12-1 7 8-10 5-8-4zM901 1937l7-2 2 11-7 3zM933 1886l10 0 2 12-9 2zM1223 1856l9-2 7 8-4 9-9-1zM1189 1938l10-3 12 6 3 9-9 3-13-6zM1161 1744l7-3 6 6 5 7 6 11-2 6-6-2-6-4-7-5-4-7zM1206 1810l5-4 4 7-4 6zM808 2025l9-2 7 7-9 5zM941 2040l7-2 2 9-7 3z" fill="#ffffff" stroke="#161616" stroke-width="1.6" stroke-linejoin="round" filter="url(#rgh)"/>
<path d="M819 1798l-2-3m11 3l1-2 2 2m-2-5l2 1m-1-5l1 0m-19 19l-3 0m10-3l1 2m16 0l1-1m-18 11l2 2m-2-1l1 1-2 1m2 0l-1 3 0-1m2-6l3-1m-3 5l-2 3 2-1m9-3l-1-3m-7 18l-1-1 2-2m10-5l-1 3m23-3l-2-2m-73 20l3 0m0-1l2 0m39 3l-1 0m16-2l-2-2m8-1l2-2-2-1m2 0l1 2 2-1m-89 15l3-2-1 1m12 4l2 1 1-1m16-1l0-3m32 2l2 2m4-7l-3-3m5 2l-2-1-2-2m12 11l-1 1 1 1m2-1l-2 2-2-2m-34 3l2 0m13 4l1-1m6 1l3-2m-142 19l1-3-1 2m15 1l-2-3m19 5l3 0m23-2l-2-2 0-2m9-4l3-2 0 1m-3 1l-3-3-2 0m6 10l-2-1-2-1m4-2l-1 0 2-2m4 8l3-2-2 0m28-7l3 1m9 5l2-3-2 2m9-6l3 3 0 1m7-2l3-2 0 1m2 5l1-3 0-2m7 7l2 0 2 2m-2-5l-2-2 1 2m4 3l3 3 0 2m-2-5l3 2m-2-3l2 0-2-2m1 0l1 0-2 1m4 5l-3 1-1 1m6-8l-2-3m19 3l3 3m-1 0l2-3-2 0m5-2l3-2m-171 17l-3-3m5-2l-1-2 0-2m15 10l2 3-2-2m18-7l1-3m11 3l-2-1m28 1l-1-3m3 6l2 2m36 4l3 0m2-4l-3 3 1-1m10-2l-3 2 1 0m23-3l3 1 2-2m37-4l-3 3m-203 19l-3-1-2-1m37 2l1-1 2-1m-1-6l-2 3 0-2m6 7l-1-3m26-1l-1-2m25-5l1-3 1-1m26 9l1 3 2 1m18-5l1 0 0-2m44 3l2 0 2 2m-3 3l-1-3m1 0l2-3-2 2m1 0l-3 3m11-1l1 1 0-2m10 5l3 3-2 0m7-14l-3-3m4 10l1-1m3-6l-3-1 1-1m-214 14l-1 2m4 8l0 2 0 2m6-7l-1 0m87 0l0-2m2 6l-3-2 0 0m18 1l3-2m7-3l-3 0 1 2m2 2l2 0m28-8l3-2 0 0m-2 2l3-1m25 2l1 1m3-2l1 2m11-4l-2 3 1-1m3-1l0 2-2-2m-190 13l3 2m-3 1l-2 3-1 2m7-3l3-3m26 4l0 2-1-1m33-3l3 2m-2-1l-3-2 1-1m14 4l-1 2m-78 6l-3-1 1-1m10 3l-3 2m68 1l-3 2m16-8l2-3m5 8l1-1-2 2m3-7l2 1 1-2m-88 22l-1 3m56-2l0-1-2 1m4-5l-2 0 0-2m7-2l3 3m2-1l2 3m-1 1l2 1-2-2m5-3l3-2m18 6l2-1m1 1l3-2m-94 11l2 3-1 2m2-9l3 3m40-2l2-2m3 10l-2 2m5-3l0-1 0-1m2 4l-1 0m48-7l2-1 1 0m-105 13l0 1m20 2l1 3 2 2m26-7l0-3m87 8l2-2m-129 6l2 1m11 9l2-3-1 1m0-6l0-3 2 0m3 5l3-1 1 2m-4 1l-3-2 1-2m12 5l-2 0 2 0m6-8l3 0m-2 5l3 0m5 2l1-2m94-4l3-1m-127 16l0-2 0-1m1 3l-1 0-2-2m15-1l2 3m0-4l-1-1 1 1m5 1l-3 1m9-2l2 2 0-2m197-364l-1 1m23-6l-3 1m4 2l-2 3m3 1l-3 2-1-1m8 5l1 2 1 2m-24 11l0-1m15-2l-3-1 0 1m47 4l-3 1m8 0l-1-1m-68 13l0 1m65-5l-1 0-1-2m4 5l0-3m6-6l2 0 1-1m-1 11l2-1-1-2m-71 16l-2 0m65-3l2 2 1-2m2 2l-1 1 1 2m3-6l0 2-2 2m4-7l-3-2m-79 11l-2-3-2 1m36 10l1 3m25-3l-3 3m22-12l3 3-2-2m2 5l0-3 0 0m18 6l-2 3 2 2m0-4l-1-2 2-1m-97 16l-1 0 2-1m1 0l-3 0-1-2m11-7l1 1 0-2m16 4l-1 0m53 5l-1-1m19-8l3-2m-101 18l-1-1 2 2m3-1l1 0m1 3l2 1m73-6l1-1 1 1m5 7l1 2m-89 7l1-3 1-2m7 4l0 3m15-4l-1 0m61 2l1 0m1 0l-1 3 0-1m1 1l-3 0-2-1m-81 11l0-3-2 0m5 1l3 3 2-2m-4-1l2-1m34 1l2-2m8 2l2-1 1 1m13-1l1-3m1 4l0-2m6 5l3-1-1-1m-25 10l-1 2-2-1m4-1l-3-1 0 2m19-4l3-1-2-1m-60 25l-2-3m27-2l-1 2 0 1m11-2l0 1 2-2m-35 9l-3-2 0-1m4 0l-3-1 0-1m-1 13l-2-1 2-2m2 10l2 0m0-5l-2 1m35 4l-2-3 2 0m-28 10l3-3m23 4l-1 0-1 0m-35 20l2 1-2-1m5 0l2 0m3-6l-1 3m-78 15l-3-3-2 0m12 2l-2-3 1 1m4 0l-1 1 2 1m29-2l0 2m6-8l-2-3m19 11l-2-3 1-1m20-1l2-1-2 1m14-3l-1-2m8 7l-2-1m21 5l2 0m-129 3l-2 2m4 2l-3 2 0-1m16-2l0-3 1-2m17 2l3 3m3-3l2-2 2-1m45 8l2 1 2 1m5-6l2 1-1-2m35 9l2-2m-136 4l0 2-1 0m1-1l-3-3m12 2l-2-3m7 12l3 1m69-6l1 1-2 1m28 2l-3-3m28-2l-3 2 0-2m3 0l0 3m4 3l-1 0 0-2m-123 15l2 1m6-10l3-3 2-2m6 9l-1 1m9-1l3 2-1 2m60-6l1-1m24 6l1 2 0-2m11-7l1 2 1 2m7 0l-2-1m2 3l2-1 0 2m3 1l-3 1m5-2l1 2m174 0l-3 1m31-6l3-2 1 0m6 2l2-1-2-1m9 4l0-1m-369 9l-3 3 1 1m10-4l1 1 0-2m15 5l0 2 2 1m37 0l0 2m3-4l3 3m2-9l-2 2m46 1l-2 3 2 2m23-8l-1-1m158 10l1-3m23 1l-1-2m46-7l2-2m-2 10l3-1m-2 0l3 1-1-1m-351 7l3 2-2 1m5 4l1 2m30-7l3 3 1 0m2-1l-3-2m13 5l-3-2m8-7l-3-1m26 7l0 1m45 1l1-1m123 1l-3 3m13-3l2-1 0 2m6-1l-3 3m5-4l3-2m17 5l0 1-1-2m7-8l1 3m5-5l1-3m26 10l-1 1 2 2m0-1l1 0-1 1m9-3l-2-1-2 2m6-1l3-3 2 1m-3-4l2 2m1 2l0-2m-274 15l3 0m31 6l3 3m-3-7l1-2m45-1l3 2 1-1m62-2l1 2 1 1m16 4l-1-2m3-1l-2 0m20-3l-3 0 2 2m29-1l3 3m59 0l2 0 1 0m-1-9l3-3-1-1m-344 18l1 1m65 5l-3-2m54 1l1-3 0-2m22 9l-2 1 1-1m21-10l-1-3m4 14l2 0-1-1m12-6l0 1 0 1m5 2l1-2m4-6l3-2m54 2l1-1m89 9l0-1 2 1m-1-4l2-3m-352 19l-3-1 2 0m2 1l1-3m0 5l1 0 2-1m-2-9l0 1m17 2l2-3 0 0m16 8l-3 1 0 2m26-3l-2 2-2-2m18-8l-3 0-2-1m14 12l3 2 1 1m70-7l2 3 2 0m-1-4l-1-2m9-5l1 1 0 1m1 8l3 3m8-13l2-3 0 0m13 11l-1 2m23 0l1 3-1 2m57-9l-2-1 2 0m61-2l3 0m1 9l-1 2-1 0m6-11l-2-2 1 0m-340 18l2-2m147 7l2 1 1 1m44-5l-3-2 2-1m15-4l1 2m19 0l-2 0-2 1m41-3l-2 3m53 4l2-1 0-1m-328 8l1 3m14-2l1 2 0 0m38 2l1 0m7 4l-2-3-2 1m42-7l-1 3m18 5l-3-2m4-3l-3 3-1 0m36-7l1-2m12 8l-3 0 2 1m1-8l0 1-2 1m23 8l2 1 1-1m8-7l3 3 0 0m24 0l0-3m50-1l1 3m18-6l3-2m22 9l0-2-1 1m8 0l1-1m35-2l-1-1m-372 20l0 2 0 2m26-3l0-3 0 1m15-3l-2 0m5 2l1-2m36 2l2 3-1 1m38-8l-1 1m9 5l-1-2 0 0m38 0l2-2 1 1m20 3l-2 3m18-2l0 2-2 2m6-3l1-3-1-1m3 0l-1-1m1 0l1-1m1-6l2 1m5 4l3-1-1 0m0 6l-1-1m7-5l-2 3m2-6l-3 2-1 0m14 0l-2 2 0 0m15-1l-2 1m33-4l-1 0-1 2m11 7l3 2m9-4l1 0-2-1m9 3l0 2-1 0m4-2l2-1-2 1m1-1l-2 1 0-2m19-5l-2-2 1-1m-326 19l-2 3m21 1l2 0 1 2m65-9l3-2 0-1m29 7l3-1 0 0m24 1l0 2 0-2m2 3l-3-1m56-3l2 3 1 1m2-8l0 2m36-2l-3 3m14-6l2 2m8-2l-3 3 1-2m5 7l1 1m9-4l-3 1m7-5l0-3-2 2m3 7l2 0m1 0l0-3m1 3l3 2m3-6l0-2-2-2m22 7l-3 1m20 2l0-1m-337 5l3-3-1 1m0 11l3 1 2 1m-4-10l1 3 2 0m11 6l-3-3 0 0m16-1l2 0-2-1m20-5l-2-1m41 10l3 2m4-7l-3-2m117 1l-3-1-1 2m6-3l2 0 0-2m-2 5l3-3m6 3l-1 0 0-1m-205 11l3 0 1 2m5-1l-3 1 0 0m24 3l0 3-1 1m4 0l0-3 0-2m17 1l1 3m0-9l1-1m39 10l-2-1m35 0l-3 1m11-2l-2-3-2-2m38 7l-1 3m28-14l2-2-1-2m11 16l2 0m-2-10l-2-2m3 5l-2-3 0-2m4 3l0-3m-169 15l3 3-1 1m2-2l-2 3-1 2m8-7l3 0m8 4l-2 3m32-8l2 0-1-2m78 5l1 0m0-3l1-1-2 2m6 1l-2-1 0 2m-123 12l-3-3-2 2m12 0l-3 1-2-2m13 3l3 2m53 0l-1 3m82-6l3-2 1 1m0 3l2-1 2 1m-161 9l-3 1m9-3l-1-3 1-2m58 7l1 2 0 2m16 4l-2 3m67-3l3 0 0 0m-1-12l-2 2 1-1m2 8l3-1 2-1m3-1l-3-3m-158 10l-3-2-1-2m6 6l-1 0m5 0l1-3m2 3l-1 0m102-1l-3 3m21 6l-2 2 0-1m4-1l2 0m3-3l1 1m7-5l0 2 0-2m9 8l-1 0m2-3l-2 0m4-6l-1 3 1 1m-152 11l0-1m8 5l2 0m-2-4l3 2m-2-7l-1-3-2 1m22 1l-1 2m34 5l-1 0m38-5l-3 2-1-2m49 7l-1 1-1-2m16-6l-1 3m-147 14l2-1m0-5l2-2-2 2m7 0l-3-1m3 4l2 2m-1 4l-1 2m46-5l-1 0m58 5l2 2 0-1m1-8l-1 3m27 0l2 2-1 0m1-2l2 0-2 1m-113 11l-1 3m83-4l-3-2m29-3l2-3m10 12l2 2-1-2m-1-1l2 0m-119 10l3 3m38-4l1-1m25-4l-2 2 2 1m23 3l1-2 1-1m20 5l-1-1m6-7l0-3m-118 19l-1-3m20 2l0-3m93 10l1 0 1 0m4-10l3-3 2 0m-111 15l-2-2m6 1l-1-1 2 1m4 3l-3 0 0-1m7 5l-3-2m19-1l1-1m2 2l-3-2 2-2m-11 11l-3 3-2 0m12-3l0-3m12 11l-3 0m6-6l-3-1m49 0l1-3m1 9l2 0-1 2m4 2l2-3-2 0m4 3l3 2m-63-1l-3-1 1-2m3 3l3 3m0 0l-1 1m5-4l1 1m26 7l1 1 2 2m13-11l3 3m-2 1l-2 3m10-3l0 2m2-6l-2 0-1 0m-74 17l1-3m4 6l3-3-2 0m4 1l1 2-1 0m22-3l-2-2 0 1m40 4l1-2 0 1m0-4l2 0m-71 10l-1 1 2-1m-1 2l2-2m-1 6l3-1m20-6l2-1m33 1l3 3-1 2m-54 6l2 1-2 0m1 6l0-1-2 0m5-4l-1 2m9 7l-2-1 0 0m36-2l-3-3m-43 12l2 0 0 2m4 0l0 2-1-1m4-2l-3-3 2 0m2-3l-1 1-2 2m3 3l3 2m-2-8l-1 0 2 0m36 7l-3 3m-73 7l1 3-1 0m9 2l0 2m1-10l2 2m1 1l-3 2 2 0m6 3l-1-1-1 1m2-10l3 3-1-1m1-2l2-1m27 8l3-3m15 5l2 3-2 0m-40 1l-1-2m1 7l-1-3m3 0l0-3m1 10l-1-1 1 0m5-4l-1 2m6-4l0-3m4 6l1 2 0 2m-1-5l3 2 1 1m-3-6l0-2 1-2m10 4l2 1m4 0l2-3-1 2m106-472l-1 1 1 0m-7 3l3 3m9 3l1-2-1 2m1-2l-1 1-1 1m14 1l3 1m-2 7l1-3m-55 12l2 0 2-2m15 4l0-2m33-2l0 2m-40 19l-3 3m18-10l-3-3m9 9l2 2 1 1m0-4l-1-1 1-2m5 8l1 1 0 1m29-13l-2-1m-19 19l-3-3 0 0m21 8l2 3 0 2m-21-2l1-3-2-1m1 5l-1 3m9 3l0-3 1 1m1 2l-2 1m9-10l3 0m2 5l3 2 2 2m-47 13l3-3-1-1m14 1l1 3m32-7l0-1-2-1m34 8l-2 3m7-5l2 2m11-7l2-1m3 10l-3-1-1 2m12-9l0-3-1-1m1 2l0-2m-112 12l-2 3-2-1m23 6l-3 3-1 2m12-5l-2 2 1-1m4 1l1 0m1-3l-2 1m9-6l1 0m24 4l2 3m3-6l-3 0 1 0m12-2l3-3m27 5l-1 2m6 0l2-3-2 2m4-3l1-2-2 0m-112 14l-2-3-2-1m15 12l-1-1m7 2l3-3 0-1m-1 3l-2 3m6-4l0 1m47-5l1-2 2 1m8 4l-2 2-2-2m6-5l2-3 0-2m5 13l0-1-2 2m3-1l0 3m11-10l-2 0m4 4l-3-2m-77 11l-3-2-2 2m67 1l2 3m8-7l0-1m3 1l0-1m-482 170l2 2m11 5l2 0m-2-2l-3-2 1 2m2 1l-2 0-2 1m5 1l3 3 2 1m-2-2l3 2 1 0m4-4l-2 2 0-2m12 1l1 3 1 2m-1-9l3-2m-3 1l2-2m3 2l-3-1m9 3l2-2-1 1m-40 5l-2 0-2-2m10 13l1-2m0-1l2 0 1-2m2 1l-2 2-1-2m6-3l2 2m2 2l3 1m18-4l3 0-2 1m28 3l-2 0m-50 10l3-3m7 4l2-3m10-3l3 2m5 8l3-3m7-7l-1-1m8 2l-3 0m-38 16l-2 0 0 2m4-5l1-3-1 1m22 1l3 2m2-4l-2 0-1 1" fill="none" stroke="#111" stroke-width="1.4" stroke-linecap="round" stroke-linejoin="round"/>
<line x1="104.3" y1="274.6" x2="527" y2="274.6" stroke="#f3f3f3" stroke-width="1"/>
<line x1="104.3" y1="216" x2="527" y2="216" stroke="#f3f3f3" stroke-width="1"/>
<line x1="104.3" y1="157.4" x2="527" y2="157.4" stroke="#f3f3f3" stroke-width="1"/>
<line x1="104.3" y1="98.8" x2="527" y2="98.8" stroke="#f3f3f3" stroke-width="1"/>
<line x1="104.3" y1="40.2" x2="527" y2="40.2" stroke="#f3f3f3" stroke-width="1"/>
<line x1="135.4" y1="8.5" x2="135.4" y2="318" stroke="#ebebeb" stroke-width="1.3"/>
<line x1="161.2" y1="8.5" x2="161.2" y2="318" stroke="#f5f5f5" stroke-width="0.8"/>
<line x1="187" y1="8.5" x2="187" y2="318" stroke="#ebebeb" stroke-width="1.3"/>
<line x1="212.8" y1="8.5" x2="212.8" y2="318" stroke="#f5f5f5" stroke-width="0.8"/>
<line x1="238.6" y1="8.5" x2="238.6" y2="318" stroke="#ebebeb" stroke-width="1.3"/>
<line x1="264.4" y1="8.5" x2="264.4" y2="318" stroke="#f5f5f5" stroke-width="0.8"/>
<line x1="290.2" y1="8.5" x2="290.2" y2="318" stroke="#ebebeb" stroke-width="1.3"/>
<line x1="316" y1="8.5" x2="316" y2="318" stroke="#f5f5f5" stroke-width="0.8"/>
<line x1="341.8" y1="8.5" x2="341.8" y2="318" stroke="#ebebeb" stroke-width="1.3"/>
<line x1="367.6" y1="8.5" x2="367.6" y2="318" stroke="#f5f5f5" stroke-width="0.8"/>
<line x1="393.4" y1="8.5" x2="393.4" y2="318" stroke="#ebebeb" stroke-width="1.3"/>
<line x1="419.2" y1="8.5" x2="419.2" y2="318" stroke="#f5f5f5" stroke-width="0.8"/>
<line x1="445" y1="8.5" x2="445" y2="318" stroke="#ebebeb" stroke-width="1.3"/>
<line x1="470.8" y1="8.5" x2="470.8" y2="318" stroke="#f5f5f5" stroke-width="0.8"/>
<line x1="496.6" y1="8.5" x2="496.6" y2="318" stroke="#ebebeb" stroke-width="1.3"/>
<line x1="104.3" y1="303.9" x2="527" y2="303.9" stroke="#ebebeb" stroke-width="1.4"/>
<line x1="101" y1="303.9" x2="104.3" y2="303.9" stroke="#333" stroke-width="1.2"/>
<text x="96" y="310.3" font-size="18" text-anchor="end" fill="#1a1a1a">0</text>
<line x1="104.3" y1="245.3" x2="527" y2="245.3" stroke="#ebebeb" stroke-width="1.4"/>
<line x1="101" y1="245.3" x2="104.3" y2="245.3" stroke="#333" stroke-width="1.2"/>
<text x="96" y="251.7" font-size="18" text-anchor="end" fill="#1a1a1a">5</text>
<line x1="104.3" y1="186.7" x2="527" y2="186.7" stroke="#ebebeb" stroke-width="1.4"/>
<line x1="101" y1="186.7" x2="104.3" y2="186.7" stroke="#333" stroke-width="1.2"/>
<text x="96" y="193.1" font-size="18" text-anchor="end" fill="#1a1a1a">10</text>
<line x1="104.3" y1="128.1" x2="527" y2="128.1" stroke="#ebebeb" stroke-width="1.4"/>
<line x1="101" y1="128.1" x2="104.3" y2="128.1" stroke="#333" stroke-width="1.2"/>
<text x="96" y="134.5" font-size="18" text-anchor="end" fill="#1a1a1a">15</text>
<line x1="104.3" y1="69.5" x2="527" y2="69.5" stroke="#ebebeb" stroke-width="1.4"/>
<line x1="101" y1="69.5" x2="104.3" y2="69.5" stroke="#333" stroke-width="1.2"/>
<text x="96" y="75.9" font-size="18" text-anchor="end" fill="#1a1a1a">20</text>
<line x1="104.3" y1="10.9" x2="527" y2="10.9" stroke="#ebebeb" stroke-width="1.4"/>
<line x1="101" y1="10.9" x2="104.3" y2="10.9" stroke="#333" stroke-width="1.2"/>
<text x="96" y="17.3" font-size="18" text-anchor="end" fill="#1a1a1a">25</text>
<rect x="112.2" y="139.8" width="46.3" height="164.1" fill="#6a4c98"/>
<text x="135.4" y="168.4" font-size="20" text-anchor="middle" fill="#ffffff">14</text>
<line x1="135.4" y1="318" x2="135.4" y2="321.5" stroke="#333" stroke-width="1.2"/>
<text x="148.9" y="341.5" font-size="18" text-anchor="end" fill="#1a1a1a" transform="rotate(-30 148.9 341.5)">d005</text>
<rect x="163.8" y="128.1" width="46.3" height="175.8" fill="#4a6cae"/>
<text x="187" y="156.7" font-size="20" text-anchor="middle" fill="#ffffff">15</text>
<line x1="187" y1="318" x2="187" y2="321.5" stroke="#333" stroke-width="1.2"/>
<text x="200.5" y="341.5" font-size="18" text-anchor="end" fill="#1a1a1a" transform="rotate(-30 200.5 341.5)">d011</text>
<rect x="215.5" y="186.7" width="46.3" height="117.2" fill="#468cc8"/>
<text x="238.6" y="215.3" font-size="20" text-anchor="middle" fill="#ffffff">10</text>
<line x1="238.6" y1="318" x2="238.6" y2="321.5" stroke="#333" stroke-width="1.2"/>
<text x="252.1" y="341.5" font-size="18" text-anchor="end" fill="#1a1a1a" transform="rotate(-30 252.1 341.5)">d014</text>
<rect x="267.1" y="22.6" width="46.3" height="281.3" fill="#62b07e"/>
<text x="290.2" y="51.2" font-size="20" text-anchor="middle" fill="#ffffff">24</text>
<line x1="290.2" y1="318" x2="290.2" y2="321.5" stroke="#333" stroke-width="1.2"/>
<text x="303.7" y="341.5" font-size="18" text-anchor="end" fill="#1a1a1a" transform="rotate(-30 303.7 341.5)">d020</text>
<rect x="318.7" y="163.3" width="46.3" height="140.6" fill="#92d548"/>
<text x="341.8" y="191.9" font-size="20" text-anchor="middle" fill="#ffffff">12</text>
<line x1="341.8" y1="318" x2="341.8" y2="321.5" stroke="#333" stroke-width="1.2"/>
<text x="355.3" y="341.5" font-size="18" text-anchor="end" fill="#1a1a1a" transform="rotate(-30 355.3 341.5)">d030</text>
<rect x="370.2" y="175" width="46.3" height="128.9" fill="#e8c845"/>
<text x="393.4" y="203.6" font-size="20" text-anchor="middle" fill="#ffffff">11</text>
<line x1="393.4" y1="318" x2="393.4" y2="321.5" stroke="#333" stroke-width="1.2"/>
<text x="406.9" y="341.5" font-size="18" text-anchor="end" fill="#1a1a1a" transform="rotate(-30 406.9 341.5)">d060</text>
<rect x="421.9" y="233.6" width="46.3" height="70.3" fill="#e8894c"/>
<text x="445" y="262.2" font-size="20" text-anchor="middle" fill="#ffffff">6</text>
<line x1="445" y1="318" x2="445" y2="321.5" stroke="#333" stroke-width="1.2"/>
<text x="458.5" y="341.5" font-size="18" text-anchor="end" fill="#1a1a1a" transform="rotate(-30 458.5 341.5)">d090</text>
<rect x="473.5" y="198.4" width="46.3" height="105.5" fill="#e8545f"/>
<text x="496.6" y="227" font-size="20" text-anchor="middle" fill="#ffffff">9</text>
<line x1="496.6" y1="318" x2="496.6" y2="321.5" stroke="#333" stroke-width="1.2"/>
<text x="510.1" y="341.5" font-size="18" text-anchor="end" fill="#1a1a1a" transform="rotate(-30 510.1 341.5)">d120</text>
<line x1="104.3" y1="8.5" x2="104.3" y2="318.6" stroke="#333" stroke-width="1.3"/>
<line x1="103.7" y1="318" x2="527" y2="318" stroke="#333" stroke-width="1.3"/>
<text x="63.3" y="152.6" font-size="22" text-anchor="middle" fill="#1a1a1a" transform="rotate(-90 63.3 152.6)">Percentage</text>
<rect x="1217.3" y="21.1" width="409.7" height="343.7" fill="#ffffff" stroke="none"/>
<line x1="1217.3" y1="363.6" x2="1627.0" y2="363.6" stroke="#e6e6e6" stroke-width="1.4"/>
<line x1="1213.7" y1="363.6" x2="1217.3" y2="363.6" stroke="#888" stroke-width="1.1"/>
<text x="1208" y="370.3" font-size="18.7" text-anchor="end" fill="#1a1a1a">0</text>
<line x1="1217.3" y1="296.7" x2="1627.0" y2="296.7" stroke="#e6e6e6" stroke-width="1.4"/>
<line x1="1213.7" y1="296.7" x2="1217.3" y2="296.7" stroke="#888" stroke-width="1.1"/>
<text x="1208" y="303.4" font-size="18.7" text-anchor="end" fill="#1a1a1a">2000</text>
<line x1="1217.3" y1="229.8" x2="1627.0" y2="229.8" stroke="#e6e6e6" stroke-width="1.4"/>
<line x1="1213.7" y1="229.8" x2="1217.3" y2="229.8" stroke="#888" stroke-width="1.1"/>
<text x="1208" y="236.5" font-size="18.7" text-anchor="end" fill="#1a1a1a">4000</text>
<line x1="1217.3" y1="162.8" x2="1627.0" y2="162.8" stroke="#e6e6e6" stroke-width="1.4"/>
<line x1="1213.7" y1="162.8" x2="1217.3" y2="162.8" stroke="#888" stroke-width="1.1"/>
<text x="1208" y="169.5" font-size="18.7" text-anchor="end" fill="#1a1a1a">6000</text>
<line x1="1217.3" y1="95.9" x2="1627.0" y2="95.9" stroke="#e6e6e6" stroke-width="1.4"/>
<line x1="1213.7" y1="95.9" x2="1217.3" y2="95.9" stroke="#888" stroke-width="1.1"/>
<text x="1208" y="102.6" font-size="18.7" text-anchor="end" fill="#1a1a1a">8000</text>
<line x1="1217.3" y1="29" x2="1627.0" y2="29" stroke="#e6e6e6" stroke-width="1.4"/>
<line x1="1213.7" y1="29" x2="1217.3" y2="29" stroke="#888" stroke-width="1.1"/>
<text x="1208" y="35.7" font-size="18.7" text-anchor="end" fill="#1a1a1a">10000</text>
<path d="M1242.4,157.1 C1242.6,158.7 1242.8,163.2 1243.8,166.9 C1244.8,170.5 1246.6,174.8 1248.6,179.2 C1250.6,183.7 1253.6,188.7 1255.7,193.4 C1257.7,198.1 1259.7,203.1 1261,207.5 C1262.2,212 1262.9,216.4 1263.3,219.9 C1263.7,223.5 1263.6,225.5 1263.3,228.8 C1263,232 1262.5,235.9 1261.5,239.4 C1260.5,242.9 1259,245.9 1257.4,250 C1255.9,254.1 1253.6,260 1252.1,264.2 C1250.7,268.3 1249.4,271.2 1248.6,274.8 C1247.8,278.3 1247.5,281.9 1247.4,285.4 C1247.2,288.9 1247.6,291.9 1247.7,296 C1247.8,300.1 1247.9,306 1247.7,310.2 C1247.5,314.3 1246.6,317.5 1246.3,320.8 C1245.9,324 1245.9,327 1245.6,329.6 C1245.3,332.3 1245.1,335.4 1244.5,336.7 C1244,338 1242.8,337.4 1242.4,337.6 L1242.4,337.6 C1242,337.4 1240.8,338 1240.3,336.7 C1239.7,335.4 1239.5,332.3 1239.2,329.6 C1238.9,327 1238.9,324 1238.5,320.8 C1238.2,317.5 1237.3,314.3 1237.1,310.2 C1236.9,306 1237,300.1 1237.1,296 C1237.2,291.9 1237.6,288.9 1237.4,285.4 C1237.3,281.9 1237,278.3 1236.2,274.8 C1235.4,271.2 1234.1,268.3 1232.7,264.2 C1231.2,260 1228.9,254.1 1227.4,250 C1225.8,245.9 1224.3,242.9 1223.3,239.4 C1222.3,235.9 1221.8,232 1221.5,228.8 C1221.2,225.5 1221.1,223.5 1221.5,219.9 C1221.9,216.4 1222.6,212 1223.8,207.5 C1225.1,203.1 1227.1,198.1 1229.1,193.4 C1231.2,188.7 1234.2,183.7 1236.2,179.2 C1238.2,174.8 1240,170.5 1241,166.9 C1242,163.2 1242.2,158.7 1242.4,157.1Z" fill="#6a4c98" stroke="#3a3a3a" stroke-width="1.1"/><line x1="1242.4" y1="157.1" x2="1242.4" y2="337.6" stroke="#3a3a3a" stroke-width="1.6"/><rect x="1240.1" y="212" width="4.6" height="49.5" fill="#3a3a3a" rx="0.8"/><rect x="1240.4" y="234.4" width="4" height="1.2" fill="#ffffff"/>
<path d="M1294.1,197.8 C1294.5,199.4 1295.7,203.3 1296.8,207.5 C1297.8,211.8 1298.7,217.9 1300.3,223.5 C1301.9,229.1 1304.7,235.3 1306.5,241.2 C1308.3,247.1 1309.9,253 1310.9,258.9 C1311.9,264.8 1312.2,270.6 1312.7,276.5 C1313.1,282.4 1313.4,288.3 1313.6,294.2 C1313.8,300.1 1314.1,306 1313.9,311.9 C1313.8,317.8 1312.7,325.5 1312.7,329.6 C1312.6,333.8 1313.7,334.3 1313.6,336.7 C1313.4,339.1 1312.7,342 1311.8,343.8 C1310.9,345.5 1309.4,346.4 1308.3,347.3 C1307.1,348.3 1307.1,349 1304.7,349.4 C1302.4,349.9 1295.9,349.9 1294.1,350 L1294.1,350 C1292.3,349.9 1285.8,349.9 1283.5,349.4 C1281.1,349 1281.1,348.3 1279.9,347.3 C1278.8,346.4 1277.3,345.5 1276.4,343.8 C1275.5,342 1274.8,339.1 1274.6,336.7 C1274.5,334.3 1275.6,333.8 1275.5,329.6 C1275.5,325.5 1274.4,317.8 1274.3,311.9 C1274.1,306 1274.4,300.1 1274.6,294.2 C1274.8,288.3 1275.1,282.4 1275.5,276.5 C1276,270.6 1276.3,264.8 1277.3,258.9 C1278.3,253 1279.9,247.1 1281.7,241.2 C1283.5,235.3 1286.3,229.1 1287.9,223.5 C1289.5,217.9 1290.4,211.8 1291.4,207.5 C1292.5,203.3 1293.7,199.4 1294.1,197.8Z" fill="#4a6cae" stroke="#3a3a3a" stroke-width="1.1"/><line x1="1294.1" y1="197.8" x2="1294.1" y2="350" stroke="#3a3a3a" stroke-width="1.6"/><rect x="1291.8" y="258.9" width="4.6" height="63.7" fill="#3a3a3a" rx="0.8"/><rect x="1292.1" y="291.9" width="4" height="1.2" fill="#ffffff"/>
<path d="M1345,99.3 C1345.4,100.8 1346.3,104 1347.7,108.5 C1349,112.9 1351.5,120.3 1353,126.2 C1354.4,132.1 1355.5,138 1356.5,143.8 C1357.5,149.7 1358.6,156.2 1359.2,161.5 C1359.7,166.9 1360,171.3 1360,175.7 C1360,180.1 1359.7,183.1 1359.2,188.1 C1358.6,193.1 1357.4,199.9 1356.5,205.8 C1355.6,211.7 1354.5,217.6 1353.8,223.5 C1353.2,229.4 1352.7,235.3 1352.4,241.2 C1352.1,247.1 1352.1,253 1352.1,258.9 C1352.1,264.8 1352,270.6 1352.4,276.5 C1352.9,282.4 1353.6,289.2 1354.7,294.2 C1355.9,299.3 1357.7,302.8 1359.2,306.6 C1360.6,310.5 1362.5,314 1363.6,317.2 C1364.7,320.5 1365.5,323.1 1365.9,326.1 C1366.3,329 1366.3,332.3 1365.9,334.9 C1365.5,337.6 1364.6,339.9 1363.6,342 C1362.6,344.1 1360.9,346 1360,347.3 C1359.2,348.6 1360.8,349.5 1358.3,350 C1355.8,350.4 1347.2,350 1345,350 L1345,350 C1342.8,350 1334.2,350.4 1331.7,350 C1329.2,349.5 1330.8,348.6 1330,347.3 C1329.1,346 1327.4,344.1 1326.4,342 C1325.4,339.9 1324.5,337.6 1324.1,334.9 C1323.7,332.3 1323.7,329 1324.1,326.1 C1324.5,323.1 1325.3,320.5 1326.4,317.2 C1327.5,314 1329.4,310.5 1330.8,306.6 C1332.3,302.8 1334.1,299.3 1335.3,294.2 C1336.4,289.2 1337.1,282.4 1337.6,276.5 C1338,270.6 1337.9,264.8 1337.9,258.9 C1337.9,253 1337.9,247.1 1337.6,241.2 C1337.3,235.3 1336.8,229.4 1336.2,223.5 C1335.5,217.6 1334.4,211.7 1333.5,205.8 C1332.6,199.9 1331.4,193.1 1330.8,188.1 C1330.3,183.1 1330,180.1 1330,175.7 C1330,171.3 1330.3,166.9 1330.8,161.5 C1331.4,156.2 1332.5,149.7 1333.5,143.8 C1334.5,138 1335.6,132.1 1337,126.2 C1338.5,120.3 1341,112.9 1342.3,108.5 C1343.7,104 1344.6,100.8 1345,99.3Z" fill="#468cc8" stroke="#3a3a3a" stroke-width="1.1"/><line x1="1345" y1="99.3" x2="1345" y2="350" stroke="#3a3a3a" stroke-width="1.6"/><rect x="1342.7" y="175.7" width="4.6" height="146.9" fill="#3a3a3a" rx="0.8"/><rect x="1343" y="239.3" width="4" height="1.2" fill="#ffffff"/>
<path d="M1396.4,189.5 C1396.6,190.7 1396.6,192.7 1397.5,196.9 C1398.3,201.1 1400,208.7 1401.7,214.6 C1403.4,220.5 1405.8,226.4 1407.9,232.3 C1410,238.2 1412.5,244.7 1414.1,250 C1415.7,255.3 1416.7,260.6 1417.3,264.2 C1417.8,267.7 1417.7,268.6 1417.3,271.2 C1416.9,273.9 1416.1,276.8 1415,280.1 C1413.9,283.3 1412.3,286.9 1410.6,290.7 C1408.8,294.5 1406.1,299.3 1404.4,303.1 C1402.6,306.9 1401,310.2 1399.9,313.7 C1398.8,317.2 1398.4,321.3 1397.8,324.3 C1397.2,327.3 1396.6,330.5 1396.4,331.7 L1396.4,331.7 C1396.2,330.5 1395.6,327.3 1395,324.3 C1394.4,321.3 1394,317.2 1392.9,313.7 C1391.8,310.2 1390.2,306.9 1388.4,303.1 C1386.7,299.3 1384,294.5 1382.2,290.7 C1380.5,286.9 1378.9,283.3 1377.8,280.1 C1376.7,276.8 1375.9,273.9 1375.5,271.2 C1375.1,268.6 1375,267.7 1375.5,264.2 C1376.1,260.6 1377.1,255.3 1378.7,250 C1380.3,244.7 1382.8,238.2 1384.9,232.3 C1387,226.4 1389.4,220.5 1391.1,214.6 C1392.8,208.7 1394.5,201.1 1395.3,196.9 C1396.2,192.7 1396.2,190.7 1396.4,189.5Z" fill="#62b07e" stroke="#3a3a3a" stroke-width="1.1"/><line x1="1396.4" y1="189.5" x2="1396.4" y2="331.7" stroke="#3a3a3a" stroke-width="1.6"/><rect x="1394.1" y="245.1" width="4.6" height="36.8" fill="#3a3a3a" rx="0.8"/><rect x="1394.4" y="264.4" width="4" height="1.2" fill="#ffffff"/>
<path d="M1447.4,71.7 C1447.5,74.3 1447.5,82.6 1447.9,87.2 C1448.4,91.9 1449.3,94.6 1450.1,99.6 C1450.9,104.6 1451.4,111.4 1452.7,117.3 C1454,123.2 1456.1,129.1 1458,135 C1459.9,140.9 1462.6,146.8 1464.2,152.7 C1465.8,158.6 1467.2,165.4 1467.7,170.4 C1468.3,175.4 1468.2,178.4 1467.7,182.8 C1467.3,187.2 1466.4,192.2 1465.1,196.9 C1463.8,201.6 1461.3,205.8 1459.8,211.1 C1458.3,216.4 1457,222.3 1456.2,228.8 C1455.5,235.3 1455.4,243.5 1455.4,250 C1455.4,256.5 1455.8,261.8 1456.2,267.7 C1456.7,273.6 1457.3,279.5 1458,285.4 C1458.8,291.3 1459.6,297.2 1460.7,303.1 C1461.7,309 1463.6,315.7 1464.2,320.8 C1464.8,325.9 1464.5,330 1464.2,333.5 C1463.9,337.1 1463.3,339.3 1462.4,342 C1461.6,344.8 1461.4,348.6 1458.9,350 C1456.4,351.3 1449.3,350 1447.4,350 L1447.4,350 C1445.5,350 1438.4,351.3 1435.9,350 C1433.4,348.6 1433.2,344.8 1432.4,342 C1431.5,339.3 1430.9,337.1 1430.6,333.5 C1430.3,330 1430,325.9 1430.6,320.8 C1431.2,315.7 1433.1,309 1434.1,303.1 C1435.2,297.2 1436,291.3 1436.8,285.4 C1437.5,279.5 1438.1,273.6 1438.6,267.7 C1439,261.8 1439.4,256.5 1439.4,250 C1439.4,243.5 1439.3,235.3 1438.6,228.8 C1437.8,222.3 1436.5,216.4 1435,211.1 C1433.5,205.8 1431,201.6 1429.7,196.9 C1428.4,192.2 1427.5,187.2 1427.1,182.8 C1426.6,178.4 1426.5,175.4 1427.1,170.4 C1427.6,165.4 1429,158.6 1430.6,152.7 C1432.2,146.8 1434.9,140.9 1436.8,135 C1438.7,129.1 1440.8,123.2 1442.1,117.3 C1443.4,111.4 1443.9,104.6 1444.7,99.6 C1445.5,94.6 1446.4,91.9 1446.9,87.2 C1447.3,82.6 1447.3,74.3 1447.4,71.7Z" fill="#92d548" stroke="#3a3a3a" stroke-width="1.1"/><line x1="1447.4" y1="71.7" x2="1447.4" y2="350" stroke="#3a3a3a" stroke-width="1.6"/><rect x="1445.1" y="172.2" width="4.6" height="132.7" fill="#3a3a3a" rx="0.8"/><rect x="1445.4" y="216.7" width="4" height="1.2" fill="#ffffff"/>
<path d="M1499.1,82.8 C1499.2,85 1499.4,91.8 1500,96.1 C1500.6,100.4 1501.5,103.5 1502.6,108.5 C1503.8,113.5 1505.4,120.3 1507.1,126.2 C1508.7,132.1 1510.7,138 1512.4,143.8 C1514,149.7 1515.6,155.6 1516.8,161.5 C1518,167.4 1519.1,173.3 1519.4,179.2 C1519.8,185.1 1519.5,191 1518.9,196.9 C1518.3,202.8 1517,208.7 1515.9,214.6 C1514.8,220.5 1513.4,226.4 1512.4,232.3 C1511.3,238.2 1510.4,244.1 1509.7,250 C1509,255.9 1508.4,261.8 1508.3,267.7 C1508.2,273.6 1508.3,279.5 1508.8,285.4 C1509.4,291.3 1510.2,297.2 1511.5,303.1 C1512.8,309 1515.8,315.7 1516.8,320.8 C1517.8,325.9 1518,330 1517.7,333.5 C1517.4,337.1 1516.2,339.3 1515,342 C1513.8,344.8 1513.3,348.6 1510.6,350 C1507.9,351.3 1501,350 1499.1,350 L1499.1,350 C1497.2,350 1490.3,351.3 1487.6,350 C1484.9,348.6 1484.4,344.8 1483.2,342 C1482,339.3 1480.8,337.1 1480.5,333.5 C1480.2,330 1480.4,325.9 1481.4,320.8 C1482.4,315.7 1485.4,309 1486.7,303.1 C1488,297.2 1488.8,291.3 1489.4,285.4 C1489.9,279.5 1490,273.6 1489.9,267.7 C1489.8,261.8 1489.2,255.9 1488.5,250 C1487.8,244.1 1486.9,238.2 1485.8,232.3 C1484.8,226.4 1483.4,220.5 1482.3,214.6 C1481.2,208.7 1479.9,202.8 1479.3,196.9 C1478.7,191 1478.4,185.1 1478.8,179.2 C1479.1,173.3 1480.2,167.4 1481.4,161.5 C1482.6,155.6 1484.2,149.7 1485.8,143.8 C1487.5,138 1489.5,132.1 1491.1,126.2 C1492.8,120.3 1494.4,113.5 1495.6,108.5 C1496.7,103.5 1497.6,100.4 1498.2,96.1 C1498.8,91.8 1499,85 1499.1,82.8Z" fill="#e8c845" stroke="#3a3a3a" stroke-width="1.1"/><line x1="1499.1" y1="82.8" x2="1499.1" y2="350" stroke="#3a3a3a" stroke-width="1.6"/><rect x="1496.8" y="174.8" width="4.6" height="130" fill="#3a3a3a" rx="0.8"/><rect x="1497.1" y="223.2" width="4" height="1.2" fill="#ffffff"/>
<path d="M1550,36.8 C1550.1,39.3 1550.3,47.3 1550.9,51.8 C1551.5,56.4 1552.2,57.7 1553.5,64.2 C1554.9,70.7 1556.9,81.9 1558.8,90.8 C1560.8,99.6 1563.1,108.5 1565,117.3 C1567,126.2 1569.4,136.5 1570.3,143.8 C1571.3,151.2 1571,155.6 1570.7,161.5 C1570.4,167.4 1569.4,173.3 1568.6,179.2 C1567.7,185.1 1566.5,191 1565.6,196.9 C1564.7,202.8 1563.9,208.7 1563.3,214.6 C1562.6,220.5 1561.9,226.4 1561.5,232.3 C1561.1,238.2 1560.8,244.1 1560.6,250 C1560.5,255.9 1560.3,261.8 1560.6,267.7 C1560.9,273.6 1561.6,279.5 1562.4,285.4 C1563.1,291.3 1564.2,297.2 1565,303.1 C1565.9,309 1567.2,315.7 1567.7,320.8 C1568.2,325.9 1568.3,330 1568,333.5 C1567.8,337.1 1566.7,339.3 1565.9,342 C1565.1,344.8 1565.9,348.6 1563.3,350 C1560.6,351.3 1552.2,350 1550,350 L1550,350 C1547.8,350 1539.4,351.3 1536.7,350 C1534.1,348.6 1534.9,344.8 1534.1,342 C1533.3,339.3 1532.2,337.1 1532,333.5 C1531.7,330 1531.8,325.9 1532.3,320.8 C1532.8,315.7 1534.1,309 1535,303.1 C1535.8,297.2 1536.9,291.3 1537.6,285.4 C1538.4,279.5 1539.1,273.6 1539.4,267.7 C1539.7,261.8 1539.5,255.9 1539.4,250 C1539.2,244.1 1538.9,238.2 1538.5,232.3 C1538.1,226.4 1537.4,220.5 1536.7,214.6 C1536.1,208.7 1535.3,202.8 1534.4,196.9 C1533.5,191 1532.3,185.1 1531.4,179.2 C1530.6,173.3 1529.6,167.4 1529.3,161.5 C1529,155.6 1528.7,151.2 1529.7,143.8 C1530.6,136.5 1533,126.2 1535,117.3 C1536.9,108.5 1539.2,99.6 1541.2,90.8 C1543.1,81.9 1545.1,70.7 1546.5,64.2 C1547.8,57.7 1548.5,56.4 1549.1,51.8 C1549.7,47.3 1549.9,39.3 1550,36.8Z" fill="#e8894c" stroke="#3a3a3a" stroke-width="1.1"/><line x1="1550" y1="36.8" x2="1550" y2="350" stroke="#3a3a3a" stroke-width="1.6"/><rect x="1547.7" y="149.2" width="4.6" height="151.3" fill="#3a3a3a" rx="0.8"/><rect x="1548" y="206.1" width="4" height="1.2" fill="#ffffff"/>
<path d="M1601.4,73.4 C1601.5,76.3 1601.4,84.9 1602.3,90.8 C1603.2,96.6 1605.4,102.6 1606.7,108.5 C1608,114.4 1609.2,120.3 1610.2,126.2 C1611.3,132.1 1612,138 1612.9,143.8 C1613.8,149.7 1614.5,155.6 1615.6,161.5 C1616.6,167.4 1618.1,173.3 1619.1,179.2 C1620.1,185.1 1621.2,192.2 1621.7,196.9 C1622.3,201.6 1622.4,204 1622.3,207.5 C1622.1,211.1 1621.7,214 1620.9,218.2 C1620,222.3 1618.7,227 1617.3,232.3 C1616,237.6 1614.2,244.1 1612.9,250 C1611.6,255.9 1610.2,261.8 1609.4,267.7 C1608.6,273.6 1608.3,279.5 1608.1,285.4 C1607.9,291.3 1607.9,297.2 1608.1,303.1 C1608.3,309 1609.2,315.7 1609.4,320.8 C1609.6,325.9 1609.7,330 1609.4,333.5 C1609.1,337.1 1608.2,339.3 1607.6,342 C1607,344.8 1606.9,348.6 1605.8,350 C1604.8,351.3 1602.1,350 1601.4,350 L1601.4,350 C1600.7,350 1598,351.3 1597,350 C1595.9,348.6 1595.8,344.8 1595.2,342 C1594.6,339.3 1593.7,337.1 1593.4,333.5 C1593.1,330 1593.2,325.9 1593.4,320.8 C1593.6,315.7 1594.5,309 1594.7,303.1 C1594.9,297.2 1594.9,291.3 1594.7,285.4 C1594.5,279.5 1594.2,273.6 1593.4,267.7 C1592.6,261.8 1591.2,255.9 1589.9,250 C1588.6,244.1 1586.8,237.6 1585.5,232.3 C1584.1,227 1582.8,222.3 1581.9,218.2 C1581.1,214 1580.7,211.1 1580.5,207.5 C1580.4,204 1580.5,201.6 1581.1,196.9 C1581.6,192.2 1582.7,185.1 1583.7,179.2 C1584.7,173.3 1586.2,167.4 1587.2,161.5 C1588.3,155.6 1589,149.7 1589.9,143.8 C1590.8,138 1591.5,132.1 1592.6,126.2 C1593.6,120.3 1594.8,114.4 1596.1,108.5 C1597.4,102.6 1599.6,96.6 1600.5,90.8 C1601.4,84.9 1601.3,76.3 1601.4,73.4Z" fill="#e8545f" stroke="#3a3a3a" stroke-width="1.1"/><line x1="1601.4" y1="73.4" x2="1601.4" y2="350" stroke="#3a3a3a" stroke-width="1.6"/><rect x="1599.1" y="177.1" width="4.6" height="82.6" fill="#3a3a3a" rx="0.8"/><rect x="1599.4" y="214" width="4" height="1.2" fill="#ffffff"/>
<rect x="1217.3" y="21.1" width="409.7" height="343.7" fill="none" stroke="#8a8a8a" stroke-width="1.3"/>
<text x="1149.5" y="178" font-size="22" text-anchor="middle" fill="#1a1a1a" transform="rotate(-90 1149.5 178)">Number of genes</text>
<rect x="1754.1" y="21.2" width="409.5" height="343.8" fill="#ffffff" stroke="none"/>
<line x1="1754.1" y1="352.6" x2="2163.6" y2="352.6" stroke="#e6e6e6" stroke-width="1.4"/>
<line x1="1750.5" y1="352.6" x2="1754.1" y2="352.6" stroke="#888" stroke-width="1.1"/>
<text x="1745" y="359.3" font-size="18.7" text-anchor="end" fill="#1a1a1a">0</text>
<line x1="1754.1" y1="294" x2="2163.6" y2="294" stroke="#e6e6e6" stroke-width="1.4"/>
<line x1="1750.5" y1="294" x2="1754.1" y2="294" stroke="#888" stroke-width="1.1"/>
<text x="1745" y="300.7" font-size="18.7" text-anchor="end" fill="#1a1a1a">10000</text>
<line x1="1754.1" y1="235.5" x2="2163.6" y2="235.5" stroke="#e6e6e6" stroke-width="1.4"/>
<line x1="1750.5" y1="235.5" x2="1754.1" y2="235.5" stroke="#888" stroke-width="1.1"/>
<text x="1745" y="242.2" font-size="18.7" text-anchor="end" fill="#1a1a1a">20000</text>
<line x1="1754.1" y1="176.9" x2="2163.6" y2="176.9" stroke="#e6e6e6" stroke-width="1.4"/>
<line x1="1750.5" y1="176.9" x2="1754.1" y2="176.9" stroke="#888" stroke-width="1.1"/>
<text x="1745" y="183.6" font-size="18.7" text-anchor="end" fill="#1a1a1a">30000</text>
<line x1="1754.1" y1="118.3" x2="2163.6" y2="118.3" stroke="#e6e6e6" stroke-width="1.4"/>
<line x1="1750.5" y1="118.3" x2="1754.1" y2="118.3" stroke="#888" stroke-width="1.1"/>
<text x="1745" y="125" font-size="18.7" text-anchor="end" fill="#1a1a1a">40000</text>
<line x1="1754.1" y1="59.8" x2="2163.6" y2="59.8" stroke="#e6e6e6" stroke-width="1.4"/>
<line x1="1750.5" y1="59.8" x2="1754.1" y2="59.8" stroke="#888" stroke-width="1.1"/>
<text x="1745" y="66.5" font-size="18.7" text-anchor="end" fill="#1a1a1a">50000</text>
<path d="M1779.2,239.4 C1779.6,241.2 1780.5,245.3 1781.9,250 C1783.2,254.7 1785.2,262.4 1787.2,267.7 C1789.1,273 1791.4,277.7 1793.4,281.9 C1795.3,286 1797.5,289.5 1798.7,292.5 C1799.8,295.4 1800.2,297.2 1800.1,299.5 C1799.9,301.9 1799.2,303.7 1797.8,306.6 C1796.4,309.6 1793.4,314.3 1791.6,317.2 C1789.8,320.2 1788.1,322 1787.2,324.3 C1786.2,326.7 1786.1,329 1785.9,331.4 C1785.7,333.8 1786.5,336.1 1785.9,338.5 C1785.4,340.8 1783.9,343.9 1782.7,345.5 C1781.6,347.2 1779.8,347.8 1779.2,348.2 L1779.2,348.2 C1778.6,347.8 1776.8,347.2 1775.7,345.5 C1774.5,343.9 1773,340.8 1772.5,338.5 C1771.9,336.1 1772.7,333.8 1772.5,331.4 C1772.3,329 1772.2,326.7 1771.2,324.3 C1770.3,322 1768.6,320.2 1766.8,317.2 C1765,314.3 1762,309.6 1760.6,306.6 C1759.2,303.7 1758.5,301.9 1758.3,299.5 C1758.2,297.2 1758.6,295.4 1759.7,292.5 C1760.9,289.5 1763.1,286 1765,281.9 C1767,277.7 1769.3,273 1771.2,267.7 C1773.2,262.4 1775.2,254.7 1776.5,250 C1777.9,245.3 1778.8,241.2 1779.2,239.4Z" fill="#6a4c98" stroke="#3a3a3a" stroke-width="1.1"/><line x1="1779.2" y1="239.4" x2="1779.2" y2="348.2" stroke="#3a3a3a" stroke-width="1.6"/><rect x="1776.9" y="281" width="4.6" height="32.7" fill="#3a3a3a" rx="0.8"/><rect x="1777.2" y="296.3" width="4" height="1.2" fill="#ffffff"/>
<path d="M1830.5,257.1 C1830.9,258.9 1831.4,263 1832.6,267.7 C1833.8,272.4 1835.9,279.5 1837.6,285.4 C1839.3,291.3 1841.7,297.8 1842.9,303.1 C1844.1,308.4 1844.4,312.8 1844.7,317.2 C1844.9,321.7 1844.2,326.1 1844.7,329.6 C1845.1,333.2 1846.3,336.1 1847.3,338.5 C1848.3,340.8 1850.4,342.3 1850.8,343.8 C1851.3,345.3 1851,346.4 1850,347.3 C1848.9,348.3 1847.9,349.1 1844.7,349.4 C1841.4,349.8 1832.9,349.4 1830.5,349.4 L1830.5,349.4 C1828.1,349.4 1819.6,349.8 1816.3,349.4 C1813.1,349.1 1812.1,348.3 1811,347.3 C1810,346.4 1809.7,345.3 1810.2,343.8 C1810.6,342.3 1812.7,340.8 1813.7,338.5 C1814.7,336.1 1815.9,333.2 1816.3,329.6 C1816.8,326.1 1816.1,321.7 1816.3,317.2 C1816.6,312.8 1816.9,308.4 1818.1,303.1 C1819.3,297.8 1821.7,291.3 1823.4,285.4 C1825.1,279.5 1827.2,272.4 1828.4,267.7 C1829.6,263 1830.1,258.9 1830.5,257.1Z" fill="#4a6cae" stroke="#3a3a3a" stroke-width="1.1"/><line x1="1830.5" y1="257.1" x2="1830.5" y2="349.4" stroke="#3a3a3a" stroke-width="1.6"/><rect x="1828.2" y="301.3" width="4.6" height="42.5" fill="#3a3a3a" rx="0.8"/><rect x="1828.5" y="321.1" width="4" height="1.2" fill="#ffffff"/>
<path d="M1881.5,150.6 C1881.7,152.4 1882.5,155.3 1882.9,161.5 C1883.4,167.8 1883.5,179.2 1884.2,188.1 C1884.8,196.9 1886,207.2 1886.8,214.6 C1887.6,222 1888.6,226.4 1888.9,232.3 C1889.3,238.2 1889,244.1 1888.9,250 C1888.9,255.9 1888.5,261.8 1888.6,267.7 C1888.7,273.6 1889,279.5 1889.5,285.4 C1889.9,291.3 1890.1,297.2 1891.2,303.1 C1892.4,309 1894.9,315.5 1896.5,320.8 C1898.2,326.1 1900.1,331.1 1901,334.9 C1901.8,338.8 1902,341.4 1901.8,343.8 C1901.7,346.1 1903.5,348.1 1900.1,349.1 C1896.7,350 1884.6,349.4 1881.5,349.4 L1881.5,349.4 C1878.4,349.4 1866.3,350 1862.9,349.1 C1859.5,348.1 1861.3,346.1 1861.2,343.8 C1861,341.4 1861.2,338.8 1862,334.9 C1862.9,331.1 1864.8,326.1 1866.5,320.8 C1868.1,315.5 1870.6,309 1871.8,303.1 C1872.9,297.2 1873.1,291.3 1873.5,285.4 C1874,279.5 1874.3,273.6 1874.4,267.7 C1874.5,261.8 1874.1,255.9 1874.1,250 C1874,244.1 1873.7,238.2 1874.1,232.3 C1874.4,226.4 1875.4,222 1876.2,214.6 C1877,207.2 1878.2,196.9 1878.8,188.1 C1879.5,179.2 1879.6,167.8 1880.1,161.5 C1880.5,155.3 1881.3,152.4 1881.5,150.6Z" fill="#468cc8" stroke="#3a3a3a" stroke-width="1.1"/><line x1="1881.5" y1="150.6" x2="1881.5" y2="349.4" stroke="#3a3a3a" stroke-width="1.6"/><rect x="1879.2" y="243.8" width="4.6" height="100" fill="#3a3a3a" rx="0.8"/><rect x="1879.5" y="302.5" width="4" height="1.2" fill="#ffffff"/>
<path d="M1932.8,273 C1933.2,275.1 1934.1,281 1935.5,285.4 C1936.8,289.8 1938.7,295.1 1940.8,299.5 C1942.8,304 1945.7,308.4 1947.8,311.9 C1950,315.5 1952.9,318.4 1953.7,320.8 C1954.4,323.1 1954,323.7 1952.3,326.1 C1950.6,328.4 1945.9,332.3 1943.4,334.9 C1940.9,337.6 1939,340.1 1937.2,342 C1935.5,343.9 1933.5,345.7 1932.8,346.4 L1932.8,346.4 C1932.1,345.7 1930.1,343.9 1928.4,342 C1926.6,340.1 1924.7,337.6 1922.2,334.9 C1919.7,332.3 1915,328.4 1913.3,326.1 C1911.6,323.7 1911.2,323.1 1911.9,320.8 C1912.7,318.4 1915.6,315.5 1917.8,311.9 C1919.9,308.4 1922.8,304 1924.8,299.5 C1926.9,295.1 1928.8,289.8 1930.1,285.4 C1931.5,281 1932.4,275.1 1932.8,273Z" fill="#62b07e" stroke="#3a3a3a" stroke-width="1.1"/><line x1="1932.8" y1="273" x2="1932.8" y2="346.4" stroke="#3a3a3a" stroke-width="1.6"/><rect x="1930.5" y="307.5" width="4.6" height="19.5" fill="#3a3a3a" rx="0.8"/><rect x="1930.8" y="317.5" width="4" height="1.2" fill="#ffffff"/>
<path d="M1984.4,128.8 C1984.5,132.8 1984.8,144.3 1985.1,152.7 C1985.4,161.1 1985.4,170.4 1986.2,179.2 C1986.9,188.1 1988.4,196.9 1989.7,205.8 C1991,214.6 1993,224.9 1994.1,232.3 C1995.3,239.7 1996.3,244.1 1996.8,250 C1997.3,255.9 1997.4,261.8 1997.1,267.7 C1996.8,273.6 1995.5,279.5 1995,285.4 C1994.5,291.3 1993.8,297.8 1994.1,303.1 C1994.4,308.4 1995.5,312.8 1996.8,317.2 C1998.1,321.7 2000.7,326.1 2002.1,329.6 C2003.5,333.2 2005,335.8 2005.3,338.5 C2005.6,341.1 2004.8,343.7 2003.9,345.5 C2002.9,347.4 2002.7,348.8 1999.4,349.4 C1996.2,350.1 1986.9,349.4 1984.4,349.4 L1984.4,349.4 C1981.9,349.4 1972.6,350.1 1969.4,349.4 C1966.1,348.8 1965.9,347.4 1964.9,345.5 C1964,343.7 1963.2,341.1 1963.5,338.5 C1963.8,335.8 1965.3,333.2 1966.7,329.6 C1968.1,326.1 1970.7,321.7 1972,317.2 C1973.3,312.8 1974.4,308.4 1974.7,303.1 C1975,297.8 1974.3,291.3 1973.8,285.4 C1973.3,279.5 1972,273.6 1971.7,267.7 C1971.4,261.8 1971.5,255.9 1972,250 C1972.5,244.1 1973.5,239.7 1974.7,232.3 C1975.8,224.9 1977.8,214.6 1979.1,205.8 C1980.4,196.9 1981.9,188.1 1982.6,179.2 C1983.4,170.4 1983.4,161.1 1983.7,152.7 C1984,144.3 1984.3,132.8 1984.4,128.8Z" fill="#92d548" stroke="#3a3a3a" stroke-width="1.1"/><line x1="1984.4" y1="128.8" x2="1984.4" y2="349.4" stroke="#3a3a3a" stroke-width="1.6"/><rect x="1982.1" y="245.1" width="4.6" height="90.8" fill="#3a3a3a" rx="0.8"/><rect x="1982.4" y="284.8" width="4" height="1.2" fill="#ffffff"/>
<path d="M2035.7,158.9 C2035.8,162.3 2036.1,172.9 2036.6,179.2 C2037,185.6 2037.5,189.6 2038.4,196.9 C2039.2,204.3 2040.6,214.6 2041.9,223.5 C2043.2,232.3 2045.2,242.6 2046.3,250 C2047.4,257.4 2048.1,261.8 2048.4,267.7 C2048.7,273.6 2048.6,279.5 2048.1,285.4 C2047.6,291.3 2045.7,297.8 2045.4,303.1 C2045.1,308.4 2045.3,312.8 2046.3,317.2 C2047.3,321.7 2050,326.1 2051.6,329.6 C2053.2,333.2 2055.5,335.8 2056,338.5 C2056.6,341.1 2056,343.7 2055.2,345.5 C2054.3,347.4 2054,348.8 2050.7,349.4 C2047.5,350.1 2038.2,349.4 2035.7,349.4 L2035.7,349.4 C2033.2,349.4 2023.9,350.1 2020.7,349.4 C2017.4,348.8 2017.1,347.4 2016.2,345.5 C2015.4,343.7 2014.8,341.1 2015.4,338.5 C2015.9,335.8 2018.2,333.2 2019.8,329.6 C2021.4,326.1 2024.1,321.7 2025.1,317.2 C2026.1,312.8 2026.3,308.4 2026,303.1 C2025.7,297.8 2023.8,291.3 2023.3,285.4 C2022.8,279.5 2022.7,273.6 2023,267.7 C2023.3,261.8 2024,257.4 2025.1,250 C2026.2,242.6 2028.2,232.3 2029.5,223.5 C2030.8,214.6 2032.2,204.3 2033,196.9 C2033.9,189.6 2034.4,185.6 2034.8,179.2 C2035.3,172.9 2035.6,162.3 2035.7,158.9Z" fill="#e8c845" stroke="#3a3a3a" stroke-width="1.1"/><line x1="2035.7" y1="158.9" x2="2035.7" y2="349.4" stroke="#3a3a3a" stroke-width="1.6"/><rect x="2033.4" y="256.2" width="4.6" height="79.6" fill="#3a3a3a" rx="0.8"/><rect x="2033.7" y="291" width="4" height="1.2" fill="#ffffff"/>
<path d="M2087,36.8 C2087.1,42.9 2087.4,58.2 2087.9,73.1 C2088.3,88 2088.8,111.4 2089.7,126.2 C2090.5,140.9 2092,149.7 2093.2,161.5 C2094.4,173.3 2095.8,185.1 2096.7,196.9 C2097.7,208.7 2098.6,220.5 2099,232.3 C2099.5,244.1 2099.6,257.4 2099.4,267.7 C2099.1,278 2097.6,286.9 2097.6,294.2 C2097.6,301.6 2098.2,306 2099.4,311.9 C2100.6,317.8 2103.4,325.2 2104.7,329.6 C2106,334 2107.1,335.8 2107.3,338.5 C2107.6,341.1 2107.1,343.7 2106.5,345.5 C2105.9,347.4 2107.1,348.8 2103.8,349.4 C2100.6,350.1 2089.8,349.4 2087,349.4 L2087,349.4 C2084.2,349.4 2073.4,350.1 2070.2,349.4 C2066.9,348.8 2068.1,347.4 2067.5,345.5 C2066.9,343.7 2066.4,341.1 2066.7,338.5 C2066.9,335.8 2068,334 2069.3,329.6 C2070.6,325.2 2073.4,317.8 2074.6,311.9 C2075.8,306 2076.4,301.6 2076.4,294.2 C2076.4,286.9 2074.9,278 2074.6,267.7 C2074.4,257.4 2074.5,244.1 2075,232.3 C2075.4,220.5 2076.3,208.7 2077.3,196.9 C2078.2,185.1 2079.6,173.3 2080.8,161.5 C2082,149.7 2083.5,140.9 2084.3,126.2 C2085.2,111.4 2085.7,88 2086.1,73.1 C2086.6,58.2 2086.9,42.9 2087,36.8Z" fill="#e8894c" stroke="#3a3a3a" stroke-width="1.1"/><line x1="2087" y1="36.8" x2="2087" y2="349.4" stroke="#3a3a3a" stroke-width="1.6"/><rect x="2084.7" y="212.9" width="4.6" height="116.8" fill="#3a3a3a" rx="0.8"/><rect x="2085" y="270.6" width="4" height="1.2" fill="#ffffff"/>
<path d="M2137.8,132.3 C2137.9,137.2 2138.2,152.3 2138.7,161.5 C2139.1,170.8 2139.7,179.2 2140.5,188.1 C2141.2,196.9 2141.9,205.8 2143.1,214.6 C2144.3,223.5 2145.9,232.3 2147.5,241.2 C2149.2,250 2151.2,260.3 2152.8,267.7 C2154.5,275.1 2156.3,280.7 2157.3,285.4 C2158.2,290.1 2158.8,292.5 2158.7,296 C2158.5,299.5 2157.6,303.1 2156.4,306.6 C2155.1,310.2 2152.1,314 2151.1,317.2 C2150,320.5 2150.2,323.1 2150.2,326.1 C2150.2,329 2151.2,332 2151.1,334.9 C2150.9,337.9 2150.2,341.4 2149.3,343.8 C2148.4,346.2 2147.7,348.5 2145.8,349.4 C2143.8,350.4 2139.1,349.4 2137.8,349.4 L2137.8,349.4 C2136.5,349.4 2131.8,350.4 2129.8,349.4 C2127.9,348.5 2127.2,346.2 2126.3,343.8 C2125.4,341.4 2124.7,337.9 2124.5,334.9 C2124.4,332 2125.4,329 2125.4,326.1 C2125.4,323.1 2125.6,320.5 2124.5,317.2 C2123.5,314 2120.5,310.2 2119.2,306.6 C2118,303.1 2117.1,299.5 2116.9,296 C2116.8,292.5 2117.4,290.1 2118.3,285.4 C2119.3,280.7 2121.1,275.1 2122.8,267.7 C2124.4,260.3 2126.4,250 2128.1,241.2 C2129.7,232.3 2131.3,223.5 2132.5,214.6 C2133.7,205.8 2134.4,196.9 2135.1,188.1 C2135.9,179.2 2136.5,170.8 2136.9,161.5 C2137.4,152.3 2137.7,137.2 2137.8,132.3Z" fill="#e8545f" stroke="#3a3a3a" stroke-width="1.1"/><line x1="2137.8" y1="132.3" x2="2137.8" y2="349.4" stroke="#3a3a3a" stroke-width="1.6"/><rect x="2135.5" y="258.9" width="4.6" height="56.6" fill="#3a3a3a" rx="0.8"/><rect x="2135.8" y="290.1" width="4" height="1.2" fill="#ffffff"/>
<rect x="1754.1" y="21.2" width="409.5" height="343.8" fill="none" stroke="#8a8a8a" stroke-width="1.3"/>
<text x="1677" y="178" font-size="22" text-anchor="middle" fill="#1a1a1a" transform="rotate(-90 1677 178)">Number of counts</text>
<rect x="1217.1" y="376.0" width="409.7" height="344.7" fill="#ffffff" stroke="none"/>
<line x1="1217.1" y1="705.3" x2="1626.8" y2="705.3" stroke="#e6e6e6" stroke-width="1.4"/>
<line x1="1213.5" y1="705.3" x2="1217.1" y2="705.3" stroke="#888" stroke-width="1.1"/>
<text x="1207.5" y="712" font-size="18.7" text-anchor="end" fill="#1a1a1a">0</text>
<line x1="1217.1" y1="661.6" x2="1626.8" y2="661.6" stroke="#e6e6e6" stroke-width="1.4"/>
<line x1="1213.5" y1="661.6" x2="1217.1" y2="661.6" stroke="#888" stroke-width="1.1"/>
<text x="1207.5" y="668.3" font-size="18.7" text-anchor="end" fill="#1a1a1a">5</text>
<line x1="1217.1" y1="617.8" x2="1626.8" y2="617.8" stroke="#e6e6e6" stroke-width="1.4"/>
<line x1="1213.5" y1="617.8" x2="1217.1" y2="617.8" stroke="#888" stroke-width="1.1"/>
<text x="1207.5" y="624.5" font-size="18.7" text-anchor="end" fill="#1a1a1a">10</text>
<line x1="1217.1" y1="574.1" x2="1626.8" y2="574.1" stroke="#e6e6e6" stroke-width="1.4"/>
<line x1="1213.5" y1="574.1" x2="1217.1" y2="574.1" stroke="#888" stroke-width="1.1"/>
<text x="1207.5" y="580.8" font-size="18.7" text-anchor="end" fill="#1a1a1a">15</text>
<line x1="1217.1" y1="530.4" x2="1626.8" y2="530.4" stroke="#e6e6e6" stroke-width="1.4"/>
<line x1="1213.5" y1="530.4" x2="1217.1" y2="530.4" stroke="#888" stroke-width="1.1"/>
<text x="1207.5" y="537.1" font-size="18.7" text-anchor="end" fill="#1a1a1a">20</text>
<line x1="1217.1" y1="486.6" x2="1626.8" y2="486.6" stroke="#e6e6e6" stroke-width="1.4"/>
<line x1="1213.5" y1="486.6" x2="1217.1" y2="486.6" stroke="#888" stroke-width="1.1"/>
<text x="1207.5" y="493.3" font-size="18.7" text-anchor="end" fill="#1a1a1a">25</text>
<line x1="1217.1" y1="442.9" x2="1626.8" y2="442.9" stroke="#e6e6e6" stroke-width="1.4"/>
<line x1="1213.5" y1="442.9" x2="1217.1" y2="442.9" stroke="#888" stroke-width="1.1"/>
<text x="1207.5" y="449.6" font-size="18.7" text-anchor="end" fill="#1a1a1a">30</text>
<line x1="1217.1" y1="399.2" x2="1626.8" y2="399.2" stroke="#e6e6e6" stroke-width="1.4"/>
<line x1="1213.5" y1="399.2" x2="1217.1" y2="399.2" stroke="#888" stroke-width="1.1"/>
<text x="1207.5" y="405.9" font-size="18.7" text-anchor="end" fill="#1a1a1a">35</text>
<path d="M1242.5,635.5 C1242.6,638.8 1242.9,649.4 1243,655 C1243.2,660.5 1243,665.3 1243.4,668.7 C1243.7,672.1 1243.8,673.3 1245.1,675.6 C1246.4,677.9 1248.1,680.6 1251.1,682.5 C1254.1,684.3 1261.4,685.6 1263.1,686.8 C1264.8,687.9 1263.3,688 1261.4,689.3 C1259.5,690.6 1254.7,692.8 1252,694.5 C1249.2,696.2 1246.4,698.2 1245.1,699.6 C1243.8,701.1 1244.4,702.1 1244.2,703.1 C1244.1,704 1244.5,704.9 1244.2,705.3 C1243.9,705.7 1242.8,705.3 1242.5,705.3 L1242.5,705.3 C1242.2,705.3 1241.1,705.7 1240.8,705.3 C1240.5,704.9 1240.9,704 1240.8,703.1 C1240.6,702.1 1241.2,701.1 1239.9,699.6 C1238.6,698.2 1235.8,696.2 1233,694.5 C1230.3,692.8 1225.5,690.6 1223.6,689.3 C1221.7,688 1220.2,687.9 1221.9,686.8 C1223.6,685.6 1230.9,684.3 1233.9,682.5 C1236.9,680.6 1238.6,677.9 1239.9,675.6 C1241.2,673.3 1241.3,672.1 1241.6,668.7 C1242,665.3 1241.8,660.5 1242,655 C1242.1,649.4 1242.4,638.8 1242.5,635.5Z" fill="#6a4c98" stroke="#3a3a3a" stroke-width="1.1"/><line x1="1242.5" y1="635.5" x2="1242.5" y2="705.3" stroke="#3a3a3a" stroke-width="1.6"/><rect x="1240.2" y="681.6" width="4.6" height="12.9" fill="#3a3a3a" rx="0.8"/><rect x="1240.5" y="687" width="4" height="1.2" fill="#ffffff"/>
<path d="M1293.5,652.4 C1293.6,654 1293.6,658.5 1294.2,661.8 C1294.8,665.1 1295,669 1296.9,672.1 C1298.8,675.3 1303,677.9 1305.5,680.7 C1308.1,683.6 1311,687 1312.4,689.3 C1313.8,691.6 1314.2,692.8 1313.8,694.5 C1313.3,696.2 1312.2,698.1 1309.8,699.6 C1307.4,701.2 1301.7,703 1299.5,703.9 C1297.4,704.9 1297.9,705.1 1296.9,705.3 C1295.9,705.5 1294.1,705.3 1293.5,705.3 L1293.5,705.3 C1292.9,705.3 1291.1,705.5 1290.1,705.3 C1289.1,705.1 1289.6,704.9 1287.5,703.9 C1285.3,703 1279.6,701.2 1277.2,699.6 C1274.8,698.1 1273.7,696.2 1273.2,694.5 C1272.8,692.8 1273.2,691.6 1274.6,689.3 C1276,687 1278.9,683.6 1281.5,680.7 C1284,677.9 1288.2,675.3 1290.1,672.1 C1292,669 1292.2,665.1 1292.8,661.8 C1293.4,658.5 1293.4,654 1293.5,652.4Z" fill="#4a6cae" stroke="#3a3a3a" stroke-width="1.1"/><line x1="1293.5" y1="652.4" x2="1293.5" y2="705.3" stroke="#3a3a3a" stroke-width="1.6"/><rect x="1291.2" y="679" width="4.6" height="18.9" fill="#3a3a3a" rx="0.8"/><rect x="1291.5" y="687.9" width="4" height="1.2" fill="#ffffff"/>
<path d="M1345.1,391.7 C1345.2,412.7 1345.4,487.9 1345.6,517.5 C1345.8,547 1345.9,554.7 1346.1,569 C1346.3,583.4 1346.4,593.4 1346.8,603.4 C1347.2,613.4 1347.7,622 1348.5,629.2 C1349.4,636.3 1350.8,642.1 1352,646.4 C1353.1,650.7 1354,652.1 1355.4,655 C1356.8,657.8 1359.1,660.7 1360.6,663.6 C1362,666.4 1363.1,669.3 1364,672.1 C1364.9,675 1365.6,677.9 1365.7,680.7 C1365.9,683.6 1365.7,686.8 1364.9,689.3 C1364,691.9 1362.1,694.2 1360.6,696.2 C1359,698.2 1356.7,699.8 1355.4,701.4 C1354.1,702.9 1354.6,704.7 1352.8,705.3 C1351.1,706 1346.4,705.3 1345.1,705.3 L1345.1,705.3 C1343.8,705.3 1339.1,706 1337.4,705.3 C1335.6,704.7 1336.1,702.9 1334.8,701.4 C1333.5,699.8 1331.2,698.2 1329.6,696.2 C1328.1,694.2 1326.2,691.9 1325.3,689.3 C1324.5,686.8 1324.3,683.6 1324.5,680.7 C1324.6,677.9 1325.3,675 1326.2,672.1 C1327.1,669.3 1328.2,666.4 1329.6,663.6 C1331.1,660.7 1333.4,657.8 1334.8,655 C1336.2,652.1 1337.1,650.7 1338.2,646.4 C1339.4,642.1 1340.8,636.3 1341.7,629.2 C1342.5,622 1343,613.4 1343.4,603.4 C1343.8,593.4 1343.9,583.4 1344.1,569 C1344.3,554.7 1344.4,547 1344.6,517.5 C1344.8,487.9 1345,412.7 1345.1,391.7Z" fill="#468cc8" stroke="#3a3a3a" stroke-width="1.1"/><line x1="1345.1" y1="391.7" x2="1345.1" y2="705.3" stroke="#3a3a3a" stroke-width="1.6"/><rect x="1342.8" y="655" width="4.6" height="36.1" fill="#3a3a3a" rx="0.8"/><rect x="1343.1" y="676.4" width="4" height="1.2" fill="#ffffff"/>
<path d="M1396,653.2 C1396.1,655 1396.3,661 1396.9,663.6 C1397.4,666.1 1398.1,667 1399.4,668.7 C1400.7,670.4 1402.6,672.1 1404.6,673.9 C1406.6,675.6 1409.5,677.7 1411.5,679 C1413.5,680.3 1416.3,680.6 1416.6,681.6 C1416.9,682.6 1415.2,683.7 1413.2,685 C1411.2,686.3 1407,687.8 1404.6,689.3 C1402.2,690.9 1399.8,692.8 1398.6,694.5 C1397.4,696.2 1397.7,697.8 1397.4,699.6 C1397.1,701.4 1397.1,704.4 1396.9,705.3 C1396.6,706.3 1396.1,705.3 1396,705.3 L1396,705.3 C1395.9,705.3 1395.4,706.3 1395.1,705.3 C1394.9,704.4 1394.9,701.4 1394.6,699.6 C1394.3,697.8 1394.6,696.2 1393.4,694.5 C1392.2,692.8 1389.8,690.9 1387.4,689.3 C1385,687.8 1380.8,686.3 1378.8,685 C1376.8,683.7 1375.1,682.6 1375.4,681.6 C1375.7,680.6 1378.5,680.3 1380.5,679 C1382.5,677.7 1385.4,675.6 1387.4,673.9 C1389.4,672.1 1391.3,670.4 1392.6,668.7 C1393.9,667 1394.6,666.1 1395.1,663.6 C1395.7,661 1395.9,655 1396,653.2Z" fill="#62b07e" stroke="#3a3a3a" stroke-width="1.1"/><line x1="1396" y1="653.2" x2="1396" y2="705.3" stroke="#3a3a3a" stroke-width="1.6"/><rect x="1393.7" y="675.6" width="4.6" height="10.3" fill="#3a3a3a" rx="0.8"/><rect x="1394" y="679.8" width="4" height="1.2" fill="#ffffff"/>
<path d="M1447.5,644.7 C1447.7,645.2 1448.5,645.8 1448.9,648.1 C1449.2,650.4 1449.2,655 1449.6,658.4 C1449.9,661.8 1450,665.8 1450.9,668.7 C1451.9,671.6 1453.5,673.6 1455.2,675.6 C1457,677.6 1459.5,679.2 1461.2,680.7 C1463,682.3 1464.5,683.7 1465.5,685 C1466.6,686.3 1467.6,687.5 1467.8,688.5 C1467.9,689.5 1467.5,690 1466.4,691.1 C1465.3,692.1 1462.3,693.3 1461.2,694.5 C1460.2,695.6 1460.7,696.8 1460.4,697.9 C1460.1,699.1 1460.1,700.4 1459.5,701.4 C1459,702.4 1457.7,703.3 1457,703.9 C1456.2,704.6 1456.8,705.1 1455.2,705.3 C1453.7,705.5 1448.8,705.3 1447.5,705.3 L1447.5,705.3 C1446.2,705.3 1441.3,705.5 1439.8,705.3 C1438.2,705.1 1438.8,704.6 1438,703.9 C1437.3,703.3 1436,702.4 1435.5,701.4 C1434.9,700.4 1434.9,699.1 1434.6,697.9 C1434.3,696.8 1434.8,695.6 1433.8,694.5 C1432.7,693.3 1429.7,692.1 1428.6,691.1 C1427.5,690 1427.1,689.5 1427.2,688.5 C1427.4,687.5 1428.4,686.3 1429.5,685 C1430.5,683.7 1432,682.3 1433.8,680.7 C1435.5,679.2 1438,677.6 1439.8,675.6 C1441.5,673.6 1443.1,671.6 1444.1,668.7 C1445,665.8 1445.1,661.8 1445.4,658.4 C1445.8,655 1445.8,650.4 1446.1,648.1 C1446.5,645.8 1447.3,645.2 1447.5,644.7Z" fill="#92d548" stroke="#3a3a3a" stroke-width="1.1"/><line x1="1447.5" y1="644.7" x2="1447.5" y2="705.3" stroke="#3a3a3a" stroke-width="1.6"/><rect x="1445.2" y="680.7" width="4.6" height="17.2" fill="#3a3a3a" rx="0.8"/><rect x="1445.5" y="688.2" width="4" height="1.2" fill="#ffffff"/>
<path d="M1498.5,653.2 C1498.8,653.8 1499.8,655 1500.2,656.7 C1500.6,658.4 1500.6,661 1501.1,663.6 C1501.5,666.1 1501.5,669.3 1502.8,672.1 C1504.1,675 1506.7,678.2 1508.8,680.7 C1511,683.3 1514,685.8 1515.7,687.6 C1517.4,689.5 1519.3,690.6 1519.1,691.9 C1519,693.2 1516,694.2 1514.8,695.3 C1513.7,696.5 1512.8,697.6 1512.2,698.8 C1511.7,699.9 1512.1,701.1 1511.4,702.2 C1510.7,703.3 1510.1,704.8 1508,705.3 C1505.8,705.8 1500.1,705.3 1498.5,705.3 L1498.5,705.3 C1496.9,705.3 1491.2,705.8 1489,705.3 C1486.9,704.8 1486.3,703.3 1485.6,702.2 C1484.9,701.1 1485.3,699.9 1484.8,698.8 C1484.2,697.6 1483.3,696.5 1482.2,695.3 C1481,694.2 1478,693.2 1477.9,691.9 C1477.7,690.6 1479.6,689.5 1481.3,687.6 C1483,685.8 1486,683.3 1488.2,680.7 C1490.3,678.2 1492.9,675 1494.2,672.1 C1495.5,669.3 1495.5,666.1 1495.9,663.6 C1496.4,661 1496.4,658.4 1496.8,656.7 C1497.2,655 1498.2,653.8 1498.5,653.2Z" fill="#e8c845" stroke="#3a3a3a" stroke-width="1.1"/><line x1="1498.5" y1="653.2" x2="1498.5" y2="705.3" stroke="#3a3a3a" stroke-width="1.6"/><rect x="1496.2" y="683.3" width="4.6" height="15.5" fill="#3a3a3a" rx="0.8"/><rect x="1496.5" y="690.5" width="4" height="1.2" fill="#ffffff"/>
<path d="M1550.1,609.4 C1550.2,614.1 1550.6,630.2 1551,637.8 C1551.3,645.4 1551.4,649.8 1552.2,655 C1552.9,660.1 1553.9,665.3 1555.3,668.7 C1556.6,672.1 1558.7,673.6 1560.4,675.6 C1562.1,677.6 1564,679 1565.6,680.7 C1567.1,682.5 1569,684.5 1569.9,685.9 C1570.7,687.3 1571.2,688.2 1570.7,689.3 C1570.3,690.5 1568.7,691.5 1567.3,692.8 C1565.9,694.1 1563.1,695.6 1562.1,697.1 C1561.1,698.5 1561.7,700 1561.3,701.4 C1560.8,702.7 1561.4,704.7 1559.6,705.3 C1557.7,706 1551.7,705.3 1550.1,705.3 L1550.1,705.3 C1548.5,705.3 1542.5,706 1540.6,705.3 C1538.8,704.7 1539.4,702.7 1538.9,701.4 C1538.5,700 1539.1,698.5 1538.1,697.1 C1537.1,695.6 1534.3,694.1 1532.9,692.8 C1531.5,691.5 1529.9,690.5 1529.5,689.3 C1529,688.2 1529.5,687.3 1530.3,685.9 C1531.2,684.5 1533.1,682.5 1534.6,680.7 C1536.2,679 1538.1,677.6 1539.8,675.6 C1541.5,673.6 1543.6,672.1 1544.9,668.7 C1546.3,665.3 1547.3,660.1 1548,655 C1548.8,649.8 1548.9,645.4 1549.2,637.8 C1549.6,630.2 1550,614.1 1550.1,609.4Z" fill="#e8894c" stroke="#3a3a3a" stroke-width="1.1"/><line x1="1550.1" y1="609.4" x2="1550.1" y2="705.3" stroke="#3a3a3a" stroke-width="1.6"/><rect x="1547.8" y="678.2" width="4.6" height="17.2" fill="#3a3a3a" rx="0.8"/><rect x="1548.1" y="686.2" width="4" height="1.2" fill="#ffffff"/>
<path d="M1601,644.7 C1601.2,645.8 1601.8,649.2 1602.4,651.5 C1602.9,653.8 1603.1,655.5 1604.4,658.4 C1605.8,661.3 1608.4,665.8 1610.5,668.7 C1612.5,671.6 1614.7,673.3 1616.5,675.6 C1618.2,677.9 1619.9,680.7 1620.8,682.5 C1621.6,684.2 1622.2,684.5 1621.6,685.9 C1621,687.3 1618.8,689.3 1617.3,691.1 C1615.9,692.8 1613.9,694.5 1613,696.2 C1612.2,697.9 1612.6,699.8 1612.2,701.4 C1611.7,702.9 1612.3,704.7 1610.5,705.3 C1608.6,706 1602.6,705.3 1601,705.3 L1601,705.3 C1599.4,705.3 1593.4,706 1591.5,705.3 C1589.7,704.7 1590.3,702.9 1589.8,701.4 C1589.4,699.8 1589.8,697.9 1589,696.2 C1588.1,694.5 1586.1,692.8 1584.7,691.1 C1583.2,689.3 1581,687.3 1580.4,685.9 C1579.8,684.5 1580.4,684.2 1581.2,682.5 C1582.1,680.7 1583.8,677.9 1585.5,675.6 C1587.3,673.3 1589.5,671.6 1591.5,668.7 C1593.6,665.8 1596.2,661.3 1597.6,658.4 C1598.9,655.5 1599.1,653.8 1599.6,651.5 C1600.2,649.2 1600.8,645.8 1601,644.7Z" fill="#e8545f" stroke="#3a3a3a" stroke-width="1.1"/><line x1="1601" y1="644.7" x2="1601" y2="705.3" stroke="#3a3a3a" stroke-width="1.6"/><rect x="1598.7" y="673.9" width="4.6" height="20.6" fill="#3a3a3a" rx="0.8"/><rect x="1599" y="683.2" width="4" height="1.2" fill="#ffffff"/>
<rect x="1217.1" y="376.0" width="409.7" height="344.7" fill="none" stroke="#8a8a8a" stroke-width="1.3"/>
<text x="1149.5" y="541" font-size="22" text-anchor="middle" fill="#1a1a1a" transform="rotate(-90 1149.5 541)">Percentage of mitchondrial genes</text>
<line x1="1242.5" y1="720.7" x2="1242.5" y2="724.2" stroke="#888" stroke-width="1.1"/>
<text x="1242.5" y="745.2" font-size="18" text-anchor="middle" fill="#1a1a1a">005</text>
<line x1="1293.5" y1="720.7" x2="1293.5" y2="724.2" stroke="#888" stroke-width="1.1"/>
<text x="1293.5" y="745.2" font-size="18" text-anchor="middle" fill="#1a1a1a">011</text>
<line x1="1345.1" y1="720.7" x2="1345.1" y2="724.2" stroke="#888" stroke-width="1.1"/>
<text x="1345.1" y="745.2" font-size="18" text-anchor="middle" fill="#1a1a1a">014</text>
<line x1="1396" y1="720.7" x2="1396" y2="724.2" stroke="#888" stroke-width="1.1"/>
<text x="1396" y="745.2" font-size="18" text-anchor="middle" fill="#1a1a1a">020</text>
<line x1="1447.5" y1="720.7" x2="1447.5" y2="724.2" stroke="#888" stroke-width="1.1"/>
<text x="1447.5" y="745.2" font-size="18" text-anchor="middle" fill="#1a1a1a">030</text>
<line x1="1498.5" y1="720.7" x2="1498.5" y2="724.2" stroke="#888" stroke-width="1.1"/>
<text x="1498.5" y="745.2" font-size="18" text-anchor="middle" fill="#1a1a1a">060</text>
<line x1="1550.1" y1="720.7" x2="1550.1" y2="724.2" stroke="#888" stroke-width="1.1"/>
<text x="1550.1" y="745.2" font-size="18" text-anchor="middle" fill="#1a1a1a">090</text>
<line x1="1601" y1="720.7" x2="1601" y2="724.2" stroke="#888" stroke-width="1.1"/>
<text x="1601" y="745.2" font-size="18" text-anchor="middle" fill="#1a1a1a">120</text>
<text x="1421.9" y="775.2" font-size="21" text-anchor="middle" fill="#1a1a1a">Day</text>
<rect x="1754.1" y="376.3" width="410.5" height="344.4" fill="#ffffff" stroke="none"/>
<line x1="1754.1" y1="705.3" x2="2164.6" y2="705.3" stroke="#e6e6e6" stroke-width="1.4"/>
<line x1="1750.5" y1="705.3" x2="1754.1" y2="705.3" stroke="#888" stroke-width="1.1"/>
<text x="1745" y="712" font-size="18.7" text-anchor="end" fill="#1a1a1a">0</text>
<line x1="1754.1" y1="663.7" x2="2164.6" y2="663.7" stroke="#e6e6e6" stroke-width="1.4"/>
<line x1="1750.5" y1="663.7" x2="1754.1" y2="663.7" stroke="#888" stroke-width="1.1"/>
<text x="1745" y="670.4" font-size="18.7" text-anchor="end" fill="#1a1a1a">10</text>
<line x1="1754.1" y1="622" x2="2164.6" y2="622" stroke="#e6e6e6" stroke-width="1.4"/>
<line x1="1750.5" y1="622" x2="1754.1" y2="622" stroke="#888" stroke-width="1.1"/>
<text x="1745" y="628.7" font-size="18.7" text-anchor="end" fill="#1a1a1a">20</text>
<line x1="1754.1" y1="580.4" x2="2164.6" y2="580.4" stroke="#e6e6e6" stroke-width="1.4"/>
<line x1="1750.5" y1="580.4" x2="1754.1" y2="580.4" stroke="#888" stroke-width="1.1"/>
<text x="1745" y="587.1" font-size="18.7" text-anchor="end" fill="#1a1a1a">30</text>
<line x1="1754.1" y1="538.7" x2="2164.6" y2="538.7" stroke="#e6e6e6" stroke-width="1.4"/>
<line x1="1750.5" y1="538.7" x2="1754.1" y2="538.7" stroke="#888" stroke-width="1.1"/>
<text x="1745" y="545.4" font-size="18.7" text-anchor="end" fill="#1a1a1a">40</text>
<line x1="1754.1" y1="497.1" x2="2164.6" y2="497.1" stroke="#e6e6e6" stroke-width="1.4"/>
<line x1="1750.5" y1="497.1" x2="1754.1" y2="497.1" stroke="#888" stroke-width="1.1"/>
<text x="1745" y="503.8" font-size="18.7" text-anchor="end" fill="#1a1a1a">50</text>
<line x1="1754.1" y1="455.5" x2="2164.6" y2="455.5" stroke="#e6e6e6" stroke-width="1.4"/>
<line x1="1750.5" y1="455.5" x2="1754.1" y2="455.5" stroke="#888" stroke-width="1.1"/>
<text x="1745" y="462.2" font-size="18.7" text-anchor="end" fill="#1a1a1a">60</text>
<line x1="1754.1" y1="413.8" x2="2164.6" y2="413.8" stroke="#e6e6e6" stroke-width="1.4"/>
<line x1="1750.5" y1="413.8" x2="1754.1" y2="413.8" stroke="#888" stroke-width="1.1"/>
<text x="1745" y="420.5" font-size="18.7" text-anchor="end" fill="#1a1a1a">70</text>
<path d="M1779.6,500.3 C1779.7,506 1780,523.2 1780.1,534.7 C1780.3,546.1 1780.1,561 1780.5,569 C1780.8,577.1 1780.9,578.5 1782.2,582.8 C1783.5,587.1 1785.8,590.8 1788.2,594.8 C1790.6,598.8 1794.8,603.1 1796.8,606.8 C1798.8,610.6 1799.9,614.3 1800.2,617.2 C1800.5,620 1799.6,621.5 1798.5,624 C1797.4,626.6 1795.4,629.8 1793.3,632.6 C1791.3,635.5 1788.5,638.6 1786.5,641.2 C1784.5,643.8 1782.3,645.8 1781.3,648.1 C1780.3,650.4 1780.8,649.5 1780.6,655 C1780.5,660.4 1780.3,675 1780.5,680.7 C1780.6,686.5 1781.2,686.8 1781.3,689.3 C1781.5,691.9 1781.4,694.2 1781.3,696.2 C1781.3,698.2 1781.3,700.4 1781,701.4 C1780.7,702.3 1779.8,701.6 1779.6,701.7 L1779.6,701.7 C1779.4,701.6 1778.5,702.3 1778.2,701.4 C1777.9,700.4 1777.9,698.2 1777.9,696.2 C1777.8,694.2 1777.7,691.9 1777.9,689.3 C1778,686.8 1778.6,686.5 1778.7,680.7 C1778.9,675 1778.7,660.4 1778.6,655 C1778.4,649.5 1778.9,650.4 1777.9,648.1 C1776.9,645.8 1774.7,643.8 1772.7,641.2 C1770.7,638.6 1767.9,635.5 1765.9,632.6 C1763.8,629.8 1761.8,626.6 1760.7,624 C1759.6,621.5 1758.7,620 1759,617.2 C1759.3,614.3 1760.4,610.6 1762.4,606.8 C1764.4,603.1 1768.6,598.8 1771,594.8 C1773.4,590.8 1775.7,587.1 1777,582.8 C1778.3,578.5 1778.4,577.1 1778.7,569 C1779.1,561 1778.9,546.1 1779.1,534.7 C1779.2,523.2 1779.5,506 1779.6,500.3Z" fill="#6a4c98" stroke="#3a3a3a" stroke-width="1.1"/><line x1="1779.6" y1="500.3" x2="1779.6" y2="701.7" stroke="#3a3a3a" stroke-width="1.6"/><rect x="1777.3" y="604.3" width="4.6" height="24.1" fill="#3a3a3a" rx="0.8"/><rect x="1777.6" y="616.6" width="4" height="1.2" fill="#ffffff"/>
<path d="M1830.6,410.1 C1830.7,422.2 1831,468.1 1831.3,483.1 C1831.6,498.1 1831.7,495.1 1832.3,500.3 C1832.9,505.5 1833.6,509.2 1834.9,514 C1836.2,518.9 1838.2,524.6 1840.1,529.5 C1841.9,534.4 1844.3,538.1 1846.1,543.3 C1847.8,548.4 1849.4,555.6 1850.4,560.4 C1851.3,565.3 1851.6,568.7 1851.6,572.5 C1851.6,576.2 1851.4,579.1 1850.4,582.8 C1849.3,586.5 1846.8,590.8 1845.2,594.8 C1843.6,598.8 1842.3,602.5 1840.9,606.8 C1839.6,611.1 1838.1,616 1837.1,620.6 C1836.1,625.2 1835.3,629.8 1834.9,634.3 C1834.5,638.9 1834.5,643.5 1834.9,648.1 C1835.3,652.7 1836.5,657.8 1837.5,661.8 C1838.5,665.8 1840.3,669 1840.9,672.1 C1841.5,675.3 1841.2,678.2 1840.9,680.7 C1840.6,683.3 1840.1,685.9 1839.2,687.6 C1838.3,689.3 1837.2,690.2 1835.8,691.1 C1834.3,691.9 1831.5,692.5 1830.6,692.8 L1830.6,692.8 C1829.7,692.5 1826.9,691.9 1825.4,691.1 C1824,690.2 1822.9,689.3 1822,687.6 C1821.1,685.9 1820.6,683.3 1820.3,680.7 C1820,678.2 1819.7,675.3 1820.3,672.1 C1820.9,669 1822.7,665.8 1823.7,661.8 C1824.7,657.8 1825.9,652.7 1826.3,648.1 C1826.7,643.5 1826.7,638.9 1826.3,634.3 C1825.9,629.8 1825.1,625.2 1824.1,620.6 C1823.1,616 1821.6,611.1 1820.3,606.8 C1818.9,602.5 1817.6,598.8 1816,594.8 C1814.4,590.8 1811.9,586.5 1810.8,582.8 C1809.8,579.1 1809.6,576.2 1809.6,572.5 C1809.6,568.7 1809.9,565.3 1810.8,560.4 C1811.8,555.6 1813.4,548.4 1815.1,543.3 C1816.9,538.1 1819.3,534.4 1821.1,529.5 C1823,524.6 1825,518.9 1826.3,514 C1827.6,509.2 1828.3,505.5 1828.9,500.3 C1829.5,495.1 1829.6,498.1 1829.9,483.1 C1830.2,468.1 1830.5,422.2 1830.6,410.1Z" fill="#4a6cae" stroke="#3a3a3a" stroke-width="1.1"/><line x1="1830.6" y1="410.1" x2="1830.6" y2="692.8" stroke="#3a3a3a" stroke-width="1.6"/><rect x="1828.3" y="559.6" width="4.6" height="70.5" fill="#3a3a3a" rx="0.8"/><rect x="1828.6" y="583.9" width="4" height="1.2" fill="#ffffff"/>
<path d="M1881.8,468.8 C1881.9,481.2 1882.1,528 1882.5,543.3 C1882.9,558.5 1883.3,554.7 1884.4,560.4 C1885.4,566.2 1887.1,571.9 1888.7,577.6 C1890.2,583.4 1892.5,589.9 1893.8,594.8 C1895.2,599.7 1896.6,603.4 1896.9,606.8 C1897.2,610.3 1896.6,612.6 1895.5,615.4 C1894.5,618.3 1892,620.9 1890.4,624 C1888.8,627.2 1887.2,630.6 1886.1,634.3 C1885,638.1 1884.1,642.4 1883.9,646.4 C1883.6,650.4 1883.9,654.7 1884.4,658.4 C1884.9,662.1 1885.4,665.3 1887,668.7 C1888.5,672.1 1891.5,675.9 1893.8,679 C1896.1,682.2 1899.3,685.3 1900.7,687.6 C1902.1,689.9 1902.7,691.3 1902.4,692.8 C1902.1,694.2 1900.1,695.5 1899,696.2 C1897.8,696.9 1898.4,696.9 1895.5,697.1 C1892.7,697.2 1884.1,697.1 1881.8,697.1 L1881.8,697.1 C1879.5,697.1 1870.9,697.2 1868.1,697.1 C1865.2,696.9 1865.8,696.9 1864.6,696.2 C1863.5,695.5 1861.5,694.2 1861.2,692.8 C1860.9,691.3 1861.5,689.9 1862.9,687.6 C1864.3,685.3 1867.5,682.2 1869.8,679 C1872.1,675.9 1875.1,672.1 1876.6,668.7 C1878.2,665.3 1878.7,662.1 1879.2,658.4 C1879.7,654.7 1880,650.4 1879.7,646.4 C1879.5,642.4 1878.6,638.1 1877.5,634.3 C1876.4,630.6 1874.8,627.2 1873.2,624 C1871.6,620.9 1869.1,618.3 1868.1,615.4 C1867,612.6 1866.4,610.3 1866.7,606.8 C1867,603.4 1868.4,599.7 1869.8,594.8 C1871.1,589.9 1873.4,583.4 1874.9,577.6 C1876.5,571.9 1878.2,566.2 1879.2,560.4 C1880.3,554.7 1880.7,558.5 1881.1,543.3 C1881.5,528 1881.7,481.2 1881.8,468.8Z" fill="#468cc8" stroke="#3a3a3a" stroke-width="1.1"/><line x1="1881.8" y1="468.8" x2="1881.8" y2="697.1" stroke="#3a3a3a" stroke-width="1.6"/><rect x="1879.5" y="604.3" width="4.6" height="83.3" fill="#3a3a3a" rx="0.8"/><rect x="1879.8" y="630" width="4" height="1.2" fill="#ffffff"/>
<path d="M1933.2,476.2 C1933.3,491.7 1933.6,550.7 1933.9,569 C1934.2,587.4 1933.9,581.1 1934.9,586.2 C1935.9,591.4 1938.1,595.7 1940.1,600 C1942.1,604.3 1944.9,608.6 1946.9,612 C1949,615.4 1951,618 1952.1,620.6 C1953.2,623.2 1954.1,625.2 1953.8,627.5 C1953.5,629.8 1952.1,631.8 1950.4,634.3 C1948.7,636.9 1945.7,640.1 1943.5,642.9 C1941.4,645.8 1938.9,648.1 1937.5,651.5 C1936.1,655 1935.8,658.7 1935.3,663.6 C1934.7,668.4 1934.6,675.4 1934.2,680.7 C1933.9,686.1 1933.4,693.3 1933.2,695.9 L1933.2,695.9 C1933,693.3 1932.5,686.1 1932.2,680.7 C1931.8,675.4 1931.7,668.4 1931.1,663.6 C1930.6,658.7 1930.3,655 1928.9,651.5 C1927.5,648.1 1925,645.8 1922.9,642.9 C1920.7,640.1 1917.7,636.9 1916,634.3 C1914.3,631.8 1912.9,629.8 1912.6,627.5 C1912.3,625.2 1913.2,623.2 1914.3,620.6 C1915.4,618 1917.4,615.4 1919.5,612 C1921.5,608.6 1924.3,604.3 1926.3,600 C1928.3,595.7 1930.5,591.4 1931.5,586.2 C1932.5,581.1 1932.2,587.4 1932.5,569 C1932.8,550.7 1933.1,491.7 1933.2,476.2Z" fill="#62b07e" stroke="#3a3a3a" stroke-width="1.1"/><line x1="1933.2" y1="476.2" x2="1933.2" y2="695.9" stroke="#3a3a3a" stroke-width="1.6"/><rect x="1930.9" y="616.3" width="4.6" height="22.3" fill="#3a3a3a" rx="0.8"/><rect x="1931.2" y="626.9" width="4" height="1.2" fill="#ffffff"/>
<path d="M1984.2,412.7 C1984.3,438.7 1984.7,539.5 1984.9,569 C1985.1,598.5 1985,584.5 1985.6,589.7 C1986.2,594.8 1986.9,596.2 1988.5,600 C1990.1,603.7 1993.5,608 1995.4,612 C1997.2,616 1998.4,619.7 1999.7,624 C2001,628.3 2002.2,633.2 2003.1,637.8 C2004,642.4 2004.8,647.5 2004.8,651.5 C2004.8,655.5 2004.1,658.4 2003.1,661.8 C2002.1,665.3 2000,668.7 1998.8,672.1 C1997.7,675.6 1996.7,679.6 1996.2,682.5 C1995.8,685.3 1995.9,687.3 1996.2,689.3 C1996.5,691.3 1997.4,692.5 1997.9,694.5 C1998.5,696.5 1999.5,699.6 1999.7,701.4 C1999.8,703.2 2001.4,704.7 1998.8,705.3 C1996.2,706 1986.6,705.3 1984.2,705.3 L1984.2,705.3 C1981.8,705.3 1972.2,706 1969.6,705.3 C1967,704.7 1968.6,703.2 1968.7,701.4 C1968.9,699.6 1969.9,696.5 1970.5,694.5 C1971,692.5 1971.9,691.3 1972.2,689.3 C1972.5,687.3 1972.6,685.3 1972.2,682.5 C1971.7,679.6 1970.7,675.6 1969.6,672.1 C1968.4,668.7 1966.3,665.3 1965.3,661.8 C1964.3,658.4 1963.6,655.5 1963.6,651.5 C1963.6,647.5 1964.4,642.4 1965.3,637.8 C1966.2,633.2 1967.4,628.3 1968.7,624 C1970,619.7 1971.2,616 1973,612 C1974.9,608 1978.3,603.7 1979.9,600 C1981.5,596.2 1982.2,594.8 1982.8,589.7 C1983.4,584.5 1983.3,598.5 1983.5,569 C1983.7,539.5 1984.1,438.7 1984.2,412.7Z" fill="#92d548" stroke="#3a3a3a" stroke-width="1.1"/><line x1="1984.2" y1="412.7" x2="1984.2" y2="705.3" stroke="#3a3a3a" stroke-width="1.6"/><rect x="1981.9" y="636.9" width="4.6" height="48.1" fill="#3a3a3a" rx="0.8"/><rect x="1982.2" y="656.9" width="4" height="1.2" fill="#ffffff"/>
<path d="M2035.5,391.7 C2035.6,422.7 2035.8,543.8 2036.2,577.6 C2036.5,611.5 2036.8,589.1 2037.6,594.8 C2038.3,600.5 2039.6,606.3 2040.7,612 C2041.7,617.7 2043.1,623.5 2044.1,629.2 C2045.1,634.9 2045.8,640.6 2046.7,646.4 C2047.5,652.1 2048.4,657.8 2049.2,663.6 C2050.1,669.3 2050.8,675.9 2051.8,680.7 C2052.8,685.6 2054.8,689.6 2055.3,692.8 C2055.7,695.9 2055.1,697.6 2054.4,699.6 C2053.7,701.7 2054.1,704.4 2051,705.3 C2047.8,706.3 2038.1,705.3 2035.5,705.3 L2035.5,705.3 C2032.9,705.3 2023.2,706.3 2020,705.3 C2016.9,704.4 2017.3,701.7 2016.6,699.6 C2015.9,697.6 2015.3,695.9 2015.7,692.8 C2016.2,689.6 2018.2,685.6 2019.2,680.7 C2020.2,675.9 2020.9,669.3 2021.8,663.6 C2022.6,657.8 2023.5,652.1 2024.3,646.4 C2025.2,640.6 2025.9,634.9 2026.9,629.2 C2027.9,623.5 2029.3,617.7 2030.3,612 C2031.4,606.3 2032.7,600.5 2033.4,594.8 C2034.2,589.1 2034.5,611.5 2034.8,577.6 C2035.2,543.8 2035.4,422.7 2035.5,391.7Z" fill="#e8c845" stroke="#3a3a3a" stroke-width="1.1"/><line x1="2035.5" y1="391.7" x2="2035.5" y2="705.3" stroke="#3a3a3a" stroke-width="1.6"/><rect x="2033.2" y="644.7" width="4.6" height="49.8" fill="#3a3a3a" rx="0.8"/><rect x="2033.5" y="673.3" width="4" height="1.2" fill="#ffffff"/>
<path d="M2086.7,410.6 C2086.8,434.1 2087.1,524 2087.4,551.9 C2087.7,579.7 2087.8,570.5 2088.4,577.6 C2089,584.8 2089.7,587.7 2091,594.8 C2092.3,602 2094.7,613.4 2096.2,620.6 C2097.6,627.8 2098.7,632 2099.6,637.8 C2100.4,643.5 2101.3,649.2 2101.3,655 C2101.3,660.7 2099.7,667.3 2099.6,672.1 C2099.4,677 2099.6,680.5 2100.4,684.2 C2101.3,687.9 2103.9,691.6 2104.7,694.5 C2105.6,697.4 2105.9,699.6 2105.6,701.4 C2105.3,703.2 2106.2,704.7 2103,705.3 C2099.9,706 2089.4,705.3 2086.7,705.3 L2086.7,705.3 C2084,705.3 2073.5,706 2070.4,705.3 C2067.2,704.7 2068.1,703.2 2067.8,701.4 C2067.5,699.6 2067.8,697.4 2068.7,694.5 C2069.5,691.6 2072.1,687.9 2073,684.2 C2073.8,680.5 2074,677 2073.8,672.1 C2073.7,667.3 2072.1,660.7 2072.1,655 C2072.1,649.2 2073,643.5 2073.8,637.8 C2074.7,632 2075.8,627.8 2077.2,620.6 C2078.7,613.4 2081.1,602 2082.4,594.8 C2083.7,587.7 2084.4,584.8 2085,577.6 C2085.6,570.5 2085.7,579.7 2086,551.9 C2086.3,524 2086.6,434.1 2086.7,410.6Z" fill="#e8894c" stroke="#3a3a3a" stroke-width="1.1"/><line x1="2086.7" y1="410.6" x2="2086.7" y2="705.3" stroke="#3a3a3a" stroke-width="1.6"/><rect x="2084.4" y="636.9" width="4.6" height="60.1" fill="#3a3a3a" rx="0.8"/><rect x="2084.7" y="663.8" width="4" height="1.2" fill="#ffffff"/>
<path d="M2137.8,465.9 C2137.9,488.8 2138.1,577.6 2138.3,603.4 C2138.5,629.2 2138.7,614.9 2139.2,620.6 C2139.7,626.3 2140,632.6 2141.2,637.8 C2142.4,642.9 2144.5,647.2 2146.4,651.5 C2148.3,655.8 2150.7,660.1 2152.4,663.6 C2154.1,667 2155.8,669.6 2156.7,672.1 C2157.6,674.7 2158,676.7 2157.6,679 C2157.1,681.3 2155.1,683.6 2154.1,685.9 C2153.1,688.2 2151.5,690.5 2151.5,692.8 C2151.5,695.1 2153.6,697.9 2154.1,699.6 C2154.7,701.4 2155.1,702.1 2155,703.1 C2154.8,704 2156.1,704.9 2153.3,705.3 C2150.4,705.7 2140.4,705.3 2137.8,705.3 L2137.8,705.3 C2135.2,705.3 2125.2,705.7 2122.3,705.3 C2119.5,704.9 2120.8,704 2120.6,703.1 C2120.5,702.1 2120.9,701.4 2121.5,699.6 C2122,697.9 2124.1,695.1 2124.1,692.8 C2124.1,690.5 2122.5,688.2 2121.5,685.9 C2120.5,683.6 2118.5,681.3 2118,679 C2117.6,676.7 2118,674.7 2118.9,672.1 C2119.8,669.6 2121.5,667 2123.2,663.6 C2124.9,660.1 2127.3,655.8 2129.2,651.5 C2131.1,647.2 2133.2,642.9 2134.4,637.8 C2135.6,632.6 2135.9,626.3 2136.4,620.6 C2136.9,614.9 2137.1,629.2 2137.3,603.4 C2137.5,577.6 2137.7,488.8 2137.8,465.9Z" fill="#e8545f" stroke="#3a3a3a" stroke-width="1.1"/><line x1="2137.8" y1="465.9" x2="2137.8" y2="705.3" stroke="#3a3a3a" stroke-width="1.6"/><rect x="2135.5" y="666.6" width="4.6" height="29.6" fill="#3a3a3a" rx="0.8"/><rect x="2135.8" y="679.8" width="4" height="1.2" fill="#ffffff"/>
<rect x="1754.1" y="376.3" width="410.5" height="344.4" fill="none" stroke="#8a8a8a" stroke-width="1.3"/>
<text x="1678.5" y="553" font-size="22" text-anchor="middle" fill="#1a1a1a" transform="rotate(-90 1678.5 553)">Percentage of ribosomal genes</text>
<line x1="1779.6" y1="720.7" x2="1779.6" y2="724.2" stroke="#888" stroke-width="1.1"/>
<text x="1779.6" y="745.2" font-size="18" text-anchor="middle" fill="#1a1a1a">005</text>
<line x1="1830.6" y1="720.7" x2="1830.6" y2="724.2" stroke="#888" stroke-width="1.1"/>
<text x="1830.6" y="745.2" font-size="18" text-anchor="middle" fill="#1a1a1a">011</text>
<line x1="1881.8" y1="720.7" x2="1881.8" y2="724.2" stroke="#888" stroke-width="1.1"/>
<text x="1881.8" y="745.2" font-size="18" text-anchor="middle" fill="#1a1a1a">014</text>
<line x1="1933.2" y1="720.7" x2="1933.2" y2="724.2" stroke="#888" stroke-width="1.1"/>
<text x="1933.2" y="745.2" font-size="18" text-anchor="middle" fill="#1a1a1a">020</text>
<line x1="1984.2" y1="720.7" x2="1984.2" y2="724.2" stroke="#888" stroke-width="1.1"/>
<text x="1984.2" y="745.2" font-size="18" text-anchor="middle" fill="#1a1a1a">030</text>
<line x1="2035.5" y1="720.7" x2="2035.5" y2="724.2" stroke="#888" stroke-width="1.1"/>
<text x="2035.5" y="745.2" font-size="18" text-anchor="middle" fill="#1a1a1a">060</text>
<line x1="2086.7" y1="720.7" x2="2086.7" y2="724.2" stroke="#888" stroke-width="1.1"/>
<text x="2086.7" y="745.2" font-size="18" text-anchor="middle" fill="#1a1a1a">090</text>
<line x1="2137.8" y1="720.7" x2="2137.8" y2="724.2" stroke="#888" stroke-width="1.1"/>
<text x="2137.8" y="745.2" font-size="18" text-anchor="middle" fill="#1a1a1a">120</text>
<text x="1959.3" y="775.2" font-size="21" text-anchor="middle" fill="#1a1a1a">Day</text>
<text x="410.8" y="1010.5" font-size="22" text-anchor="middle" fill="#1a1a1a">Bio conservation</text>
<text x="942.4" y="1009.5" font-size="22" text-anchor="middle" fill="#1a1a1a">Batch correction</text>
<text x="1353.3" y="1009.5" font-size="22" text-anchor="middle" fill="#1a1a1a">Aggregate score</text>
<line x1="188" y1="1028.6" x2="659" y2="1028.6" stroke="#777" stroke-width="1.1"/>
<line x1="711.6" y1="1028.7" x2="1183" y2="1028.7" stroke="#777" stroke-width="1.1"/>
<line x1="1224.3" y1="1028.7" x2="1507" y2="1028.7" stroke="#777" stroke-width="1.1"/>
<text x="213.3" y="1048.5" font-size="18.6" text-anchor="middle" fill="#1a1a1a">Isolated</text>
<text x="213.3" y="1070.5" font-size="18.6" text-anchor="middle" fill="#1a1a1a">labels</text>
<text x="318" y="1048.5" font-size="18.6" text-anchor="middle" fill="#1a1a1a">KMeans</text>
<text x="318" y="1070.5" font-size="18.6" text-anchor="middle" fill="#1a1a1a">NMI</text>
<text x="424" y="1048.5" font-size="18.6" text-anchor="middle" fill="#1a1a1a">KMeans</text>
<text x="424" y="1070.5" font-size="18.6" text-anchor="middle" fill="#1a1a1a">ARI</text>
<text x="528" y="1048.5" font-size="18.6" text-anchor="middle" fill="#1a1a1a">Silhouette</text>
<text x="528" y="1070.5" font-size="18.6" text-anchor="middle" fill="#1a1a1a">label</text>
<text x="633" y="1060" font-size="18.6" text-anchor="middle" fill="#1a1a1a">cLISI</text>
<text x="737.4" y="1048.5" font-size="18.6" text-anchor="middle" fill="#1a1a1a">Silhouette</text>
<text x="737.4" y="1070.5" font-size="18.6" text-anchor="middle" fill="#1a1a1a">batch</text>
<text x="842" y="1060" font-size="18.6" text-anchor="middle" fill="#1a1a1a">iLISI</text>
<text x="947" y="1060" font-size="18.6" text-anchor="middle" fill="#1a1a1a">KBET</text>
<text x="1051.7" y="1048.5" font-size="18.6" text-anchor="middle" fill="#1a1a1a">Graph</text>
<text x="1051.7" y="1070.5" font-size="18.6" text-anchor="middle" fill="#1a1a1a">connectivity</text>
<text x="1156.6" y="1048.5" font-size="18.6" text-anchor="middle" fill="#1a1a1a">PCR</text>
<text x="1156.6" y="1070.5" font-size="18.6" text-anchor="middle" fill="#1a1a1a">comparison</text>
<text x="1259.5" y="1048.5" font-size="18.6" text-anchor="middle" fill="#1a1a1a">Batch</text>
<text x="1259.5" y="1070.5" font-size="18.6" text-anchor="middle" fill="#1a1a1a">correction</text>
<text x="1366.8" y="1048.5" font-size="18.6" text-anchor="middle" fill="#1a1a1a">Bio</text>
<text x="1366.8" y="1070.5" font-size="18.6" text-anchor="middle" fill="#1a1a1a">conservation</text>
<text x="1475" y="1060" font-size="18.6" text-anchor="middle" fill="#1a1a1a">Total</text>
<text x="7.5" y="1060" font-size="18.6" text-anchor="start" fill="#1a1a1a" font-weight="bold">Method</text>
<line x1="9" y1="1123.5" x2="1520" y2="1123.5" stroke="#333" stroke-width="2.2" stroke-dasharray="0.01 10.6" stroke-linecap="round"/>
<line x1="9" y1="1170.5" x2="1520" y2="1170.5" stroke="#333" stroke-width="2.2" stroke-dasharray="0.01 10.6" stroke-linecap="round"/>
<line x1="9" y1="1217.5" x2="1520" y2="1217.5" stroke="#333" stroke-width="2.2" stroke-dasharray="0.01 10.6" stroke-linecap="round"/>
<line x1="9" y1="1264.5" x2="1520" y2="1264.5" stroke="#333" stroke-width="2.2" stroke-dasharray="0.01 10.6" stroke-linecap="round"/>
<line x1="9" y1="1311.5" x2="1520" y2="1311.5" stroke="#333" stroke-width="2.2" stroke-dasharray="0.01 10.6" stroke-linecap="round"/>
<line x1="9" y1="1358.5" x2="1520" y2="1358.5" stroke="#333" stroke-width="2.2" stroke-dasharray="0.01 10.6" stroke-linecap="round"/>
<line x1="9" y1="1405.5" x2="1520" y2="1405.5" stroke="#333" stroke-width="2.2" stroke-dasharray="0.01 10.6" stroke-linecap="round"/>
<line x1="9" y1="1452.5" x2="1520" y2="1452.5" stroke="#333" stroke-width="2.2" stroke-dasharray="0.01 10.6" stroke-linecap="round"/>
<text x="7.5" y="1106.3" font-size="18.6" text-anchor="start" fill="#1a1a1a" font-weight="bold">X_scPoli</text>
<circle cx="213.3" cy="1100" r="23.6" fill="#6abf6e"/>
<text x="213.3" y="1106.3" font-size="18.6" text-anchor="middle" fill="#1a1a1a">1.00</text>
<circle cx="318" cy="1100" r="23.6" fill="#66bb6a"/>
<text x="318" y="1106.3" font-size="18.6" text-anchor="middle" fill="#ffffff">1.00</text>
<circle cx="424" cy="1100" r="23.6" fill="#2f8a3e"/>
<text x="424" y="1106.3" font-size="18.6" text-anchor="middle" fill="#ffffff">1.00</text>
<circle cx="528" cy="1100" r="23.6" fill="#5cb665"/>
<text x="528" y="1106.3" font-size="18.6" text-anchor="middle" fill="#ffffff">1.00</text>
<circle cx="633" cy="1100" r="23.6" fill="#f1f3f0"/>
<text x="633" y="1106.3" font-size="18.6" text-anchor="middle" fill="#1a1a1a">1.00</text>
<circle cx="737.4" cy="1100" r="23.6" fill="#e6dbec"/>
<text x="737.4" y="1106.3" font-size="18.6" text-anchor="middle" fill="#1a1a1a">0.63</text>
<circle cx="842" cy="1100" r="23.6" fill="#f1f0f2"/>
<text x="842" y="1106.3" font-size="18.6" text-anchor="middle" fill="#1a1a1a">0.09</text>
<circle cx="947" cy="1100" r="23.6" fill="#d7f0d1"/>
<text x="947" y="1106.3" font-size="18.6" text-anchor="middle" fill="#1a1a1a">0.86</text>
<circle cx="1051.7" cy="1100" r="23.6" fill="#a7dca0"/>
<text x="1051.7" y="1106.3" font-size="18.6" text-anchor="middle" fill="#1a1a1a">0.84</text>
<circle cx="1156.6" cy="1100" r="23.6" fill="#f1f0f2"/>
<text x="1156.6" y="1106.3" font-size="18.6" text-anchor="middle" fill="#1a1a1a">0.37</text>
<rect x="1211.8" y="1087.4" width="55.2" height="25.2" fill="#4ab3c4"/>
<text x="1263.3" y="1107.7" font-size="21.5" text-anchor="end" fill="#1a1a1a">0.56</text>
<rect x="1316.6" y="1087.4" width="98.8" height="25.2" fill="#1b2463"/>
<text x="1411.7" y="1107.7" font-size="21.5" text-anchor="end" fill="#ffffff">1.00</text>
<rect x="1420.8" y="1087.4" width="82.3" height="25.2" fill="#2c4ba3"/>
<text x="1499.4" y="1107.7" font-size="21.5" text-anchor="end" fill="#ffffff">0.56</text>
<text x="7.5" y="1153.3" font-size="18.6" text-anchor="start" fill="#1a1a1a" font-weight="bold">X_SCANVI</text>
<circle cx="213.3" cy="1147" r="23.6" fill="#b5e0ad"/>
<text x="213.3" y="1153.3" font-size="18.6" text-anchor="middle" fill="#1a1a1a">0.86</text>
<circle cx="318" cy="1147" r="23.6" fill="#ebe3ee"/>
<text x="318" y="1153.3" font-size="18.6" text-anchor="middle" fill="#1a1a1a">0.51</text>
<circle cx="424" cy="1147" r="23.6" fill="#f1f3f0"/>
<text x="424" y="1153.3" font-size="18.6" text-anchor="middle" fill="#1a1a1a">0.45</text>
<circle cx="528" cy="1147" r="23.6" fill="#5cb665"/>
<text x="528" y="1153.3" font-size="18.6" text-anchor="middle" fill="#ffffff">0.94</text>
<circle cx="633" cy="1147" r="23.6" fill="#f2f2f2"/>
<text x="633" y="1153.3" font-size="18.6" text-anchor="middle" fill="#1a1a1a">0.98</text>
<circle cx="737.4" cy="1147" r="23.6" fill="#bfe6b7"/>
<text x="737.4" y="1153.3" font-size="18.6" text-anchor="middle" fill="#1a1a1a">0.98</text>
<circle cx="842" cy="1147" r="23.6" fill="#cdebc6"/>
<text x="842" y="1153.3" font-size="18.6" text-anchor="middle" fill="#1a1a1a">0.36</text>
<circle cx="947" cy="1147" r="23.6" fill="#dcf2d7"/>
<text x="947" y="1153.3" font-size="18.6" text-anchor="middle" fill="#1a1a1a">0.82</text>
<circle cx="1051.7" cy="1147" r="23.6" fill="#4ca556"/>
<text x="1051.7" y="1153.3" font-size="18.6" text-anchor="middle" fill="#ffffff">1.00</text>
<circle cx="1156.6" cy="1147" r="23.6" fill="#a8dca1"/>
<text x="1156.6" y="1153.3" font-size="18.6" text-anchor="middle" fill="#1a1a1a">0.78</text>
<rect x="1211.8" y="1134.4" width="78.0" height="25.2" fill="#2c50a8"/>
<text x="1286.1" y="1154.7" font-size="21.5" text-anchor="end" fill="#ffffff">0.79</text>
<rect x="1316.6" y="1134.4" width="73.7" height="25.2" fill="#2f6db5"/>
<text x="1386.6" y="1154.7" font-size="21.5" text-anchor="end" fill="#ffffff">0.75</text>
<rect x="1420.8" y="1134.4" width="76.2" height="25.2" fill="#2f62ae"/>
<text x="1493.3" y="1154.7" font-size="21.5" text-anchor="end" fill="#ffffff">0.76</text>
<text x="7.5" y="1200.3" font-size="18.6" text-anchor="start" fill="#1a1a1a" font-weight="bold">X_Scanorama</text>
<circle cx="213.3" cy="1194" r="23.6" fill="#f3f3f3"/>
<text x="213.3" y="1200.3" font-size="18.6" text-anchor="middle" fill="#1a1a1a">0.64</text>
<circle cx="318" cy="1194" r="23.6" fill="#f2f2f2"/>
<text x="318" y="1200.3" font-size="18.6" text-anchor="middle" fill="#1a1a1a">0.57</text>
<circle cx="424" cy="1194" r="23.6" fill="#e6dced"/>
<text x="424" y="1200.3" font-size="18.6" text-anchor="middle" fill="#1a1a1a">0.34</text>
<circle cx="528" cy="1194" r="23.6" fill="#f0eff2"/>
<text x="528" y="1200.3" font-size="18.6" text-anchor="middle" fill="#1a1a1a">0.41</text>
<circle cx="633" cy="1194" r="23.6" fill="#f2f2f2"/>
<text x="633" y="1200.3" font-size="18.6" text-anchor="middle" fill="#1a1a1a">0.96</text>
<circle cx="737.4" cy="1194" r="23.6" fill="#f3f3f3"/>
<text x="737.4" y="1200.3" font-size="18.6" text-anchor="middle" fill="#1a1a1a">0.77</text>
<circle cx="842" cy="1194" r="23.6" fill="#f1f0f2"/>
<text x="842" y="1200.3" font-size="18.6" text-anchor="middle" fill="#1a1a1a">0.08</text>
<circle cx="947" cy="1194" r="23.6" fill="#dcf2d7"/>
<text x="947" y="1200.3" font-size="18.6" text-anchor="middle" fill="#1a1a1a">0.81</text>
<circle cx="1051.7" cy="1194" r="23.6" fill="#f3f3f3"/>
<text x="1051.7" y="1200.3" font-size="18.6" text-anchor="middle" fill="#1a1a1a">0.49</text>
<circle cx="1156.6" cy="1194" r="23.6" fill="#f1f1f1"/>
<text x="1156.6" y="1200.3" font-size="18.6" text-anchor="middle" fill="#1a1a1a">0.39</text>
<rect x="1211.8" y="1181.4" width="50.5" height="25.2" fill="#4fb8c4"/>
<text x="1258.6" y="1201.7" font-size="21.5" text-anchor="end" fill="#1a1a1a">0.51</text>
<rect x="1316.6" y="1181.4" width="57.8" height="25.2" fill="#41a8c6"/>
<text x="1370.7" y="1201.7" font-size="21.5" text-anchor="end" fill="#1a1a1a">0.58</text>
<rect x="1420.8" y="1181.4" width="55.2" height="25.2" fill="#4ab3c4"/>
<text x="1472.3" y="1201.7" font-size="21.5" text-anchor="end" fill="#1a1a1a">0.55</text>
<text x="7.5" y="1247.3" font-size="18.6" text-anchor="start" fill="#1a1a1a" font-weight="bold">X_pca</text>
<circle cx="213.3" cy="1241" r="23.6" fill="#ece6f0"/>
<text x="213.3" y="1247.3" font-size="18.6" text-anchor="middle" fill="#1a1a1a">0.60</text>
<circle cx="318" cy="1241" r="23.6" fill="#f2f3f2"/>
<text x="318" y="1247.3" font-size="18.6" text-anchor="middle" fill="#1a1a1a">0.58</text>
<circle cx="424" cy="1241" r="23.6" fill="#f3f3f3"/>
<text x="424" y="1247.3" font-size="18.6" text-anchor="middle" fill="#1a1a1a">0.42</text>
<circle cx="528" cy="1241" r="23.6" fill="#bde5b5"/>
<text x="528" y="1247.3" font-size="18.6" text-anchor="middle" fill="#1a1a1a">0.70</text>
<circle cx="633" cy="1241" r="23.6" fill="#f2f2f2"/>
<text x="633" y="1247.3" font-size="18.6" text-anchor="middle" fill="#1a1a1a">0.98</text>
<circle cx="737.4" cy="1241" r="23.6" fill="#e9e0ee"/>
<text x="737.4" y="1247.3" font-size="18.6" text-anchor="middle" fill="#1a1a1a">0.68</text>
<circle cx="842" cy="1241" r="23.6" fill="#ebe2ef"/>
<text x="842" y="1247.3" font-size="18.6" text-anchor="middle" fill="#1a1a1a">0.00</text>
<circle cx="947" cy="1241" r="23.6" fill="#e7dced"/>
<text x="947" y="1247.3" font-size="18.6" text-anchor="middle" fill="#1a1a1a">0.61</text>
<circle cx="1051.7" cy="1241" r="23.6" fill="#ebf6e8"/>
<text x="1051.7" y="1247.3" font-size="18.6" text-anchor="middle" fill="#1a1a1a">0.55</text>
<circle cx="1156.6" cy="1241" r="23.6" fill="#b395cb"/>
<text x="1156.6" y="1247.3" font-size="18.6" text-anchor="middle" fill="#1a1a1a">0.00</text>
<rect x="1211.8" y="1228.4" width="36.3" height="25.2" fill="#7fd3bb"/>
<text x="1252.4" y="1248.7" font-size="21.5" text-anchor="start" fill="#1a1a1a">0.37</text>
<rect x="1316.6" y="1228.4" width="65.0" height="25.2" fill="#3a8cc2"/>
<text x="1377.9" y="1248.7" font-size="21.5" text-anchor="end" fill="#1a1a1a">0.66</text>
<rect x="1420.8" y="1228.4" width="54.1" height="25.2" fill="#4ab3c4"/>
<text x="1471.2" y="1248.7" font-size="21.5" text-anchor="end" fill="#1a1a1a">0.54</text>
<text x="7.5" y="1294.3" font-size="18.6" text-anchor="start" fill="#1a1a1a" font-weight="bold">X_BBKNN</text>
<circle cx="213.3" cy="1288" r="23.6" fill="#eef5ec"/>
<text x="213.3" y="1294.3" font-size="18.6" text-anchor="middle" fill="#1a1a1a">0.67</text>
<circle cx="318" cy="1288" r="23.6" fill="#dff2db"/>
<text x="318" y="1294.3" font-size="18.6" text-anchor="middle" fill="#1a1a1a">0.64</text>
<circle cx="424" cy="1288" r="23.6" fill="#e4f4e0"/>
<text x="424" y="1294.3" font-size="18.6" text-anchor="middle" fill="#1a1a1a">0.49</text>
<circle cx="528" cy="1288" r="23.6" fill="#f3f3f3"/>
<text x="528" y="1294.3" font-size="18.6" text-anchor="middle" fill="#1a1a1a">0.44</text>
<circle cx="633" cy="1288" r="23.6" fill="#f2f2f2"/>
<text x="633" y="1294.3" font-size="18.6" text-anchor="middle" fill="#1a1a1a">0.98</text>
<circle cx="737.4" cy="1288" r="23.6" fill="#e9e0ee"/>
<text x="737.4" y="1294.3" font-size="18.6" text-anchor="middle" fill="#1a1a1a">0.67</text>
<circle cx="842" cy="1288" r="23.6" fill="#ebe2ef"/>
<text x="842" y="1294.3" font-size="18.6" text-anchor="middle" fill="#1a1a1a">0.00</text>
<circle cx="947" cy="1288" r="23.6" fill="#f3f3f3"/>
<text x="947" y="1294.3" font-size="18.6" text-anchor="middle" fill="#1a1a1a">0.72</text>
<circle cx="1051.7" cy="1288" r="23.6" fill="#f3f3f3"/>
<text x="1051.7" y="1294.3" font-size="18.6" text-anchor="middle" fill="#1a1a1a">0.51</text>
<circle cx="1156.6" cy="1288" r="23.6" fill="#b395cb"/>
<text x="1156.6" y="1294.3" font-size="18.6" text-anchor="middle" fill="#1a1a1a">0.00</text>
<rect x="1211.8" y="1275.4" width="37.4" height="25.2" fill="#7fd3bb"/>
<text x="1253.5" y="1295.7" font-size="21.5" text-anchor="start" fill="#1a1a1a">0.38</text>
<rect x="1316.6" y="1275.4" width="64.2" height="25.2" fill="#3a8cc2"/>
<text x="1377.1" y="1295.7" font-size="21.5" text-anchor="end" fill="#1a1a1a">0.65</text>
<rect x="1420.8" y="1275.4" width="53.5" height="25.2" fill="#4ab3c4"/>
<text x="1470.6" y="1295.7" font-size="21.5" text-anchor="end" fill="#1a1a1a">0.54</text>
<text x="7.5" y="1341.3" font-size="18.6" text-anchor="start" fill="#1a1a1a" font-weight="bold">X_Harmony</text>
<circle cx="213.3" cy="1335" r="23.6" fill="#ece6f0"/>
<text x="213.3" y="1341.3" font-size="18.6" text-anchor="middle" fill="#1a1a1a">0.59</text>
<circle cx="318" cy="1335" r="23.6" fill="#b395c9"/>
<text x="318" y="1341.3" font-size="18.6" text-anchor="middle" fill="#1a1a1a">0.25</text>
<circle cx="424" cy="1335" r="23.6" fill="#b9a0d0"/>
<text x="424" y="1341.3" font-size="18.6" text-anchor="middle" fill="#1a1a1a">0.13</text>
<circle cx="528" cy="1335" r="23.6" fill="#a585bd"/>
<text x="528" y="1341.3" font-size="18.6" text-anchor="middle" fill="#1a1a1a">0.00</text>
<circle cx="633" cy="1335" r="23.6" fill="#b89cd0"/>
<text x="633" y="1341.3" font-size="18.6" text-anchor="middle" fill="#1a1a1a">0.56</text>
<circle cx="737.4" cy="1335" r="23.6" fill="#eef6ec"/>
<text x="737.4" y="1341.3" font-size="18.6" text-anchor="middle" fill="#1a1a1a">0.82</text>
<circle cx="842" cy="1335" r="23.6" fill="#a9dca2"/>
<text x="842" y="1341.3" font-size="18.6" text-anchor="middle" fill="#1a1a1a">0.50</text>
<circle cx="947" cy="1335" r="23.6" fill="#a9dca2"/>
<text x="947" y="1341.3" font-size="18.6" text-anchor="middle" fill="#1a1a1a">1.00</text>
<circle cx="1051.7" cy="1335" r="23.6" fill="#e5daec"/>
<text x="1051.7" y="1341.3" font-size="18.6" text-anchor="middle" fill="#1a1a1a">0.39</text>
<circle cx="1156.6" cy="1335" r="23.6" fill="#a8dca1"/>
<text x="1156.6" y="1341.3" font-size="18.6" text-anchor="middle" fill="#1a1a1a">0.80</text>
<rect x="1211.8" y="1322.4" width="69.8" height="25.2" fill="#2f7cba"/>
<text x="1277.9" y="1342.7" font-size="21.5" text-anchor="end" fill="#ffffff">0.70</text>
<rect x="1316.6" y="1322.4" width="29.6" height="25.2" fill="#a8e0b6"/>
<text x="1350.5" y="1342.7" font-size="21.5" text-anchor="start" fill="#1a1a1a">0.30</text>
<rect x="1420.8" y="1322.4" width="46.0" height="25.2" fill="#66c9c1"/>
<text x="1471.1" y="1342.7" font-size="21.5" text-anchor="start" fill="#1a1a1a">0.46</text>
<text x="7.5" y="1388.3" font-size="18.6" text-anchor="start" fill="#1a1a1a" font-weight="bold">X_SCVI</text>
<circle cx="213.3" cy="1382" r="23.6" fill="#eef5ec"/>
<text x="213.3" y="1388.3" font-size="18.6" text-anchor="middle" fill="#1a1a1a">0.67</text>
<circle cx="318" cy="1382" r="23.6" fill="#7b3294"/>
<text x="318" y="1388.3" font-size="18.6" text-anchor="middle" fill="#ffffff">0.00</text>
<circle cx="424" cy="1382" r="23.6" fill="#a683c0"/>
<text x="424" y="1388.3" font-size="18.6" text-anchor="middle" fill="#ffffff">0.00</text>
<circle cx="528" cy="1382" r="23.6" fill="#e5d8ec"/>
<text x="528" y="1388.3" font-size="18.6" text-anchor="middle" fill="#1a1a1a">0.28</text>
<circle cx="633" cy="1382" r="23.6" fill="#6a2a87"/>
<text x="633" y="1388.3" font-size="18.6" text-anchor="middle" fill="#ffffff">0.10</text>
<circle cx="737.4" cy="1382" r="23.6" fill="#bfe6b7"/>
<text x="737.4" y="1388.3" font-size="18.6" text-anchor="middle" fill="#1a1a1a">1.00</text>
<circle cx="842" cy="1382" r="23.6" fill="#4ea458"/>
<text x="842" y="1388.3" font-size="18.6" text-anchor="middle" fill="#ffffff">0.71</text>
<circle cx="947" cy="1382" r="23.6" fill="#f3f3f3"/>
<text x="947" y="1388.3" font-size="18.6" text-anchor="middle" fill="#1a1a1a">0.71</text>
<circle cx="1051.7" cy="1382" r="23.6" fill="#efedf1"/>
<text x="1051.7" y="1388.3" font-size="18.6" text-anchor="middle" fill="#1a1a1a">0.44</text>
<circle cx="1156.6" cy="1382" r="23.6" fill="#4ea857"/>
<text x="1156.6" y="1388.3" font-size="18.6" text-anchor="middle" fill="#ffffff">1.00</text>
<rect x="1211.8" y="1369.4" width="76.5" height="25.2" fill="#2c50a8"/>
<text x="1284.6" y="1389.7" font-size="21.5" text-anchor="end" fill="#ffffff">0.77</text>
<rect x="1316.6" y="1369.4" width="20.2" height="25.2" fill="#d6efb3"/>
<text x="1341.1" y="1389.7" font-size="21.5" text-anchor="start" fill="#1a1a1a">0.21</text>
<rect x="1420.8" y="1369.4" width="43.2" height="25.2" fill="#6ccbc0"/>
<text x="1468.3" y="1389.7" font-size="21.5" text-anchor="start" fill="#1a1a1a">0.43</text>
<text x="7.5" y="1435.3" font-size="18.6" text-anchor="start" fill="#1a1a1a" font-weight="bold">X_MNN</text>
<circle cx="213.3" cy="1429" r="23.6" fill="#ece6f0"/>
<text x="213.3" y="1435.3" font-size="18.6" text-anchor="middle" fill="#1a1a1a">0.59</text>
<circle cx="318" cy="1429" r="23.6" fill="#ab8dc3"/>
<text x="318" y="1435.3" font-size="18.6" text-anchor="middle" fill="#1a1a1a">0.22</text>
<circle cx="424" cy="1429" r="23.6" fill="#b395cb"/>
<text x="424" y="1435.3" font-size="18.6" text-anchor="middle" fill="#1a1a1a">0.08</text>
<circle cx="528" cy="1429" r="23.6" fill="#b190c9"/>
<text x="528" y="1435.3" font-size="18.6" text-anchor="middle" fill="#1a1a1a">0.06</text>
<circle cx="633" cy="1429" r="23.6" fill="#451b5c"/>
<text x="633" y="1435.3" font-size="18.6" text-anchor="middle" fill="#ffffff">0.00</text>
<circle cx="737.4" cy="1429" r="23.6" fill="#f3f3f3"/>
<text x="737.4" y="1435.3" font-size="18.6" text-anchor="middle" fill="#1a1a1a">0.77</text>
<circle cx="842" cy="1429" r="23.6" fill="#1c5a26"/>
<text x="842" y="1435.3" font-size="18.6" text-anchor="middle" fill="#ffffff">1.00</text>
<circle cx="947" cy="1429" r="23.6" fill="#b99bd0"/>
<text x="947" y="1435.3" font-size="18.6" text-anchor="middle" fill="#1a1a1a">0.44</text>
<circle cx="1051.7" cy="1429" r="23.6" fill="#9560ad"/>
<text x="1051.7" y="1435.3" font-size="18.6" text-anchor="middle" fill="#ffffff">0.00</text>
<circle cx="1156.6" cy="1429" r="23.6" fill="#a8dca1"/>
<text x="1156.6" y="1435.3" font-size="18.6" text-anchor="middle" fill="#1a1a1a">0.80</text>
<rect x="1211.8" y="1416.4" width="59.3" height="25.2" fill="#3c9ec6"/>
<text x="1267.4" y="1436.7" font-size="21.5" text-anchor="end" fill="#1a1a1a">0.60</text>
<rect x="1316.6" y="1416.4" width="18.3" height="25.2" fill="#dbf1b4"/>
<text x="1339.2" y="1436.7" font-size="21.5" text-anchor="start" fill="#1a1a1a">0.19</text>
<rect x="1420.8" y="1416.4" width="35.2" height="25.2" fill="#93d8b8"/>
<text x="1460.3" y="1436.7" font-size="21.5" text-anchor="start" fill="#1a1a1a">0.35</text>
<text x="7.5" y="1482.3" font-size="18.6" text-anchor="start" fill="#1a1a1a" font-weight="bold">X_Harmony_time</text>
<circle cx="213.3" cy="1476" r="23.6" fill="#4a1a5e"/>
<text x="213.3" y="1482.3" font-size="18.6" text-anchor="middle" fill="#ffffff">0.00</text>
<circle cx="318" cy="1476" r="23.6" fill="#e0f3dc"/>
<text x="318" y="1482.3" font-size="18.6" text-anchor="middle" fill="#1a1a1a">0.64</text>
<circle cx="424" cy="1476" r="23.6" fill="#dcf1d8"/>
<text x="424" y="1482.3" font-size="18.6" text-anchor="middle" fill="#1a1a1a">0.53</text>
<circle cx="528" cy="1476" r="23.6" fill="#d6efd1"/>
<text x="528" y="1482.3" font-size="18.6" text-anchor="middle" fill="#1a1a1a">0.61</text>
<circle cx="633" cy="1476" r="23.6" fill="#b89cd0"/>
<text x="633" y="1482.3" font-size="18.6" text-anchor="middle" fill="#1a1a1a">0.57</text>
<circle cx="737.4" cy="1476" r="23.6" fill="#441759"/>
<text x="737.4" y="1482.3" font-size="18.6" text-anchor="middle" fill="#ffffff">0.00</text>
<circle cx="842" cy="1476" r="23.6" fill="#f3f3f3"/>
<text x="842" y="1482.3" font-size="18.6" text-anchor="middle" fill="#1a1a1a">0.12</text>
<circle cx="947" cy="1476" r="23.6" fill="#441759"/>
<text x="947" y="1482.3" font-size="18.6" text-anchor="middle" fill="#ffffff">0.00</text>
<circle cx="1051.7" cy="1476" r="23.6" fill="#b999d0"/>
<text x="1051.7" y="1482.3" font-size="18.6" text-anchor="middle" fill="#1a1a1a">0.17</text>
<circle cx="1156.6" cy="1476" r="23.6" fill="#b395cb"/>
<text x="1156.6" y="1482.3" font-size="18.6" text-anchor="middle" fill="#1a1a1a">0.00</text>
<rect x="1211.8" y="1463.4" width="4.9" height="25.2" fill="#eef8c8"/>
<text x="1221" y="1483.7" font-size="21.5" text-anchor="start" fill="#1a1a1a">0.06</text>
<rect x="1316.6" y="1463.4" width="46.4" height="25.2" fill="#65c8c2"/>
<text x="1367.3" y="1483.7" font-size="21.5" text-anchor="start" fill="#1a1a1a">0.47</text>
<rect x="1420.8" y="1463.4" width="30.5" height="25.2" fill="#a6dfb6"/>
<text x="1455.6" y="1483.7" font-size="21.5" text-anchor="start" fill="#1a1a1a">0.31</text>
<line x1="4" y1="1075.5" x2="1523" y2="1075.5" stroke="#111" stroke-width="2"/>
<line x1="4" y1="1499.3" x2="1523" y2="1499.3" stroke="#111" stroke-width="2"/>
<line x1="1209.2" y1="1076" x2="1209.2" y2="1499" stroke="#111" stroke-width="1.6"/>
<rect x="1466.3" y="1859.2" width="336.7" height="344.1" fill="#f4f8fc"/>
<rect x="1805.2" y="1859.2" width="336.8" height="344.1" fill="#f4f8fc"/>
<rect x="1466.3" y="1859.2" width="37.7" height="26.8" fill="#23387a"/>
<rect x="1503.7" y="1885.7" width="37.7" height="26.8" fill="#23387a"/>
<rect x="1541.1" y="1912.1" width="37.7" height="26.8" fill="#23387a"/>
<rect x="1765.6" y="1912.1" width="37.7" height="26.8" fill="#edf3f9"/>
<rect x="1541.1" y="1938.6" width="37.7" height="26.8" fill="#3f8ac4"/>
<rect x="1578.5" y="1938.6" width="37.7" height="26.8" fill="#c6dcee"/>
<rect x="1541.1" y="1965.1" width="37.7" height="26.8" fill="#e1ecf7"/>
<rect x="1578.5" y="1965.1" width="37.7" height="26.8" fill="#2a5aa8"/>
<rect x="1541.1" y="1991.5" width="37.7" height="26.8" fill="#eef4fa"/>
<rect x="1578.5" y="1991.5" width="37.7" height="26.8" fill="#23387a"/>
<rect x="1615.9" y="2018" width="37.7" height="26.8" fill="#23387a"/>
<rect x="1653.3" y="2044.5" width="37.7" height="26.8" fill="#23387a"/>
<rect x="1541.1" y="2071" width="37.7" height="26.8" fill="#c3daed"/>
<rect x="1578.5" y="2071" width="37.7" height="26.8" fill="#eef4fa"/>
<rect x="1615.9" y="2071" width="37.7" height="26.8" fill="#e3ecf7"/>
<rect x="1653.3" y="2071" width="37.7" height="26.8" fill="#e8f0f8"/>
<rect x="1690.8" y="2071" width="37.7" height="26.8" fill="#5a9fd0"/>
<rect x="1541.1" y="2097.4" width="37.7" height="26.8" fill="#eef3f9"/>
<rect x="1578.5" y="2097.4" width="37.7" height="26.8" fill="#e6eef8"/>
<rect x="1690.8" y="2097.4" width="37.7" height="26.8" fill="#27509e"/>
<rect x="1541.1" y="2123.9" width="37.7" height="26.8" fill="#eef3f9"/>
<rect x="1578.5" y="2123.9" width="37.7" height="26.8" fill="#e6eef8"/>
<rect x="1690.8" y="2123.9" width="37.7" height="26.8" fill="#27509e"/>
<rect x="1541.1" y="2150.4" width="37.7" height="26.8" fill="#e3edf8"/>
<rect x="1690.8" y="2150.4" width="37.7" height="26.8" fill="#eef4fa"/>
<rect x="1728.2" y="2150.4" width="37.7" height="26.8" fill="#2c58a5"/>
<rect x="1765.6" y="2150.4" width="37.7" height="26.8" fill="#eef4fa"/>
<rect x="1541.1" y="2176.8" width="37.7" height="26.8" fill="#eef3f9"/>
<rect x="1765.6" y="2176.8" width="37.7" height="26.8" fill="#23387a"/>
<rect x="1805.2" y="1859.2" width="30.9" height="26.8" fill="#23387a"/>
<rect x="1927.7" y="1859.2" width="30.9" height="26.8" fill="#edf3f9"/>
<rect x="1805.2" y="1885.7" width="30.9" height="26.8" fill="#2a53a3"/>
<rect x="1927.7" y="1885.7" width="30.9" height="26.8" fill="#edf3f9"/>
<rect x="2111.4" y="1885.7" width="30.9" height="26.8" fill="#e5eef8"/>
<rect x="1805.2" y="1912.1" width="30.9" height="26.8" fill="#4790c8"/>
<rect x="1958.3" y="1912.1" width="30.9" height="26.8" fill="#c6dcee"/>
<rect x="1835.8" y="1938.6" width="30.9" height="26.8" fill="#23387a"/>
<rect x="1866.4" y="1965.1" width="30.9" height="26.8" fill="#23387a"/>
<rect x="1897.1" y="1991.5" width="30.9" height="26.8" fill="#23387a"/>
<rect x="1805.2" y="2018" width="30.9" height="26.8" fill="#eaf1f9"/>
<rect x="1958.3" y="2018" width="30.9" height="26.8" fill="#23387a"/>
<rect x="1805.2" y="2044.5" width="30.9" height="26.8" fill="#d8e7f4"/>
<rect x="1958.3" y="2044.5" width="30.9" height="26.8" fill="#2c5aa8"/>
<rect x="1988.9" y="2071" width="30.9" height="26.8" fill="#23387a"/>
<rect x="2019.5" y="2097.4" width="30.9" height="26.8" fill="#23387a"/>
<rect x="2050.2" y="2123.9" width="30.9" height="26.8" fill="#23387a"/>
<rect x="2080.8" y="2150.4" width="30.9" height="26.8" fill="#23387a"/>
<rect x="2111.4" y="2176.8" width="30.9" height="26.8" fill="#23387a"/>
<rect x="1466.3" y="1859.2" width="336.7" height="344.1" fill="none" stroke="#333" stroke-width="1.2"/>
<rect x="1805.2" y="1859.2" width="336.8" height="344.1" fill="none" stroke="#333" stroke-width="1.2"/>
<line x1="1462.8" y1="1872.4" x2="1466.3" y2="1872.4" stroke="#333" stroke-width="1"/>
<text x="1459.3" y="1879.2" font-size="18.8" text-anchor="end" fill="#1a1a1a">PSC</text>
<line x1="1462.8" y1="1898.9" x2="1466.3" y2="1898.9" stroke="#333" stroke-width="1"/>
<text x="1459.3" y="1905.7" font-size="18.8" text-anchor="end" fill="#1a1a1a">Neuroepithelium</text>
<line x1="1462.8" y1="1925.4" x2="1466.3" y2="1925.4" stroke="#333" stroke-width="1"/>
<text x="1459.3" y="1932.2" font-size="18.8" text-anchor="end" fill="#1a1a1a">Radial glia</text>
<line x1="1462.8" y1="1951.8" x2="1466.3" y2="1951.8" stroke="#333" stroke-width="1"/>
<text x="1459.3" y="1958.6" font-size="18.8" text-anchor="end" fill="#1a1a1a">Neuronal IPC</text>
<line x1="1462.8" y1="1978.3" x2="1466.3" y2="1978.3" stroke="#333" stroke-width="1"/>
<text x="1459.3" y="1985.1" font-size="18.8" text-anchor="end" fill="#1a1a1a">Neuroblast</text>
<line x1="1462.8" y1="2004.8" x2="1466.3" y2="2004.8" stroke="#333" stroke-width="1"/>
<text x="1459.3" y="2011.6" font-size="18.8" text-anchor="end" fill="#1a1a1a">Neuron</text>
<line x1="1462.8" y1="2031.3" x2="1466.3" y2="2031.3" stroke="#333" stroke-width="1"/>
<text x="1459.3" y="2038.1" font-size="18.8" text-anchor="end" fill="#1a1a1a">Glioblast</text>
<line x1="1462.8" y1="2057.7" x2="1466.3" y2="2057.7" stroke="#333" stroke-width="1"/>
<text x="1459.3" y="2064.5" font-size="18.8" text-anchor="end" fill="#1a1a1a">Astrocyte</text>
<line x1="1462.8" y1="2084.2" x2="1466.3" y2="2084.2" stroke="#333" stroke-width="1"/>
<text x="1459.3" y="2091" font-size="18.8" text-anchor="end" fill="#1a1a1a">Pre-OPC</text>
<line x1="1462.8" y1="2110.7" x2="1466.3" y2="2110.7" stroke="#333" stroke-width="1"/>
<text x="1459.3" y="2117.5" font-size="18.8" text-anchor="end" fill="#1a1a1a">OPC</text>
<line x1="1462.8" y1="2137.1" x2="1466.3" y2="2137.1" stroke="#333" stroke-width="1"/>
<text x="1459.3" y="2143.9" font-size="18.8" text-anchor="end" fill="#1a1a1a">COP</text>
<line x1="1462.8" y1="2163.6" x2="1466.3" y2="2163.6" stroke="#333" stroke-width="1"/>
<text x="1459.3" y="2170.4" font-size="18.8" text-anchor="end" fill="#1a1a1a">Neural crest</text>
<line x1="1462.8" y1="2190.1" x2="1466.3" y2="2190.1" stroke="#333" stroke-width="1"/>
<text x="1459.3" y="2196.9" font-size="18.8" text-anchor="end" fill="#1a1a1a">Fibroblast</text>
<line x1="1485" y1="1855.7" x2="1485" y2="1859.2" stroke="#333" stroke-width="1"/>
<text x="1480.6" y="1850.6" font-size="18.8" text-anchor="end" fill="#1a1a1a" transform="rotate(90 1480.6 1850.6)">PSC</text>
<line x1="1522.4" y1="1855.7" x2="1522.4" y2="1859.2" stroke="#333" stroke-width="1"/>
<text x="1518" y="1850.6" font-size="18.8" text-anchor="end" fill="#1a1a1a" transform="rotate(90 1518 1850.6)">Neuroepithelium</text>
<line x1="1559.8" y1="1855.7" x2="1559.8" y2="1859.2" stroke="#333" stroke-width="1"/>
<text x="1555.4" y="1850.6" font-size="18.8" text-anchor="end" fill="#1a1a1a" transform="rotate(90 1555.4 1850.6)">NPC</text>
<line x1="1597.2" y1="1855.7" x2="1597.2" y2="1859.2" stroke="#333" stroke-width="1"/>
<text x="1592.8" y="1850.6" font-size="18.8" text-anchor="end" fill="#1a1a1a" transform="rotate(90 1592.8 1850.6)">Neuron</text>
<line x1="1634.6" y1="1855.7" x2="1634.6" y2="1859.2" stroke="#333" stroke-width="1"/>
<text x="1630.2" y="1850.6" font-size="18.8" text-anchor="end" fill="#1a1a1a" transform="rotate(90 1630.2 1850.6)">Glioblast</text>
<line x1="1672.1" y1="1855.7" x2="1672.1" y2="1859.2" stroke="#333" stroke-width="1"/>
<text x="1667.7" y="1850.6" font-size="18.8" text-anchor="end" fill="#1a1a1a" transform="rotate(90 1667.7 1850.6)">Astrocyte</text>
<line x1="1709.5" y1="1855.7" x2="1709.5" y2="1859.2" stroke="#333" stroke-width="1"/>
<text x="1705.1" y="1850.6" font-size="18.8" text-anchor="end" fill="#1a1a1a" transform="rotate(90 1705.1 1850.6)">OPC</text>
<line x1="1746.9" y1="1855.7" x2="1746.9" y2="1859.2" stroke="#333" stroke-width="1"/>
<text x="1742.5" y="1850.6" font-size="18.8" text-anchor="end" fill="#1a1a1a" transform="rotate(90 1742.5 1850.6)">NC Derivatives</text>
<line x1="1784.3" y1="1855.7" x2="1784.3" y2="1859.2" stroke="#333" stroke-width="1"/>
<text x="1779.9" y="1850.6" font-size="18.8" text-anchor="end" fill="#1a1a1a" transform="rotate(90 1779.9 1850.6)">MC</text>
<line x1="1820.5" y1="1855.7" x2="1820.5" y2="1859.2" stroke="#333" stroke-width="1"/>
<text x="1816.1" y="1850.6" font-size="18.8" text-anchor="end" fill="#1a1a1a" transform="rotate(90 1816.1 1850.6)">Radial glia</text>
<line x1="1851.1" y1="1855.7" x2="1851.1" y2="1859.2" stroke="#333" stroke-width="1"/>
<text x="1846.7" y="1850.6" font-size="18.8" text-anchor="end" fill="#1a1a1a" transform="rotate(90 1846.7 1850.6)">Neuronal IPC</text>
<line x1="1881.8" y1="1855.7" x2="1881.8" y2="1859.2" stroke="#333" stroke-width="1"/>
<text x="1877.3" y="1850.6" font-size="18.8" text-anchor="end" fill="#1a1a1a" transform="rotate(90 1877.3 1850.6)">Neuroblast</text>
<line x1="1912.4" y1="1855.7" x2="1912.4" y2="1859.2" stroke="#333" stroke-width="1"/>
<text x="1908" y="1850.6" font-size="18.8" text-anchor="end" fill="#1a1a1a" transform="rotate(90 1908 1850.6)">Neuron</text>
<line x1="1943" y1="1855.7" x2="1943" y2="1859.2" stroke="#333" stroke-width="1"/>
<text x="1938.6" y="1850.6" font-size="18.8" text-anchor="end" fill="#1a1a1a" transform="rotate(90 1938.6 1850.6)">Glioblast</text>
<line x1="1973.6" y1="1855.7" x2="1973.6" y2="1859.2" stroke="#333" stroke-width="1"/>
<text x="1969.2" y="1850.6" font-size="18.8" text-anchor="end" fill="#1a1a1a" transform="rotate(90 1969.2 1850.6)">Pre-astrocyte</text>
<line x1="2004.2" y1="1855.7" x2="2004.2" y2="1859.2" stroke="#333" stroke-width="1"/>
<text x="1999.8" y="1850.6" font-size="18.8" text-anchor="end" fill="#1a1a1a" transform="rotate(90 1999.8 1850.6)">Pre-OPC</text>
<line x1="2034.9" y1="1855.7" x2="2034.9" y2="1859.2" stroke="#333" stroke-width="1"/>
<text x="2030.5" y="1850.6" font-size="18.8" text-anchor="end" fill="#1a1a1a" transform="rotate(90 2030.5 1850.6)">OPC</text>
<line x1="2065.5" y1="1855.7" x2="2065.5" y2="1859.2" stroke="#333" stroke-width="1"/>
<text x="2061.1" y="1850.6" font-size="18.8" text-anchor="end" fill="#1a1a1a" transform="rotate(90 2061.1 1850.6)">COP</text>
<line x1="2096.1" y1="1855.7" x2="2096.1" y2="1859.2" stroke="#333" stroke-width="1"/>
<text x="2091.7" y="1850.6" font-size="18.8" text-anchor="end" fill="#1a1a1a" transform="rotate(90 2091.7 1850.6)">Neural crest</text>
<line x1="2126.7" y1="1855.7" x2="2126.7" y2="1859.2" stroke="#333" stroke-width="1"/>
<text x="2122.3" y="1850.6" font-size="18.8" text-anchor="end" fill="#1a1a1a" transform="rotate(90 2122.3 1850.6)">Fibroblast</text>
<text x="1641.8" y="2236" font-size="22" text-anchor="middle" fill="#1a1a1a">He <tspan font-style="italic">et al.</tspan>, 2024</text>
<text x="1983.7" y="2236" font-size="22" text-anchor="middle" fill="#1a1a1a">Braun <tspan font-style="italic">et al.</tspan>, 2023</text>
<defs><linearGradient id="cbar" x1="0" x2="1" y1="0" y2="0"><stop offset="0" stop-color="#f7fbff"/><stop offset="0.35" stop-color="#b9d6ec"/><stop offset="0.65" stop-color="#4a90c8"/><stop offset="1" stop-color="#22347a"/></linearGradient></defs>
<rect x="1735" y="2252" width="156.2" height="12.4" fill="url(#cbar)" stroke="#555" stroke-width="0.6"/>
<text x="1735" y="2282.5" font-size="19" text-anchor="middle" fill="#1a1a1a">0</text>
<text x="1812.5" y="2282.5" font-size="19" text-anchor="middle" fill="#1a1a1a">Correlation</text>
<text x="1890" y="2282.5" font-size="19" text-anchor="middle" fill="#1a1a1a">1</text>
<defs><filter id="dblur" x="-10%" y="-10%" width="120%" height="120%"><feGaussianBlur stdDeviation="3.5"/></filter><filter id="dol" x="-5%" y="-5%" width="110%" height="110%"><feMorphology in="SourceAlpha" operator="dilate" radius="0.9" result="d"/><feFlood flood-color="#1e1e1e"/><feComposite in2="d" operator="in" result="o"/><feMerge><feMergeNode in="o"/><feMergeNode in="SourceGraphic"/></feMerge></filter></defs>
<g filter="url(#dblur)">
<path d="M1604 886l17-14 16 4 4 35-4 40-2 41 2 40 0 40 2 41-8 10-12-10-11-20-6-41-2-40 0-41 2-40z" fill="#9ccd4c"/>
<path d="M1637 880l18 4 12 15 2 42-4 51-2 50-8 41-12 20-6-51 0-81z" fill="#c9b456"/>
<path d="M1675 890l16-10 21 0 14 10 2 31-8 30-19 12-22-4-12-18 2-30z" fill="#4a90c8"/>
<path d="M1659 955l24 4 24 4 9 29-4 40-13 30-16 10-18-10-8-30-2-40z" fill="#86c25c"/>
<path d="M1699 955l25 4 20 12 18 21 12 30 4 40 1 51-1 40-14 12-20-12-20-20-17-30-12-31-4-40 2-40z" fill="#ec7a55"/>
<path d="M1712 1062l30-10 26 31 10 40-6 30-24-4-24-26-12-30z" fill="#e8545f"/>
<path d="M1683 1072l24 11 5 30-17 20-20-4-8-26z" fill="#e59a4a"/>
<path d="M1655 1103l28-10 29 20 16 40 4 41-8 30-25 10-24-4-16-16-8-41-2-40z" fill="#5b9e98"/>
<path d="M1724 1153l24 4 16 16-6 31-16 20-14 2-4-32z" fill="#e0b048"/>
</g>
<g filter="url(#dol)">
<path d="M1627 858h0m-13 3h0m6 4h0m0-3h0m21 5h0m1 1h0m7-1h0m3-1h0m2 0h0m4 2h0m88 1h0m5-6h0m-138 10h0m5 5h0m8-8h0m3 7h0m14-1h0m1-3h0m3 0h0m6 1h0m1-3h0m5 4h0m2 0h0m83 1h0m10 3h0m3-5h0m17 0h0m-174 6h0m19 8h0m6-3h0m1-3h0m13 5h0m13 1h0m6-2h0m3-4h0m4 0h0m65 5h0m1-7h0m16 7h0m21 2h0m0-5h0m19 0h0m-180 12h0m14 2h0m1-8h0m0 3h0m0 4h0m3-6h0m0 0h0m14 2h0m2 0h0m3 4h0m1 2h0m2-5h0m0 4h0m3 1h0m0 0h0m2-4h0m24 1h0m53-4h0m31 5h0m4-7h0m4 2h0m4 7h0m22-1h0m-172 5h0m0 1h0m8-1h0m6 5h0m3-4h0m0 0h0m10 3h0m0-3h0m80 2h0m10 3h0m2-9h0m3 8h0m4-3h0m9 1h0m5 1h0m20-3h0m10 2h0m-190 6h0m16 2h0m2 0h0m2 1h0m1-4h0m7-1h0m8 8h0m1-3h0m10-5h0m0 5h0m77-4h0m27 8h0m3-2h0m4 1h0m4-6h0m3 4h0m0-5h0m4 7h0m0-1h0m5-7h0m5 4h0m0 3h0m10 0h0m1-6h0m-188 15h0m3 2h0m1-5h0m16 2h0m11 0h0m3 1h0m11-5h0m4 0h0m6 4h0m7 3h0m5 1h0m44-1h0m15 0h0m6-8h0m2 8h0m2-7h0m10-1h0m11 4h0m2-2h0m33 3h0m-183 10h0m1 4h0m4-1h0m1-6h0m4 2h0m0 3h0m4-1h0m11 3h0m5 0h0m7-3h0m2 2h0m3 1h0m1-1h0m2 0h0m2-1h0m5-2h0m57 0h0m37 1h0m12-2h0m7-3h0m-174 17h0m1-4h0m4-3h0m2 0h0m0 8h0m1-9h0m1 4h0m2 1h0m2-1h0m5 0h0m7 3h0m3-2h0m0 0h0m2-1h0m1-3h0m1 5h0m4 3h0m1-5h0m2-3h0m0 4h0m4-2h0m1 3h0m0 1h0m6-3h0m0-4h0m3 1h0m6 4h0m8-1h0m38 3h0m19-4h0m4 2h0m1-5h0m11 3h0m4-2h0m7 1h0m3-1h0m5 6h0m3-1h0m3 0h0m8 1h0m3 2h0m17-5h0m-197 8h0m3 5h0m5 0h0m8-5h0m1 0h0m1 0h0m6-1h0m1 8h0m1-2h0m2 2h0m1-5h0m8-3h0m0 4h0m1 2h0m2-4h0m0-1h0m5 2h0m0-1h0m4 5h0m0-7h0m2-1h0m2 1h0m0 6h0m0-3h0m3-4h0m0 3h0m0 6h0m0-6h0m2 2h0m2 2h0m3-1h0m2 3h0m2-4h0m3 1h0m30-4h0m15 7h0m17-4h0m7-5h0m27 5h0m9 2h0m6-7h0m-183 19h0m8-2h0m7-5h0m0 4h0m0 3h0m6-7h0m4 4h0m2-2h0m4-1h0m1 5h0m1-6h0m0-1h0m0 6h0m3-2h0m0-3h0m5-1h0m1 2h0m3 5h0m3-2h0m1-1h0m0 1h0m2-2h0m2 1h0m3-4h0m0 7h0m2 1h0m0-2h0m3-6h0m3 1h0m0 2h0m2 3h0m11-1h0m2-5h0m9 0h0m3 5h0m31-3h0m10 3h0m1-2h0m4 1h0m14 4h0m11-8h0m1-1h0m4 0h0m13 0h0m8 2h0m2-1h0m10 4h0m7-5h0m-219 19h0m18-5h0m6-4h0m4 6h0m1 0h0m6-1h0m3-3h0m1 0h0m0 0h0m14 1h0m8-3h0m9 8h0m3-7h0m6 0h0m3 2h0m8-3h0m1 0h0m13 3h0m2 4h0m11 1h0m32-3h0m16 1h0m9 3h0m5-9h0m1 5h0m-155 6h0m5 6h0m2 2h0m4-2h0m1-2h0m2-4h0m0 5h0m6 2h0m1-6h0m5-2h0m5 1h0m2 7h0m2-3h0m1-4h0m7 4h0m6 1h0m1 1h0m3 1h0m5-5h0m11-2h0m2 2h0m1 4h0m10-1h0m3-5h0m2 8h0m29-9h0m3 4h0m9 5h0m5-4h0m5 4h0m1-6h0m3 2h0m4-2h0m1 5h0m8-8h0m23 8h0m-176 11h0m3 0h0m1-7h0m0-2h0m1 8h0m4 1h0m2-5h0m5 1h0m2-3h0m3 5h0m11-5h0m4-1h0m4 7h0m5-1h0m4-5h0m0 2h0m1-2h0m4-1h0m0 0h0m3-1h0m2 8h0m2-6h0m1 3h0m6-5h0m4 5h0m1 1h0m16-3h0m0 0h0m14 0h0m3 6h0m3-6h0m15-3h0m6 8h0m2-2h0m7-5h0m5 6h0m1 2h0m3-4h0m1-4h0m22-1h0m3 3h0m7 0h0m9 0h0m6 6h0m9-5h0m-209 12h0m2-6h0m2 4h0m4 1h0m0 1h0m3 2h0m2-8h0m1 5h0m2 1h0m6 2h0m2-8h0m4 0h0m6 2h0m0 4h0m1 1h0m3-5h0m1 2h0m0 3h0m1-2h0m5 1h0m1 1h0m3-1h0m1-4h0m7 5h0m10-2h0m9-2h0m1 4h0m15-1h0m0-4h0m16 6h0m9-6h0m5 7h0m4-8h0m1 5h0m13 1h0m2-3h0m4 4h0m5-4h0m17 1h0m20-1h0m10-2h0m-192 10h0m1 0h0m4 4h0m3-6h0m8 4h0m2 0h0m4 4h0m1-7h0m7 8h0m0-8h0m0 1h0m1 1h0m1-3h0m0 8h0m1-5h0m10-3h0m3 8h0m0-5h0m12-2h0m2 3h0m13-4h0m6 1h0m5 5h0m7-1h0m17 2h0m2-1h0m6 1h0m1 2h0m7-6h0m19 1h0m9 1h0m22 2h0m6-2h0m7-2h0m4 3h0m1-5h0m12 4h0m35 4h0m-248 2h0m1 0h0m3 7h0m1-4h0m1-4h0m1 5h0m0 2h0m8 0h0m2 0h0m5-4h0m2 2h0m1-1h0m1 4h0m9-6h0m1-1h0m10 7h0m5-4h0m2 1h0m1 1h0m0-1h0m4-3h0m4-1h0m5 7h0m1-7h0m7 5h0m1 0h0m11 2h0m8-7h0m3 1h0m9 7h0m0-1h0m10-4h0m2 2h0m9 0h0m3-6h0m14 4h0m15 1h0m2-1h0m0 0h0m9-3h0m6 3h0m11 2h0m6-5h0m1 5h0m2-2h0m7 5h0m2-2h0m2-6h0m2 2h0m3-1h0m5 7h0m-220 10h0m0-7h0m2 5h0m1-4h0m8-1h0m4 6h0m1-4h0m6 5h0m2-1h0m6-2h0m8 1h0m0 1h0m5 0h0m1-8h0m7 7h0m0-2h0m0-3h0m0-2h0m1 7h0m1-7h0m2 4h0m3 3h0m2-7h0m6 2h0m7-1h0m24 3h0m15-1h0m6 4h0m8-2h0m4 3h0m8-4h0m1 2h0m2 3h0m2-9h0m1 7h0m5-2h0m28 4h0m14-9h0m3 8h0m8-8h0m0 0h0m1 5h0m13-5h0m14 7h0m-221 6h0m2 5h0m0-5h0m1-1h0m1 6h0m2-8h0m0 0h0m6 7h0m0 2h0m2-5h0m3 5h0m1-3h0m1-4h0m4 6h0m2 0h0m2 0h0m7-7h0m1 0h0m1 2h0m7 0h0m2-2h0m3-1h0m6 7h0m7-3h0m2 2h0m0 2h0m0-6h0m4 5h0m7-1h0m8-5h0m9 7h0m0-6h0m4 5h0m9-7h0m2 6h0m1-2h0m9 4h0m1-5h0m3 0h0m2 5h0m1-8h0m25 4h0m1-3h0m2 1h0m1-1h0m1 1h0m6 1h0m5 4h0m5-6h0m1 2h0m8-3h0m5 3h0m0 6h0m3 0h0m2-7h0m10 4h0m1-1h0m2-2h0m4 5h0m133-6h0m2 5h0m0 2h0m2-1h0m3-3h0m6 4h0m2-1h0m-367 3h0m2 6h0m7-7h0m2 4h0m1 0h0m1-1h0m0 4h0m3 2h0m1-3h0m4 0h0m3-1h0m6 0h0m2 1h0m2-5h0m2 8h0m5-5h0m11 5h0m1-7h0m3-1h0m8 7h0m27-4h0m4 2h0m5-1h0m1-5h0m2 3h0m3 2h0m13-3h0m4 7h0m16 0h0m6-3h0m7 2h0m1 0h0m9-2h0m17 0h0m1 0h0m0-6h0m166 0h0m2 2h0m1 6h0m3-3h0m0-1h0m0 0h0m1 1h0m0 0h0m0 3h0m1-3h0m1-3h0m1 4h0m1 0h0m15-3h0m3 2h0m-361 9h0m1-3h0m1 7h0m1-2h0m1-4h0m8 7h0m4-3h0m1-6h0m6 9h0m11-7h0m28-1h0m6 8h0m1-1h0m5-4h0m10 0h0m9-3h0m7-1h0m11 8h0m4-2h0m17 2h0m2-7h0m5 6h0m7 0h0m1-1h0m25-2h0m2 4h0m3-8h0m8 0h0m3 0h0m4 7h0m143-6h0m4 3h0m1-4h0m5 2h0m-351 14h0m2-2h0m0 4h0m7-5h0m3-1h0m1 6h0m3-8h0m2 4h0m0 3h0m1 1h0m4-4h0m3-3h0m13 2h0m2 6h0m28-3h0m22-5h0m1 1h0m30-2h0m41 0h0m4 1h0m4 5h0m29-2h0m0 5h0m148-3h0m-347 12h0m10 1h0m1-2h0m19 1h0m16-5h0m23 1h0m0 3h0m0-7h0m28 3h0m0-1h0m60 1h0m3-3h0m4 2h0m6 6h0m4-7h0m11 2h0m2 2h0m8-2h0m1-2h0m10 7h0m-189 6h0m0 4h0m33-6h0m29 5h0m22-2h0m7-4h0m3 7h0m20-8h0m16 6h0m0-2h0m7 2h0m3-4h0m15 7h0m14-9h0m5 1h0m1 8h0m1 0h0m3 0h0m34 0h0m119-4h0m-356 10h0m9-1h0m1 4h0m4-7h0m4 4h0m4 1h0m0-4h0m70 3h0m1 0h0m37-1h0m31 0h0m12-1h0m56 4h0m147-2h0m-361 12h0m10 0h0m1-7h0m27 0h0m27 5h0m13 3h0m39-3h0m2-4h0m15 1h0m4 4h0m26-4h0m27 7h0m4-6h0m22 6h0m8-3h0m1-2h0m100-1h0m-336 10h0m16 6h0m1-5h0m41 4h0m25-5h0m27-1h0m18 6h0m6-3h0m28 0h0m30 3h0m3-3h0m7 2h0m5-5h0m11 2h0m1-4h0m5 2h0m1 3h0m-231 6h0m20-1h0m61 2h0m3 6h0m23-1h0m14 2h0m1-6h0m4 3h0m9 2h0m5-2h0m1 0h0m23 3h0m5-9h0m8 3h0m8 4h0m10 1h0m3-7h0m13-1h0m23 3h0m-199 12h0m35-1h0m12 1h0m29-3h0m4 2h0m29 0h0m19-2h0m26 0h0m6 2h0m1-3h0m10 7h0m-201 11h0m69-7h0m5 1h0m13 5h0m6-3h0m15 4h0m13-4h0m6 2h0m2-6h0m1 6h0m2-2h0m1 4h0m3-3h0m2-6h0m0 5h0m2 3h0m4-2h0m0 0h0m1 1h0m2 1h0m5-1h0m7-6h0m0 7h0m10-2h0m0 0h0m15-5h0m21 5h0m-202 10h0m59 0h0m1-5h0m15 4h0m8 3h0m8-4h0m18 5h0m9-7h0m9 0h0m1-2h0m1 1h0m2-1h0m0 3h0m1 2h0m2-1h0m3-2h0m2 1h0m4 3h0m0-4h0m1-2h0m4 2h0m7 6h0m9-1h0m7-2h0m19-1h0m4-1h0m25 0h0m1 2h0m-193 13h0m25-6h0m9 6h0m1 0h0m8 1h0m5-4h0m2 0h0m6-1h0m12 5h0m2-7h0m5-2h0m0 9h0m17-6h0m2-2h0m3 1h0m1 6h0m1-5h0m5 3h0m1-2h0m2-2h0m1 5h0m8 1h0m0-3h0m1 1h0m2 1h0m2 0h0m1 2h0m3-3h0m2-4h0m0 3h0m9-3h0m9 3h0m-110 13h0m5 1h0m13-3h0m6-2h0m2 1h0m10-5h0m6 3h0m2 4h0m10-4h0m1 5h0m1-7h0m0-1h0m2 4h0m6-3h0m1 5h0m1 2h0m0-6h0m2-2h0m1 8h0m2-6h0m0 0h0m1 3h0m0-5h0m0 1h0m3 4h0m4 4h0m1-8h0m1 5h0m1 3h0m0-2h0m2-1h0m0-6h0m0 9h0m0-5h0m1 5h0m0-1h0m0-7h0m0 7h0m0-4h0m2-4h0m3 7h0m1-7h0m25 0h0m2 7h0m12-1h0m20 1h0m-158 10h0m12 1h0m11-7h0m8 8h0m5 0h0m9-4h0m2 0h0m2 2h0m8-5h0m2 6h0m1-7h0m8 5h0m1 2h0m0-3h0m1 3h0m2-2h0m0 3h0m7-3h0m2-1h0m1-2h0m1 4h0m1 1h0m2-7h0m0 8h0m2 0h0m0-9h0m1 5h0m2 4h0m0-4h0m1 4h0m0-9h0m1 4h0m1-3h0m0 0h0m1 7h0m1-1h0m7 2h0m18-1h0m-98 2h0m25 3h0m7 3h0m2-4h0m2 4h0m5 1h0m5 0h0m1 0h0m2-4h0m1 1h0m0 5h0m3-4h0m0-2h0m0-1h0m2-2h0m0 8h0m4-4h0m0 4h0m0 1h0m0-4h0m1 3h0m1 1h0m0-8h0m0 2h0m2 0h0m1 2h0m1-5h0m0 3h0m2-2h0m8 7h0m2-5h0m2-3h0m0 4h0m0-3h0m1 0h0m1 6h0m2 0h0m8-2h0m-103 7h0m11 5h0m4-7h0m20 9h0m8-7h0m3 6h0m1-5h0m7-2h0m1-1h0m1 5h0m1-4h0m1 3h0m1-4h0m4 4h0m2 1h0m5-5h0m2 1h0m3 8h0m0-6h0m0-1h0m2 3h0m1-1h0m1 0h0m0-2h0m1 6h0m4-3h0m4-2h0m1 0h0m2 2h0m-181 7h0m68-2h0m29 6h0m4 1h0m10-5h0m10 7h0m2-6h0m6 3h0m11-3h0m6-2h0m1-1h0m2 9h0m14-4h0m3 3h0m3-8h0m1 2h0m4 6h0m6-5h0m-97 14h0m53 1h0m12-5h0m16 4h0m7 2h0m-20 9h0m13-5h0m2 3h0m1-5h0m11 5h0m6-5h0" stroke="#e8c845" stroke-width="3.5" stroke-linecap="round"/>
<path d="M1653 859h0m-31 2h0m10 6h0m27-1h0m69-4h0m4 6h0m5-2h0m11 3h0m4-8h0m4 0h0m24-1h0m15 6h0m-151 13h0m5-2h0m72 1h0m4-5h0m1 0h0m4-3h0m8 5h0m1 1h0m2 1h0m2 1h0m11-6h0m18 3h0m-131 14h0m5-7h0m5 5h0m2 2h0m1-4h0m2 1h0m3 0h0m0 1h0m65-5h0m14-2h0m3 3h0m8-1h0m0 5h0m5 2h0m16-7h0m1 1h0m6-1h0m-180 10h0m11 5h0m42-6h0m13 2h0m3-3h0m50 7h0m13-3h0m4-4h0m19 3h0m3-1h0m5 1h0m13 4h0m0 2h0m4-7h0m9 4h0m8-1h0m-182 12h0m37 1h0m5-7h0m6 3h0m12 5h0m52 0h0m13 0h0m9-6h0m13 0h0m5 2h0m19-4h0m22 2h0m-174 15h0m9-6h0m3 6h0m4-3h0m2-2h0m1 1h0m2 4h0m11-1h0m1-2h0m50-5h0m20 1h0m7 2h0m0 2h0m2 3h0m5-4h0m1 5h0m16-9h0m37 8h0m8 1h0m25-6h0m-224 12h0m21-5h0m4 2h0m5 3h0m11-4h0m4 8h0m1-2h0m7-6h0m79 7h0m6 0h0m1-8h0m0 9h0m2-1h0m1 0h0m0-4h0m9 4h0m3-2h0m5 1h0m5-5h0m2 1h0m3 2h0m11 1h0m3 2h0m-182 7h0m9-1h0m9-1h0m0-3h0m5 1h0m4 6h0m14-7h0m6 5h0m8-3h0m0 4h0m60-2h0m1-4h0m13 5h0m5 2h0m6-1h0m3 1h0m1 2h0m0 0h0m4-6h0m1-3h0m3 5h0m3-3h0m2 2h0m4 5h0m-156 3h0m11 7h0m2-4h0m7-3h0m2-2h0m2 8h0m5 1h0m2-4h0m1 1h0m3-3h0m0 0h0m0 0h0m4 1h0m13 5h0m16-9h0m52 8h0m10 0h0m1-3h0m1 3h0m0-4h0m0 3h0m0-5h0m5 2h0m2-4h0m6 0h0m6 4h0m9 5h0m4-2h0m-176 11h0m26-4h0m3 0h0m1 2h0m0-3h0m3 6h0m0-6h0m7 1h0m7 5h0m11-9h0m79 1h0m2 7h0m10-1h0m7 0h0m0-2h0m1 0h0m1-4h0m16 1h0m5 2h0m0 5h0m2-1h0m3-1h0m31-1h0m-213 7h0m20-2h0m10-1h0m6 0h0m1 7h0m5-7h0m2 7h0m2-7h0m3 1h0m3 5h0m2-6h0m1 7h0m22-2h0m12-1h0m2 2h0m28 0h0m2 3h0m2 0h0m1-1h0m9-5h0m0 1h0m2-4h0m1 8h0m7-8h0m3 6h0m2-3h0m7 1h0m3 2h0m0 3h0m4 0h0m5 0h0m2-9h0m5 4h0m0 0h0m1 4h0m5-6h0m13 3h0m17 2h0m-202 7h0m11-4h0m2 8h0m7-7h0m2 8h0m11-8h0m0 2h0m1 3h0m10 0h0m1 2h0m2-4h0m9 3h0m40-2h0m0-4h0m11 2h0m0 0h0m10 6h0m3-7h0m1-2h0m8 7h0m3 0h0m6 1h0m7-4h0m2-1h0m12-3h0m4 6h0m10 1h0m3-7h0m3 3h0m-173 12h0m3 2h0m6-4h0m3 2h0m2-4h0m6 8h0m4-1h0m0 1h0m3 0h0m1-1h0m1-6h0m3 4h0m1-2h0m2 4h0m6-4h0m1 1h0m6-5h0m28 1h0m1 4h0m6-3h0m6 2h0m9 4h0m6-8h0m7 4h0m2-2h0m2 2h0m11-1h0m2 1h0m6-3h0m4 0h0m5 6h0m2-7h0m4 2h0m3 6h0m2-4h0m2-3h0m13 6h0m9-4h0m8 4h0m18 1h0m-209 6h0m28 3h0m62-2h0m5 1h0m5 3h0m17-8h0m2 3h0m1 3h0m4-5h0m2 1h0m4-1h0m8 2h0m8 1h0m0 4h0m8-8h0m2 3h0m4 2h0m1-3h0m3 1h0m2 5h0m6 0h0m5-7h0m4 0h0m12 7h0m1-8h0m1-1h0m1 6h0m131 2h0m-316 8h0m10 2h0m11-7h0m8 4h0m1 4h0m29-7h0m34 6h0m8 0h0m14-2h0m5 0h0m1 3h0m0-5h0m3 3h0m3-4h0m8 0h0m1-3h0m13 8h0m7-5h0m2 3h0m4-6h0m0 4h0m6 1h0m7 4h0m2-9h0m4 9h0m14-1h0m-219 10h0m16-8h0m26 2h0m3 1h0m2-1h0m22 3h0m34 2h0m12-1h0m4 3h0m3-4h0m9-5h0m4 6h0m2-4h0m5-2h0m2 8h0m0-4h0m5 2h0m1-5h0m0 0h0m3 6h0m2-1h0m12 2h0m1-1h0m9-4h0m5 0h0m2-1h0m0 5h0m1-6h0m5 3h0m1 5h0m5-5h0m6 0h0m3-1h0m5 3h0m8-2h0m9 2h0m0-3h0m7 5h0m3-4h0m39 4h0m83-6h0m20 5h0m-373 12h0m24-8h0m2 8h0m12-6h0m0-3h0m5 0h0m5 5h0m6-5h0m5 6h0m41-1h0m10-4h0m2 7h0m1-7h0m21 2h0m1 0h0m1-2h0m6 2h0m6-1h0m3 4h0m2 3h0m0-4h0m2 3h0m2-2h0m0-6h0m4 5h0m7-1h0m1 4h0m1 1h0m8 0h0m2-2h0m2 1h0m3-8h0m0 6h0m3-2h0m2-1h0m3 4h0m1-3h0m1 0h0m1-3h0m0-1h0m3 0h0m6 5h0m3 4h0m1-6h0m6 0h0m1-2h0m11 7h0m-216 8h0m6 1h0m13-4h0m0 5h0m14 0h0m3-7h0m15 3h0m27 2h0m8-3h0m10 0h0m0 2h0m5-5h0m13 5h0m3 4h0m7-8h0m0 6h0m2-7h0m4 7h0m2-3h0m4 1h0m1-2h0m3 5h0m3-5h0m2 6h0m8-7h0m2 3h0m6 0h0m11 4h0m1-8h0m0 2h0m1-1h0m0-1h0m3 5h0m4-2h0m1 2h0m1 3h0m2-7h0m1 5h0m1-4h0m3 2h0m4-5h0m3 7h0m109-7h0m-297 17h0m8-6h0m3 1h0m1 0h0m8 7h0m7-8h0m5 1h0m2 1h0m27 6h0m21-7h0m7 1h0m5 3h0m8 3h0m1-6h0m5-2h0m1 5h0m3-3h0m6 2h0m1 4h0m1-9h0m5 5h0m1 4h0m2-9h0m4 7h0m3-4h0m9 1h0m6-4h0m1 5h0m10 3h0m3-6h0m0 7h0m3-9h0m1 8h0m0-3h0m2 0h0m1 4h0m1-2h0m0-5h0m0-1h0m1 6h0m1-7h0m5 9h0m2-2h0m1-5h0m0-1h0m3 2h0m4 5h0m4-1h0m1-2h0m-202 10h0m9-5h0m8 6h0m6-2h0m5 5h0m31-1h0m7-5h0m51 2h0m4-4h0m1 6h0m6 1h0m0-7h0m9 4h0m6-5h0m5 9h0m7-4h0m0-1h0m7-2h0m1 6h0m1-6h0m0 1h0m4 6h0m2-9h0m3 2h0m1 2h0m1-4h0m7 6h0m4-3h0m7 5h0m9-4h0m9 2h0m2-5h0m-222 9h0m6 6h0m22 3h0m2-5h0m2 2h0m15-1h0m0-4h0m0 7h0m10-3h0m29 2h0m15 1h0m12-6h0m8-2h0m7 0h0m12 8h0m4-2h0m5 2h0m8-6h0m0-2h0m6 7h0m1 1h0m11-8h0m11 4h0m4 1h0m6-1h0m5-1h0m1 0h0m9-1h0m12 6h0m-206 8h0m15-4h0m12 0h0m16 1h0m4-2h0m13 8h0m3-8h0m12 2h0m5 5h0m2-6h0m1-2h0m7 5h0m2 3h0m6-6h0m1-2h0m13 9h0m11-1h0m2-6h0m12-1h0m10 8h0m1 0h0m2-9h0m9 2h0m7 3h0m1 0h0m3-4h0m4 4h0m0 1h0m1-1h0m2 3h0m0 0h0m2-5h0m1 4h0m2-7h0m3 8h0m10 0h0m13-2h0m-205 8h0m9 5h0m4-5h0m18 5h0m16-7h0m2 3h0m10-3h0m4-1h0m1 0h0m11-1h0m2 1h0m29 1h0m15 2h0m4-3h0m1 8h0m3-6h0m19 1h0m5-1h0m3 4h0m5-5h0m10 6h0m14-5h0m0 6h0m6-2h0m7-2h0m7-1h0m79 0h0m-286 6h0m22 2h0m24 6h0m23-1h0m13 1h0m1-8h0m8 7h0m17-4h0m1 0h0m7 3h0m25 2h0m19-8h0m5 8h0m1-8h0m1 5h0m4-2h0m1-2h0m2 4h0m2 2h0m0 0h0m0-2h0m15 1h0m1-5h0m133 7h0m-332 10h0m6-3h0m59 4h0m29 0h0m9-8h0m4-1h0m11 9h0m25-7h0m5 4h0m2-2h0m17 1h0m0 3h0m3-5h0m1 3h0m1 2h0m7-7h0m1 4h0m1-4h0m14 4h0m4-2h0m1-1h0m3 7h0m6-7h0m-212 10h0m21 3h0m54-2h0m9 0h0m3-1h0m27 7h0m8-8h0m4 5h0m1 3h0m1-3h0m2-5h0m4 2h0m1 0h0m5 4h0m7-3h0m10 2h0m1-6h0m1 0h0m17 7h0m2 0h0m5-5h0m2 5h0m1-4h0m9 5h0m1-8h0m5 4h0m3 4h0m-88 3h0m7 6h0m6-2h0m2-3h0m2 3h0m3-5h0m0 1h0m3 0h0m6 7h0m1 1h0m13-6h0m4 5h0m1-8h0m4 7h0m13 1h0m1-2h0m2 3h0m1-7h0m2 7h0m5-4h0m1 0h0m163-1h0m-240 13h0m7 1h0m3-2h0m0-4h0m2 7h0m4-5h0m0-4h0m2 9h0m5-4h0m22 0h0m0-1h0m9-1h0m4 2h0m4 2h0m2-3h0m1 4h0m2 1h0m7-2h0m11 0h0m1-7h0m-110 14h0m15 0h0m2 2h0m13-3h0m4-2h0m1 3h0m4 4h0m2-3h0m3-2h0m1 5h0m1-5h0m29-2h0m2 0h0m3 4h0m2 3h0m10-8h0m9 1h0m2 5h0m1-3h0m-180 9h0m84 2h0m8 2h0m16-2h0m5 0h0m10 4h0m1 0h0m4-7h0m4 6h0m1-1h0m11 0h0m7 0h0m7 3h0m9-9h0m1 7h0m1-6h0m5 7h0m4-6h0m4-1h0m-97 9h0m6 8h0m13-7h0m2 8h0m3-6h0m2 6h0m3-5h0m2 5h0m1-8h0m3 4h0m4 3h0m1-7h0m4 2h0m1 0h0m1 5h0m6-8h0m5 9h0m5-2h0m4-5h0m8 2h0m4 5h0m3-3h0m11 2h0m-93 7h0m1-4h0m5 5h0m5-2h0m1-3h0m7 0h0m2 4h0m1 0h0m1 1h0m1 0h0m1-6h0m3 8h0m0-1h0m0-5h0m3 2h0m10 5h0m1-6h0m5-1h0m4 7h0m2-9h0m5 1h0m24 8h0m21-3h0m-99 7h0m15 5h0m4-8h0m4 9h0m7 0h0m3-1h0m3-5h0m11-2h0m13 3h0m42-1h0m-116 15h0m7-4h0m12 1h0m3 4h0m1-8h0m1 1h0m7 3h0m1-1h0m2-4h0m0 2h0m4 2h0m0-4h0m1 0h0m1 1h0m2 3h0m3 1h0m2 0h0m0 1h0m3 2h0m2-3h0m0 1h0m10-1h0m31 2h0m-71 10h0m1-1h0m1-1h0m7 0h0m3 0h0m0 3h0m1-2h0m0 2h0m1-3h0m1 4h0m0-1h0m2-8h0m2 6h0m6-4h0m4 6h0m3-3h0m38 0h0m-74 5h0m7 7h0m1-7h0m1 2h0m6 3h0m0 3h0m1-4h0m2 2h0m1 2h0m4-1h0m4 2h0m1 0h0m6-7h0m3 4h0m11-6h0m-39 18h0m5-3h0m11 4h0m1-3h0m4-2h0m3-2h0m3 4h0m32-4h0m21 6h0m19-7h0m-114 12h0m37 2h0m-19 12h0m22-3h0m-33 6h0" stroke="#e8894c" stroke-width="3.5" stroke-linecap="round"/>
<path d="M1623 861h0m8 0h0m0 8h0m17-8h0m5 7h0m57-5h0m-102 13h0m10 2h0m1 1h0m0-8h0m7 5h0m2 0h0m2-1h0m1 3h0m14 0h0m1-1h0m2 1h0m43-3h0m45-2h0m33 0h0m-158 16h0m9-2h0m2-6h0m4 8h0m9-2h0m5-6h0m7 3h0m8 1h0m35 0h0m65 3h0m-157 10h0m4-5h0m4 2h0m3 3h0m0-3h0m0-2h0m1 4h0m0-4h0m2 4h0m2-2h0m2 0h0m0 2h0m6 1h0m4-6h0m4 4h0m0 2h0m1-3h0m2 4h0m15-6h0m25-3h0m22 9h0m2-8h0m0 5h0m2 2h0m4 1h0m4-5h0m1 2h0m-116 13h0m8-4h0m1 3h0m5 0h0m4 1h0m4-6h0m5 4h0m3-2h0m3-2h0m3 5h0m1-3h0m0-1h0m1 2h0m6-1h0m9-5h0m0 6h0m2-4h0m0-2h0m2 8h0m1-8h0m1 5h0m2 1h0m36-3h0m14-2h0m20 7h0m34-8h0m-161 19h0m13-4h0m5 1h0m3-2h0m3 2h0m3-6h0m0 6h0m4-4h0m1 3h0m1-4h0m10-1h0m3 0h0m5 4h0m30-1h0m4 5h0m0-7h0m3 1h0m2 2h0m-93 14h0m7-3h0m3 4h0m5-7h0m0 0h0m1 5h0m1-4h0m0-1h0m1 7h0m1-2h0m1-6h0m0 0h0m4 4h0m2-2h0m1 2h0m0 1h0m1 0h0m1-2h0m0 0h0m2 3h0m1-3h0m2-1h0m0-2h0m3 5h0m1-2h0m3-2h0m2-2h0m3 3h0m1 5h0m4 0h0m9-1h0m44-4h0m14 3h0m9-3h0m36 2h0m-152 12h0m2-5h0m0-2h0m2 9h0m6-5h0m2-4h0m6 2h0m1 3h0m2-3h0m3-1h0m3 0h0m3 6h0m3-6h0m1 4h0m1 1h0m4-2h0m0-2h0m11-2h0m7 6h0m27-1h0m1-5h0m13 0h0m1 1h0m6 0h0m0 1h0m1 3h0m4 2h0m3-1h0m17-2h0m12 2h0m-132 12h0m2-5h0m1 3h0m1-6h0m0 2h0m0 4h0m1 0h0m0-2h0m0 0h0m0-3h0m1 4h0m1 0h0m0 1h0m1 0h0m1 0h0m4 2h0m0-2h0m2 1h0m0-5h0m4 6h0m6-1h0m10 2h0m17-9h0m7 8h0m5 0h0m13-2h0m8-6h0m8 0h0m63 2h0m-167 12h0m4 0h0m2 4h0m1-7h0m2 5h0m1-5h0m1 1h0m4 7h0m1-8h0m2 5h0m1 0h0m1 3h0m3-2h0m0 0h0m1-7h0m1 3h0m0 3h0m1-3h0m2 6h0m4 0h0m0 0h0m0-5h0m5 3h0m0-5h0m2 0h0m3 6h0m3 1h0m5-6h0m0 1h0m19 5h0m12-6h0m9 5h0m5-2h0m5-6h0m7 9h0m29-7h0m33 0h0m-170 11h0m5-1h0m2 7h0m1-5h0m1 4h0m2-4h0m0-1h0m2 1h0m0 2h0m2-2h0m1 4h0m0-7h0m3 0h0m1-1h0m0 5h0m0 0h0m1 3h0m0-6h0m2 0h0m1 2h0m3 4h0m3-7h0m1 2h0m1 6h0m3-1h0m4 1h0m6-1h0m7-6h0m8 3h0m1 1h0m9-2h0m2 2h0m0-5h0m17 5h0m2-6h0m8 6h0m48 1h0m-146 11h0m0-4h0m3 1h0m0-1h0m0 2h0m1-4h0m3 1h0m1-1h0m2 6h0m1-1h0m3 2h0m2-1h0m3-3h0m2-3h0m1-1h0m2 8h0m1-4h0m2-3h0m3 5h0m0-3h0m1 3h0m0 0h0m1 1h0m7-2h0m1 1h0m1 1h0m1-4h0m14 0h0m24 4h0m9-8h0m4 6h0m2 2h0m-99 6h0m4-1h0m6 3h0m0-5h0m0-1h0m2 5h0m1 1h0m0-4h0m1 1h0m2-2h0m1 0h0m1 4h0m2-3h0m2-2h0m2 0h0m1 3h0m2 1h0m2 3h0m1 0h0m2-4h0m1-1h0m1 6h0m2-4h0m8 1h0m1-5h0m2 1h0m5 6h0m9 2h0m2-8h0m1 7h0m2 0h0m8 0h0m12 1h0m13 0h0m11-6h0m-117 10h0m5 3h0m5 0h0m2-1h0m2 3h0m0-1h0m1-4h0m1-2h0m3 5h0m4 1h0m0 2h0m3-6h0m3 3h0m0-5h0m1-1h0m2 0h0m0 0h0m1 0h0m5 6h0m11 3h0m12-7h0m0 7h0m4-8h0m3-1h0m3 7h0m4-3h0m2-2h0m14-1h0m5 0h0m9 5h0m0-3h0m5 3h0m297-1h0m-393 7h0m3 0h0m4 4h0m0-3h0m2 3h0m1-6h0m1 8h0m3-5h0m0 3h0m0-1h0m1-1h0m0-1h0m0 3h0m1-3h0m1 0h0m0-2h0m2 2h0m5 4h0m0-7h0m3 3h0m3 4h0m3-6h0m8 1h0m0-2h0m8 5h0m1 1h0m4 3h0m1-5h0m1-3h0m0 7h0m2-4h0m1 3h0m2-6h0m2-1h0m4 2h0m8 7h0m2-9h0m1 2h0m7-1h0m2 1h0m2 7h0m4-2h0m6 1h0m-104 5h0m5 6h0m0-8h0m14 2h0m1 1h0m0 0h0m4 5h0m1-1h0m1-3h0m1-2h0m0 5h0m1 0h0m1-6h0m1 5h0m1-6h0m0-1h0m4 8h0m33-5h0m5 3h0m4 1h0m1 0h0m0-7h0m0 5h0m2 0h0m5-5h0m6 7h0m226-2h0m-323 14h0m3 0h0m5 0h0m6-4h0m1-1h0m0-4h0m2 6h0m1-3h0m2 1h0m1-1h0m1 5h0m3-5h0m1 3h0m2-2h0m5 0h0m0-4h0m2 2h0m4 6h0m0-4h0m0-2h0m1 4h0m5 0h0m4 2h0m2-6h0m1 2h0m5 3h0m2 0h0m10-2h0m0-4h0m10 7h0m5-5h0m3-2h0m0 8h0m3-5h0m12-2h0m2-2h0m182 9h0m89-1h0m-367 4h0m6-1h0m4 3h0m0 1h0m1 3h0m2 0h0m1-1h0m0-2h0m2 1h0m2 0h0m1-2h0m2-2h0m2-2h0m0 9h0m2-6h0m0 3h0m2-3h0m7-1h0m4 6h0m9-4h0m2-4h0m15 2h0m12-1h0m3 8h0m3-9h0m2 0h0m3 7h0m7-6h0m4 0h0m1 0h0m1 7h0m242 0h0m39 1h0m-382 4h0m3 5h0m1-7h0m5 1h0m1-1h0m1 3h0m0 4h0m1-1h0m8-5h0m2 1h0m5 1h0m0 3h0m4-7h0m0 6h0m1-5h0m4 2h0m15-3h0m1 8h0m25 0h0m5 0h0m0-4h0m0 4h0m8-4h0m5 1h0m241 1h0m0 0h0m10-2h0m5 2h0m1 2h0m1-2h0m0 3h0m1-5h0m1 2h0m3-1h0m0-1h0m-358 8h0m4 5h0m5-2h0m4-2h0m1 6h0m1-1h0m2 0h0m1-3h0m2 0h0m0 3h0m0-8h0m4 3h0m3 5h0m7 1h0m0-3h0m7-3h0m2 1h0m1-4h0m5 1h0m14-1h0m268 3h0m9 1h0m0 1h0m2 3h0m1-3h0m3-4h0m1-1h0m1 9h0m0-3h0m0-6h0m0 4h0m0 1h0m1 2h0m0-4h0m0-3h0m0 7h0m0-2h0m0 0h0m0 2h0m0-2h0m0-2h0m0 2h0m1 0h0m0-4h0m0 4h0m1 4h0m0-3h0m0 2h0m1-3h0m0 0h0m1 3h0m1-7h0m3 7h0m2-8h0m0 5h0m4-3h0m-360 9h0m1 6h0m0 1h0m1 0h0m4-2h0m1-3h0m4 5h0m0-3h0m0-1h0m2 2h0m1-2h0m2-4h0m2 9h0m1 0h0m0-5h0m1-2h0m1 6h0m2-2h0m3 3h0m14-7h0m3 1h0m16 4h0m19-2h0m4 4h0m244 0h0m2-2h0m4-1h0m6 2h0m0 0h0m2-7h0m0 7h0m4-6h0m0 2h0m5 1h0m1-5h0m5 1h0m4-1h0m7 8h0m-359 5h0m3 1h0m1 4h0m3-4h0m5-1h0m3 1h0m1-3h0m18 1h0m14 1h0m22 1h0m13 3h0m9 2h0m4-3h0m185 2h0m55-7h0m0 2h0m2 1h0m10-4h0m8 1h0m-363 12h0m8-3h0m8 5h0m4-1h0m2-3h0m2 7h0m1-7h0m1 2h0m7 5h0m0 0h0m36-4h0m273-3h0m-353 10h0m5 7h0m11-8h0m8 0h0m1 1h0m3 2h0m3 0h0m1 2h0m22-2h0m5-2h0m9 0h0m27 6h0m6-5h0m8 0h0m150-2h0m31 8h0m-273 11h0m3-1h0m2-2h0m2-1h0m4-2h0m6 5h0m2-3h0m13 3h0m36-2h0m33 0h0m-128 7h0m13 5h0m17-6h0m2 1h0m3 2h0m3-2h0m1 0h0m0 5h0m2-4h0m8-1h0m47-1h0m13 4h0m24-3h0m167-1h0m47 6h0m40-6h0m-371 11h0m3 3h0m13-5h0m35 1h0m37 0h0m7 7h0m199-5h0m13 2h0m63 2h0m5-6h0m-356 10h0m1 3h0m61-2h0m5 6h0m9-7h0m9 3h0m154 3h0m-238 6h0m5-1h0m1 4h0m2-3h0m42 0h0m4 4h0m0-6h0m3 4h0m20-2h0m7-3h0m32 4h0m-121 7h0m2 2h0m17 5h0m16-4h0m3 4h0m11-4h0m14-4h0m4 4h0m6 3h0m24 1h0m13-2h0m14 1h0m-140 11h0m8-1h0m9-8h0m55 2h0m2 4h0m3 1h0m7 2h0m1-6h0m10 3h0m2-6h0m3 4h0m2 3h0m7 2h0m0-5h0m16 0h0m-101 15h0m1-8h0m23 5h0m3-6h0m10 5h0m6-3h0m9 3h0m8 3h0m2-1h0m3-7h0m2 1h0m26 7h0m-42 6h0m9-3h0m4 1h0m0-1h0m1 7h0m16-6h0m8 7h0m3 0h0m-90 8h0m40-6h0m11 3h0m4-3h0m9 3h0m5 3h0m3-7h0m6 9h0m7-2h0m8-6h0m-78 10h0m22 3h0m12-4h0m12 4h0m1-1h0m4 4h0m9-1h0m17 3h0m2-6h0m-119 12h0m22-3h0m21 6h0m23-5h0m6 6h0m1-2h0m12-7h0m12 3h0m4 2h0m3-2h0m1-2h0m-74 14h0m3 2h0m64-7h0m7 2h0m13 0h0m-128 8h0m109 3h0m2 1h0m8 3h0m-95 8h0m51-2h0" stroke="#92d548" stroke-width="3.5" stroke-linecap="round"/>
<path d="M1748 872h0m-9 12h0m7 5h0m3-2h0m20 1h0m5-5h0m-34 7h0m20 4h0m1 3h0m1-7h0m4 8h0m15-4h0m0-4h0m6 0h0m-48 14h0m23 2h0m11 3h0m17-2h0m-49 10h0m6 1h0m3-3h0m0 1h0m2 0h0m8 3h0m3-9h0m9 2h0m2 7h0m1-3h0m1 3h0m2 0h0m2 0h0m2-8h0m5 0h0m6 5h0m-33 13h0m2-1h0m10-3h0m8-5h0m3 1h0m-76 17h0m12-1h0m2 1h0m13-3h0m47-2h0m5 3h0m1 1h0m-90 7h0m0-1h0m39-3h0m0 8h0m2-1h0m5-5h0m2 0h0m18 4h0m15 3h0m1-4h0m10 1h0m-110 5h0m25 7h0m9 0h0m12-1h0m6 0h0m4 1h0m11-4h0m6 4h0m5 1h0m3-9h0m3 8h0m5-8h0m3 8h0m10-8h0m2 7h0m1-3h0m12 1h0m9 4h0m-98 9h0m10 0h0m36-4h0m9 3h0m0-7h0m6 3h0m4 4h0m5-1h0m7 0h0m2 1h0m2-6h0m0 8h0m23-2h0m-107 8h0m5-1h0m14 0h0m1-3h0m6 8h0m1-9h0m26 4h0m0-2h0m1 4h0m0-3h0m2-1h0m1 6h0m2-4h0m4 2h0m0 0h0m6 1h0m1-1h0m0-3h0m0-3h0m0 0h0m2 4h0m0 4h0m2-7h0m0-1h0m1 6h0m5 1h0m7-2h0m0-1h0m3 2h0m2 3h0m3-5h0m20-4h0m-116 13h0m7-2h0m0 2h0m8 4h0m6-4h0m4 0h0m7-2h0m4 3h0m2 4h0m4 0h0m0-2h0m4-2h0m0-3h0m4 5h0m0-3h0m9 1h0m3-1h0m2 2h0m2 4h0m4-5h0m1 1h0m0 2h0m6-1h0m7-2h0m5-2h0m7 1h0m7 1h0m3-1h0m13 0h0m0 0h0m-116 14h0m11-7h0m0 6h0m1-3h0m2-2h0m5 3h0m0-1h0m1 4h0m1 2h0m7-9h0m0 0h0m17 7h0m1-3h0m2 5h0m1-3h0m5-5h0m4 8h0m1-9h0m3 2h0m2 5h0m2-2h0m8 3h0m11-3h0m3-1h0m2-2h0m7 1h0m4 3h0m1-5h0m14 2h0m-138 7h0m10 8h0m2 1h0m3-9h0m1 7h0m3-5h0m13 0h0m4 7h0m1 0h0m20-4h0m0-3h0m8 7h0m0-5h0m2-2h0m6 2h0m3 4h0m8-8h0m0 0h0m1 4h0m3 3h0m2-4h0m3 3h0m2 3h0m1-1h0m1-4h0m8 0h0m1 1h0m2-3h0m2-1h0m4 3h0m9 1h0m3 4h0m7-2h0m4 0h0m1-6h0m15 6h0m-146 3h0m2 9h0m1-1h0m5 1h0m10-4h0m8-5h0m7 3h0m3-3h0m3 3h0m1 6h0m0-9h0m1 8h0m4-8h0m5 2h0m2 7h0m2-8h0m2 1h0m0 2h0m4 5h0m6-1h0m5-1h0m3 2h0m3-1h0m2-8h0m11 3h0m9 3h0m0-5h0m8 1h0m10 4h0m4-3h0m3-3h0m19 9h0m7-6h0m-161 16h0m19-2h0m0-4h0m8-1h0m1 3h0m0-4h0m5 3h0m1 3h0m2-7h0m1 5h0m7 2h0m1-2h0m3 0h0m6 0h0m0 2h0m0-1h0m2 0h0m4 1h0m0-2h0m2-4h0m1 0h0m1 1h0m0-2h0m1 7h0m1-2h0m2 4h0m1-4h0m0-1h0m2 1h0m2-4h0m2 1h0m2 1h0m1 6h0m12-6h0m2-2h0m1 0h0m1-1h0m1 5h0m16 2h0m5-6h0m3 6h0m1-7h0m1 1h0m0 3h0m1 5h0m4-1h0m0-6h0m7 2h0m2 0h0m2 2h0m2 2h0m1-6h0m2-1h0m2 7h0m5-6h0m-133 14h0m2 0h0m1 0h0m4 3h0m5-2h0m6-5h0m5 6h0m2-8h0m1 1h0m1 5h0m11-2h0m6-2h0m3 0h0m0 5h0m2 1h0m2 0h0m5-6h0m1 3h0m0-4h0m4 4h0m4 4h0m0-5h0m2 1h0m4-5h0m3 7h0m11 1h0m4 0h0m3-5h0m3 6h0m7 0h0m2-6h0m3 4h0m2-3h0m0-1h0m0-3h0m1 5h0m1 0h0m3-3h0m1 4h0m0 1h0m1-1h0m2-5h0m13 8h0m0-6h0m-132 9h0m6 6h0m7-6h0m10 1h0m2-1h0m1 1h0m0 0h0m1 1h0m2-1h0m3-2h0m1 7h0m3-3h0m3-1h0m1-4h0m1 8h0m0-1h0m2-5h0m4 7h0m4-4h0m2 2h0m1-7h0m4 2h0m3 6h0m3 0h0m2-5h0m11 2h0m0 2h0m4-3h0m0-2h0m5-2h0m0 9h0m6-4h0m1 1h0m0 0h0m1-4h0m7 3h0m1 1h0m3-1h0m0 1h0m4 2h0m0-3h0m1 0h0m6-1h0m5 2h0m1 2h0m1-2h0m2 1h0m1-6h0m4 3h0m-134 9h0m17 2h0m2 2h0m1-4h0m0-1h0m8 7h0m1-4h0m3-3h0m2 6h0m3-5h0m2 0h0m0 3h0m1-6h0m1 7h0m0 1h0m3-8h0m2 0h0m1 3h0m1 3h0m1 1h0m0 1h0m1 1h0m2-9h0m0 4h0m2 3h0m1-4h0m2 4h0m3-4h0m1 2h0m1 2h0m0-7h0m2 4h0m7 4h0m0-5h0m1 0h0m2 3h0m1-6h0m4 3h0m1 1h0m6-4h0m2 0h0m1 8h0m1 0h0m2-8h0m0 0h0m1 7h0m2-5h0m4 3h0m2 4h0m3-3h0m0 3h0m3-4h0m0-5h0m3 1h0m3 1h0m10 4h0m6-4h0m-123 12h0m1 2h0m13-5h0m4 4h0m1-2h0m4 0h0m0-1h0m8 4h0m1 1h0m0-3h0m0-3h0m1 6h0m0-2h0m2 2h0m1-6h0m1 8h0m1-3h0m3-4h0m3 2h0m0-2h0m0 7h0m1-1h0m4-3h0m0 4h0m3-2h0m0-5h0m1 2h0m1-4h0m0 2h0m2 1h0m1 5h0m1 1h0m1-1h0m1-7h0m2 6h0m2-3h0m6-4h0m6 9h0m6-5h0m8 1h0m12-5h0m3 4h0m6-3h0m4 3h0m2 3h0m9 2h0m2-5h0m-134 10h0m12-1h0m4-2h0m4 2h0m0 6h0m3-7h0m6-2h0m0 7h0m0 0h0m2-7h0m1 3h0m1 6h0m0-9h0m1 2h0m3 1h0m2 6h0m1-9h0m0 1h0m2 1h0m0 6h0m1-5h0m1 5h0m3-3h0m0-4h0m2 5h0m1 3h0m1-1h0m1 0h0m1 1h0m1-1h0m0-4h0m1-2h0m4 5h0m2-1h0m0 3h0m0-9h0m4 4h0m0-4h0m0 5h0m3 2h0m2-1h0m1 3h0m1-9h0m0 3h0m3 1h0m2-2h0m1 5h0m1-3h0m1 2h0m0 3h0m0-6h0m0 1h0m1 5h0m2-6h0m0 2h0m2 4h0m5-5h0m7-1h0m2 5h0m1-7h0m3 5h0m1 0h0m0-5h0m4 5h0m1-6h0m0 9h0m3-2h0m1 0h0m1 0h0m3-7h0m5 4h0m5-4h0m2 8h0m-120 10h0m13-8h0m5 5h0m1 1h0m1 3h0m0-3h0m1 3h0m0-2h0m1-3h0m3-2h0m0 5h0m2-2h0m3 2h0m1-1h0m1-2h0m0 1h0m1 0h0m2-1h0m1 0h0m0 3h0m0 2h0m2-5h0m0-2h0m1-1h0m2 2h0m0-3h0m2 4h0m2 3h0m1-6h0m3 5h0m0-3h0m3 2h0m0-1h0m1 0h0m0 2h0m0-5h0m1-1h0m1 4h0m1 1h0m0 3h0m1-4h0m1 3h0m1 0h0m0-4h0m2 1h0m4 2h0m1 0h0m1-1h0m1 3h0m0-4h0m2-3h0m1 2h0m1 2h0m0 3h0m2-3h0m1-5h0m8 2h0m0 7h0m2 0h0m1-4h0m1 0h0m7-1h0m9-2h0m12-1h0m11 8h0m3-1h0m2-6h0m-135 9h0m17 2h0m0-3h0m0 9h0m4-6h0m1 4h0m1-2h0m6-5h0m1 1h0m2 0h0m5 7h0m2-3h0m3-4h0m0 8h0m0-1h0m3-7h0m0 3h0m1 2h0m0-1h0m1 1h0m1-2h0m0 0h0m0 2h0m1-2h0m0 1h0m0 1h0m1 1h0m0 2h0m0-2h0m1-6h0m2 6h0m0-1h0m5 0h0m2 3h0m1-4h0m0 1h0m0 1h0m0-3h0m2 4h0m2-4h0m0-1h0m1 6h0m1-1h0m0 0h0m0-1h0m0-6h0m1-1h0m2 1h0m1 5h0m1 0h0m0-2h0m3 3h0m1-6h0m3 1h0m10 0h0m2 3h0m2 1h0m1-6h0m2 6h0m4 1h0m5-6h0m1 2h0m2 3h0m-107 12h0m2-5h0m6 3h0m8-1h0m10-2h0m1 0h0m1 4h0m0-1h0m1-6h0m0 5h0m1-5h0m4 8h0m1-8h0m0 9h0m1-9h0m1 0h0m2 0h0m0 5h0m1 4h0m3-6h0m0 0h0m1 0h0m1 2h0m1-1h0m0-1h0m1 0h0m1 1h0m1-1h0m1-2h0m0 3h0m0 4h0m0-2h0m2-6h0m1 5h0m0 0h0m0-1h0m1-4h0m0 1h0m3 7h0m0-6h0m1 1h0m1-3h0m0 3h0m0-1h0m1 0h0m1-2h0m0 6h0m1-1h0m0-2h0m0-2h0m2 2h0m1 1h0m2 1h0m1-3h0m0 7h0m0-5h0m5 3h0m1-5h0m1 4h0m1 0h0m3-1h0m5 1h0m2-2h0m0-2h0m4 2h0m1-4h0m10 8h0m5-2h0m9-3h0m5 6h0m1-7h0m3 0h0m-124 10h0m17 1h0m2-3h0m1 1h0m1 1h0m1 6h0m6 0h0m0-8h0m5 0h0m2 4h0m1 2h0m0-4h0m0 7h0m2-6h0m1 4h0m4-2h0m0 2h0m1 0h0m0-5h0m1 4h0m0 2h0m1 1h0m0-7h0m2 7h0m0 0h0m1-4h0m1 3h0m0-4h0m0 1h0m1 0h0m0 2h0m2-4h0m0-1h0m1 3h0m1-1h0m1-4h0m1 6h0m1 3h0m0-1h0m0-7h0m2 5h0m1 0h0m0-3h0m1 1h0m4 3h0m1 0h0m1-3h0m1-2h0m2 1h0m1-3h0m1 0h0m2 3h0m0 5h0m1-5h0m1 3h0m2-1h0m1-4h0m1 7h0m4 0h0m0-1h0m1-6h0m1 5h0m5-3h0m3 1h0m1-4h0m1 0h0m1 8h0m3-3h0m4 1h0m2 3h0m1-8h0m1 6h0m4-1h0m4-4h0m5 5h0m2 0h0m1-1h0m3-4h0m-125 12h0m17 5h0m0-8h0m1-1h0m6 8h0m0-8h0m1 5h0m7-4h0m0 3h0m1 0h0m0-4h0m2 6h0m0-6h0m1 6h0m0-6h0m1 1h0m2 4h0m0-2h0m1-2h0m1 5h0m0-5h0m3 7h0m1-2h0m1-4h0m0 0h0m1 0h0m0 2h0m1 1h0m0 3h0m0-3h0m0-1h0m0-3h0m1 3h0m0 1h0m0 3h0m1 0h0m0-8h0m3 7h0m0 0h0m1 2h0m0-8h0m0 1h0m3-1h0m1 4h0m4 3h0m3-1h0m0-4h0m2 0h0m2-2h0m1 2h0m0 3h0m1-4h0m1 1h0m3-2h0m4 2h0m2-3h0m2 6h0m2 1h0m6-5h0m2 0h0m7 5h0m2-5h0m4 0h0m12 1h0m-122 11h0m21 3h0m3-1h0m5 3h0m0-1h0m2-3h0m2 2h0m2-6h0m1 1h0m2-2h0m2 2h0m4 0h0m0 0h0m1 4h0m1-5h0m3 1h0m0-1h0m1 8h0m2-3h0m1 3h0m1-5h0m0 1h0m1 1h0m1-5h0m3 2h0m3 6h0m0-6h0m1 2h0m4-5h0m0 3h0m1 2h0m7 3h0m0-5h0m3-1h0m6 2h0m14 3h0m28-1h0m-103 4h0m5 0h0m2 5h0m1 4h0m3-6h0m1-2h0m0 7h0m9-1h0m1-7h0m0 2h0m4 1h0m6 6h0m2-6h0m1 0h0m1 2h0m0-2h0m2 2h0m2 0h0m1 2h0m0-1h0m0 2h0m1-8h0m0 2h0m2 7h0m0 0h0m1-8h0m2-1h0m9 1h0m5 2h0m7 6h0m10-5h0m3-4h0m2 7h0m0-7h0m2 4h0m15-2h0m19 0h0m-123 8h0m5 9h0m1-6h0m9-1h0m2 7h0m1-9h0m2 6h0m0-5h0m0 5h0m2 0h0m0 2h0m0-4h0m5 2h0m1 2h0m0-5h0m1-2h0m0 8h0m2-7h0m0 3h0m1 1h0m0 1h0m1 1h0m0-3h0m3-5h0m2 9h0m2-9h0m3 9h0m0-9h0m4 7h0m5-1h0m9-6h0m5 5h0m1 4h0m0-5h0m5-3h0m3-1h0m16 8h0m1-5h0m8 4h0m1-3h0m24 5h0m-115 9h0m1-7h0m3-1h0m2 1h0m3 8h0m2-9h0m0 3h0m5 1h0m13 2h0m3 1h0m5 0h0m1-3h0m0 4h0m5 0h0m28 0h0m0 0h0m4 0h0m5-4h0m18 1h0m-102 13h0m2-2h0m4 3h0m3-8h0m10 8h0m2-9h0m3 7h0m0 0h0m13-1h0m4-1h0m21-4h0m1 6h0m16-1h0m-78 7h0m12 1h0m5 0h0m3-1h0m2 0h0m3-1h0m1 5h0m7 1h0m12-8h0m5 6h0m11-2h0m5-2h0m11 6h0m-83 11h0m10-3h0m1-4h0m4 2h0m3 0h0m1 4h0m3 1h0m2-6h0m8-2h0m3 3h0m1 0h0m2 5h0m1-3h0m9-1h0m28 1h0m-65 10h0m7 3h0m7-1h0m5-3h0m4-1h0m-9 7h0m1 5h0m3 3h0m3-7h0m7-2h0m32 0h0m-58 17h0m5 1h0m9-7h0m2 8h0m7-5h0m1 5h0m15-3h0m35-5h0m-66 16h0m2-3h0m5 2h0m4-2h0m7 3h0m4 2h0m10-6h0" stroke="#e8545f" stroke-width="3.5" stroke-linecap="round"/>
<path d="M1732 859h0m-81 1h0m18 6h0m1-6h0m2 4h0m3 4h0m4-5h0m3 6h0m1-8h0m6 3h0m12 1h0m6 2h0m11-3h0m-73 8h0m12 0h0m2-1h0m14 1h0m1 0h0m5 5h0m2 1h0m1-3h0m2 0h0m0 2h0m2-2h0m1-5h0m4 6h0m1 0h0m7 3h0m0-9h0m1 0h0m1 1h0m5 3h0m0-1h0m0 5h0m2-3h0m1 3h0m0-7h0m0 2h0m1 1h0m4 5h0m3 0h0m2-8h0m1 5h0m3-5h0m0 4h0m3-4h0m6 0h0m1 5h0m-90 13h0m24-5h0m1 5h0m8-3h0m1 0h0m1-2h0m6 2h0m0-3h0m3 2h0m0-1h0m2-4h0m1 3h0m0 5h0m1 1h0m6-5h0m1 0h0m0 2h0m1 2h0m4-7h0m1 4h0m0 4h0m0-2h0m1-4h0m1 6h0m0-3h0m6 3h0m1-8h0m0 4h0m0-5h0m1 3h0m0 2h0m2-1h0m2 1h0m1-2h0m1 2h0m1 4h0m0-2h0m1-4h0m0 6h0m4-3h0m7 1h0m1-5h0m-79 9h0m2 5h0m1-1h0m1-1h0m1 3h0m6-4h0m4-3h0m1 7h0m2-6h0m1-1h0m1 9h0m0-5h0m2-3h0m4-1h0m0 1h0m0 1h0m1-1h0m3 0h0m0 2h0m1-3h0m0 9h0m1 0h0m0-7h0m0-2h0m2 1h0m0-1h0m1 5h0m1 4h0m0-3h0m3-3h0m4 1h0m1-3h0m0 1h0m0 5h0m1-7h0m2 9h0m1-8h0m1 3h0m2 1h0m1-1h0m1-1h0m0 6h0m1-5h0m0-1h0m1 1h0m1 2h0m0 2h0m2-2h0m1-3h0m0-1h0m0 7h0m0 0h0m0-5h0m4 0h0m5-1h0m2 1h0m3 5h0m3-2h0m1 2h0m6-4h0m-104 6h0m14-1h0m16 4h0m0-4h0m4 7h0m2-5h0m0 7h0m6-5h0m3 0h0m6-2h0m0 5h0m0-5h0m2-2h0m0 2h0m1 1h0m1-3h0m3 8h0m1 1h0m1-6h0m2 3h0m0 3h0m2-4h0m1-5h0m1 0h0m3 5h0m1 3h0m1-5h0m0 1h0m0 3h0m0-2h0m1-4h0m1 7h0m0-2h0m1-3h0m0 2h0m1 1h0m1 1h0m0 0h0m0-4h0m1 6h0m1-6h0m0 0h0m2 0h0m2 5h0m8 1h0m4-4h0m5 2h0m2 1h0m-98 7h0m4 4h0m15-3h0m1 2h0m6 0h0m7-2h0m4 1h0m1-5h0m0 6h0m1 0h0m2-2h0m0-2h0m3 2h0m1-3h0m2-3h0m0 5h0m0-2h0m1 3h0m1 2h0m1-3h0m1 4h0m2-3h0m1-1h0m0 1h0m1-3h0m1 2h0m0-4h0m0 1h0m1-2h0m3 2h0m0 6h0m0-4h0m1-1h0m1 4h0m0 1h0m0-7h0m2 3h0m1 1h0m1-1h0m2-3h0m1 1h0m2 5h0m0-7h0m2 1h0m1 8h0m1-9h0m0 9h0m0-6h0m1 6h0m1-2h0m3-5h0m3 0h0m0 4h0m6 0h0m1-2h0m-82 15h0m0-8h0m2 5h0m4-1h0m1 1h0m13 1h0m5 0h0m0-1h0m7-4h0m1-2h0m1 4h0m0-2h0m1 4h0m5 3h0m1-5h0m0-2h0m1-2h0m2 0h0m1 9h0m1-7h0m1 0h0m1-2h0m1 7h0m0 1h0m0 0h0m3-8h0m0 6h0m1-5h0m2 3h0m2 1h0m1-1h0m2-4h0m4 1h0m0 8h0m1-4h0m2-5h0m1 1h0m2 7h0m1-5h0m3 2h0m3 2h0m1-1h0m0-1h0m9-3h0m1 7h0m-112 2h0m22 0h0m14 4h0m8 2h0m1-7h0m0 7h0m1 1h0m1-1h0m2-5h0m2 6h0m2-1h0m5-4h0m1 0h0m6 4h0m1 1h0m1-6h0m1-2h0m3 7h0m1 2h0m4-3h0m1 2h0m1-1h0m2 0h0m1-7h0m1 8h0m0-8h0m1 5h0m0-2h0m1-3h0m1 9h0m1-1h0m0-7h0m1 7h0m0-3h0m2-2h0m0 3h0m1-1h0m0-3h0m0 5h0m1-6h0m2 3h0m0-1h0m5-1h0m7 7h0m3-8h0m4-1h0m-69 15h0m4 3h0m3-7h0m1 5h0m5-6h0m1 2h0m8 1h0m1-3h0m2 1h0m0 2h0m6 6h0m0-5h0m2 4h0m2-7h0m0 1h0m0-2h0m4 1h0m1-1h0m2 2h0m2 4h0m2-4h0m1-2h0m1 4h0m1 2h0m2-2h0m2 2h0m3-5h0m3 3h0m2-2h0m1 5h0m1-6h0m11 8h0m-82 2h0m8 3h0m5 1h0m8 1h0m3 1h0m0 1h0m1 1h0m1-3h0m2 0h0m2-6h0m2 2h0m5 7h0m1-6h0m3 5h0m2-4h0m0-4h0m2 1h0m5 3h0m4 2h0m1-3h0m4 0h0m2 2h0m1 3h0m7-8h0m1 2h0m1-1h0m2 6h0m1 0h0m5 0h0m8 2h0m-95 4h0m4 4h0m3 0h0m8-1h0m2-5h0m7-1h0m0 1h0m1 6h0m7-7h0m9 9h0m0-8h0m9 3h0m0-1h0m14-3h0m2 3h0m4-2h0m2 1h0m2 6h0m15 1h0m-89 8h0m4 2h0m13-5h0m10 5h0m1 0h0m7-9h0m2 9h0m0-6h0m2 4h0m5-3h0m8-4h0m1 8h0m8-7h0m2 1h0m2-1h0m1 1h0m17 1h0m-107 14h0m38-1h0m9-1h0m3-3h0m1-2h0m5 2h0m4 3h0m14 3h0m3-3h0m4-5h0m6 3h0m-51 16h0m8 0h0m21-3h0m-46 12h0m19-8h0m24 1h0m4 7h0m-56 7h0m31 0h0m6-4h0m6 10h0m5 1h0m32 2h0m-50 15h0m15-1h0m-36 7h0m11-3h0m3 0h0m1 7h0m14-9h0m15 6h0m20-3h0m-56 10h0m21 5h0m11 0h0m29 32h0m4 7h0m1-2h0m-99 5h0m66 1h0m21 0h0m25 4h0m-86 13h0m26-7h0m29 0h0m21-1h0m17 7h0m-104 3h0m50 1h0m20 6h0m0-4h0m6 2h0m0-2h0m3 6h0m1-5h0m5-2h0m2 6h0m-46 5h0m10-3h0m5 4h0m7 0h0m2-4h0m8 4h0m0 5h0m-51 8h0m6-4h0m33 2h0m1-2h0m3 0h0m4 1h0m4 3h0m2-5h0m5 5h0m1-1h0m1-3h0m3 1h0m-54 14h0m3-4h0m0 0h0m1-2h0m8 4h0m0-5h0m2 8h0m3-1h0m1-5h0m6 2h0m2-3h0m2 6h0m2-7h0m4 5h0m4-5h0m10 8h0m1-5h0m1-1h0m1 4h0m-85 12h0m8-1h0m19-1h0m2-5h0m10 1h0m6 3h0m3-5h0m3 5h0m1 1h0m0 1h0m1-7h0m2 4h0m3-2h0m7 4h0m7 0h0m2-2h0m2-3h0m1 2h0m4 2h0m1-1h0m3-3h0m1 0h0m9 7h0m-83 1h0m1 7h0m11-4h0m5 1h0m3-2h0m0 4h0m1-4h0m17 4h0m2-3h0m2 5h0m3-5h0m0 0h0m2-2h0m1 2h0m12-1h0m4-2h0m0 7h0m3-3h0m3-2h0m1-2h0m3 6h0m5-5h0m4 4h0m11 2h0m-94 8h0m10-2h0m10 0h0m9 0h0m3 1h0m3 0h0m6 0h0m1 1h0m1-5h0m8 2h0m5-1h0m3 7h0m2-5h0m4 5h0m1 1h0m1-1h0m1 0h0m5 0h0m5-2h0m4 2h0m-87 11h0m8-8h0m1 0h0m0 0h0m18 4h0m0-3h0m2 2h0m8 4h0m0 1h0m0-9h0m0 3h0m4-3h0m1 0h0m8 2h0m1 4h0m9 2h0m1-7h0m5 1h0m1 6h0m7-7h0m9-1h0m7 4h0m3 3h0m-76 10h0m6-6h0m5 8h0m1-6h0m5 5h0m1 0h0m9-6h0m6 7h0m4-3h0m3-1h0m2 1h0m1-3h0m4-1h0m3 0h0m0 6h0m4 1h0m2-9h0m19 2h0m2-1h0m-93 15h0m15-3h0m5 6h0m11-6h0m5-2h0m14 1h0m25 0h0m2 4h0m1 0h0m7-3h0m6-3h0m-28 12h0m1 4h0m2 1h0m23-6h0m1 6h0m-72 5h0m23 3h0m8-3h0m2 5h0m15-2h0m3-3h0m7 4h0m4-4h0m2 1h0m-32 8h0m12 0h0m18 0h0" stroke="#468cc8" stroke-width="3.5" stroke-linecap="round"/>
<path d="M1611 865h0m11-2h0m6 2h0m7 2h0m64-1h0m21-4h0m2 2h0m-120 12h0m0-4h0m14 5h0m14-1h0m1-3h0m1-1h0m1 2h0m14-3h0m5 7h0m9-8h0m25 1h0m30 0h0m2 8h0m-112 6h0m57-3h0m7 3h0m15-4h0m1 2h0m8 4h0m6-1h0m4-1h0m6 0h0m-121 12h0m13-3h0m17 3h0m0-5h0m3-2h0m0 5h0m36-2h0m24-3h0m6 1h0m6 1h0m5 6h0m1-1h0m2 0h0m0-5h0m15 2h0m-118 11h0m6 1h0m7-6h0m9 3h0m1 6h0m6-5h0m12-3h0m4 1h0m2 2h0m0 5h0m20-7h0m2 0h0m14 1h0m2 3h0m12-6h0m1 6h0m27-3h0m-125 13h0m17 2h0m10-7h0m3-1h0m2 1h0m12 8h0m1-4h0m1 3h0m6-5h0m0 6h0m2-6h0m10 3h0m5-2h0m9-1h0m10-2h0m4 5h0m4-2h0m4 0h0m12-1h0m12 1h0m10 3h0m-108 3h0m1 0h0m1 4h0m1 5h0m1-5h0m39-1h0m3-3h0m20 5h0m0-4h0m1 0h0m5 5h0m5-4h0m4 2h0m3-1h0m1 0h0m5 6h0m2-3h0m4-6h0m4 0h0m-133 17h0m15-7h0m13 5h0m2 4h0m1-9h0m1 6h0m0-6h0m2 3h0m8 5h0m2-5h0m1 6h0m5-7h0m0 7h0m2-5h0m2-3h0m1 4h0m22 0h0m0 2h0m5 1h0m3-7h0m6 1h0m2 2h0m1 0h0m14 1h0m20 3h0m-107 8h0m5-1h0m6 3h0m3-8h0m7 3h0m3 4h0m2 0h0m0-7h0m1 5h0m6-5h0m3 5h0m0-1h0m6 2h0m0-3h0m16-3h0m30 7h0m15 2h0m3-3h0m-121 9h0m9-5h0m1 8h0m7 0h0m0-7h0m5 3h0m3 1h0m7 3h0m3-5h0m7 4h0m2-4h0m14-2h0m10 2h0m27 0h0m-87 12h0m5 3h0m3-2h0m2-2h0m2 5h0m2-6h0m2-2h0m6 6h0m3-4h0m2 6h0m4-5h0m0-1h0m9 3h0m4-5h0m0 5h0m9-5h0m0 4h0m4 0h0m14 1h0m0-3h0m6 4h0m0-7h0m7 5h0m5-3h0m-77 13h0m5-2h0m8 4h0m0-1h0m1-5h0m1 8h0m2-5h0m5 0h0m0 2h0m3-3h0m2 1h0m0-1h0m4 4h0m6-2h0m12 0h0m4 3h0m4 0h0m8-7h0m3 5h0m0 2h0m3-2h0m3-2h0m0 2h0m2 0h0m1-3h0m1 5h0m-91 10h0m4-2h0m2-4h0m3 0h0m14 3h0m1-3h0m5 4h0m2 0h0m5-3h0m7 5h0m10 0h0m2-6h0m2 4h0m2 3h0m5-4h0m0 4h0m8-1h0m0 1h0m8-6h0m5 6h0m3-6h0m-88 12h0m3-5h0m1 5h0m17 1h0m1-3h0m2 1h0m5 3h0m2-3h0m8 0h0m2-4h0m17 5h0m2 3h0m13-4h0m3-4h0m7 1h0m0 5h0m1-5h0m4 1h0m2 3h0m4-5h0m17 6h0m251-4h0m-359 14h0m6-5h0m2 2h0m3 4h0m4-6h0m3 3h0m3 2h0m1 1h0m1-6h0m0-1h0m19 6h0m1 1h0m2-1h0m6-4h0m9 3h0m2 3h0m0-4h0m0 5h0m8-3h0m1-6h0m1 7h0m6 0h0m2-6h0m0 4h0m1-3h0m0 2h0m1-4h0m2 9h0m2-4h0m3-3h0m5-1h0m5 2h0m9 2h0m-113 12h0m6-4h0m4 4h0m2-2h0m5 0h0m0 2h0m1-7h0m3 3h0m2 2h0m4 1h0m0-5h0m6-1h0m5 5h0m2 1h0m9-1h0m9-1h0m1 1h0m4 0h0m9-5h0m0 2h0m1-2h0m3 6h0m1-2h0m3-4h0m1 0h0m5 3h0m0-3h0m3 4h0m7-3h0m-95 17h0m11 1h0m2-5h0m2-4h0m1 7h0m0-1h0m2 3h0m7-1h0m1-8h0m0 1h0m0 5h0m2-3h0m4-2h0m1-1h0m5 8h0m17-8h0m10 2h0m7-1h0m4 5h0m0 3h0m9-6h0m12-1h0m-100 9h0m6 8h0m4-1h0m1 1h0m3-1h0m3-6h0m12 7h0m4-3h0m14-4h0m12 0h0m7 7h0m2-6h0m3 5h0m6-7h0m2 6h0m0-5h0m3-2h0m10 7h0m1-6h0m3 1h0m5 4h0m1-2h0m-100 9h0m1 6h0m19-7h0m2 1h0m11 2h0m2-5h0m15 6h0m5-6h0m13 2h0m0 5h0m10-5h0m0 4h0m2 3h0m8-3h0m2-3h0m6-1h0m3 5h0m178-2h0m56 4h0m14-4h0m4 4h0m1-6h0m4-1h0m3 0h0m-360 14h0m17-3h0m0 1h0m0 0h0m1 4h0m1-4h0m5-4h0m4 9h0m20-4h0m2 0h0m2 1h0m2-6h0m0 3h0m2 1h0m6 3h0m7-5h0m7 1h0m10-3h0m1 1h0m3 1h0m175-2h0m17 9h0m60-2h0m2-1h0m2-6h0m0 9h0m2-1h0m1-3h0m0 0h0m1-1h0m0 1h0m0-5h0m1 4h0m0 1h0m1 4h0m1-4h0m0 0h0m1-4h0m0 4h0m0-2h0m0 6h0m2-2h0m0-3h0m3 3h0m1-4h0m-361 15h0m6-6h0m5 6h0m7-4h0m1 1h0m3 3h0m2-6h0m1-1h0m1 6h0m9 1h0m13-6h0m3 1h0m6 3h0m3-6h0m3 3h0m18 6h0m260-9h0m9 6h0m6-6h0m2 7h0m-354 5h0m1 0h0m2-1h0m1 3h0m7-4h0m6 5h0m2-2h0m38 1h0m17-1h0m24 3h0m3-6h0m2 6h0m7 3h0m16-3h0m186 2h0m-326 5h0m14-1h0m13 1h0m66 0h0m38-1h0m231 4h0m-341 6h0m13 4h0m9-3h0m1 1h0m20-2h0m27 7h0m16-4h0m23-4h0m4 4h0m203 1h0m49 1h0m-353 5h0m38-2h0m23 6h0m9 3h0m30-4h0m263 2h0m-370 4h0m6-1h0m15 2h0m42-1h0m18 6h0m3-7h0m4 7h0m1 0h0m13 2h0m1-1h0m3-5h0m-88 7h0m10 5h0m21-3h0m3 0h0m2 4h0m4-4h0m0 2h0m2 3h0m1-7h0m2 4h0m1-4h0m0 4h0m8 2h0m9-5h0m7 8h0m7-2h0m0 2h0m17-1h0m2 1h0m-130 5h0m18 0h0m6 3h0m2-4h0m6 5h0m3-8h0m6 3h0m10 1h0m0-4h0m2 0h0m9 4h0m6-4h0m10 6h0m3-5h0m8 7h0m1-2h0m2-1h0m2-2h0m7 2h0m0-5h0m1 7h0m5-6h0m1 6h0m1-4h0m1 5h0m1-8h0m4 8h0m8-5h0m5 3h0m6-3h0m-123 9h0m37 3h0m10 3h0m7-8h0m8 4h0m10-4h0m2 0h0m0 4h0m2-2h0m0 7h0m0-6h0m7 6h0m0 0h0m2-5h0m0-4h0m0 4h0m2-2h0m3-2h0m1 9h0m1-1h0m0-1h0m1 0h0m4-6h0m3 4h0m6 0h0m4 4h0m2-2h0m1 2h0m12-6h0m-124 15h0m1-7h0m38 0h0m9 2h0m0 3h0m6-4h0m5 5h0m3-1h0m0-4h0m2 2h0m1 2h0m2 1h0m1-6h0m1 6h0m1-2h0m3 4h0m0 0h0m0-2h0m3 1h0m2-5h0m0-1h0m2 2h0m5 4h0m14-1h0m3 0h0m4-1h0m2 1h0m1 1h0m0-4h0m4-3h0m-121 9h0m26 3h0m52 5h0m2 0h0m1-2h0m4-6h0m3 3h0m8 0h0m2-2h0m3 3h0m2 5h0m5-1h0m4-7h0m1 1h0m3-2h0m2 4h0m-98 10h0m11 1h0m14 3h0m10-3h0m5 1h0m9-1h0m5 1h0m1 3h0m4-4h0m1 1h0m1-3h0m1-3h0m2 7h0m0-4h0m2-2h0m1 0h0m3 4h0m1-5h0m2 4h0m3-4h0m5 3h0m5-3h0m2 0h0m1 6h0m1 3h0m2-4h0m4 1h0m1-2h0m-89 7h0m12 7h0m3-5h0m13 3h0m1-1h0m5 0h0m0-1h0m4-3h0m3 6h0m1 1h0m4-2h0m1-6h0m2 1h0m9-1h0m0 8h0m2-2h0m1 3h0m4-9h0m3 2h0m5 5h0m3-5h0m5-1h0m4 4h0m7 1h0m11-6h0m-97 17h0m4 1h0m2-2h0m13 3h0m2-4h0m2-5h0m6 8h0m0-1h0m1 1h0m2-8h0m0 5h0m1-5h0m3 2h0m4 0h0m1 1h0m1 1h0m5-1h0m4-3h0m4 2h0m1 0h0m2-1h0m4 6h0m1-7h0m4 7h0m6-2h0m0-4h0m11 1h0m0 1h0m-97 11h0m18 5h0m2-9h0m9 7h0m4-2h0m14-4h0m0 2h0m0 0h0m3-2h0m11 5h0m1-2h0m0 1h0m1-4h0m6 5h0m5 2h0m7-4h0m12-3h0m1 5h0m11-6h0m-93 10h0m19 1h0m13 0h0m9 5h0m11-3h0m4 6h0m5-9h0m0 6h0m3-5h0m4 7h0m6-7h0m5 0h0m2 2h0m0 2h0m2-1h0m1-1h0m5 4h0m0-1h0m3-5h0m1 2h0m-91 13h0m31-6h0m1 6h0m12-5h0m1-1h0m15 3h0m0 0h0m6 0h0m2 2h0m0-3h0m1 7h0m1-4h0m2 3h0m3 1h0m2-5h0m2 3h0m-103 5h0m65 0h0m3 0h0m10 1h0m18 5h0m7-1h0m-40 4h0m2 8h0m2 0h0m5-6h0m10-2h0m2 4h0m1 3h0m4-6h0" stroke="#62b07e" stroke-width="3.5" stroke-linecap="round"/>
<path d="M1687 866h0m-6 10h0m28-2h0m24 1h0m-78 9h0m26 0h0m0-1h0m7 5h0m1 1h0m1 0h0m8-1h0m7-1h0m7-3h0m-29 14h0m4-6h0m6 3h0m1-3h0m2 7h0m2-6h0m2 6h0m6-5h0m0 2h0m7 1h0m3 1h0m0-5h0m-37 11h0m3-2h0m6 2h0m16 2h0m7-5h0m-36 17h0m9-8h0m3 4h0m12 5h0m1-3h0m5-3h0m3 1h0m8 3h0m-44 12h0m11-6h0m11-1h0m1-1h0m4 0h0m0 2h0m13 5h0m12-4h0m3-3h0m-49 17h0m11-5h0m1-1h0m25 6h0m6-7h0m3 2h0m-41 9h0m18 0h0m20-1h0m-34 10h0m5 2h0m17-2h0m1 14h0m-24 100h0m20 29h0m9-4h0m8 1h0m-61 18h0m30 0h0m18-3h0m15-4h0m-88 11h0m5-2h0m38 8h0m29 0h0m-62 2h0m45 6h0m3-7h0m12 6h0m4 2h0m1 1h0m2-9h0m2 8h0m4-1h0m2-6h0m8 4h0m-76 11h0m20-2h0m3 0h0m4 4h0m31-2h0m1-2h0m4 2h0m4 1h0m-60 7h0m6 0h0m5 5h0m4-5h0m6 5h0m5-5h0m2-1h0m0 1h0m1 3h0m9-2h0m6-1h0m7-4h0m2 5h0m7-5h0m1 9h0m10-1h0m-78 3h0m12 7h0m0-7h0m2 7h0m0-3h0m4 2h0m13-1h0m5-3h0m13-1h0m1 4h0m4 0h0m2-5h0m11 6h0m4 2h0m-75 2h0m25 5h0m4-6h0m4 2h0m8 7h0m2-1h0m6-6h0m1-1h0m3 6h0m21-3h0m-76 10h0m17-4h0m12 0h0m6 2h0m0 2h0m2-2h0m2 2h0m1-1h0m1-1h0m6 0h0m8-1h0m0 7h0m1 1h0m10-4h0m1-5h0m-88 14h0m16-1h0m15-3h0m25 1h0m2 4h0m2 3h0m1-2h0m5-6h0m22 8h0m6-7h0m6 6h0m0 0h0m-78 9h0m5 3h0m9-3h0m13-5h0m9 2h0m1 0h0m2-2h0m14 6h0m4-6h0m4 8h0m1-1h0m4 1h0m0-9h0m9 4h0m-72 6h0m24 1h0m5 1h0m5 0h0m1-1h0m2 0h0m2 3h0m2-2h0m14-2h0m5 6h0m8-5h0m15 8h0m-57 2h0m2 2h0m15 2h0m9-4h0m22 2h0m8-2h0m-78 10h0m12 3h0m0 4h0m0-7h0m17 0h0m2 4h0m1-1h0m2 0h0m0-1h0m4-1h0m13 6h0m-55 9h0m26-3h0m9-3h0m6 1h0m15 1h0m-37 9h0" stroke="#4a6cae" stroke-width="3.5" stroke-linecap="round"/>
</g>
<g filter="url(#dblur)">
<path d="M1604 1309l17-14 16 4 4 35-4 40-2 41 2 40 0 40 2 41-8 10-12-10-11-20-6-41-2-40 0-41 2-40z" fill="#9a66c2"/>
<path d="M1637 1303l18 4 12 15 2 42-4 51-2 50-8 41-12 20-6-51 0-81z" fill="#a65a8a"/>
<path d="M1683 1303l20-6 21 6 12 21-4 30-12 24-21 8-20-8-8-24 4-30z" fill="#d63a3a"/>
<path d="M1659 1358l32 0 21 28 0 69-13 40-4 41 17 40 12 51-12 26-29 4-26-20-6-61 4-60 6-61-4-51z" fill="#dc2f2f"/>
<path d="M1720 1350l16 8 12 28 4 29-8 12-16-12-8-29z" fill="#ee8a2e"/>
<path d="M1703 1402l21-4 24 17 12 30-12 20-24-10-17-20z" fill="#4a86c0"/>
<path d="M1683 1445l29 2 32 12 20 16-4 31-24 10-29-4-20-17z" fill="#ee8a2e"/>
<path d="M1703 1516l29-10 32 10 14 30 2 30-12 20-24-8-24-22-13-26z" fill="#3f86c4"/>
<path d="M1657 1617l26 12 29 0 20-12 20 10-8 20-28 14-33 0-24-14z" fill="#c84040"/>
</g>
<g filter="url(#dol)">
<path d="M1652 1286h0m35 2h0m96-6h0m-151 15h0m3-2h0m10-2h0m16-3h0m16 3h0m7 6h0m6-4h0m11-4h0m2 8h0m11-7h0m8 6h0m9-4h0m2-3h0m3 5h0m0-4h0m5 0h0m-119 10h0m15 7h0m4-7h0m2 5h0m11-5h0m10 4h0m6 1h0m28-2h0m13 3h0m2-8h0m6 8h0m1-6h0m2 7h0m3-2h0m12-1h0m5-2h0m1 1h0m9-3h0m18 0h0m27 6h0m-192 6h0m28 5h0m13-9h0m12 8h0m6-4h0m19 4h0m20 1h0m0-9h0m4 2h0m2 4h0m3-5h0m4 5h0m7-6h0m3 0h0m3 3h0m0 2h0m4 2h0m2-3h0m45 0h0m37 3h0m-185 7h0m24 5h0m3-4h0m20 3h0m2-8h0m5 1h0m5 2h0m0-1h0m5 3h0m8-5h0m6 7h0m0 0h0m3-6h0m4 7h0m28-6h0m15 3h0m21 2h0m2 1h0m-149 6h0m12-4h0m1 9h0m5-2h0m0 0h0m3-3h0m1 2h0m42-2h0m4-2h0m8 4h0m0-4h0m21 5h0m16-4h0m1-1h0m3-1h0m29 1h0m4 2h0m1-1h0m12-2h0m-173 11h0m13 5h0m0 0h0m6 1h0m3-7h0m1 7h0m8 1h0m0 0h0m15-9h0m5 1h0m8 1h0m20 3h0m19 3h0m17-1h0m5 0h0m5 1h0m16-4h0m10-1h0m4-1h0m-164 12h0m25 1h0m8 1h0m1-2h0m0 0h0m0 5h0m7-4h0m2-3h0m33 4h0m4-6h0m4 3h0m5-1h0m2 2h0m10-4h0m1 6h0m0-2h0m6-4h0m0 6h0m2 3h0m14 0h0m14-7h0m2-2h0m14 8h0m1-8h0m1 3h0m6-1h0m3 2h0m12-3h0m3 4h0m-186 13h0m2-6h0m4 1h0m3-3h0m2 7h0m3 0h0m1 0h0m9 1h0m2 0h0m3 1h0m7-2h0m16 2h0m19-8h0m1 1h0m5 4h0m2-6h0m6 4h0m17 4h0m3-3h0m1-2h0m3-2h0m7 4h0m3 0h0m8 2h0m26 2h0m0-6h0m12 2h0m8 2h0m1-1h0m0-5h0m6 4h0m-160 13h0m2-7h0m10 4h0m5 4h0m0-1h0m2-5h0m1-1h0m0 1h0m5 3h0m6 1h0m4 1h0m6-4h0m4-2h0m23-1h0m5 4h0m27 4h0m9 0h0m4-7h0m17-1h0m10 3h0m8 5h0m21-1h0m5-1h0m0-2h0m33-3h0m-236 16h0m8-6h0m10 2h0m5-3h0m14 2h0m4 4h0m0-4h0m4 4h0m1 0h0m8 0h0m1 2h0m2-8h0m20 3h0m0-1h0m25 6h0m4-9h0m28 3h0m12-1h0m9 0h0m1 2h0m14-1h0m3-1h0m0 2h0m17 0h0m9-3h0m3 2h0m-188 7h0m5 4h0m4 3h0m12-2h0m15-3h0m2 4h0m1 3h0m2-5h0m0 3h0m21-1h0m9-5h0m43 0h0m27 4h0m9-5h0m29 6h0m12-1h0m25 2h0m-222 9h0m6-4h0m18 7h0m1-2h0m7-6h0m3 1h0m0 6h0m2 0h0m1-6h0m3 1h0m7 1h0m6 4h0m0-6h0m15 4h0m11 0h0m3-6h0m4 2h0m42-1h0m26 8h0m13-1h0m8 0h0m4-6h0m5 5h0m2-7h0m12 1h0m-210 9h0m26 3h0m1 3h0m3 2h0m7-8h0m8 0h0m6 3h0m2-3h0m5 7h0m14-4h0m4 6h0m3 0h0m15-7h0m65 6h0m28 0h0m9-8h0m3 7h0m4-5h0m20 5h0m-177 10h0m6-5h0m0 4h0m9-3h0m7 6h0m5-6h0m0 0h0m1-1h0m7-1h0m7 2h0m16 1h0m20-1h0m63 0h0m5-2h0m1 5h0m5 2h0m2 1h0m2-4h0m13-4h0m1 6h0m5-1h0m1-4h0m2-1h0m2 4h0m1 4h0m12 0h0m-219 1h0m2 8h0m1-4h0m0 3h0m1-7h0m0 8h0m2-3h0m3-4h0m16 7h0m1 0h0m3 0h0m2-6h0m1 7h0m1-3h0m3-2h0m1 5h0m2-9h0m3 3h0m8 0h0m21 2h0m75-3h0m9 7h0m5-5h0m11 1h0m8-2h0m7 1h0m1 0h0m5 2h0m2 3h0m0-8h0m1 4h0m7-5h0m11 6h0m93-2h0m2 5h0m-329 10h0m13-5h0m12 2h0m7 3h0m6-9h0m2 4h0m2 4h0m8-8h0m20 3h0m13 1h0m15-1h0m79 1h0m13-2h0m2 6h0m1 1h0m1-3h0m1-1h0m2 2h0m5-4h0m1 5h0m7-6h0m2 0h0m2 4h0m1-2h0m1-2h0m4 0h0m3 6h0m4-3h0m7 3h0m-223 3h0m9 4h0m5-3h0m0 6h0m1-7h0m1 8h0m27-6h0m5-3h0m9 5h0m8 2h0m14-6h0m76 6h0m18-1h0m3-3h0m2-1h0m7 1h0m0-2h0m4 1h0m1 7h0m2-7h0m1-1h0m0 3h0m2 2h0m2-1h0m4-3h0m1 2h0m5-2h0m4-2h0m2 2h0m2 3h0m5-1h0m6-1h0m163-2h0m-402 17h0m36-5h0m4 5h0m1-4h0m2 2h0m5-4h0m1 2h0m3-4h0m2 5h0m12 3h0m9-8h0m6 2h0m109 1h0m6 1h0m0 0h0m1-3h0m2 7h0m0-4h0m4 2h0m1-1h0m1 0h0m2 3h0m1-8h0m8 2h0m0 7h0m10-9h0m1 0h0m7 4h0m0 1h0m9-1h0m1-4h0m77 9h0m-149 9h0m14-5h0m7-2h0m9 6h0m2-2h0m7-5h0m0 3h0m1 6h0m1-3h0m2-6h0m2 3h0m5 6h0m5 0h0m5 0h0m68-5h0m-298 6h0m10 9h0m2-5h0m8-4h0m33 5h0m139-3h0m3 7h0m2-2h0m1-5h0m4 5h0m0-7h0m3 3h0m3 2h0m1 3h0m3-4h0m2-1h0m8 2h0m1-5h0m1 0h0m52 4h0m-247 11h0m7-3h0m1 1h0m11 1h0m6 5h0m4-7h0m0 4h0m10-4h0m119-1h0m20 5h0m3-1h0m0 0h0m4 4h0m1-5h0m2 4h0m7-4h0m1-4h0m13 9h0m-221 4h0m85 0h0m80-1h0m2 4h0m4-3h0m6 3h0m2-5h0m0 3h0m3 4h0m3 1h0m9-6h0m0-3h0m4 0h0m12 2h0m4-1h0m-241 9h0m43 5h0m40-3h0m22 1h0m0 5h0m90-5h0m5 1h0m2-1h0m1-2h0m3 6h0m5-1h0m13-2h0m3-3h0m2 3h0m4 4h0m2-2h0m4-6h0m-210 17h0m13-5h0m28 7h0m43-2h0m74-4h0m18-1h0m3-1h0m9 6h0m0-3h0m4 2h0m0 2h0m-196 3h0m66 4h0m6 1h0m13 3h0m13-5h0m74 0h0m6-2h0m3 0h0m2 6h0m1-7h0m0 8h0m2-6h0m6 2h0m14 1h0m5 0h0m134-3h0m-295 11h0m33 2h0m27-1h0m13-1h0m69 1h0m3-5h0m6 5h0m1-5h0m20 7h0m-169 12h0m2-5h0m9 3h0m2 0h0m3-2h0m0 4h0m7-9h0m5 0h0m17 1h0m88 5h0m5-3h0m3 4h0m9-7h0m1 3h0m0-2h0m2-1h0m1 6h0m3 3h0m10-7h0m5 0h0m-152 14h0m2-1h0m20-3h0m8 7h0m3-8h0m7 5h0m61-4h0m15 3h0m2-5h0m9 3h0m26-2h0m-224 14h0m49-3h0m4-1h0m0 6h0m6-6h0m2 1h0m32 5h0m4-6h0m5 5h0m3 1h0m20-5h0m60-2h0m1 3h0m2 1h0m-135 8h0m4-1h0m2 1h0m1 6h0m4-8h0m8 0h0m0 3h0m2-2h0m0 2h0m20 0h0m9-2h0m52 1h0m0 7h0m28-5h0m15 3h0m8-7h0m-172 13h0m13 2h0m4-4h0m4 8h0m2-6h0m4 5h0m2 0h0m14-8h0m8 9h0m3-2h0m6 2h0m11-3h0m1 3h0m17-6h0m3 1h0m5-2h0m0 5h0m3 1h0m11-2h0m4-2h0m-141 8h0m31 7h0m1-4h0m7 3h0m6-5h0m4 6h0m10-7h0m1 7h0m1-9h0m0 3h0m5 6h0m0 0h0m8-8h0m26-1h0m15 7h0m5-6h0m1 5h0m1-2h0m1-2h0m0 6h0m1 1h0m0-3h0m1 1h0m2-1h0m2-3h0m4 6h0m2-3h0m3 3h0m0-3h0m52-2h0m-153 6h0m3 7h0m4 2h0m7-7h0m6 0h0m4 4h0m3 1h0m0-7h0m6 7h0m1 0h0m0-6h0m1 7h0m2-1h0m4-6h0m1 7h0m1-5h0m5 4h0m6 2h0m5-2h0m0-4h0m2 0h0m12 6h0m1-8h0m1 5h0m1 1h0m3 1h0m1-7h0m1 2h0m0 3h0m1 2h0m1 0h0m1-7h0m1 2h0m1 5h0m0-6h0m0 5h0m2-3h0m4-4h0m1 2h0m5-1h0m6 7h0m5-7h0m4 5h0m7-3h0m37-3h0m-172 12h0m21-1h0m1 1h0m5 6h0m9 1h0m6-1h0m8-1h0m2 1h0m1-3h0m0-2h0m2 0h0m2-3h0m2 9h0m2-9h0m4 5h0m6 0h0m4-2h0m1 3h0m1-6h0m5 6h0m6-2h0m3 0h0m3-3h0m0-1h0m1 7h0m1-2h0m2-2h0m3 2h0m1 0h0m0 1h0m1-1h0m2 2h0m2-1h0m1 3h0m3-4h0m1 1h0m0-4h0m1 4h0m0 2h0m3-6h0m9 7h0m1-5h0m2 4h0m19-1h0m14-3h0m-139 13h0m2-3h0m8-2h0m2-1h0m5 6h0m0-6h0m0 8h0m4-8h0m2 0h0m1 3h0m3 3h0m0-2h0m1-2h0m5 3h0m0-1h0m0-2h0m1-3h0m3 0h0m1 7h0m1-7h0m3 5h0m1-4h0m1 8h0m3-4h0m2 2h0m0-5h0m3 1h0m4-1h0m4 2h0m1-1h0m4-3h0m2 5h0m3-3h0m1 3h0m4 4h0m2-3h0m2-5h0m1 7h0m2-8h0m0 3h0m1 3h0m0 3h0m34-2h0m-143 4h0m17 1h0m1 0h0m1 1h0m5 1h0m3 3h0m8 2h0m8 0h0m4 0h0m8-3h0m1-5h0m1 5h0m1-2h0m7-4h0m16 3h0m8 3h0m3 3h0m1-9h0m3 7h0m1 2h0m1-6h0m1 2h0m0 0h0m1-4h0m4-1h0m2 8h0m2-3h0m2-3h0m1-1h0m1 2h0m0-3h0m0 4h0m1 5h0m1-4h0m7-4h0m47 0h0m-160 14h0m14-1h0m2-4h0m13 4h0m3-2h0m7 1h0m3 0h0m1 0h0m10 2h0m5-1h0m1-1h0m1-2h0m0 4h0m5-3h0m9 5h0m10 1h0m1-1h0m5-2h0m6-5h0m8 0h0m2 5h0m0 4h0m1-7h0m1 1h0m2-3h0m1 4h0m22 4h0m-132 4h0m24 6h0m4 0h0m2-4h0m2-4h0m13 0h0m4 6h0m6-1h0m22-3h0m1 5h0m5 1h0m10-5h0m2-2h0m1 0h0m8 4h0m23-4h0m26 2h0m-163 9h0m28 0h0m22-2h0m9 0h0m41 2h0m12-2h0m34 1h0" stroke="#a84a48" stroke-width="3.5" stroke-linecap="round"/>
<path d="M1718 1370h0m25 0h0m-23 17h0m13-5h0m36 2h0m-51 8h0m0-2h0m18 2h0m4-1h0m8 7h0m11-7h0m2 4h0m4-2h0m0 5h0m2-8h0m6 0h0m-67 18h0m2-8h0m5 2h0m3 6h0m1-1h0m6 1h0m11-3h0m4-2h0m8 5h0m5-1h0m5-4h0m6 0h0m1-2h0m1 2h0m1 1h0m6 5h0m1-6h0m5-1h0m8-2h0m-84 15h0m8-4h0m3 7h0m0 1h0m3-9h0m3 3h0m1 5h0m4-1h0m2-2h0m8 4h0m2-5h0m1 1h0m0 0h0m1 1h0m1-5h0m1-1h0m3 9h0m2-9h0m4 6h0m1 1h0m1-5h0m7 7h0m2-8h0m2 6h0m7 1h0m4-6h0m4 1h0m7 6h0m-84 9h0m8-2h0m15 0h0m3-3h0m7 1h0m3 0h0m1-4h0m1 4h0m3 3h0m1 2h0m2-9h0m5 2h0m2 0h0m1 6h0m5-6h0m2-2h0m1 0h0m1 9h0m2-7h0m0 4h0m5 3h0m7-6h0m1 5h0m11-1h0m-123 8h0m7 4h0m10-5h0m1 4h0m2-4h0m9 0h0m6 1h0m25-3h0m5 0h0m2 3h0m1 3h0m2-6h0m5 1h0m1-2h0m2 8h0m0-5h0m5-2h0m4 1h0m0-1h0m1 6h0m2-2h0m11-6h0m5 7h0m2-5h0m0 6h0m4-7h0m3 0h0m2 0h0m-120 16h0m20 0h0m5 2h0m0-6h0m2 1h0m2 3h0m15-1h0m4 0h0m2-5h0m0 0h0m2 3h0m12 4h0m4-3h0m3-1h0m4-1h0m9 5h0m3-4h0m0-4h0m0 5h0m3-2h0m5-1h0m1 5h0m1-1h0m1 0h0m1-5h0m9-1h0m0 6h0m5-1h0m2-5h0m20 7h0m-135 4h0m4 6h0m9-7h0m8 1h0m4 3h0m10 5h0m3-9h0m23 7h0m9 0h0m1 0h0m2-2h0m7-3h0m0 6h0m3-2h0m0-4h0m1 5h0m5 1h0m5-8h0m2 2h0m1 0h0m1 5h0m2-6h0m1 5h0m2 0h0m4 0h0m1 3h0m15-3h0m-118 5h0m3 1h0m17 3h0m0-2h0m6-2h0m17 5h0m0 2h0m2-2h0m1 2h0m4-8h0m3 2h0m1-1h0m2 8h0m6 0h0m8-9h0m0 6h0m2-3h0m9-2h0m14 1h0m2 6h0m10-7h0m7 2h0m6 1h0m-121 10h0m9-4h0m1 5h0m3 3h0m12-6h0m4-2h0m4 4h0m16 3h0m4-4h0m6-3h0m18 7h0m5-2h0m13 3h0m5-8h0m12 3h0m0 4h0m5 0h0m0 0h0m-122 4h0m21 8h0m6-5h0m19 3h0m1-5h0m8 3h0m1 0h0m4 0h0m1-1h0m4-1h0m14 3h0m17 0h0m3 0h0m1-4h0m2 5h0m2-6h0m4 7h0m13-6h0m11-2h0m-129 10h0m16 3h0m16 2h0m11 0h0m5-4h0m8 5h0m9-4h0m14 7h0m11-9h0m1 0h0m3 8h0m2-5h0m8-2h0m2 7h0m13-4h0m11-1h0m-112 8h0m28 0h0m4 0h0m5 8h0m4 0h0m0 0h0m1-2h0m2-7h0m2 8h0m2-4h0m7 5h0m0-9h0m5 2h0m0 4h0m5-4h0m3 4h0m5 1h0m0 0h0m3 1h0m8 0h0m1-1h0m5 1h0m0-8h0m1 3h0m3 5h0m2-1h0m2 1h0m1-5h0m8 0h0m1-2h0m0-1h0m-91 14h0m14 4h0m1-6h0m4 1h0m2 3h0m5-6h0m1 8h0m2-8h0m1 9h0m1 0h0m4-9h0m1 9h0m1-3h0m1 1h0m1 0h0m2 2h0m1-9h0m1 4h0m2 4h0m4 0h0m2-6h0m2 4h0m0 1h0m1 0h0m1-1h0m1 2h0m0-4h0m3-3h0m0 2h0m4-2h0m1 4h0m1 0h0m3-1h0m0-1h0m1 4h0m1 1h0m5-5h0m1 0h0m3 4h0m0-4h0m1-2h0m2 4h0m0 2h0m0 0h0m2-7h0m1 2h0m0 4h0m7 3h0m2 0h0m-80 10h0m6-1h0m3-5h0m2 2h0m4-3h0m1 0h0m1 4h0m1-5h0m0 6h0m2 1h0m3 1h0m3-2h0m0-1h0m0 3h0m0-4h0m0-3h0m1 4h0m2-3h0m0-2h0m0 4h0m1-4h0m1 5h0m2-1h0m0 4h0m1-8h0m1 3h0m0 0h0m1 5h0m1-4h0m0 1h0m0-5h0m2 5h0m0-5h0m1-1h0m0 9h0m0-7h0m1 6h0m1 0h0m0-6h0m0 7h0m1-7h0m1 1h0m1-2h0m1 6h0m0 2h0m2-8h0m1 8h0m0-3h0m1-5h0m0 0h0m0 8h0m0-1h0m1-5h0m2 1h0m4 3h0m1 1h0m1-2h0m0 3h0m4 0h0m2-6h0m3 3h0m1 1h0m2-6h0m2 5h0m11 0h0m-83 7h0m11-3h0m0 5h0m3 4h0m1-9h0m1 6h0m1 3h0m1-7h0m1 4h0m1 3h0m0-7h0m1 3h0m2 0h0m0 0h0m2-4h0m0 0h0m1 8h0m1-4h0m1 3h0m1-2h0m0-3h0m1 2h0m2 4h0m1-3h0m2-5h0m2 7h0m0-2h0m1 2h0m0-8h0m2 8h0m0-1h0m4 2h0m1-9h0m1 9h0m1-4h0m0-1h0m1-3h0m0 5h0m1 1h0m2 1h0m3-1h0m0-5h0m0 3h0m1-3h0m2-2h0m2 8h0m0 0h0m1-7h0m3 1h0m2 0h0m2 1h0m1 1h0m1 4h0m3-4h0m2-4h0m8 2h0m0 2h0m1-3h0m7 2h0m-92 9h0m6 3h0m3 4h0m1-3h0m3-4h0m5 3h0m5-3h0m2 1h0m0 3h0m1-2h0m1-2h0m0 3h0m1 3h0m3-3h0m3-2h0m0 6h0m0-5h0m1 2h0m0-6h0m1 6h0m1-6h0m0 8h0m0-4h0m3 4h0m0 1h0m1-5h0m0 4h0m1-3h0m2-4h0m1 4h0m1 2h0m1-6h0m0 8h0m0-3h0m2-2h0m0-1h0m1-1h0m1 4h0m2-4h0m0 5h0m1-2h0m2-3h0m1 2h0m1-4h0m3 9h0m1-3h0m0-5h0m1 1h0m1 0h0m0 1h0m2 2h0m2 0h0m1 2h0m2 2h0m3-1h0m-68 8h0m5-3h0m1-2h0m2 0h0m2 5h0m5 2h0m1-6h0m0 2h0m1-2h0m0 4h0m2-4h0m1 7h0m2-3h0m2-1h0m3-3h0m0 5h0m2-5h0m3 4h0m0-3h0m1-1h0m0-2h0m1 1h0m0 7h0m0-6h0m2 1h0m0 5h0m1-2h0m1 1h0m1-7h0m0 6h0m1-5h0m0 0h0m0 3h0m1-4h0m1 7h0m1-6h0m0 5h0m2-1h0m3 3h0m0-8h0m1 7h0m3-5h0m0 0h0m5 0h0m8 0h0m4 3h0m3 0h0m4 2h0m9-3h0m12-3h0m-90 16h0m0-7h0m1 9h0m3-5h0m2 5h0m1-7h0m0 4h0m1-2h0m3-3h0m2 0h0m1-1h0m1 0h0m0 0h0m0 8h0m0-3h0m0-1h0m1 3h0m1 1h0m0-6h0m1 2h0m1 4h0m0-1h0m1 1h0m0 1h0m1-4h0m0 4h0m3-1h0m1-7h0m1 4h0m1 4h0m0-2h0m2-1h0m3-4h0m1-1h0m3 1h0m2-2h0m2 3h0m7 3h0m1-2h0m2 1h0m18-1h0m-81 8h0m9-2h0m4 5h0m6 4h0m1-2h0m2 0h0m1 2h0m0-3h0m2-5h0m2 5h0m7 0h0m1-3h0m0-3h0m1 1h0m0 0h0m2 4h0m1 3h0m0-2h0m0 1h0m1 0h0m1 1h0m0-3h0m0 0h0m1-1h0m0-2h0m2 2h0m2 3h0m1-6h0m1 1h0m1 1h0m2 1h0m0 4h0m2-6h0m3 4h0m1-6h0m1 0h0m1 3h0m2 3h0m0-2h0m0 4h0m7-8h0m0 4h0m2 2h0m1-4h0m1 5h0m0-2h0m1 4h0m0 0h0m4-7h0m4 2h0m10 4h0m0-1h0m6 2h0m-82 9h0m12-2h0m1-6h0m4 4h0m2 1h0m0 4h0m2-6h0m0 4h0m3-5h0m1 2h0m1-1h0m3 0h0m0-3h0m0 4h0m1 4h0m4-1h0m0-4h0m1-2h0m2 3h0m0 1h0m1-4h0m4 1h0m1 5h0m1-7h0m1 5h0m4-4h0m10-1h0m3 0h0m3 0h0m3 1h0m-65 11h0m5-2h0m4 9h0m4-9h0m0 0h0m1 3h0m0 3h0m1 2h0m1-3h0m3 1h0m0-5h0m1 3h0m0 4h0m1-8h0m2 8h0m3 0h0m1-3h0m3 4h0m1-8h0m1 3h0m1-1h0m1-1h0m1 1h0m3-2h0m3 1h0m4 0h0m2 0h0m5-1h0m20-1h0m-93 12h0m24 6h0m1-1h0m5 2h0m3-9h0m2 8h0m0-1h0m2-1h0m2-3h0m0-1h0m1 6h0m2-1h0m6-5h0m1 3h0m7-4h0m0 3h0m0-3h0m7 1h0m1 6h0m0-6h0m16 0h0m2-2h0m6 7h0m-56 5h0m3 4h0m0-2h0m2-2h0m1 1h0m3-3h0m3 3h0m0 1h0m2 1h0m2-4h0m3 2h0m0 3h0m6-4h0m-24 10h0m4 3h0m15-1h0m5-4h0m-24 13h0" stroke="#3f86c4" stroke-width="3.5" stroke-linecap="round"/>
<path d="M1601 1283h0m1 1h0m13-1h0m0-1h0m14 6h0m1-5h0m3 6h0m8-3h0m1-1h0m6 1h0m6-4h0m4 1h0m3 1h0m6 1h0m-66 13h0m5-4h0m6 1h0m3 2h0m0-5h0m0-2h0m4 9h0m3-9h0m0 6h0m0-2h0m1 1h0m2-5h0m3 7h0m7-2h0m4 3h0m11-8h0m3 9h0m5-4h0m2 1h0m0-2h0m6 5h0m125-3h0m2 0h0m-195 12h0m1-2h0m7-1h0m4 2h0m10 2h0m1-5h0m12-4h0m2 0h0m1 3h0m0 5h0m1-1h0m10-3h0m2-3h0m3 4h0m7 2h0m110 0h0m-169 10h0m7 2h0m1 0h0m1-3h0m6 2h0m1-1h0m1-2h0m0 0h0m7 1h0m0-3h0m5 6h0m3-6h0m3 2h0m1-2h0m2 5h0m3-4h0m1-4h0m0 3h0m1 0h0m1 6h0m2-7h0m2 7h0m3-9h0m2 7h0m1-1h0m2-6h0m0 5h0m4-5h0m124 8h0m36 0h0m-217 4h0m2 6h0m2-3h0m1-3h0m6 2h0m0-3h0m1 2h0m1 4h0m3 0h0m2-3h0m1 4h0m3-4h0m0-1h0m3 0h0m4-1h0m2 3h0m3 3h0m7-4h0m1 3h0m1-5h0m5 2h0m1-2h0m3 2h0m1-1h0m2-1h0m7-1h0m0-1h0m5 6h0m107-2h0m4 0h0m15 0h0m-190 9h0m2 4h0m2 1h0m3 0h0m3-2h0m2-2h0m2-3h0m5 4h0m3 0h0m0-3h0m0 7h0m1-4h0m0 0h0m2 3h0m2-7h0m1 7h0m0 1h0m1-1h0m6-7h0m3-1h0m1 8h0m2-1h0m1-2h0m12-4h0m2-1h0m103 7h0m5-3h0m10 1h0m8-4h0m-189 16h0m1-4h0m3-2h0m1 3h0m6-2h0m0 4h0m1 2h0m1-4h0m1 4h0m5-5h0m1-2h0m0-1h0m0 8h0m0-8h0m2 3h0m0-3h0m1 8h0m0-8h0m2 5h0m2-4h0m0 6h0m2 1h0m2-2h0m2-4h0m1 0h0m2 1h0m1 6h0m2-7h0m0 3h0m0-4h0m4 0h0m4 4h0m2-1h0m1-4h0m0 3h0m0 6h0m1-8h0m3 3h0m0-3h0m1 8h0m1-1h0m1 1h0m3-6h0m122 5h0m0-5h0m3-1h0m3-2h0m-193 18h0m1-1h0m4-6h0m4 4h0m8-1h0m0 5h0m0-1h0m1-8h0m1 1h0m0 0h0m1 4h0m1-3h0m1-2h0m1 5h0m0 1h0m1-4h0m0 4h0m1-5h0m1 5h0m0 0h0m2 0h0m0-2h0m1 3h0m1-4h0m1 3h0m0-5h0m1-1h0m1 1h0m2 8h0m6 0h0m1-2h0m1-7h0m2 4h0m1-2h0m1-2h0m2 4h0m2-2h0m1 3h0m0 4h0m1-6h0m5 2h0m2-5h0m1 9h0m3-1h0m1-5h0m1 1h0m0 5h0m0 0h0m0-7h0m1 1h0m1-3h0m4 7h0m116-1h0m14-6h0m-193 14h0m4 5h0m2-7h0m0-1h0m1 8h0m1-5h0m1 0h0m2 2h0m3 0h0m0-3h0m1 0h0m1 3h0m1-5h0m1 5h0m1-5h0m1 4h0m0 1h0m2 1h0m3-5h0m0 5h0m0-5h0m2-2h0m3 1h0m1 7h0m3-5h0m0 3h0m2 0h0m2-1h0m3-1h0m1 3h0m1-1h0m1-6h0m0 7h0m1-6h0m1 1h0m4-1h0m7 7h0m1-8h0m111 0h0m4 3h0m1-2h0m4 6h0m14-2h0m16 1h0m-216 13h0m3-5h0m2-2h0m2 5h0m2-4h0m0 1h0m4 0h0m2-2h0m1 1h0m0-3h0m2 1h0m1 3h0m0 4h0m1-6h0m1-2h0m1 1h0m1 5h0m1-4h0m1-2h0m1 8h0m1 0h0m2-6h0m0 5h0m0-3h0m1 0h0m1-2h0m0 7h0m0-7h0m1 5h0m1-7h0m0 6h0m0 0h0m1-4h0m0-1h0m1 8h0m0-8h0m1-1h0m1 6h0m1 3h0m0-2h0m0-2h0m1-5h0m2 5h0m1-1h0m0 2h0m1 3h0m0-1h0m1-5h0m2 5h0m3-2h0m1-1h0m1-5h0m2 0h0m3 5h0m2-2h0m2 6h0m3-6h0m0 2h0m3 1h0m112-1h0m15 0h0m15 1h0m-217 9h0m4 4h0m9-1h0m2 1h0m3-2h0m2 2h0m1-6h0m0 5h0m3-4h0m5-4h0m3 0h0m2 5h0m0-2h0m0 3h0m1 1h0m0-6h0m1 0h0m0 1h0m0-2h0m1 2h0m0 1h0m0 4h0m0-3h0m3 2h0m1 2h0m0-3h0m1 0h0m1 3h0m0-6h0m0 2h0m0-4h0m1 2h0m2 2h0m1-1h0m2 1h0m2-1h0m0 2h0m3-5h0m0 3h0m0 5h0m4-1h0m0-5h0m0 4h0m1 2h0m0-7h0m4 8h0m1-2h0m0-6h0m4 0h0m2 8h0m1-3h0m5 0h0m115-5h0m2 6h0m8-5h0m11 4h0m3 1h0m8-7h0m1 5h0m19 0h0m-240 7h0m15 6h0m0-2h0m4-5h0m0 6h0m1 2h0m0-2h0m1 0h0m2 0h0m0-2h0m0 4h0m1-8h0m0 4h0m1-1h0m0 4h0m0 0h0m1-3h0m1-1h0m0-3h0m2 4h0m0-3h0m1 2h0m0 1h0m1-3h0m1 2h0m1-3h0m3 4h0m1-4h0m1 1h0m1 1h0m2-2h0m0 8h0m7-3h0m5-2h0m0 2h0m4 0h0m2-4h0m2 5h0m2-3h0m1 1h0m4 3h0m0-7h0m4 4h0m0 3h0m2 0h0m2-7h0m7 4h0m0 2h0m3 1h0m4 1h0m98-7h0m12 6h0m3 0h0m27-6h0m4 6h0m-227 7h0m5-3h0m1 2h0m0-1h0m1 1h0m2-3h0m1 4h0m1-3h0m1 5h0m3 2h0m0 0h0m0-2h0m1 1h0m1 0h0m1-4h0m2-1h0m1-2h0m1 8h0m1-9h0m0 9h0m1-5h0m1 5h0m2-9h0m0 3h0m1-3h0m0 9h0m0-7h0m2 7h0m0-3h0m0-6h0m3 7h0m0 0h0m2-1h0m1 1h0m3-5h0m1-2h0m2 6h0m1 1h0m0 0h0m3 1h0m2-8h0m4 5h0m2 2h0m2-2h0m7-4h0m4 1h0m102-2h0m4 4h0m9-1h0m7 4h0m3-6h0m2 0h0m2 7h0m13-6h0m3-2h0m-214 16h0m2 2h0m0-7h0m2 4h0m5 2h0m4-4h0m1-3h0m0 6h0m4-6h0m0 9h0m1-1h0m0 0h0m0-3h0m0-5h0m0 1h0m1 7h0m0-2h0m0 2h0m1-1h0m1-6h0m1 6h0m0-7h0m0 3h0m1 6h0m0-5h0m1 1h0m0 3h0m0-4h0m1-1h0m2 1h0m1 0h0m0-3h0m2 6h0m1-7h0m2 1h0m0 6h0m2 0h0m0-3h0m1 0h0m1 4h0m0 0h0m3-4h0m4-1h0m1 2h0m4-5h0m4 3h0m1 0h0m1-1h0m3 5h0m9 2h0m12-2h0m102-5h0m2 2h0m44 4h0m-224 6h0m7 0h0m1 5h0m1-8h0m1 8h0m1-6h0m1 6h0m1-4h0m1-4h0m3 1h0m0 3h0m2-4h0m0 6h0m0-6h0m0 3h0m1 4h0m0-4h0m1 5h0m1-7h0m1 2h0m0 5h0m0-3h0m0 2h0m0-8h0m2 5h0m3 2h0m0 2h0m0-1h0m4-5h0m1 2h0m1-2h0m0 1h0m1 1h0m0-4h0m0 6h0m1-1h0m4 2h0m0-8h0m0 1h0m0 7h0m1-3h0m1-4h0m3-1h0m1 1h0m0-1h0m3 0h0m0 6h0m2 1h0m1-1h0m5-2h0m4-2h0m4-2h0m6 5h0m114 1h0m6-2h0m1 3h0m2 0h0m4-3h0m2-1h0m1 5h0m5-2h0m2-5h0m6 1h0m10-1h0m2 3h0m6-2h0m-235 17h0m8-7h0m1 6h0m0 0h0m1-5h0m1 2h0m2 0h0m2-5h0m0 6h0m1-5h0m2 4h0m0-1h0m0 5h0m3 0h0m0-4h0m0 3h0m3-7h0m1 7h0m3-3h0m0 3h0m0-8h0m0 7h0m1-4h0m1 3h0m0 1h0m1-3h0m0-1h0m2 2h0m0 1h0m2 0h0m0-6h0m0 1h0m3 5h0m0-1h0m4 1h0m2 1h0m0-6h0m2 3h0m0-2h0m0 4h0m1-2h0m0 5h0m2-1h0m1-4h0m0 3h0m2-3h0m9 4h0m26-8h0m93 8h0m4-5h0m3 2h0m2 3h0m5-8h0m1 3h0m3 0h0m7 2h0m5 4h0m0-8h0m3 0h0m2 1h0m2 4h0m29-2h0m-251 9h0m3 3h0m5 0h0m0 0h0m6 3h0m1-1h0m1-7h0m0 3h0m0-2h0m2-1h0m0-1h0m1 1h0m1 7h0m2-6h0m4 6h0m0-8h0m1 5h0m1-5h0m1 1h0m0 2h0m1 2h0m1-4h0m1 4h0m0-4h0m0 6h0m1-1h0m1-5h0m0 6h0m0 0h0m1-4h0m0-2h0m2 7h0m1 0h0m1-1h0m0-1h0m1-3h0m4 5h0m0 0h0m2-7h0m0 3h0m3-4h0m4 0h0m1 6h0m1-3h0m1 3h0m0 1h0m1-7h0m2 7h0m2 2h0m0-1h0m4-8h0m0 1h0m1-1h0m0 5h0m1 0h0m0 0h0m2-5h0m5 1h0m11 4h0m99 3h0m3 1h0m0-2h0m6-4h0m6 0h0m5 1h0m5 0h0m3-2h0m1 0h0m1 2h0m17 3h0m4-7h0m5 8h0m-243 10h0m13-8h0m7 0h0m2 8h0m1-7h0m2 3h0m1 5h0m0-9h0m1 9h0m0-1h0m1-3h0m1 1h0m0 3h0m1-8h0m1 4h0m1 2h0m1-3h0m2 5h0m0-9h0m0 2h0m2-1h0m4 2h0m0-1h0m2 5h0m0 0h0m0-5h0m0 7h0m0-3h0m1-6h0m1 1h0m3 3h0m0 4h0m0-2h0m3-6h0m0 8h0m3 1h0m6-2h0m19 1h0m108-3h0m4 2h0m5 1h0m1-4h0m2-2h0m3 6h0m4 0h0m4-3h0m3 4h0m2-2h0m3-6h0m1-1h0m0 7h0m0 1h0m1-1h0m2 0h0m27 0h0m-235 3h0m2 9h0m3-9h0m2 5h0m2 4h0m0 0h0m0-8h0m1 1h0m0 6h0m0-2h0m1-1h0m1-2h0m0-3h0m1 5h0m0 3h0m2-8h0m1 2h0m1-1h0m0 5h0m1 1h0m0-4h0m0 0h0m1-2h0m0 3h0m1 0h0m1-3h0m0 4h0m3-2h0m0 4h0m2-4h0m0-3h0m2 8h0m1-1h0m0 0h0m1-2h0m1-4h0m2 1h0m13 4h0m1 1h0m13 1h0m9 0h0m1-6h0m109 1h0m4 3h0m4-6h0m4 0h0m3 5h0m2 1h0m1-2h0m4-2h0m2 3h0m3 1h0m3 1h0m2-5h0m1-2h0m14 1h0m6 1h0m-238 17h0m1-4h0m3-5h0m1 4h0m1 3h0m1-5h0m4-2h0m0 5h0m1-2h0m1 0h0m0 4h0m3-7h0m2 2h0m0 1h0m1-2h0m0 8h0m0-1h0m1-7h0m1 7h0m0 0h0m0 0h0m0 0h0m1-4h0m0-3h0m1 5h0m2-6h0m3 4h0m2-2h0m0-2h0m1 4h0m4 4h0m1-3h0m4-5h0m6 1h0m2 4h0m0 3h0m2-3h0m2-4h0m2 0h0m1 5h0m2-6h0m2 8h0m24-5h0m97 6h0m12-5h0m10-2h0m0 0h0m4 6h0m1-4h0m0 4h0m6 0h0m2-1h0m4-2h0m2 3h0m1-2h0m4-4h0m2 5h0m4 2h0m-226 3h0m5-1h0m0 8h0m0-4h0m8-4h0m1 5h0m0-5h0m2 1h0m0 6h0m1-6h0m1 4h0m1 2h0m2-1h0m0-4h0m1-1h0m1 6h0m0-3h0m5-3h0m1 0h0m4 2h0m1 0h0m8 1h0m12 4h0m0-7h0m10 6h0m112-5h0m1-1h0m1 5h0m0 0h0m5-3h0m1-2h0m2 5h0m3 0h0m11-3h0m14-1h0m6 0h0m3 2h0m1 3h0m1-8h0m6 8h0m-245 2h0m12 8h0m3-2h0m0-6h0m2 6h0m5-5h0m2 8h0m1-8h0m4 3h0m1-4h0m1 2h0m0 2h0m0 1h0m2 0h0m1-4h0m1 7h0m5 0h0m3-5h0m0 6h0m2-2h0m1-3h0m2 2h0m2 3h0m3-8h0m1-1h0m5 7h0m10-1h0m11-6h0m116 9h0m6-1h0m2-7h0m1 1h0m0 3h0m4 2h0m3 1h0m2-5h0m1 5h0m5-4h0m16 2h0m2 0h0m12-3h0m-250 12h0m8 4h0m10-7h0m1 1h0m4 2h0m2 4h0m0-2h0m2-3h0m7 0h0m0 1h0m1-3h0m0 6h0m3-2h0m2-5h0m1 4h0m0 1h0m0-5h0m0 6h0m1-4h0m4-3h0m2 4h0m0 2h0m3-3h0m3-2h0m4 3h0m1-1h0m16 5h0m115-4h0m8-3h0m3 7h0m0-8h0m5 4h0m0-3h0m8 3h0m1 3h0m13-7h0m10 0h0m2 4h0m1 4h0m-233 5h0m4 3h0m11 2h0m2-6h0m1 6h0m0-1h0m1 2h0m1-5h0m1 3h0m2-6h0m4 8h0m0-9h0m0 3h0m4 3h0m1-2h0m1-3h0m2 5h0m145 3h0m2-4h0m15-3h0m2 4h0m1-2h0m0 2h0m0 1h0m3-2h0m2-1h0m2 0h0m5 1h0m7-5h0m0 9h0m7-5h0m2 5h0m1-5h0m2 5h0m-218 4h0m1 3h0m1 1h0m1-5h0m5 2h0m1-2h0m3 6h0m2-1h0m0-7h0m2 0h0m4 6h0m1-5h0m2 2h0m16-1h0m3 3h0m1 3h0m141-1h0m3 2h0m2-1h0m4-8h0m1 2h0m3 4h0m4 2h0m9-7h0m2 8h0m-221 4h0m1-1h0m7 1h0m1 3h0m1 0h0m1-6h0m6 2h0m4-1h0m0 8h0m6-8h0m1 3h0m0 3h0m7 1h0m0-4h0m2 1h0m1 1h0m24 1h0m123-4h0m2-1h0m0 0h0m2 5h0m0-2h0m13-3h0m6-1h0m2 4h0m2 0h0m3 2h0m2 2h0m1-3h0m14 2h0m-234 7h0m13 3h0m0-8h0m1 9h0m5-9h0m3 5h0m1-4h0m0 8h0m2-3h0m4-5h0m4 1h0m0 2h0m5 4h0m4-1h0m2 2h0m15-2h0m21-1h0m112-3h0m6 6h0m2-9h0m2 4h0m6 2h0m28-3h0m1 5h0m-219 6h0m2 4h0m2-1h0m2-2h0m3-2h0m1-3h0m4 4h0m1 0h0m7 0h0m2-2h0m14 5h0m5-1h0m136 1h0m3 2h0m13-1h0m6-1h0m2-3h0m-221 6h0m27 4h0m1 1h0m11-1h0m5 3h0m5 2h0m3-5h0m21-1h0m3 1h0m120 1h0m13 2h0m7 0h0m0-2h0m8 2h0m0-2h0m4-2h0m0-2h0m8 3h0m-217 7h0m2 2h0m6 1h0m9 4h0m1-5h0m1 5h0m17-5h0m1 3h0m2 0h0m7-4h0m6 6h0m143-8h0m3 1h0m12 0h0m4 0h0m-225 12h0m7-2h0m9 3h0m5 0h0m4 0h0m1-4h0m2 9h0m4-2h0m17-2h0m1 1h0m3 3h0m1-4h0m14 0h0m120-4h0m26 0h0m1 5h0m-203 6h0m26-2h0m2 8h0m4-5h0m5-3h0m2 0h0m5 9h0m1-6h0m4 5h0m11-2h0m2 3h0m8-8h0m3 8h0m123-5h0m-218 13h0m15-2h0m8-5h0m8 8h0m18-3h0m9-5h0m6 6h0m5 1h0m5 2h0m135-3h0m-200 4h0m2 4h0m14 5h0m8-9h0m12 7h0m2-6h0m2 6h0m6 1h0m2-4h0m3 4h0m4 0h0m1-6h0m0 1h0m4 6h0m24-3h0m143-4h0m-184 10h0m8 6h0m8-6h0m2-1h0m0 7h0m5-7h0m22 5h0m116-3h0m-169 13h0m23-3h0m165-1h0m-217 21h0" stroke="#9a66c2" stroke-width="3.5" stroke-linecap="round"/>
<path d="M1627 1283h0m23 5h0m2 0h0m11-1h0m3-5h0m7 1h0m4 6h0m5-3h0m9 2h0m2-1h0m0-4h0m7 0h0m2 6h0m-69 3h0m13 2h0m7 4h0m5-5h0m7 1h0m5 3h0m1 2h0m0-2h0m2 0h0m4-1h0m1-3h0m0 6h0m1-2h0m0 0h0m2 2h0m0-9h0m3 4h0m1-1h0m1 3h0m4-5h0m3 3h0m3-1h0m2 3h0m1-1h0m0 2h0m1-3h0m6 1h0m4 2h0m0 0h0m3-3h0m8-1h0m3 0h0m15 4h0m13 2h0m-125 3h0m5 5h0m14-4h0m6 4h0m3 1h0m4-1h0m0-1h0m2-1h0m1 0h0m9-5h0m5 2h0m2-1h0m5 6h0m2 2h0m2-3h0m2 3h0m0 0h0m1-5h0m1 4h0m1-8h0m1 0h0m1 7h0m1-1h0m0 1h0m1-1h0m1 0h0m0 3h0m2-9h0m2 8h0m1 0h0m3-4h0m0 1h0m1-4h0m1 5h0m0-1h0m0-5h0m3 5h0m0 4h0m1-4h0m1 2h0m2 0h0m4-3h0m5 5h0m19-2h0m-123 9h0m15 1h0m4-1h0m2 2h0m2-4h0m8 5h0m1 0h0m1-5h0m2-3h0m1 3h0m1 0h0m1 2h0m3 1h0m1 2h0m5-1h0m1 1h0m2-8h0m1 5h0m0 2h0m10 1h0m2 0h0m1-6h0m2 4h0m0-3h0m2 2h0m1-1h0m0-3h0m0 0h0m1 0h0m1 2h0m0 4h0m1-3h0m0-1h0m0-1h0m4 0h0m1 6h0m0-8h0m4 7h0m0-1h0m0-4h0m0 2h0m1 1h0m2-5h0m1 3h0m0-4h0m1 0h0m4 0h0m2 0h0m0 2h0m2 5h0m2-3h0m3 3h0m4-3h0m3-4h0m5 7h0m43-6h0m10 5h0m-146 12h0m4-2h0m2-2h0m6 0h0m4-1h0m1 3h0m1-1h0m1-2h0m4-3h0m7 9h0m0-6h0m1-3h0m2 3h0m0-3h0m1 1h0m0 4h0m2 3h0m2 0h0m1-8h0m1 8h0m1-8h0m2 2h0m1-2h0m1 4h0m1-4h0m0 1h0m0 8h0m0-3h0m2-4h0m0 2h0m0 1h0m1-2h0m2-1h0m1 7h0m4-9h0m2 1h0m1 3h0m0-1h0m0-2h0m1 7h0m1-8h0m0 0h0m0 3h0m2-1h0m0 4h0m3 0h0m0 2h0m2-2h0m0-1h0m1 3h0m1-8h0m1 0h0m0 4h0m2 5h0m0-5h0m1 2h0m1-3h0m1 1h0m0-2h0m1 3h0m2 2h0m5-4h0m16 5h0m13-2h0m17 0h0m-137 4h0m1 5h0m15-2h0m0 4h0m1-7h0m5 4h0m1-4h0m0 5h0m2 1h0m0-2h0m6-2h0m3-1h0m4 3h0m2-4h0m3 3h0m0 0h0m2 5h0m2-6h0m7-2h0m4 7h0m0-6h0m1 7h0m1-2h0m1 0h0m1-2h0m3-3h0m0 6h0m0 0h0m1-5h0m1 3h0m1-2h0m0 0h0m1-3h0m0 9h0m1-5h0m1-3h0m0 0h0m1 5h0m1-2h0m0 3h0m2-6h0m1 7h0m0-3h0m1 0h0m1-5h0m0 8h0m1-1h0m3 2h0m1 0h0m3-7h0m2-1h0m0-1h0m3 4h0m2 1h0m35-4h0m36-1h0m-167 11h0m13 2h0m6 1h0m3 2h0m6-6h0m8 8h0m1 1h0m0-6h0m9 3h0m1-2h0m1 5h0m2-5h0m2 2h0m1-1h0m1 2h0m2-3h0m1 0h0m3 0h0m1-3h0m1 4h0m0-3h0m4 5h0m1-2h0m1-4h0m1 0h0m0 3h0m1-4h0m2 1h0m4 6h0m5-5h0m1 1h0m0 1h0m1 5h0m1-1h0m2-2h0m4-4h0m2 7h0m-104 2h0m21 2h0m7 6h0m1-8h0m5-1h0m5 2h0m2 0h0m0 0h0m1 6h0m4-6h0m2 1h0m3 1h0m2-2h0m0 4h0m1-1h0m7-4h0m1 7h0m1-4h0m6-4h0m3 0h0m1 0h0m1 8h0m0-5h0m0 3h0m1-6h0m2 2h0m1 5h0m1 0h0m3 2h0m1-5h0m0-2h0m5-2h0m3 4h0m0 0h0m3-3h0m1 1h0m1 3h0m2 2h0m1-2h0m4-4h0m19 4h0m2 2h0m7-3h0m21-4h0m34 1h0m31 8h0m-212 1h0m17 4h0m1 0h0m0-3h0m0 5h0m8-6h0m1 2h0m9-2h0m3 5h0m3-4h0m0 4h0m3-3h0m0 5h0m1-3h0m3-1h0m1 5h0m2-5h0m0 2h0m1-1h0m1 2h0m1 1h0m1-5h0m4 0h0m2 2h0m1-2h0m1-1h0m1 7h0m0-2h0m1-6h0m0 2h0m2-2h0m2 8h0m1-8h0m3 8h0m1-7h0m1 1h0m0 3h0m1-3h0m1 1h0m0 1h0m1-2h0m2 0h0m2 6h0m0-8h0m3 9h0m1-3h0m3-6h0m0 3h0m2 0h0m0-3h0m4 7h0m25 0h0m7-2h0m2 4h0m9-5h0m2-3h0m19 5h0m10 3h0m-183 9h0m16-5h0m4-3h0m7 7h0m7 0h0m5 1h0m0-5h0m5 2h0m0-4h0m4 5h0m0-2h0m3 3h0m0-7h0m1 5h0m0-2h0m1 3h0m1-1h0m0-4h0m1 4h0m5-4h0m4 6h0m5 0h0m0-1h0m1 3h0m1-9h0m1 9h0m2-5h0m5-4h0m0 0h0m1 0h0m1 2h0m2 6h0m1-8h0m0 3h0m2 3h0m1-5h0m1 3h0m1-1h0m3 3h0m1 1h0m0 0h0m3-3h0m4 1h0m1-1h0m8-2h0m1 4h0m15-1h0m4-2h0m24 2h0m26 0h0m0 1h0m2-5h0m3 7h0m-184 2h0m11 5h0m4 2h0m9-6h0m6 4h0m0 3h0m3-4h0m1 5h0m3-8h0m2 1h0m9 2h0m5 0h0m1 1h0m1 0h0m0 0h0m1 4h0m2-8h0m1 7h0m0-6h0m4 4h0m2-3h0m0-1h0m3 5h0m0-6h0m3 5h0m0-2h0m4 1h0m2 3h0m1-8h0m2 6h0m4-1h0m0-3h0m0-2h0m2 4h0m1 4h0m1-8h0m1 9h0m1-9h0m1 8h0m1 0h0m1-5h0m1 6h0m0 0h0m0-2h0m0-7h0m1 9h0m1-8h0m5 8h0m5-8h0m6 3h0m6-1h0m26 4h0m11-5h0m9 3h0m32 4h0m-192 9h0m28-4h0m3-4h0m1 4h0m1 1h0m4-5h0m9 6h0m1-6h0m0 7h0m6 0h0m1-1h0m0-2h0m0 2h0m4 0h0m0-1h0m3 3h0m2-4h0m0-4h0m1 7h0m3 0h0m0-2h0m2 3h0m0-7h0m0 8h0m1-9h0m1 7h0m1 1h0m3 1h0m1-2h0m1-2h0m5 0h0m2-2h0m2 1h0m4 4h0m0-5h0m1 6h0m2-1h0m1-3h0m2 2h0m17-5h0m9 0h0m10-1h0m4 3h0m19 3h0m6 1h0m-160 11h0m15-2h0m5-5h0m6 5h0m10-2h0m1 3h0m5-4h0m1 5h0m1-9h0m3 4h0m0-2h0m1 1h0m0-1h0m2 6h0m4 0h0m1-4h0m2-4h0m4 9h0m0 0h0m1-7h0m1 3h0m0-4h0m1 1h0m0 2h0m1 0h0m4 2h0m3-3h0m4 2h0m1-1h0m2-1h0m9 1h0m0-4h0m9 0h0m4 5h0m51 4h0m22-4h0m12-2h0m-189 14h0m0-6h0m11 8h0m3-8h0m15 3h0m10 3h0m0-5h0m8-1h0m0 1h0m4 7h0m0-2h0m1-4h0m3 2h0m2 4h0m2-1h0m0 1h0m1-5h0m1 0h0m0-2h0m3 1h0m7-3h0m2 0h0m2 9h0m2-9h0m2 4h0m0-3h0m1 8h0m0-8h0m0 4h0m2 3h0m2 0h0m0-4h0m1 0h0m1 3h0m2-4h0m0 2h0m1-4h0m2 6h0m2-6h0m3 8h0m6-3h0m5 3h0m15-1h0m8-1h0m11-3h0m10 1h0m22-2h0m7 0h0m27-3h0m1 2h0m-195 11h0m3 6h0m7-4h0m7 2h0m6-2h0m1 4h0m9-2h0m5-4h0m0 4h0m1-3h0m1 5h0m1 0h0m4 0h0m0-3h0m1 2h0m2-2h0m0 1h0m1 1h0m1 1h0m0-6h0m1 1h0m3-3h0m6 8h0m1-1h0m0-4h0m1 0h0m2-1h0m1-1h0m1 7h0m1 0h0m0-3h0m0-1h0m3-3h0m2-1h0m2 3h0m1 3h0m9-2h0m3 2h0m0 2h0m1-4h0m3 3h0m2-1h0m0-3h0m1 0h0m16 4h0m0-5h0m15-1h0m3 6h0m3-6h0m12 2h0m3 5h0m18-8h0m9 5h0m80-2h0m-269 15h0m14-8h0m10 7h0m1-6h0m9 6h0m1-8h0m3 4h0m2-2h0m1 5h0m1-7h0m2 6h0m3-3h0m2 4h0m1 1h0m12-3h0m0-2h0m1-3h0m1 9h0m2-4h0m2 4h0m4-5h0m2 0h0m2-4h0m4 4h0m0-1h0m1 4h0m0-1h0m0-4h0m0 4h0m3 2h0m2-7h0m1-1h0m2 0h0m0 6h0m3-6h0m1 1h0m1-1h0m2 6h0m3 2h0m0-4h0m12 3h0m14 0h0m6-5h0m5 6h0m13-2h0m10-6h0m12 2h0m5 4h0m25-4h0m1 6h0m12 1h0m124-1h0m-342 3h0m13 7h0m21-4h0m3-3h0m4-1h0m9 2h0m1 6h0m1-5h0m4 0h0m2-1h0m8 1h0m0 6h0m9-5h0m0-2h0m2 5h0m0-7h0m1 1h0m2 3h0m2-2h0m1-1h0m2 6h0m0-2h0m3 0h0m0-2h0m1 6h0m2-5h0m2 3h0m0-4h0m2 5h0m0-8h0m3 3h0m4 3h0m2 2h0m2-5h0m1 1h0m0 0h0m16-4h0m5 5h0m12-1h0m15 4h0m2-6h0m15 5h0m13 0h0m1 2h0m1-9h0m1 7h0m8-2h0m3-1h0m1 5h0m5-4h0m12 0h0m31-5h0m-238 17h0m13-2h0m7 0h0m19 1h0m0 0h0m1-4h0m7-2h0m2 0h0m5 2h0m0 3h0m1 2h0m1-3h0m3-4h0m0 2h0m7 0h0m1 3h0m3-1h0m0-4h0m1 9h0m0-4h0m3-3h0m7-1h0m4 1h0m2 3h0m10 1h0m6-3h0m7 3h0m9-3h0m13-2h0m5 5h0m34-5h0m2 5h0m7-5h0m5 8h0m1-9h0m1 5h0m0 4h0m5-7h0m4-1h0m5-1h0m4 3h0m5 5h0m0-4h0m59 1h0m67 4h0m3 0h0m-333 7h0m5 0h0m3 1h0m1-3h0m13 0h0m6 5h0m6-8h0m8 3h0m9-2h0m7 3h0m10-3h0m4 5h0m6 0h0m0-1h0m16-4h0m14 4h0m1 1h0m1 2h0m2-1h0m10 0h0m1 0h0m0-8h0m2 1h0m2 3h0m6-3h0m4 6h0m2 2h0m4-6h0m21 4h0m8 1h0m18-3h0m0 2h0m1-2h0m141 4h0m0-1h0m6-3h0m13 3h0m0 1h0m-371 6h0m20-5h0m3 0h0m18 1h0m3 4h0m1 0h0m1-1h0m7-1h0m3 6h0m4-8h0m2 7h0m27-4h0m5-4h0m8 3h0m9-1h0m14 5h0m4-1h0m3-6h0m1 1h0m2 1h0m8 2h0m8-2h0m2 0h0m10 6h0m19-1h0m12 0h0m1 1h0m13-4h0m10-1h0m127 1h0m8 0h0m1 4h0m0 0h0m0-1h0m0 1h0m1 0h0m1-6h0m2 5h0m0-3h0m1 2h0m0-4h0m11 7h0m-344 1h0m59 6h0m8 0h0m7-5h0m14 8h0m7-7h0m39 7h0m22-6h0m14-1h0m1 3h0m4 0h0m156-1h0m0 5h0m1-2h0m1-4h0m10 1h0m20 0h0m6-3h0m-405 14h0m1 4h0m30-3h0m2-1h0m5 1h0m2-2h0m11-1h0m4 5h0m15-1h0m14-5h0m8 4h0m16-1h0m6-1h0m9-3h0m2 6h0m3-4h0m3-1h0m21 0h0m5-1h0m1 4h0m0 2h0m1-6h0m3-1h0m11 0h0m2 0h0m17 4h0m5 3h0m3-6h0m0-1h0m7 0h0m9 7h0m8-4h0m11 6h0m126-8h0m5 1h0m-274 8h0m5 5h0m1 4h0m7-4h0m2-2h0m10 5h0m9-7h0m4 5h0m2-4h0m5 1h0m13 6h0m5-2h0m5-1h0m12 0h0m1 0h0m10-5h0m4 5h0m8-5h0m1 0h0m11 0h0m19 0h0m54 0h0m-244 10h0m3 4h0m26 3h0m3 1h0m14-7h0m9 7h0m15-2h0m2-2h0m5-4h0m1 0h0m1-1h0m2 5h0m2-5h0m2 9h0m11-4h0m11-4h0m3 1h0m11 0h0m17 7h0m1-2h0m2-5h0m1 5h0m8 0h0m25-5h0m1 1h0m5-3h0m19 8h0m-227 4h0m12 0h0m18 5h0m0-4h0m37 4h0m17-6h0m0 1h0m1-2h0m3 0h0m5 8h0m2-1h0m0-5h0m12 3h0m7 2h0m3 2h0m10-3h0m2 3h0m5-1h0m1-8h0m8 6h0m5 1h0m9-4h0m1-1h0m35-1h0m9-1h0m16 9h0m37-7h0m-227 17h0m11-8h0m5 8h0m37-2h0m6 0h0m0 0h0m6 2h0m1 0h0m2-3h0m1 1h0m2-4h0m2 6h0m0-2h0m4-1h0m2-6h0m2 9h0m0-7h0m2 7h0m8-4h0m0-1h0m1 3h0m2-3h0m0 3h0m3 1h0m2-3h0m1-5h0m4 8h0m4-7h0m4 5h0m3 1h0m4-7h0m9 6h0m13 3h0m1-1h0m5-1h0m16-2h0m18 1h0m52 1h0m-225 6h0m11-2h0m5 7h0m3-2h0m6-4h0m3 7h0m5-5h0m1 2h0m3-2h0m4 0h0m4 0h0m2 4h0m4-2h0m2-1h0m2 0h0m1 3h0m1-1h0m0-7h0m0 4h0m2 5h0m0-5h0m3 1h0m1-2h0m0 4h0m1-7h0m3 9h0m0-5h0m1 2h0m0-2h0m7-4h0m2 5h0m1 3h0m0-3h0m3-3h0m4 1h0m8-2h0m4 1h0m0 1h0m2 3h0m12-3h0m20 1h0m11-4h0m6 5h0m12 2h0m12-6h0m4 3h0m8 3h0m1-6h0m1-1h0m132 3h0m16-1h0m-335 9h0m9 2h0m12 4h0m6 0h0m4-4h0m2-1h0m3 7h0m0-5h0m6-4h0m1 6h0m1-5h0m3 8h0m1-1h0m3 1h0m2-3h0m3-4h0m3 2h0m0 1h0m1-2h0m3-1h0m0 0h0m0 0h0m2-1h0m0 4h0m1 0h0m1-3h0m0 1h0m1 0h0m4 3h0m2 3h0m0-1h0m1-2h0m0 3h0m1-6h0m3 6h0m1-1h0m1-2h0m3 0h0m4 2h0m1-8h0m3 8h0m2-4h0m3-1h0m7-1h0m0 6h0m5-6h0m2 7h0m1-3h0m1-3h0m2 2h0m3-5h0m5 6h0m5 1h0m32-6h0m14 6h0m14-7h0m-156 14h0m1 3h0m4-2h0m1 3h0m0-1h0m3 1h0m1-7h0m3 0h0m1 8h0m1-9h0m2 5h0m1-2h0m0 2h0m1-4h0m1 7h0m2-3h0m3-1h0m1 1h0m1 1h0m1-4h0m1 0h0m1 3h0m1 2h0m1 1h0m3 0h0m2-6h0m2 5h0m1 1h0m1-7h0m1 5h0m3-3h0m1-3h0m0 7h0m3-5h0m1 0h0m0 7h0m2 0h0m0-3h0m1-5h0m0 7h0m1-5h0m2-2h0m4 1h0m1 6h0m1 1h0m2-3h0m2-6h0m3 8h0m1 1h0m1 0h0m2-8h0m0 4h0m8-4h0m-75 11h0m1-1h0m1 8h0m4-3h0m0 3h0m2-9h0m3 0h0m1 6h0m0 0h0m2-2h0m0 4h0m1-1h0m0-7h0m3 8h0m0-1h0m0-6h0m0 2h0m1-1h0m0 2h0m1 1h0m3 0h0m0 1h0m1 3h0m2-7h0m1 1h0m1 5h0m1-4h0m0 3h0m2-4h0m1-2h0m0 3h0m0-1h0m0 4h0m2-6h0m1-1h0m1 4h0m2 2h0m1 1h0m0 0h0m0-2h0m1-4h0m0 3h0m4 5h0m2-1h0m1-5h0m4 3h0m1-5h0m0 5h0m1-1h0m0-1h0m1 4h0m3-5h0m0 2h0m2-4h0m2 0h0m2 3h0m1 1h0m0-2h0m4 4h0m1-1h0m1 3h0m0-8h0m15 8h0m5-7h0m21 1h0m31 2h0m-158 6h0m1 7h0m2-7h0m0 2h0m2-1h0m2 4h0m3 0h0m9 0h0m4 1h0m0 2h0m0-9h0m0 5h0m0-2h0m1-1h0m0 1h0m1-2h0m0 7h0m1-7h0m1 7h0m1-7h0m2 8h0m0-4h0m1-2h0m1 1h0m0-4h0m1 7h0m2-1h0m1 0h0m3 0h0m0-1h0m1-5h0m0 9h0m0-3h0m1 2h0m0 0h0m1-1h0m1-6h0m0 1h0m3 2h0m0 5h0m0-2h0m2 1h0m0-4h0m1 3h0m0-5h0m3 2h0m0-2h0m0 1h0m1 6h0m0 0h0m5-7h0m3-2h0m2 6h0m1-4h0m1 4h0m1-6h0m3 0h0m0 3h0m2 0h0m1 5h0m3 1h0m1-1h0m2-2h0m1-3h0m1 1h0m3-4h0m4 3h0m6-2h0m6 4h0m3 2h0m34-3h0m29-1h0m-218 16h0m23-8h0m26 5h0m4 0h0m9-2h0m2-3h0m1 1h0m0 7h0m8-9h0m0 0h0m2 0h0m2 2h0m1-1h0m1 6h0m3-3h0m2-4h0m1 2h0m0 5h0m1-7h0m1 4h0m2-1h0m0 0h0m1 2h0m3-2h0m0-3h0m1 3h0m0-1h0m1 1h0m0 6h0m1-7h0m0 4h0m1-6h0m1 5h0m1-4h0m2 5h0m2-5h0m1 6h0m1-6h0m1 7h0m0-3h0m0-2h0m1-3h0m2 6h0m1 2h0m1-3h0m1-5h0m1 5h0m1-4h0m1 4h0m0 3h0m0-5h0m2-1h0m3 3h0m1 0h0m2-4h0m1 3h0m0-2h0m2 4h0m0 3h0m6-7h0m2 3h0m1 1h0m0 3h0m0 0h0m1-5h0m1 3h0m2 1h0m4 1h0m1 0h0m1-5h0m6-2h0m0 0h0m0 6h0m5-4h0m8 4h0m2-2h0m1 1h0m4-1h0m-117 13h0m6-9h0m5 2h0m5 1h0m0 5h0m0 0h0m3-6h0m1 3h0m5 4h0m1-9h0m0 7h0m1-5h0m2 5h0m0-7h0m0 9h0m1-7h0m1-1h0m1 7h0m1-5h0m2-3h0m0 0h0m0 2h0m0-2h0m2 1h0m1 4h0m1 2h0m0-1h0m0 2h0m4-8h0m2 2h0m0 2h0m0 4h0m2-1h0m2-4h0m0 6h0m1-9h0m0 4h0m0 4h0m1-8h0m0 7h0m1-4h0m1-3h0m0 6h0m1 1h0m0-6h0m1 8h0m1-8h0m1 2h0m0 4h0m0-3h0m0 1h0m0 2h0m1 0h0m0-4h0m0-3h0m5 5h0m0-3h0m3 0h0m2 5h0m1 0h0m2-5h0m0 0h0m1 1h0m0 2h0m0 4h0m0 0h0m1-5h0m1 0h0m4 1h0m1-3h0m0 0h0m2 2h0m2 2h0m1-1h0m0-4h0m2 1h0m0 0h0m1 7h0m1-6h0m0 6h0m4-7h0m0 6h0m2-3h0m1 1h0m1 0h0m2 3h0m1-4h0m7-3h0m10 0h0m8 3h0m5 1h0m0-3h0m35-3h0m5 5h0m5 1h0m-176 5h0m4 7h0m8-4h0m2-4h0m1 8h0m1-6h0m2 2h0m4-2h0m2 0h0m0 3h0m1-1h0m1 3h0m1 0h0m0-3h0m2 4h0m1-7h0m0-1h0m1 8h0m1-3h0m1 3h0m0-6h0m1 3h0m3-2h0m2 4h0m0-1h0m0-6h0m1 5h0m0 0h0m5 1h0m4 1h0m1-7h0m0 6h0m0-5h0m5 4h0m5-1h0m1 1h0m1 2h0m1-2h0m3 4h0m0-8h0m4 6h0m1-2h0m1 3h0m2 0h0m0 1h0m0-1h0m0-4h0m0-1h0m1 4h0m1 1h0m0-6h0m1 3h0m2-1h0m0 2h0m1-1h0m2 0h0m0 4h0m0-2h0m1 1h0m3-6h0m3-2h0m5 6h0m3-2h0m3 2h0m2-3h0m2 5h0m4-3h0m4 3h0m33-3h0m16 4h0m-163 2h0m12 3h0m4-4h0m1 2h0m6 3h0m1-4h0m2 5h0m2 3h0m0-9h0m4 8h0m2-1h0m0-3h0m0-2h0m7 2h0m1-4h0m2 7h0m3-1h0m2 0h0m1-6h0m1 2h0m0 1h0m2 4h0m3-4h0m1 4h0m1-6h0m1 1h0m1 5h0m1-7h0m2 5h0m1-2h0m0 0h0m3-3h0m1 3h0m0 0h0m1-3h0m2 3h0m2 6h0m0-6h0m0-2h0m2-1h0m1 3h0m1 0h0m1 1h0m0-1h0m0-2h0m0 2h0m1-3h0m2 1h0m4 1h0m1 2h0m0 3h0m3-1h0m0 2h0m1-7h0m1 3h0m2-1h0m0 3h0m1 0h0m1-2h0m1 3h0m0 0h0m0-6h0m1 3h0m1 2h0m0-3h0m0 4h0m2-3h0m1 5h0m0-1h0m10 1h0m18-1h0m5-7h0m-138 12h0m1 1h0m3-1h0m1-1h0m1 4h0m17-2h0m0 5h0m15-5h0m3 0h0m3 2h0m0 0h0m3-1h0m5-5h0m4 8h0m0-3h0m4 1h0m3-1h0m9 2h0m5-6h0m1 1h0m3 2h0m1-3h0m1 3h0m0-3h0m1 8h0m1-8h0m0 3h0m1-4h0m2 6h0m5-6h0m0 2h0m2-1h0m6 0h0m2 3h0m1 4h0m1-7h0m2 4h0m5 4h0m3-4h0m11-1h0m9-4h0m14 3h0m4-1h0m-177 12h0m25-1h0m10 5h0m8-2h0m2 0h0m2-4h0m4 3h0m0-5h0m17 8h0m0-3h0m0-5h0m1 9h0m4-7h0m2 2h0m2-1h0m1 5h0m10 0h0m2-8h0m2 8h0m11 0h0m0 0h0m5-8h0m1 4h0m3 2h0m2 1h0m1-2h0m0 4h0m1-5h0m7-3h0m4 5h0m0 0h0m2-2h0m0 5h0m1-9h0m0 0h0m2 3h0m3 1h0m0 0h0m-141 15h0m49-1h0m7 0h0m15 1h0m5-5h0m3-1h0m2 0h0m3-2h0m1 8h0m4-3h0m0 0h0m3-3h0m0 5h0m1-7h0m2 5h0m8-3h0m2 3h0m5 0h0m8-6h0m7 5h0m8-1h0m82 1h0m-147 9h0m0-3h0m6 2h0m14 0h0m18-1h0m17-2h0m4 0h0m5 5h0m6-4h0m2 7h0m15-7h0m-79 9h0m19 0h0m9 3h0m27-3h0" stroke="#dc2f2f" stroke-width="3.5" stroke-linecap="round"/>
<path d="M1702 1286h0m3 0h0m8-1h0m3-1h0m2 1h0m13 2h0m1-6h0m4 6h0m36 0h0m-65 8h0m1 0h0m3 3h0m2-2h0m3-4h0m1 1h0m3-3h0m2 0h0m6 6h0m1 1h0m0 1h0m18-3h0m1 4h0m10-9h0m-59 10h0m11 5h0m2 4h0m0 0h0m0-8h0m0 7h0m2-3h0m2-5h0m0 5h0m1-5h0m3 5h0m1 0h0m0 4h0m2-8h0m1 5h0m1 0h0m0-1h0m2-5h0m1 0h0m3 1h0m0 0h0m2 1h0m6 4h0m1 0h0m0 1h0m13 0h0m1-3h0m9 2h0m4 3h0m3-4h0m6 3h0m2-4h0m6 5h0m-85 8h0m2-7h0m3 9h0m2-5h0m1 0h0m3-2h0m0 6h0m2-6h0m1-1h0m1 0h0m2-1h0m3 0h0m0 6h0m1 2h0m0-1h0m2-2h0m5 3h0m1-1h0m2-3h0m9 0h0m1 3h0m1 2h0m2-8h0m1 2h0m5-3h0m0 9h0m8-2h0m1-4h0m1 5h0m4-1h0m2-7h0m0 2h0m4 3h0m10-1h0m-70 8h0m3 5h0m2 1h0m1-3h0m1-1h0m3 5h0m1-4h0m1 4h0m2-3h0m0-2h0m1-3h0m1 1h0m3 2h0m0 2h0m1 1h0m3-2h0m1 0h0m1-5h0m1 5h0m9-1h0m5-4h0m0 4h0m2 5h0m6-2h0m2-7h0m0 5h0m5 1h0m1-6h0m1 7h0m15-4h0m4 6h0m-94 4h0m16 4h0m3-5h0m0 1h0m1 1h0m1-3h0m3 8h0m0-5h0m2 3h0m2 1h0m1 0h0m1-5h0m2 2h0m3-1h0m0-3h0m1 6h0m0 2h0m2-9h0m1 2h0m0 4h0m2-2h0m0 3h0m1 2h0m1-2h0m2-2h0m0 3h0m8 1h0m8-2h0m1-2h0m5 2h0m2-1h0m2-4h0m0 1h0m5 6h0m1-4h0m1-5h0m-64 18h0m1-3h0m1-2h0m2-3h0m0 8h0m1 0h0m1-6h0m0 7h0m0-7h0m4 5h0m1-3h0m0-3h0m0 0h0m1 2h0m0 3h0m0-6h0m0 7h0m1 2h0m1-1h0m0-5h0m3 6h0m2-2h0m6-2h0m1 4h0m3-9h0m7 5h0m5-3h0m0 7h0m3-1h0m0-4h0m2 1h0m3 3h0m1 0h0m2 0h0m2-2h0m2-2h0m7 5h0m2-6h0m3 1h0m8 2h0m-76 13h0m7-4h0m1 0h0m8-5h0m2 2h0m3-2h0m11 1h0m2 3h0m2-2h0m3 4h0m6-5h0m0 1h0m1 4h0m2 0h0m4-3h0m3-1h0m1 1h0m3 4h0m5 1h0m1-7h0m2 0h0m3 8h0m0-6h0m-68 11h0m3 3h0m4-7h0m9 0h0m0 7h0m0 0h0m1-6h0m1 2h0m4-2h0m0 4h0m1 2h0m4-1h0m1-4h0m3 5h0m0-2h0m0 0h0m7 4h0m1-5h0m4-1h0m4-1h0m2 6h0m0-7h0m0-1h0m5 3h0m1 1h0m1 1h0m2-2h0m0 3h0m3 1h0m5-4h0m2 1h0m1-2h0m4-1h0m6 8h0m-84 9h0m1-2h0m8 1h0m0-5h0m1-2h0m16 1h0m2 3h0m1-4h0m1 1h0m6 5h0m3 0h0m0 2h0m1-1h0m4-1h0m4-6h0m1 0h0m0 6h0m2 0h0m0-3h0m5 3h0m3-1h0m2-4h0m4 4h0m2-3h0m2-2h0m10 7h0m-68 5h0m0 0h0m8 2h0m4-3h0m7 0h0m1-1h0m1 3h0m1 2h0m4-5h0m2 8h0m1-5h0m0-1h0m1 7h0m1-7h0m1 6h0m6-1h0m0 2h0m0-3h0m3 0h0m0 3h0m1 0h0m1-9h0m4 6h0m1 3h0m1-7h0m1 4h0m3-4h0m1 5h0m2-4h0m0 6h0m1-6h0m22 3h0m-81 6h0m5 7h0m12-4h0m0-5h0m2 1h0m2 2h0m11 4h0m2-7h0m1 1h0m2 2h0m3-1h0m2 6h0m0-7h0m1 1h0m3 3h0m2-2h0m5 4h0m1 1h0m4-7h0m1 4h0m1 1h0m1 0h0m6-5h0m1 0h0m-69 10h0m23 0h0m3 3h0m1 3h0m1-3h0m1-2h0m4 7h0m10-4h0m1 4h0m1-8h0m2 2h0m3 2h0m4-5h0m1 3h0m3 6h0m9-4h0m1-1h0m7-2h0m-66 10h0m3 0h0m11-2h0m9 5h0m0 0h0m1-2h0m5-3h0m2 2h0m8-1h0m5 7h0m12 0h0m-69 3h0m12 3h0m2-3h0m3 3h0m21-3h0m8 0h0m0-1h0m8 7h0m8 2h0m0-2h0m12 2h0m3-7h0m-109 16h0m8-5h0m5 3h0m1-1h0m5-2h0m6-3h0m3 7h0m10-7h0m8 9h0m3-9h0m12 1h0m8 6h0m4-3h0m5-2h0m3 7h0m0-6h0m1-2h0m3 3h0m11 5h0m3-1h0m5-2h0m-114 8h0m3-4h0m2 4h0m4-4h0m3 1h0m0 5h0m5 3h0m3-7h0m2 0h0m4 4h0m3 1h0m2 1h0m2-3h0m13-1h0m1 5h0m1-2h0m13-2h0m1-3h0m7 2h0m4 0h0m1 3h0m4-2h0m2 3h0m3-8h0m9 4h0m1 0h0m2 1h0m1-4h0m0 4h0m9-3h0m7 7h0m7-4h0m-110 8h0m0 5h0m2-1h0m1-7h0m4 5h0m1 1h0m0 2h0m4-6h0m2 5h0m0-7h0m6 3h0m4 2h0m9-4h0m1 4h0m10 0h0m3 3h0m0 1h0m1-5h0m1 3h0m2 2h0m4 0h0m1-9h0m0 8h0m3-2h0m3-6h0m0 8h0m5-1h0m1-7h0m0 9h0m2-3h0m0-5h0m1-1h0m2 3h0m9 0h0m3 4h0m2-7h0m1 9h0m1-9h0m0 4h0m0 2h0m13-5h0m13 7h0m-120 8h0m12-4h0m6-1h0m2-1h0m5 6h0m0-2h0m3 0h0m7 4h0m1-7h0m2-1h0m4 0h0m8 5h0m2-2h0m8 0h0m3 5h0m2-8h0m2 0h0m0 7h0m4-6h0m1 8h0m0-7h0m3 3h0m4-3h0m1 0h0m3 3h0m0 0h0m3-4h0m3 3h0m2 3h0m2-3h0m0-3h0m1 1h0m1-1h0m2 8h0m3-1h0m7 1h0m1-4h0m4 3h0m-117 4h0m2 1h0m11-1h0m1 7h0m6-2h0m5-6h0m0 4h0m2-4h0m2 1h0m1 6h0m3-2h0m3-2h0m13 1h0m1 1h0m1-1h0m3-5h0m2 8h0m4 0h0m6-6h0m4 5h0m2-7h0m1 6h0m2 2h0m0 1h0m2-1h0m3 1h0m1-2h0m7 2h0m1-8h0m1 5h0m1 1h0m0-1h0m4-5h0m4 4h0m2 0h0m10-1h0m0 3h0m5-7h0m2 5h0m1 0h0m2-2h0m-121 9h0m10 5h0m4-7h0m4 1h0m1 5h0m1-5h0m4 4h0m3-4h0m6 2h0m5 6h0m3-8h0m4-1h0m1 6h0m5 1h0m7-2h0m0-4h0m6 8h0m2 0h0m0-4h0m4-2h0m2 3h0m0 1h0m3-1h0m0 2h0m1-2h0m0-6h0m0 4h0m3 5h0m3-9h0m0 2h0m3-1h0m2 8h0m0-1h0m1 1h0m1 0h0m4-8h0m3 8h0m2-7h0m2 6h0m2-3h0m2 0h0m3-4h0m4 8h0m0-8h0m1 6h0m19-4h0m2 0h0m-142 11h0m5 4h0m3-1h0m17-5h0m0 5h0m19-3h0m6-1h0m1 2h0m5-5h0m2 1h0m6 5h0m3 3h0m1-1h0m5-7h0m4 0h0m1 8h0m1-8h0m1 8h0m3-1h0m1-2h0m1-5h0m1 0h0m2 0h0m1 7h0m2-8h0m1 1h0m0 0h0m1 2h0m2 2h0m4 3h0m1-4h0m0-2h0m2 6h0m1-2h0m2-3h0m0 2h0m1 1h0m1-3h0m1 5h0m2-8h0m0 1h0m3 2h0m0 1h0m12 2h0m6 2h0m2-3h0m-111 6h0m5-1h0m3 7h0m6-6h0m13 7h0m21-3h0m0 0h0m3-1h0m0-1h0m2-3h0m5 3h0m3-1h0m0-2h0m1 5h0m0-2h0m0 2h0m4 2h0m0 2h0m0 0h0m2-2h0m1-7h0m0 6h0m2 0h0m1-6h0m4 5h0m3-4h0m2 0h0m2 0h0m2 1h0m1 0h0m1 7h0m5-8h0m0 5h0m7-6h0m1 6h0m2-4h0m12-2h0m-116 18h0m5 1h0m18-8h0m13 2h0m11 6h0m4-3h0m3-4h0m1 6h0m8-8h0m3 2h0m1 4h0m0-2h0m2-3h0m26 2h0m9 1h0m1 1h0m7-4h0m-96 10h0m43 2h0m2 0h0m1 2h0m5 2h0m2-2h0m7 2h0m7-7h0m1 1h0m1 5h0m-44 6h0m12 5h0m1-1h0m11 0h0m3 3h0m7-5h0m2 2h0m19-1h0m5 1h0m-27 11h0m-19 6h0m9 1h0m16-3h0m0 0h0m-22 17h0m20-6h0m4-2h0m19 1h0m-26 19h0m1 4h0m-21 13h0m7-7h0m18 3h0m11-2h0m-34 11h0m32 3h0m-33 8h0" stroke="#ee8a2e" stroke-width="3.5" stroke-linecap="round"/>
<path d="M1905 1426h0m25-1h0m35-2h0m-6 14h0m27-1h0m-110 13h0m75 10h0m5-6h0m3 3h0m6 1h0m26-6h0m9 0h0m-105 14h0m32 3h0m7-4h0m11 3h0m2 2h0m0-5h0m2 2h0m1-5h0m3 6h0m1-2h0m1-3h0m6 5h0m3 0h0m-27 5h0m1-1h0m5 8h0m1-8h0m0 2h0m1-3h0m1 3h0m0 5h0m1-3h0m0 2h0m1-5h0m0-1h0m1 8h0m0-7h0m1 2h0m0 3h0m0-2h0m0 3h0m1 0h0m0-2h0m0 2h0m1 1h0m0-1h0m0-1h0m0 1h0m0 1h0m0-1h0m0-3h0m0 3h0m0 0h0m0-2h0m0 2h0m0 0h0m1-2h0m0 2h0m2 1h0m1-3h0m1 0h0m2-2h0m1 1h0m2 3h0m2-5h0m-75 11h0m43-4h0m4 5h0m7-3h0m1-1h0m1 1h0m1 5h0m2-7h0m1 0h0m1 4h0m0-2h0m1 4h0m0-4h0m0 1h0m1-3h0m0 0h0m0 5h0m2-1h0m0-1h0m0 0h0m0 0h0m0 6h0m1-9h0m0 4h0m2 3h0m0-5h0m1 5h0m0-3h0m0-2h0m1 1h0m0 1h0m0-2h0m3 1h0m0-1h0m2-1h0m2 6h0m0-1h0m15 2h0m-44 6h0m0 3h0m3-4h0m5 3h0m6-1h0m10-5h0m5 9h0m-10 3h0m-97 16h0m-7 7h0m12-3h0m107 15h0m-51 23h0" stroke="#3fad48" stroke-width="3.5" stroke-linecap="round"/>
</g>
<text x="10" y="41.7" font-size="50" font-weight="bold" fill="#1a1a1a">a</text>
<text x="1073" y="42" font-size="50" font-weight="bold" fill="#1a1a1a">b</text>
<text x="10" y="981.6" font-size="50" font-weight="bold" fill="#1a1a1a">c</text>
<text x="1512" y="900" font-size="50" font-weight="bold" fill="#1a1a1a">d</text>
<text x="9" y="1604" font-size="50" font-weight="bold" fill="#1a1a1a">e</text>
<text x="666" y="1604" font-size="50" font-weight="bold" fill="#1a1a1a">f</text>
<text x="1380" y="1758" font-size="50" font-weight="bold" fill="#1a1a1a">g</text>
<text x="197.5" y="478.3" font-size="22" text-anchor="start" fill="#1a1a1a">Day</text>
<circle cx="203.5" cy="508.4" r="5.8" fill="#6a4c98"/>
<text x="218.5" y="514" font-size="22" text-anchor="start" fill="#1a1a1a">5</text>
<circle cx="203.5" cy="539" r="5.8" fill="#4a6cae"/>
<text x="218.5" y="544.6" font-size="22" text-anchor="start" fill="#1a1a1a">11</text>
<circle cx="203.5" cy="569.7" r="5.8" fill="#468cc8"/>
<text x="218.5" y="575.3" font-size="22" text-anchor="start" fill="#1a1a1a">14</text>
<circle cx="203.5" cy="600.3" r="5.8" fill="#62b07e"/>
<text x="218.5" y="605.9" font-size="22" text-anchor="start" fill="#1a1a1a">20</text>
<circle cx="203.5" cy="631" r="5.8" fill="#92d548"/>
<text x="218.5" y="636.6" font-size="22" text-anchor="start" fill="#1a1a1a">30</text>
<circle cx="203.5" cy="661.6" r="5.8" fill="#e8c845"/>
<text x="218.5" y="667.2" font-size="22" text-anchor="start" fill="#1a1a1a">60</text>
<circle cx="203.5" cy="692.2" r="5.8" fill="#e8894c"/>
<text x="218.5" y="697.8" font-size="22" text-anchor="start" fill="#1a1a1a">90</text>
<circle cx="203.5" cy="722.9" r="5.8" fill="#e8545f"/>
<text x="218.5" y="728.5" font-size="22" text-anchor="start" fill="#1a1a1a">120</text>
<text x="1884" y="860.5" font-size="21.8" text-anchor="middle" fill="#1a1a1a">Day</text>
<circle cx="2034.8" cy="1054.8" r="4.3" fill="#6a4c98"/>
<text x="2049" y="1062.4" font-size="22.3" text-anchor="start" fill="#1a1a1a">005</text>
<circle cx="2034.8" cy="1076.5" r="4.3" fill="#4a6cae"/>
<text x="2049" y="1084.1" font-size="22.3" text-anchor="start" fill="#1a1a1a">011</text>
<circle cx="2034.8" cy="1098.3" r="4.3" fill="#468cc8"/>
<text x="2049" y="1105.9" font-size="22.3" text-anchor="start" fill="#1a1a1a">014</text>
<circle cx="2034.8" cy="1120" r="4.3" fill="#62b07e"/>
<text x="2049" y="1127.6" font-size="22.3" text-anchor="start" fill="#1a1a1a">020</text>
<circle cx="2034.8" cy="1141.8" r="4.3" fill="#92d548"/>
<text x="2049" y="1149.4" font-size="22.3" text-anchor="start" fill="#1a1a1a">030</text>
<circle cx="2034.8" cy="1163.5" r="4.3" fill="#e8c845"/>
<text x="2049" y="1171.1" font-size="22.3" text-anchor="start" fill="#1a1a1a">060</text>
<circle cx="2034.8" cy="1185.2" r="4.3" fill="#e8894c"/>
<text x="2049" y="1192.8" font-size="22.3" text-anchor="start" fill="#1a1a1a">090</text>
<circle cx="2034.8" cy="1207" r="4.3" fill="#e8545f"/>
<text x="2049" y="1214.6" font-size="22.3" text-anchor="start" fill="#1a1a1a">120</text>
<text x="1895" y="1277.8" font-size="22" text-anchor="middle" fill="#1a1a1a">Snapseed level 1</text>
<circle cx="1894" cy="1595" r="4.3" fill="#3f86c4"/>
<text x="1908" y="1602.6" font-size="22.5" text-anchor="start" fill="#1a1a1a">Astrocyte</text>
<circle cx="1894" cy="1616.9" r="4.3" fill="#ee8a2e"/>
<text x="1908" y="1624.5" font-size="22.5" text-anchor="start" fill="#1a1a1a">Mesenchymal cell</text>
<circle cx="1894" cy="1638.9" r="4.3" fill="#3fad48"/>
<text x="1908" y="1646.5" font-size="22.5" text-anchor="start" fill="#1a1a1a">Neural crest</text>
<circle cx="1894" cy="1660.8" r="4.3" fill="#dc2f2f"/>
<text x="1908" y="1668.4" font-size="22.5" text-anchor="start" fill="#1a1a1a">Neural progenitor cell</text>
<circle cx="1894" cy="1682.8" r="4.3" fill="#9a66c2"/>
<text x="1908" y="1690.4" font-size="22.5" text-anchor="start" fill="#1a1a1a">Neuron</text>
<circle cx="1894" cy="1704.7" r="4.3" fill="#8e564c"/>
<text x="1908" y="1712.3" font-size="22.5" text-anchor="start" fill="#1a1a1a">Oligodendrocyte lineage</text>
<text x="309" y="1588.5" font-size="25" text-anchor="middle" fill="#1a1a1a">Day</text>
<circle cx="612.2" cy="2012.6" r="5.8" fill="#6a4c98"/>
<text x="626.5" y="2019" font-size="22" text-anchor="start" fill="#1a1a1a">5</text>
<circle cx="612.2" cy="2043.3" r="5.8" fill="#4a6cae"/>
<text x="626.5" y="2049.7" font-size="22" text-anchor="start" fill="#1a1a1a">11</text>
<circle cx="612.2" cy="2074" r="5.8" fill="#468cc8"/>
<text x="626.5" y="2080.4" font-size="22" text-anchor="start" fill="#1a1a1a">14</text>
<circle cx="612.2" cy="2104.7" r="5.8" fill="#62b07e"/>
<text x="626.5" y="2111.1" font-size="22" text-anchor="start" fill="#1a1a1a">20</text>
<circle cx="612.2" cy="2135.4" r="5.8" fill="#92d548"/>
<text x="626.5" y="2141.8" font-size="22" text-anchor="start" fill="#1a1a1a">30</text>
<circle cx="612.2" cy="2166.1" r="5.8" fill="#e8c845"/>
<text x="626.5" y="2172.5" font-size="22" text-anchor="start" fill="#1a1a1a">60</text>
<circle cx="612.2" cy="2196.8" r="5.8" fill="#e8894c"/>
<text x="626.5" y="2203.2" font-size="22" text-anchor="start" fill="#1a1a1a">90</text>
<circle cx="612.2" cy="2227.5" r="5.8" fill="#e8545f"/>
<text x="626.5" y="2233.9" font-size="22" text-anchor="start" fill="#1a1a1a">120</text>
<text x="983.4" y="1586.8" font-size="25.5" text-anchor="middle" fill="#1a1a1a">Binned ages</text>
<circle cx="1208.7" cy="2159.6" r="5.7" fill="#4a80ae"/>
<text x="1223.5" y="2166" font-size="22" text-anchor="start" fill="#1a1a1a">early</text>
<circle cx="1208.7" cy="2187" r="5.7" fill="#bcd43a"/>
<text x="1223.5" y="2193.4" font-size="22" text-anchor="start" fill="#1a1a1a">mid</text>
<circle cx="1208.7" cy="2214.4" r="5.7" fill="#e8694f"/>
<text x="1223.5" y="2220.8" font-size="22" text-anchor="start" fill="#1a1a1a">late</text>
</svg>
</body></html>
